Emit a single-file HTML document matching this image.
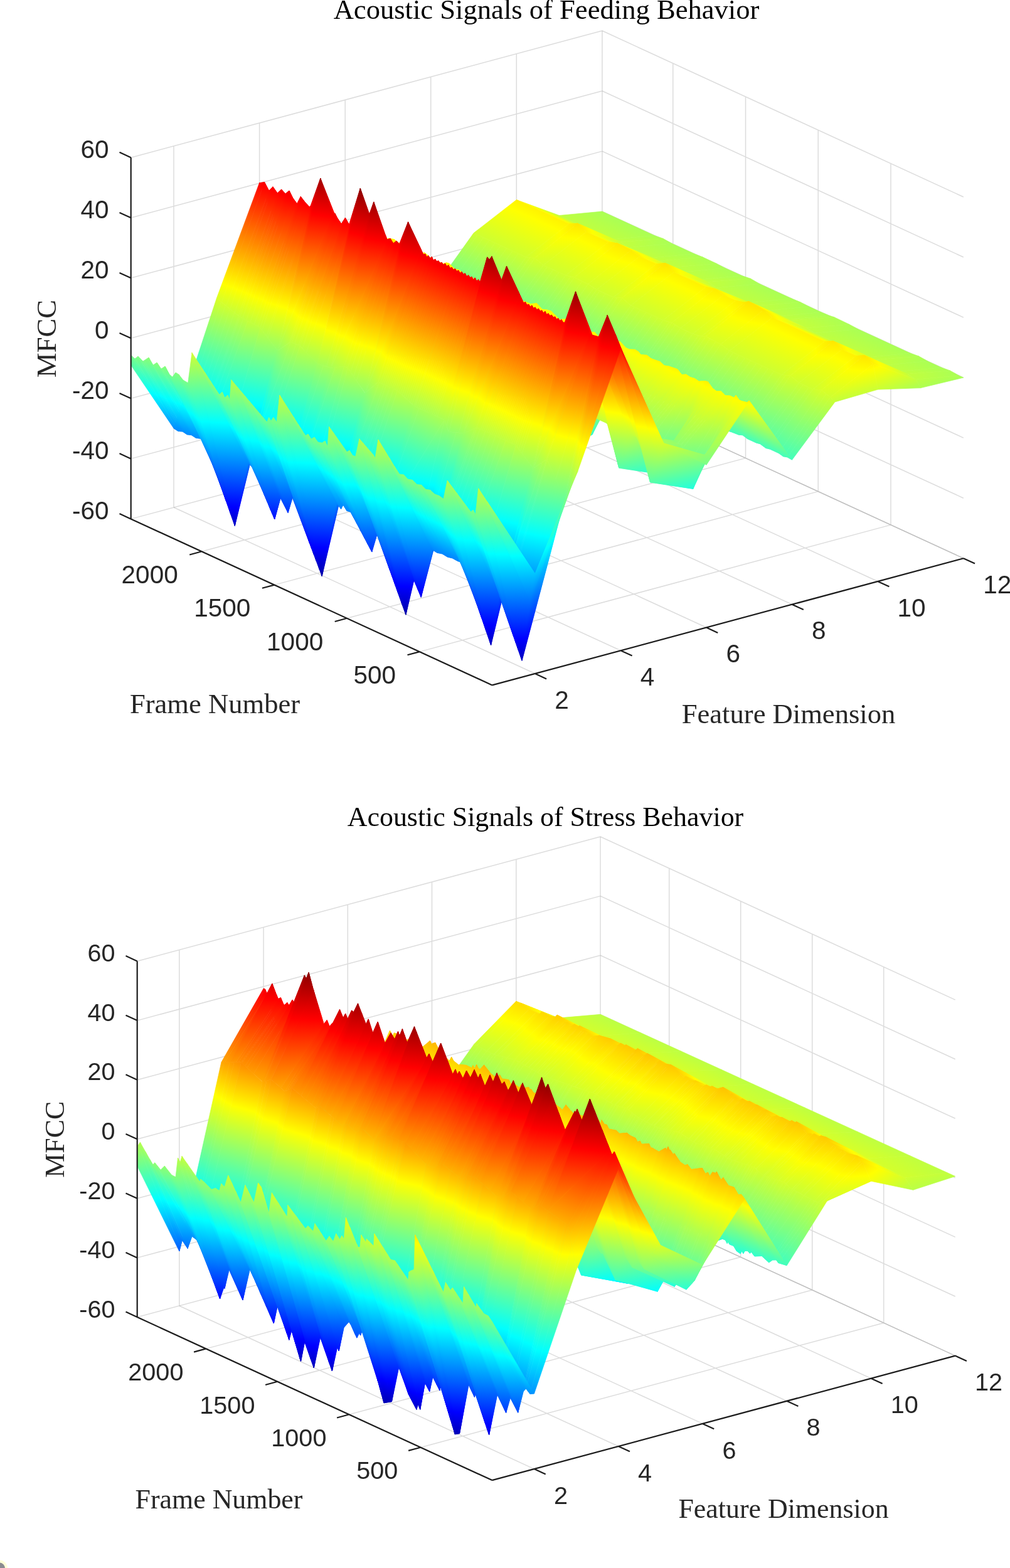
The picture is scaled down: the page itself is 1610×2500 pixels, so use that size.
<!DOCTYPE html>
<html lang="en"><head><meta charset="utf-8"><title>Acoustic Signals - MFCC surfaces</title>
<style>html,body{margin:0;padding:0;background:#fff}body{width:1610px;height:2500px;overflow:hidden}svg{display:block}</style></head><body>
<svg width="1610" height="2500" viewBox="0 0 1610 2500">
<rect width="1610" height="2500" fill="#fff"/>
<path d="M852.9,1074L277,809M989.5,1037.3L413.6,772.3M1126.1,1000.5L550.2,735.5M1262.6,963.7L686.7,698.7M1399.2,927L823.3,662M1535.8,890.2L959.9,625.2M668.8,1039.1L1420,836.9M553,985.8L1304.2,783.6M437.3,932.6L1188.5,730.4M321.5,879.3L1072.7,677.1" stroke="#262626" stroke-opacity="0.16" stroke-width="1.5" fill="none"/>
<path d="M277,809L277,232.8M413.6,772.3L413.6,196.1M550.2,735.5L550.2,159.3M686.7,698.7L686.7,122.5M823.3,662L823.3,85.8M959.9,625.2L959.9,49M208.7,827.4L959.9,625.2M208.7,731.4L959.9,529.2M208.7,635.3L959.9,433.1M208.7,539.3L959.9,337.1M208.7,443.3L959.9,241.1M208.7,347.2L959.9,145M208.7,251.2L959.9,49" stroke="#262626" stroke-opacity="0.16" stroke-width="1.5" fill="none"/>
<path d="M959.9,625.2L1535.8,890.2M959.9,529.2L1535.8,794.2M959.9,433.1L1535.8,698.1M959.9,337.1L1535.8,602.1M959.9,241.1L1535.8,506.1M959.9,145L1535.8,410M959.9,49L1535.8,314M1420,836.9L1420,260.7M1304.2,783.6L1304.2,207.4M1188.5,730.4L1188.5,154.2M1072.7,677.1L1072.7,100.9" stroke="#262626" stroke-opacity="0.16" stroke-width="1.5" fill="none"/>
<defs><linearGradient id="jet" gradientUnits="userSpaceOnUse"><stop offset="0%" stop-color="#000080"/><stop offset="12.5%" stop-color="#0000ff"/><stop offset="37.5%" stop-color="#00ffff"/><stop offset="62.5%" stop-color="#ffff00"/><stop offset="87.5%" stop-color="#ff0000"/><stop offset="100%" stop-color="#800000"/></linearGradient></defs><defs><linearGradient id="a0" href="#jet" x1="1347.8" y1="-467.2" x2="658.8" y2="1030.2"/><linearGradient id="a1" href="#jet" x1="1076.5" y1="-22.8" x2="967.3" y2="706.2"/><linearGradient id="a2" href="#jet" x1="2631.5" y1="-175.1" x2="-260.7" y2="840.5"/><linearGradient id="a3" href="#jet" x1="1435" y1="-427.1" x2="746" y2="1070.3"/><linearGradient id="a4" href="#jet" x1="1193.5" y1="-109.8" x2="987" y2="830.5"/><linearGradient id="a5" href="#jet" x1="1523.5" y1="-407" x2="753.9" y2="1082.2"/><linearGradient id="a6" href="#jet" x1="2012.1" y1="-545.1" x2="389.5" y2="1212.8"/><linearGradient id="a7" href="#jet" x1="1515.6" y1="-390" x2="826.6" y2="1107.4"/><linearGradient id="a8" href="#jet" x1="1201.3" y1="82.3" x2="1118.5" y2="736.8"/><linearGradient id="a9" href="#jet" x1="2879.4" y1="149.8" x2="-207.3" y2="694"/><linearGradient id="aa" href="#jet" x1="1582.4" y1="-359.3" x2="893.4" y2="1138.1"/><linearGradient id="ab" href="#jet" x1="1384.7" y1="-98.5" x2="1113.3" y2="951.3"/><linearGradient id="ac" href="#jet" x1="2145.7" y1="-483.6" x2="523.2" y2="1274.3"/><linearGradient id="ad" href="#jet" x1="1645.6" y1="-330.2" x2="956.6" y2="1167.2"/><linearGradient id="ae" href="#jet" x1="1431.9" y1="-76.7" x2="1160.6" y2="973"/><linearGradient id="af" href="#jet" x1="1327.3" y1="185.8" x2="1264.3" y2="765.4"/><linearGradient id="ag" href="#jet" x1="1800.4" y1="-323.7" x2="913.2" y2="1185.1"/><linearGradient id="ah" href="#jet" x1="2673.3" y1="-301.7" x2="239.8" y2="1190.3"/><linearGradient id="ai" href="#jet" x1="1755.5" y1="-279.6" x2="1066.5" y2="1217.8"/><linearGradient id="aj" href="#jet" x1="1484.1" y1="164.8" x2="1374.9" y2="893.7"/><linearGradient id="ak" href="#jet" x1="3039.1" y1="12.4" x2="146.9" y2="1028"/><linearGradient id="al" href="#jet" x1="1835.9" y1="-242.7" x2="1146.8" y2="1254.8"/><linearGradient id="am" href="#jet" x1="1533.9" y1="187.7" x2="1424.7" y2="916.6"/><linearGradient id="an" href="#jet" x1="3088.9" y1="35.4" x2="196.6" y2="1050.9"/><linearGradient id="ao" href="#jet" x1="1671.1" y1="1107.6" x2="1354.9" y2="191.9"/><linearGradient id="ap" href="#jet" x1="919.2" y1="306.7" x2="885.8" y2="379.2"/><linearGradient id="aq" href="#jet" x1="1585.4" y1="595.3" x2="518.1" y2="221"/><linearGradient id="ar" href="#jet" x1="917.6" y1="506.7" x2="951.8" y2="279.6"/><linearGradient id="as" href="#jet" x1="1260.4" y1="201.1" x2="765.9" y2="491.6"/><linearGradient id="at" href="#jet" x1="1006.4" y1="346.8" x2="973" y2="419.4"/><linearGradient id="au" href="#jet" x1="1639.8" y1="628" x2="586.5" y2="247.8"/><linearGradient id="av" href="#jet" x1="981.1" y1="492" x2="1014.9" y2="337.1"/><linearGradient id="aw" href="#jet" x1="1049.1" y1="366.7" x2="1015.6" y2="433.6"/><linearGradient id="ax" href="#jet" x1="1153.4" y1="281.9" x2="976.1" y2="506.2"/><linearGradient id="ay" href="#jet" x1="1086.9" y1="383.9" x2="1053.6" y2="456.4"/><linearGradient id="az" href="#jet" x1="1728.6" y1="657.9" x2="655.2" y2="286.2"/><linearGradient id="a10" href="#jet" x1="1058.2" y1="585.5" x2="1090.4" y2="334.3"/><linearGradient id="a11" href="#jet" x1="1468.1" y1="285.5" x2="861.2" y2="541.6"/><linearGradient id="a12" href="#jet" x1="1153.7" y1="414.7" x2="1120.4" y2="487.2"/><linearGradient id="a13" href="#jet" x1="1791.5" y1="700.9" x2="744.1" y2="318.3"/><linearGradient id="a14" href="#jet" x1="1139.1" y1="539.5" x2="1168.7" y2="424.1"/><linearGradient id="a15" href="#jet" x1="1287" y1="343.3" x2="1109.7" y2="567.7"/><linearGradient id="a16" href="#jet" x1="1217" y1="443.8" x2="1183.6" y2="516.3"/><linearGradient id="a17" href="#jet" x1="1838.7" y1="722.7" x2="791.4" y2="340"/><linearGradient id="a18" href="#jet" x1="1186.4" y1="561.3" x2="1215.9" y2="445.9"/><linearGradient id="a19" href="#jet" x1="1205.1" y1="641.3" x2="1236.3" y2="401.5"/><linearGradient id="a1a" href="#jet" x1="1270.6" y1="477.7" x2="1244" y2="531"/><linearGradient id="a1b" href="#jet" x1="1255.3" y1="442" x2="1205.1" y2="527.6"/><linearGradient id="a1c" href="#jet" x1="1468.9" y1="338.2" x2="1119.8" y2="628.9"/><linearGradient id="a1d" href="#jet" x1="1326.8" y1="494.3" x2="1293.5" y2="566.8"/><linearGradient id="a1e" href="#jet" x1="1992.9" y1="782.9" x2="925.6" y2="408.5"/><linearGradient id="a1f" href="#jet" x1="1325.1" y1="694.2" x2="1359.3" y2="467.2"/><linearGradient id="a1g" href="#jet" x1="1668" y1="388.7" x2="1173.5" y2="679.1"/><linearGradient id="a1h" href="#jet" x1="1407.2" y1="531.3" x2="1373.8" y2="603.8"/><linearGradient id="a1i" href="#jet" x1="2042.7" y1="805.8" x2="975.4" y2="431.4"/><linearGradient id="a1j" href="#jet" x1="1374.9" y1="717.1" x2="1409.1" y2="490.1"/><linearGradient id="a1k" href="#jet" x1="1717.8" y1="411.6" x2="1223.3" y2="702"/><linearGradient id="a1l" href="#jet" x1="1554.2" y1="961.2" x2="1339.3" y2="348.6"/><linearGradient id="a1m" href="#jet" x1="506.4" y1="1069.3" x2="1040.5" y2="-91.2"/><linearGradient id="a1n" href="#jet" x1="115.7" y1="601.6" x2="1362.3" y2="245.9"/><linearGradient id="a1o" href="#jet" x1="814.7" y1="1001.1" x2="943.1" y2="3.9"/><linearGradient id="a1p" href="#jet" x1="593.6" y1="1109.5" x2="1127.6" y2="-51.1"/><linearGradient id="a1q" href="#jet" x1="256.6" y1="940.5" x2="1379.7" y2="78.3"/><linearGradient id="a1r" href="#jet" x1="678.6" y1="1113.3" x2="1138.1" y2="-15.9"/><linearGradient id="a1s" href="#jet" x1="816.9" y1="1092.9" x2="1081.5" y2="7.4"/><linearGradient id="a1t" href="#jet" x1="674.2" y1="1146.5" x2="1208.2" y2="-14"/><linearGradient id="a1u" href="#jet" x1="295.9" y1="531.2" x2="1474.4" y2="394.6"/><linearGradient id="a1v" href="#jet" x1="970.6" y1="1051.3" x2="1072" y2="77.3"/><linearGradient id="a1w" href="#jet" x1="741" y1="1177.3" x2="1275" y2="16.7"/><linearGradient id="a1x" href="#jet" x1="496.4" y1="1100.2" x2="1482.6" y2="93.1"/><linearGradient id="a1y" href="#jet" x1="950.5" y1="1154.4" x2="1215.1" y2="68.9"/><linearGradient id="a1z" href="#jet" x1="804.2" y1="1206.4" x2="1338.3" y2="45.8"/><linearGradient id="a20" href="#jet" x1="543.7" y1="1121.9" x2="1529.8" y2="114.9"/><linearGradient id="a21" href="#jet" x1="504.2" y1="495.2" x2="1561.7" y2="517.3"/><linearGradient id="a22" href="#jet" x1="927.4" y1="1196.5" x2="1322" y2="93.2"/><linearGradient id="a23" href="#jet" x1="1084.3" y1="1157.7" x2="1257.1" y2="126.9"/><linearGradient id="a24" href="#jet" x1="914.1" y1="1256.9" x2="1448.1" y2="96.4"/><linearGradient id="a25" href="#jet" x1="523.3" y1="789.1" x2="1769.8" y2="433.5"/><linearGradient id="a26" href="#jet" x1="1222.3" y1="1188.6" x2="1350.7" y2="191.4"/><linearGradient id="a27" href="#jet" x1="994.5" y1="1293.9" x2="1528.5" y2="133.3"/><linearGradient id="a28" href="#jet" x1="573.1" y1="812" x2="1819.6" y2="456.4"/><linearGradient id="a29" href="#jet" x1="1272.1" y1="1211.5" x2="1400.4" y2="214.3"/><linearGradient id="a2a" href="#jet" x1="1445.4" y1="995.9" x2="1302.8" y2="356.2"/><linearGradient id="a2b" href="#jet" x1="536" y1="819.1" x2="904.2" y2="38.9"/><linearGradient id="a2c" href="#jet" x1="556" y1="825.1" x2="900.4" y2="40.1"/><linearGradient id="a2d" href="#jet" x1="569.1" y1="828.4" x2="906.4" y2="45.1"/><linearGradient id="a2e" href="#jet" x1="565.6" y1="828.9" x2="928.1" y2="52.8"/><linearGradient id="a2f" href="#jet" x1="537.9" y1="824.5" x2="971.8" y2="65.9"/><linearGradient id="a2g" href="#jet" x1="583.9" y1="845.3" x2="945" y2="54.9"/><linearGradient id="a2h" href="#jet" x1="637.6" y1="851.4" x2="912.7" y2="56.7"/><linearGradient id="a2i" href="#jet" x1="614.6" y1="846.8" x2="954.1" y2="68.7"/><linearGradient id="a2j" href="#jet" x1="594.6" y1="844.9" x2="994.1" y2="80.6"/><linearGradient id="a2k" href="#jet" x1="531.8" y1="812" x2="1069.7" y2="121.3"/><linearGradient id="a2l" href="#jet" x1="635.9" y1="858.6" x2="982.8" y2="84"/><linearGradient id="a2m" href="#jet" x1="680.5" y1="868.5" x2="962.6" y2="83.5"/><linearGradient id="a2n" href="#jet" x1="615.1" y1="861.5" x2="1045.6" y2="98.7"/><linearGradient id="a2o" href="#jet" x1="697.7" y1="881.4" x2="982" y2="86.5"/><linearGradient id="a2p" href="#jet" x1="655.6" y1="873.6" x2="1041.2" y2="102"/><linearGradient id="a2q" href="#jet" x1="677.5" y1="883.1" x2="1039.3" y2="102"/><linearGradient id="a2r" href="#jet" x1="641.5" y1="870.4" x2="1090.8" y2="123"/><linearGradient id="a2s" href="#jet" x1="696.8" y1="888.1" x2="1050.7" y2="112.9"/><linearGradient id="a2t" href="#jet" x1="684.9" y1="887" x2="1079.2" y2="122.7"/><linearGradient id="a2u" href="#jet" x1="749.9" y1="904.5" x2="1039.1" y2="115.7"/><linearGradient id="a2v" href="#jet" x1="724.8" y1="903.8" x2="1081.7" y2="124.2"/><linearGradient id="a2w" href="#jet" x1="789.3" y1="915.4" x2="1034.4" y2="118.9"/><linearGradient id="a2x" href="#jet" x1="772.7" y1="914.2" x2="1060.3" y2="123.5"/><linearGradient id="a2y" href="#jet" x1="747.1" y1="910.2" x2="1099.1" y2="133.3"/><linearGradient id="a2z" href="#jet" x1="739.7" y1="911.9" x2="1127.4" y2="141.9"/><linearGradient id="a30" href="#jet" x1="742.3" y1="912.6" x2="1141.9" y2="150"/><linearGradient id="a31" href="#jet" x1="718.1" y1="894.9" x2="1176.5" y2="173.9"/><linearGradient id="a32" href="#jet" x1="825.3" y1="932.4" x2="1096.7" y2="148"/><linearGradient id="a33" href="#jet" x1="736.7" y1="918.5" x2="1201.2" y2="169.7"/><linearGradient id="a34" href="#jet" x1="808.4" y1="946.3" x2="1147" y2="150.2"/><linearGradient id="a35" href="#jet" x1="798.9" y1="945.8" x2="1174.2" y2="158.9"/><linearGradient id="a36" href="#jet" x1="867.3" y1="953.8" x2="1128" y2="158.9"/><linearGradient id="a37" href="#jet" x1="776.9" y1="933.1" x2="1232.8" y2="187.1"/><linearGradient id="a38" href="#jet" x1="863.2" y1="963" x2="1167" y2="166.8"/><linearGradient id="a39" href="#jet" x1="831.9" y1="953.9" x2="1215.4" y2="183.7"/><linearGradient id="a3a" href="#jet" x1="818.4" y1="946.8" x2="1241" y2="197.1"/><linearGradient id="a3b" href="#jet" x1="895.1" y1="966.9" x2="1177.2" y2="182"/><linearGradient id="a3c" href="#jet" x1="871.7" y1="967.6" x2="1213.8" y2="187.1"/><linearGradient id="a3d" href="#jet" x1="896.7" y1="974.9" x2="1208.6" y2="188.1"/><linearGradient id="a3e" href="#jet" x1="858.7" y1="967.1" x2="1264.3" y2="204.4"/><linearGradient id="a3f" href="#jet" x1="851.2" y1="967.5" x2="1287.8" y2="213.1"/><linearGradient id="a3g" href="#jet" x1="914.2" y1="985.7" x2="1240.6" y2="202.3"/><linearGradient id="a3h" href="#jet" x1="860.6" y1="962.4" x2="1302.1" y2="230.2"/><linearGradient id="a3i" href="#jet" x1="933.2" y1="984.8" x2="1246.2" y2="215.4"/><linearGradient id="a3j" href="#jet" x1="906.3" y1="981.7" x2="1287" y2="225.5"/><linearGradient id="a3k" href="#jet" x1="953.3" y1="997.1" x2="1259.4" y2="218.6"/><linearGradient id="a3l" href="#jet" x1="969.8" y1="1005.1" x2="1266.5" y2="219.8"/><linearGradient id="a3m" href="#jet" x1="909.5" y1="997.1" x2="1344.1" y2="236"/><linearGradient id="a3n" href="#jet" x1="964.6" y1="1016.9" x2="1306" y2="224.2"/><linearGradient id="a3o" href="#jet" x1="1003.1" y1="1020.4" x2="1288.4" y2="228.4"/><linearGradient id="a3p" href="#jet" x1="934.6" y1="1004.8" x2="1372.2" y2="251.8"/><linearGradient id="a3q" href="#jet" x1="1015.4" y1="1029.5" x2="1312.6" y2="236.6"/><linearGradient id="a3r" href="#jet" x1="952.2" y1="1015.1" x2="1391.1" y2="258.9"/><linearGradient id="a3s" href="#jet" x1="1057.3" y1="1038.5" x2="1308.8" y2="244.6"/><linearGradient id="a3t" href="#jet" x1="994.4" y1="1027.2" x2="1388.3" y2="263.3"/><linearGradient id="a3u" href="#jet" x1="1014.1" y1="1038.3" x2="1389.7" y2="262.7"/><linearGradient id="a3v" href="#jet" x1="936.1" y1="997" x2="1480.3" y2="311.3"/><linearGradient id="a3w" href="#jet" x1="1045.9" y1="1046.8" x2="1388" y2="270.9"/><linearGradient id="a3x" href="#jet" x1="1088.1" y1="1056" x2="1370.2" y2="271.1"/><linearGradient id="a3y" href="#jet" x1="1037.9" y1="1053.8" x2="1438.8" y2="281.6"/><linearGradient id="a3z" href="#jet" x1="1097.6" y1="1067.3" x2="1397.2" y2="275.4"/><linearGradient id="a40" href="#jet" x1="1051.7" y1="1056.9" x2="1457" y2="292.3"/><linearGradient id="a41" href="#jet" x1="1049.5" y1="1053" x2="1476.8" y2="306.2"/><linearGradient id="a42" href="#jet" x1="1153.9" y1="1074.9" x2="1398.3" y2="295"/><linearGradient id="a43" href="#jet" x1="1121.2" y1="1078.2" x2="1444.2" y2="297.2"/><linearGradient id="a44" href="#jet" x1="1181.9" y1="1089.9" x2="1400.7" y2="291.2"/><linearGradient id="a45" href="#jet" x1="595.7" y1="581.3" x2="707.7" y2="288.8"/><linearGradient id="a46" href="#jet" x1="599.2" y1="580.9" x2="713.5" y2="292.7"/><linearGradient id="a47" href="#jet" x1="602.6" y1="541.4" x2="719.3" y2="331.2"/><linearGradient id="a48" href="#jet" x1="865.9" y1="686.4" x2="497.3" y2="209.1"/><linearGradient id="a49" href="#jet" x1="614.3" y1="602.1" x2="723.3" y2="285.3"/><linearGradient id="a4a" href="#jet" x1="868.6" y1="690.2" x2="511.4" y2="212.9"/><linearGradient id="a4b" href="#jet" x1="866.5" y1="690.7" x2="512.6" y2="211.8"/><linearGradient id="a4c" href="#jet" x1="636" y1="579.2" x2="749" y2="328"/><linearGradient id="a4d" href="#jet" x1="867.3" y1="688.5" x2="514" y2="216.5"/><linearGradient id="a4e" href="#jet" x1="624.8" y1="570.9" x2="738" y2="326"/><linearGradient id="a4f" href="#jet" x1="630.8" y1="594" x2="739.2" y2="308.4"/><linearGradient id="a4g" href="#jet" x1="636.2" y1="595.9" x2="742.8" y2="310"/><linearGradient id="a4h" href="#jet" x1="906.6" y1="695.6" x2="512.7" y2="225.3"/><linearGradient id="a4i" href="#jet" x1="644.7" y1="607.3" x2="749.1" y2="305.3"/><linearGradient id="a4j" href="#jet" x1="651.2" y1="623" x2="750.7" y2="294.4"/><linearGradient id="a4k" href="#jet" x1="652.8" y1="625.9" x2="755.6" y2="294.4"/><linearGradient id="a4l" href="#jet" x1="654" y1="535.6" x2="763.3" y2="376.5"/><linearGradient id="a4m" href="#jet" x1="652.7" y1="566.1" x2="771.2" y2="354.4"/><linearGradient id="a4n" href="#jet" x1="658.9" y1="564.7" x2="775" y2="361"/><linearGradient id="a4o" href="#jet" x1="920.7" y1="712.3" x2="551.2" y2="235"/><linearGradient id="a4p" href="#jet" x1="669.6" y1="619.1" x2="779.8" y2="320"/><linearGradient id="a4q" href="#jet" x1="673.1" y1="609.5" x2="786.8" y2="332.3"/><linearGradient id="a4r" href="#jet" x1="679.5" y1="620.3" x2="789.2" y2="326.1"/><linearGradient id="a4s" href="#jet" x1="692.5" y1="653.9" x2="783.5" y2="299"/><linearGradient id="a4t" href="#jet" x1="691.5" y1="649.6" x2="788.9" y2="304.2"/><linearGradient id="a4u" href="#jet" x1="683.8" y1="608.6" x2="802.4" y2="342.3"/><linearGradient id="a4v" href="#jet" x1="691.1" y1="588" x2="809.1" y2="367.1"/><linearGradient id="a4w" href="#jet" x1="701" y1="626.5" x2="813.8" y2="340.7"/><linearGradient id="a4x" href="#jet" x1="707.1" y1="641.9" x2="815.2" y2="329.9"/><linearGradient id="a4y" href="#jet" x1="708.8" y1="631.8" x2="819.6" y2="341.2"/><linearGradient id="a4z" href="#jet" x1="975.7" y1="732.6" x2="594.4" y2="257.6"/><linearGradient id="a50" href="#jet" x1="719.8" y1="574.7" x2="826.1" y2="401"/><linearGradient id="a51" href="#jet" x1="982.3" y1="736.2" x2="600.8" y2="262.3"/><linearGradient id="a52" href="#jet" x1="728.1" y1="651.8" x2="832.9" y2="339.6"/><linearGradient id="a53" href="#jet" x1="988" y1="740.6" x2="613.4" y2="264.8"/><linearGradient id="a54" href="#jet" x1="731.1" y1="604.6" x2="844.3" y2="387.1"/><linearGradient id="a55" href="#jet" x1="738.6" y1="645.1" x2="847.7" y2="356.3"/><linearGradient id="a56" href="#jet" x1="743.6" y1="652.9" x2="851.8" y2="352.6"/><linearGradient id="a57" href="#jet" x1="751.3" y1="671.5" x2="852.2" y2="338.9"/><linearGradient id="a58" href="#jet" x1="1004.9" y1="750.5" x2="638.1" y2="272.4"/><linearGradient id="a59" href="#jet" x1="747" y1="629.3" x2="865.3" y2="379.1"/><linearGradient id="a5a" href="#jet" x1="755.5" y1="638.8" x2="871.3" y2="377.3"/><linearGradient id="a5b" href="#jet" x1="764.2" y1="648.3" x2="875.4" y2="374.7"/><linearGradient id="a5c" href="#jet" x1="787.7" y1="713.3" x2="861.2" y2="320.9"/><linearGradient id="a5d" href="#jet" x1="771.7" y1="598.8" x2="883.5" y2="423"/><linearGradient id="a5e" href="#jet" x1="777.5" y1="648.8" x2="892.9" y2="387.6"/><linearGradient id="a5f" href="#jet" x1="801.7" y1="569.7" x2="885.4" y2="463.9"/><linearGradient id="a5g" href="#jet" x1="1053.3" y1="767.7" x2="669.8" y2="294.4"/><linearGradient id="a5h" href="#jet" x1="791.5" y1="645.1" x2="904.7" y2="404.7"/><linearGradient id="a5i" href="#jet" x1="794.9" y1="658.3" x2="908.3" y2="396.2"/><linearGradient id="a5j" href="#jet" x1="798.9" y1="655.5" x2="913.4" y2="402.6"/><linearGradient id="a5k" href="#jet" x1="1062.7" y1="775.2" x2="687.3" y2="299.9"/><linearGradient id="a5l" href="#jet" x1="808.8" y1="682.1" x2="918.5" y2="384.8"/><linearGradient id="a5m" href="#jet" x1="812.1" y1="670.6" x2="926.1" y2="399"/><linearGradient id="a5n" href="#jet" x1="815.6" y1="657.5" x2="931.7" y2="414.2"/><linearGradient id="a5o" href="#jet" x1="1077.3" y1="784.2" x2="709.4" y2="306.4"/><linearGradient id="a5p" href="#jet" x1="826.8" y1="705" x2="931.5" y2="376.8"/><linearGradient id="a5q" href="#jet" x1="830.7" y1="710.6" x2="935.1" y2="374.3"/><linearGradient id="a5r" href="#jet" x1="830.1" y1="653.5" x2="948.7" y2="429.8"/><linearGradient id="a5s" href="#jet" x1="841.4" y1="696.7" x2="952.4" y2="399.4"/><linearGradient id="a5t" href="#jet" x1="849.3" y1="717.1" x2="951.7" y2="384"/><linearGradient id="a5u" href="#jet" x1="850.3" y1="711.2" x2="955.8" y2="390.8"/><linearGradient id="a5v" href="#jet" x1="848.2" y1="683.1" x2="963.8" y2="417.2"/><linearGradient id="a5w" href="#jet" x1="854.7" y1="645.8" x2="967.2" y2="454"/><linearGradient id="a5x" href="#jet" x1="1121.2" y1="800.2" x2="744.1" y2="325"/><linearGradient id="a5y" href="#jet" x1="863.1" y1="666.5" x2="974.7" y2="444.9"/><linearGradient id="a5z" href="#jet" x1="873.9" y1="719.5" x2="973.1" y2="402.9"/><linearGradient id="a60" href="#jet" x1="875.7" y1="722.8" x2="977.9" y2="402.7"/><linearGradient id="a61" href="#jet" x1="874.4" y1="710.7" x2="987.7" y2="417.2"/><linearGradient id="a62" href="#jet" x1="882.8" y1="734.6" x2="986.6" y2="398.9"/><linearGradient id="a63" href="#jet" x1="885" y1="727.1" x2="992.8" y2="407.9"/><linearGradient id="a64" href="#jet" x1="1143.8" y1="814.3" x2="778.7" y2="336"/><linearGradient id="a65" href="#jet" x1="889.2" y1="661.9" x2="1003.7" y2="470.5"/><linearGradient id="a66" href="#jet" x1="894.9" y1="674.8" x2="1010.6" y2="466.5"/><linearGradient id="a67" href="#jet" x1="900.9" y1="716.8" x2="1014.8" y2="434.7"/><linearGradient id="a68" href="#jet" x1="906" y1="726.1" x2="1018.7" y2="430"/><linearGradient id="a69" href="#jet" x1="909.2" y1="675.6" x2="1024.7" y2="477.9"/><linearGradient id="a6a" href="#jet" x1="913.1" y1="706" x2="1030.2" y2="456.3"/><linearGradient id="a6b" href="#jet" x1="921.3" y1="737.6" x2="1030.9" y2="432.2"/><linearGradient id="a6c" href="#jet" x1="927.6" y1="668.7" x2="1036.2" y2="497.9"/><linearGradient id="a6d" href="#jet" x1="929.6" y1="702.6" x2="1044.4" y2="474.4"/><linearGradient id="a6e" href="#jet" x1="934.3" y1="730.2" x2="1046.7" y2="453"/><linearGradient id="a6f" href="#jet" x1="943.2" y1="753.8" x2="1047.4" y2="435.3"/><linearGradient id="a6g" href="#jet" x1="1201.1" y1="839.4" x2="829.6" y2="363"/><linearGradient id="a6h" href="#jet" x1="942.9" y1="723.7" x2="1058" y2="465.3"/><linearGradient id="a6i" href="#jet" x1="946.9" y1="725.4" x2="1061" y2="466.8"/><linearGradient id="a6j" href="#jet" x1="954.1" y1="755.8" x2="1058.9" y2="442.1"/><linearGradient id="a6k" href="#jet" x1="954.2" y1="750.3" x2="1064.2" y2="449.1"/><linearGradient id="a6l" href="#jet" x1="959.4" y1="758.8" x2="1070.4" y2="446"/><linearGradient id="a6m" href="#jet" x1="963.1" y1="699.8" x2="1080.1" y2="502.9"/><linearGradient id="a6n" href="#jet" x1="968.8" y1="742.7" x2="1084.3" y2="471.4"/><linearGradient id="a6o" href="#jet" x1="974.2" y1="748.6" x2="1086.9" y2="469.6"/><linearGradient id="a6p" href="#jet" x1="981.8" y1="769.7" x2="1086.5" y2="453.7"/><linearGradient id="a6q" href="#jet" x1="982.6" y1="762.2" x2="1094.2" y2="463.5"/><linearGradient id="a6r" href="#jet" x1="984.6" y1="733.4" x2="1104.1" y2="493.5"/><linearGradient id="a6s" href="#jet" x1="990.6" y1="729.7" x2="1108" y2="501.7"/><linearGradient id="a6t" href="#jet" x1="998.8" y1="770.4" x2="1109.4" y2="470.6"/><linearGradient id="a6u" href="#jet" x1="1005.9" y1="784.7" x2="1111.6" y2="461.2"/><linearGradient id="a6v" href="#jet" x1="1263.2" y1="869.2" x2="897.3" y2="391"/><linearGradient id="a6w" href="#jet" x1="1007.4" y1="724.3" x2="1122.3" y2="518.3"/><linearGradient id="a6x" href="#jet" x1="1011.7" y1="753.8" x2="1127.4" y2="497.6"/><linearGradient id="a6y" href="#jet" x1="1014.4" y1="748.4" x2="1131.7" y2="505.5"/><linearGradient id="a6z" href="#jet" x1="1018" y1="754.4" x2="1137.4" y2="504.7"/><linearGradient id="a70" href="#jet" x1="1025.4" y1="789" x2="1137.6" y2="478"/><linearGradient id="a71" href="#jet" x1="1028.7" y1="779.5" x2="1142.2" y2="489.7"/><linearGradient id="a72" href="#jet" x1="1037.8" y1="795.7" x2="1141.9" y2="479.1"/><linearGradient id="a73" href="#jet" x1="1036" y1="776.5" x2="1149.9" y2="498.5"/><linearGradient id="a74" href="#jet" x1="1038.1" y1="765.9" x2="1156.7" y2="511.7"/><linearGradient id="a75" href="#jet" x1="1045.6" y1="797.2" x2="1156.6" y2="487.4"/><linearGradient id="a76" href="#jet" x1="1050.2" y1="796.8" x2="1160.8" y2="490.7"/><linearGradient id="a77" href="#jet" x1="1310.5" y1="891.1" x2="945.1" y2="412.7"/><linearGradient id="a78" href="#jet" x1="1313.1" y1="887.2" x2="948.9" y2="422.5"/><linearGradient id="a79" href="#jet" x1="1307.7" y1="887" x2="950.1" y2="418.8"/><linearGradient id="a7a" href="#jet" x1="1317.6" y1="895.3" x2="948.5" y2="417.6"/><linearGradient id="a7b" href="#jet" x1="1069.3" y1="818" x2="1173.4" y2="487.8"/><linearGradient id="a7c" href="#jet" x1="1066.5" y1="783.5" x2="1184.2" y2="521"/><linearGradient id="a7d" href="#jet" x1="1070.1" y1="775.8" x2="1187.6" y2="530.8"/><linearGradient id="a7e" href="#jet" x1="1077" y1="797.8" x2="1191.2" y2="515.9"/><linearGradient id="a7f" href="#jet" x1="1079.6" y1="778.4" x2="1197" y2="536.1"/><linearGradient id="a7g" href="#jet" x1="1085.9" y1="803.8" x2="1197.6" y2="516.8"/><linearGradient id="a7h" href="#jet" x1="1096.1" y1="830.2" x2="1194.5" y2="496.3"/><linearGradient id="a7i" href="#jet" x1="1095" y1="820.3" x2="1203.8" y2="508.1"/><linearGradient id="a7j" href="#jet" x1="1096.7" y1="811.5" x2="1213.9" y2="520.4"/><linearGradient id="a7k" href="#jet" x1="1118.3" y1="800.9" x2="1234" y2="549.6"/><linearGradient id="a7l" href="#jet" x1="1350.9" y1="913.5" x2="1002.3" y2="437"/><linearGradient id="a7m" href="#jet" x1="1107.6" y1="780.5" x2="1222.5" y2="558"/><linearGradient id="a7n" href="#jet" x1="1113.5" y1="798.2" x2="1226.6" y2="547.3"/><linearGradient id="a7o" href="#jet" x1="1122.3" y1="832.8" x2="1224.7" y2="519.7"/><linearGradient id="a7p" href="#jet" x1="1122.5" y1="827" x2="1230.9" y2="527.3"/><linearGradient id="a7q" href="#jet" x1="1129.4" y1="751.4" x2="1233.7" y2="597.7"/><linearGradient id="a7r" href="#jet" x1="1128.1" y1="811.2" x2="1241.7" y2="549.5"/><linearGradient id="a7s" href="#jet" x1="1136.5" y1="840.1" x2="1240.3" y2="526.7"/><linearGradient id="a7t" href="#jet" x1="1138" y1="835.5" x2="1245.9" y2="533.1"/><linearGradient id="a7u" href="#jet" x1="1139.2" y1="808.3" x2="1254.9" y2="561.2"/><linearGradient id="a7v" href="#jet" x1="1174.4" y1="902.3" x2="1232.6" y2="482.8"/><linearGradient id="a7w" href="#jet" x1="1404.7" y1="931.5" x2="1040.4" y2="462"/><linearGradient id="a7x" href="#jet" x1="1397.5" y1="933.5" x2="1044.9" y2="458.2"/><linearGradient id="a7y" href="#jet" x1="1150.3" y1="808.4" x2="1267.6" y2="572"/><linearGradient id="a7z" href="#jet" x1="1155.5" y1="840.2" x2="1268" y2="546.6"/><linearGradient id="a80" href="#jet" x1="1160.2" y1="848" x2="1269.7" y2="541.9"/><linearGradient id="a81" href="#jet" x1="1160.9" y1="831.2" x2="1276.8" y2="559.5"/><linearGradient id="a82" href="#jet" x1="1184.6" y1="898.1" x2="1262.9" y2="504.1"/><linearGradient id="a83" href="#jet" x1="317.3" y1="890.1" x2="791.8" y2="73.8"/><linearGradient id="a84" href="#jet" x1="436.4" y1="911.4" x2="717.5" y2="64.7"/><linearGradient id="a85" href="#jet" x1="302.8" y1="880.6" x2="828.7" y2="93.4"/><linearGradient id="a86" href="#jet" x1="540.1" y1="900.9" x2="664.8" y2="83.1"/><linearGradient id="a87" href="#jet" x1="396.2" y1="935.2" x2="787" y2="61.3"/><linearGradient id="a88" href="#jet" x1="394" y1="937.3" x2="800.9" y2="65.3"/><linearGradient id="a89" href="#jet" x1="326.2" y1="910.2" x2="863.3" y2="92.1"/><linearGradient id="a8a" href="#jet" x1="321.8" y1="889.4" x2="875.6" y2="114.6"/><linearGradient id="a8b" href="#jet" x1="486.3" y1="931.1" x2="764.8" y2="89.5"/><linearGradient id="a8c" href="#jet" x1="507.6" y1="940.8" x2="762.2" y2="86.6"/><linearGradient id="a8d" href="#jet" x1="444" y1="942.7" x2="823" y2="90.1"/><linearGradient id="a8e" href="#jet" x1="681" y1="852.3" x2="657.5" y2="162.1"/><linearGradient id="a8f" href="#jet" x1="671.4" y1="847.9" x2="677.8" y2="167.9"/><linearGradient id="a8g" href="#jet" x1="662.7" y1="846.5" x2="694.5" y2="170.9"/><linearGradient id="a8h" href="#jet" x1="587" y1="892.4" x2="782.1" y2="146.5"/><linearGradient id="a8i" href="#jet" x1="744" y1="568" x2="603.1" y2="453.1"/><linearGradient id="a8j" href="#jet" x1="397.6" y1="894.9" x2="924.5" y2="154.7"/><linearGradient id="a8k" href="#jet" x1="775.8" y1="617.8" x2="599.2" y2="390.9"/><linearGradient id="a8l" href="#jet" x1="632.2" y1="944" x2="765.2" y2="124.8"/><linearGradient id="a8m" href="#jet" x1="783.4" y1="648.9" x2="609.3" y2="358"/><linearGradient id="a8n" href="#jet" x1="582.8" y1="960.6" x2="792.7" y2="111.4"/><linearGradient id="a8o" href="#jet" x1="518.6" y1="977.2" x2="852.7" y2="102.8"/><linearGradient id="a8p" href="#jet" x1="409" y1="949.1" x2="947.2" y2="130"/><linearGradient id="a8q" href="#jet" x1="553.2" y1="979.1" x2="850.5" y2="113.2"/><linearGradient id="a8r" href="#jet" x1="717.6" y1="908.8" x2="741.2" y2="170.5"/><linearGradient id="a8s" href="#jet" x1="708.2" y1="901.4" x2="761.8" y2="179.1"/><linearGradient id="a8t" href="#jet" x1="703.4" y1="896.9" x2="775" y2="184.8"/><linearGradient id="a8u" href="#jet" x1="577.7" y1="896.4" x2="895.9" y2="190.2"/><linearGradient id="a8v" href="#jet" x1="544.1" y1="888.3" x2="935.5" y2="202.6"/><linearGradient id="a8w" href="#jet" x1="453.3" y1="782.4" x2="1015.6" y2="295"/><linearGradient id="a8x" href="#jet" x1="586.7" y1="909.1" x2="910.6" y2="193.3"/><linearGradient id="a8y" href="#jet" x1="634" y1="957.8" x2="891.7" y2="168.9"/><linearGradient id="a8z" href="#jet" x1="637.5" y1="505.8" x2="866.4" y2="560.5"/><linearGradient id="a90" href="#jet" x1="682.5" y1="965.7" x2="854.1" y2="164.9"/><linearGradient id="a91" href="#jet" x1="505.3" y1="997" x2="1000.1" y2="151.4"/><linearGradient id="a92" href="#jet" x1="436.4" y1="940.7" x2="1047.8" y2="189.2"/><linearGradient id="a93" href="#jet" x1="535" y1="1004.7" x2="977.5" y2="145.2"/><linearGradient id="a94" href="#jet" x1="555.7" y1="1008.8" x2="970.7" y2="146.5"/><linearGradient id="a95" href="#jet" x1="520.7" y1="995.7" x2="1008.5" y2="162.5"/><linearGradient id="a96" href="#jet" x1="828" y1="908.3" x2="790.3" y2="232.3"/><linearGradient id="a97" href="#jet" x1="817" y1="905.8" x2="811.4" y2="236.3"/><linearGradient id="a98" href="#jet" x1="809.6" y1="904.2" x2="826.9" y2="239.5"/><linearGradient id="a99" href="#jet" x1="734" y1="950.4" x2="916.6" y2="214.5"/><linearGradient id="a9a" href="#jet" x1="897.5" y1="656.2" x2="725.9" y2="499.8"/><linearGradient id="a9b" href="#jet" x1="517.5" y1="928.8" x2="1078.3" y2="239.6"/><linearGradient id="a9c" href="#jet" x1="921.3" y1="705.3" x2="731.5" y2="436.8"/><linearGradient id="a9d" href="#jet" x1="556.8" y1="995.6" x2="1051.3" y2="198.1"/><linearGradient id="a9e" href="#jet" x1="925.8" y1="731.7" x2="745.2" y2="407.3"/><linearGradient id="a9f" href="#jet" x1="593.7" y1="1008" x2="1025.5" y2="189.5"/><linearGradient id="a9g" href="#jet" x1="712.1" y1="1023.7" x2="948.5" y2="182"/><linearGradient id="a9h" href="#jet" x1="713.8" y1="1036.8" x2="960.7" y2="176.2"/><linearGradient id="a9i" href="#jet" x1="542.2" y1="1006" x2="1102" y2="205.1"/><linearGradient id="a9j" href="#jet" x1="584.5" y1="1012.7" x2="1079.9" y2="206.8"/><linearGradient id="a9k" href="#jet" x1="631.6" y1="1023.9" x2="1055.8" y2="204.7"/><linearGradient id="a9l" href="#jet" x1="698.3" y1="1035.9" x2="1014.8" y2="199.8"/><linearGradient id="a9m" href="#jet" x1="851.5" y1="996" x2="907.9" y2="230.9"/><linearGradient id="a9n" href="#jet" x1="854.2" y1="989.4" x2="914.8" y2="237"/><linearGradient id="a9o" href="#jet" x1="841.4" y1="985" x2="939.4" y2="243.2"/><linearGradient id="a9p" href="#jet" x1="767.7" y1="1019.3" x2="1025.3" y2="230.4"/><linearGradient id="a9q" href="#jet" x1="771.1" y1="567.3" x2="1000" y2="621.9"/><linearGradient id="a9r" href="#jet" x1="536.6" y1="867.4" x2="1203.7" y2="350.7"/><linearGradient id="a9s" href="#jet" x1="854.4" y1="1047" x2="979.7" y2="222.3"/><linearGradient id="a9t" href="#jet" x1="605" y1="993" x2="1148.9" y2="257.9"/><linearGradient id="a9u" href="#jet" x1="802.8" y1="1062.7" x2="1007.8" y2="209.1"/><linearGradient id="a9v" href="#jet" x1="696.3" y1="1071.2" x2="1096.3" y2="206"/><linearGradient id="a9w" href="#jet" x1="623.1" y1="1047.8" x2="1158.6" y2="227.1"/><linearGradient id="a9x" href="#jet" x1="898.8" y1="1021.4" x2="956.8" y2="248.9"/><linearGradient id="a9y" href="#jet" x1="896.5" y1="1013.8" x2="967.4" y2="256.7"/><linearGradient id="a9z" href="#jet" x1="894.7" y1="1010.1" x2="975.7" y2="260.7"/><linearGradient id="aa0" href="#jet" x1="887.7" y1="1005.5" x2="990.8" y2="266.6"/><linearGradient id="aa1" href="#jet" x1="973.8" y1="952.4" x2="930.6" y2="313.2"/><linearGradient id="aa2" href="#jet" x1="811" y1="964.9" x2="1098.1" y2="306.8"/><linearGradient id="aa3" href="#jet" x1="763" y1="945.4" x2="1154.7" y2="331.9"/><linearGradient id="aa4" href="#jet" x1="725.5" y1="910.9" x2="1196.8" y2="369.9"/><linearGradient id="aa5" href="#jet" x1="834.8" y1="1011.9" x2="1110.7" y2="292.6"/><linearGradient id="aa6" href="#jet" x1="796.1" y1="986.3" x2="1137.1" y2="309.4"/><linearGradient id="aa7" href="#jet" x1="905.9" y1="1036" x2="1064.3" y2="279.8"/><linearGradient id="aa8" href="#jet" x1="771.6" y1="997" x2="1159.7" y2="306.3"/><linearGradient id="aa9" href="#jet" x1="630" y1="1004.4" x2="1263.7" y2="312.1"/><linearGradient id="aaa" href="#jet" x1="1049.7" y1="702.1" x2="918.9" y2="568"/><linearGradient id="aab" href="#jet" x1="831.1" y1="1094.8" x2="1126.2" y2="252"/><linearGradient id="aac" href="#jet" x1="768.2" y1="1091.9" x2="1185.5" y2="259.4"/><linearGradient id="aad" href="#jet" x1="773.7" y1="1092.1" x2="1193" y2="265.1"/><linearGradient id="aae" href="#jet" x1="872.3" y1="1106.1" x2="1132.3" y2="259.8"/><linearGradient id="aaf" href="#jet" x1="754" y1="1093.5" x2="1233" y2="274.6"/><linearGradient id="aag" href="#jet" x1="791.2" y1="1101.1" x2="1216.4" y2="275.1"/><linearGradient id="aah" href="#jet" x1="804.7" y1="1103.2" x2="1217.9" y2="279.5"/><linearGradient id="aai" href="#jet" x1="949.4" y1="1110.9" x2="1123.5" y2="278.3"/><linearGradient id="aaj" href="#jet" x1="743.4" y1="1092.4" x2="1290.3" y2="297.4"/><linearGradient id="aak" href="#jet" x1="875.9" y1="1127.1" x2="1202.5" y2="277.5"/><linearGradient id="aal" href="#jet" x1="815.7" y1="1119.9" x2="1257.5" y2="287.2"/><linearGradient id="aam" href="#jet" x1="1095.7" y1="1040.5" x2="1054" y2="348.6"/><linearGradient id="aan" href="#jet" x1="1085.8" y1="1039.7" x2="1069.2" y2="350.2"/><linearGradient id="aao" href="#jet" x1="1074.2" y1="1035" x2="1093.5" y2="356.5"/><linearGradient id="aap" href="#jet" x1="887.4" y1="1021.5" x2="1267.1" y2="374.5"/><linearGradient id="aaq" href="#jet" x1="1149" y1="758.7" x2="1008.1" y2="643.7"/><linearGradient id="aar" href="#jet" x1="1072.6" y1="1065.2" x2="1134.7" y2="346.4"/><linearGradient id="aas" href="#jet" x1="1168.2" y1="777.7" x2="1004.4" y2="613"/><linearGradient id="aat" href="#jet" x1="970.3" y1="1157" x2="1218.3" y2="291.5"/><linearGradient id="aau" href="#jet" x1="1181.1" y1="793.3" x2="1011.4" y2="587.2"/><linearGradient id="aav" href="#jet" x1="808.8" y1="1127.7" x2="1339.3" y2="315.4"/><linearGradient id="aaw" href="#jet" x1="981.1" y1="1155" x2="1220.4" y2="299.8"/><linearGradient id="aax" href="#jet" x1="1149.6" y1="1064.6" x2="1099.4" y2="369.8"/><linearGradient id="aay" href="#jet" x1="1139.9" y1="1061.5" x2="1114.5" y2="373.4"/><linearGradient id="aaz" href="#jet" x1="1126.9" y1="1059.6" x2="1137.9" y2="377.1"/><linearGradient id="ab0" href="#jet" x1="1129.9" y1="1053.2" x2="1144.2" y2="384.6"/><linearGradient id="ab1" href="#jet" x1="1096.9" y1="1076.8" x2="1196.1" y2="371"/><linearGradient id="ab2" href="#jet" x1="978.8" y1="1053.2" x2="1284" y2="387.4"/><linearGradient id="ab3" href="#jet" x1="957.8" y1="1088.3" x2="1307.5" y2="368"/><linearGradient id="ab4" href="#jet" x1="1217.4" y1="806.6" x2="1051.2" y2="634.2"/><linearGradient id="ab5" href="#jet" x1="861.5" y1="1128.1" x2="1376.6" y2="350.5"/><linearGradient id="ab6" href="#jet" x1="1233.9" y1="827.7" x2="1057.3" y2="600.7"/><linearGradient id="ab7" href="#jet" x1="814.9" y1="1107" x2="1411.7" y2="368.6"/><linearGradient id="ab8" href="#jet" x1="820.9" y1="1106.8" x2="1408" y2="368"/><linearGradient id="ab9" href="#jet" x1="1206.2" y1="1049.7" x2="1122.9" y2="412"/><linearGradient id="aba" href="#jet" x1="641.7" y1="287" x2="482.3" y2="633.5"/><linearGradient id="abb" href="#jet" x1="718.9" y1="835.8" x2="483.3" y2="205"/><linearGradient id="abc" href="#jet" x1="663.7" y1="755.9" x2="579.2" y2="306.5"/><linearGradient id="abd" href="#jet" x1="731.2" y1="328.2" x2="571.8" y2="674.7"/><linearGradient id="abe" href="#jet" x1="819.9" y1="891" x2="518.4" y2="210.7"/><linearGradient id="abf" href="#jet" x1="683.7" y1="610.8" x2="691.3" y2="528.5"/><linearGradient id="abg" href="#jet" x1="731" y1="751.3" x2="685.3" y2="380.2"/><linearGradient id="abh" href="#jet" x1="811.8" y1="365.3" x2="652.4" y2="711.8"/><linearGradient id="abi" href="#jet" x1="849.6" y1="893.6" x2="628" y2="275.1"/><linearGradient id="abj" href="#jet" x1="805.5" y1="826.4" x2="714.6" y2="365.9"/><linearGradient id="abk" href="#jet" x1="878.6" y1="396" x2="719.2" y2="742.5"/><linearGradient id="abl" href="#jet" x1="1012.5" y1="983.6" x2="643.5" y2="263.9"/><linearGradient id="abm" href="#jet" x1="864.6" y1="812.7" x2="818.9" y2="441.7"/><linearGradient id="abn" href="#jet" x1="941.9" y1="425.1" x2="782.4" y2="771.6"/><linearGradient id="abo" href="#jet" x1="1059.8" y1="1005.3" x2="690.7" y2="285.6"/><linearGradient id="abp" href="#jet" x1="969.7" y1="944" x2="777.1" y2="353.1"/><linearGradient id="abq" href="#jet" x1="902.4" y1="807.3" x2="892.2" y2="545.6"/><linearGradient id="abr" href="#jet" x1="955.6" y1="880.8" x2="882.5" y2="451.9"/><linearGradient id="abs" href="#jet" x1="1051.7" y1="475.6" x2="892.3" y2="822.2"/><linearGradient id="abt" href="#jet" x1="1126.4" y1="1023.3" x2="890.8" y2="392.6"/><linearGradient id="abu" href="#jet" x1="1071.3" y1="943.5" x2="986.8" y2="494"/><linearGradient id="abv" href="#jet" x1="1132.1" y1="512.6" x2="972.6" y2="859.2"/><linearGradient id="abw" href="#jet" x1="1176.2" y1="1046.2" x2="940.6" y2="415.5"/><linearGradient id="abx" href="#jet" x1="1121.1" y1="966.4" x2="1036.6" y2="516.9"/><linearGradient id="aby" href="#jet" x1="1224.6" y1="1032.2" x2="994.2" y2="452.2"/><linearGradient id="abz" href="#jet" x1="1126.3" y1="966.7" x2="1040.6" y2="515.1"/><linearGradient id="ac0" href="#jet" x1="607.2" y1="744.4" x2="386.7" y2="227.6"/><linearGradient id="ac1" href="#jet" x1="348.3" y1="648.6" x2="491.8" y2="266.6"/><linearGradient id="ac2" href="#jet" x1="339.1" y1="596.6" x2="505.9" y2="292"/><linearGradient id="ac3" href="#jet" x1="383.9" y1="687.9" x2="497.9" y2="261.1"/><linearGradient id="ac4" href="#jet" x1="351.8" y1="599.1" x2="519.5" y2="299.4"/><linearGradient id="ac5" href="#jet" x1="395.3" y1="692.5" x2="512" y2="267.5"/><linearGradient id="ac6" href="#jet" x1="364.6" y1="613.1" x2="532.1" y2="301.3"/><linearGradient id="ac7" href="#jet" x1="403.1" y1="694.3" x2="525.7" y2="274"/><linearGradient id="ac8" href="#jet" x1="376" y1="618" x2="544.4" y2="306.8"/><linearGradient id="ac9" href="#jet" x1="384.9" y1="613.2" x2="551.1" y2="315.1"/><linearGradient id="aca" href="#jet" x1="451.6" y1="735.3" x2="533.2" y2="270.8"/><linearGradient id="acb" href="#jet" x1="393.7" y1="623.2" x2="563.2" y2="316.4"/><linearGradient id="acc" href="#jet" x1="403.1" y1="628.6" x2="569.6" y2="320"/><linearGradient id="acd" href="#jet" x1="684.5" y1="780.6" x2="465.5" y2="264.2"/><linearGradient id="ace" href="#jet" x1="686.5" y1="779.6" x2="464.6" y2="264.2"/><linearGradient id="acf" href="#jet" x1="677.3" y1="783" x2="470.3" y2="264.6"/><linearGradient id="acg" href="#jet" x1="445" y1="732.2" x2="538" y2="279.1"/><linearGradient id="ach" href="#jet" x1="638.5" y1="797.9" x2="505.7" y2="265"/><linearGradient id="aci" href="#jet" x1="496.8" y1="772.9" x2="529.9" y2="268.4"/><linearGradient id="acj" href="#jet" x1="514.7" y1="788.2" x2="586.9" y2="277.4"/><linearGradient id="ack" href="#jet" x1="701.6" y1="370" x2="508.4" y2="378.5"/><linearGradient id="acl" href="#jet" x1="465" y1="709" x2="603.9" y2="315.2"/><linearGradient id="acm" href="#jet" x1="447.9" y1="647.9" x2="616.5" y2="341.4"/><linearGradient id="acn" href="#jet" x1="455.3" y1="644.9" x2="622" y2="347.9"/><linearGradient id="aco" href="#jet" x1="513.2" y1="758.5" x2="607.7" y2="307.1"/><linearGradient id="acp" href="#jet" x1="464.3" y1="652.5" x2="633.7" y2="350.5"/><linearGradient id="acq" href="#jet" x1="747.6" y1="809.6" x2="529.3" y2="293.4"/><linearGradient id="acr" href="#jet" x1="748.2" y1="809" x2="528.8" y2="293.1"/><linearGradient id="acs" href="#jet" x1="752.3" y1="829.8" x2="528.5" y2="288.9"/><linearGradient id="act" href="#jet" x1="544.2" y1="814" x2="603.9" y2="298"/><linearGradient id="acu" href="#jet" x1="528.4" y1="756" x2="685.3" y2="344.9"/><linearGradient id="acv" href="#jet" x1="473.2" y1="492.4" x2="633.1" y2="380.7"/><linearGradient id="acw" href="#jet" x1="560.4" y1="805.6" x2="650.9" y2="316.7"/><linearGradient id="acx" href="#jet" x1="597.8" y1="801" x2="682.9" y2="335.2"/><linearGradient id="acy" href="#jet" x1="523.8" y1="482" x2="651.4" y2="404.9"/><linearGradient id="acz" href="#jet" x1="555" y1="721.8" x2="713.7" y2="376.9"/><linearGradient id="ad0" href="#jet" x1="800.9" y1="837" x2="592" y2="319.7"/><linearGradient id="ad1" href="#jet" x1="554.1" y1="751.8" x2="691.2" y2="354.7"/><linearGradient id="ad2" href="#jet" x1="535.4" y1="684.6" x2="705.3" y2="383.5"/><linearGradient id="ad3" href="#jet" x1="572.4" y1="770" x2="698.3" y2="354.4"/><linearGradient id="ad4" href="#jet" x1="908.1" y1="591.6" x2="563.9" y2="460.7"/><linearGradient id="ad5" href="#jet" x1="519.7" y1="638.3" x2="694.9" y2="386.6"/><linearGradient id="ad6" href="#jet" x1="776.2" y1="863.7" x2="644.7" y2="329.7"/><linearGradient id="ad7" href="#jet" x1="627.1" y1="835.6" x2="673.7" y2="334.3"/><linearGradient id="ad8" href="#jet" x1="662.8" y1="857.7" x2="722.7" y2="339.6"/><linearGradient id="ad9" href="#jet" x1="601.4" y1="495.4" x2="705.2" y2="425"/><linearGradient id="ada" href="#jet" x1="581.4" y1="716.9" x2="751.9" y2="399.3"/><linearGradient id="adb" href="#jet" x1="610.2" y1="778.1" x2="748" y2="380.4"/><linearGradient id="adc" href="#jet" x1="589.3" y1="711.4" x2="759.6" y2="407.3"/><linearGradient id="add" href="#jet" x1="622.6" y1="791.5" x2="750.8" y2="378.9"/><linearGradient id="ade" href="#jet" x1="594.5" y1="712.6" x2="765" y2="410.3"/><linearGradient id="adf" href="#jet" x1="633.9" y1="803" x2="753.8" y2="377.9"/><linearGradient id="adg" href="#jet" x1="601.4" y1="724.4" x2="769.7" y2="409.2"/><linearGradient id="adh" href="#jet" x1="633.2" y1="796.1" x2="761.5" y2="384"/><linearGradient id="adi" href="#jet" x1="605.6" y1="720.1" x2="775.5" y2="414.2"/><linearGradient id="adj" href="#jet" x1="630.2" y1="784.7" x2="769.9" y2="391.7"/><linearGradient id="adk" href="#jet" x1="610.9" y1="721.3" x2="780.9" y2="417.2"/><linearGradient id="adl" href="#jet" x1="637.7" y1="790.9" x2="774.4" y2="392.7"/><linearGradient id="adm" href="#jet" x1="616.3" y1="723.8" x2="786.2" y2="419.7"/><linearGradient id="adn" href="#jet" x1="651.4" y1="807" x2="776.5" y2="390"/><linearGradient id="ado" href="#jet" x1="898.4" y1="882.2" x2="686.5" y2="362.9"/><linearGradient id="adp" href="#jet" x1="900.1" y1="882.7" x2="687" y2="363.7"/><linearGradient id="adq" href="#jet" x1="660.2" y1="816.9" x2="781.2" y2="390.4"/><linearGradient id="adr" href="#jet" x1="896.7" y1="887" x2="692.9" y2="365.5"/><linearGradient id="ads" href="#jet" x1="654.7" y1="808" x2="792.2" y2="399.1"/><linearGradient id="adt" href="#jet" x1="635.9" y1="645.2" x2="804.4" y2="468.1"/><linearGradient id="adu" href="#jet" x1="660.6" y1="816" x2="798.8" y2="401.1"/><linearGradient id="adv" href="#jet" x1="639.6" y1="652.1" x2="812.2" y2="473"/><linearGradient id="adw" href="#jet" x1="661.8" y1="816.1" x2="806.4" y2="405.8"/><linearGradient id="adx" href="#jet" x1="688" y1="849.3" x2="796.8" y2="392.2"/><linearGradient id="ady" href="#jet" x1="680.9" y1="838.4" x2="802.3" y2="397.8"/><linearGradient id="adz" href="#jet" x1="696.9" y1="852.6" x2="798.7" y2="392.8"/><linearGradient id="ae0" href="#jet" x1="687.7" y1="838.9" x2="805.7" y2="399.5"/><linearGradient id="ae1" href="#jet" x1="701.6" y1="850.8" x2="803.2" y2="395.7"/><linearGradient id="ae2" href="#jet" x1="699.4" y1="844.5" x2="807.2" y2="399.3"/><linearGradient id="ae3" href="#jet" x1="711.1" y1="853.2" x2="805.9" y2="396.9"/><linearGradient id="ae4" href="#jet" x1="702.6" y1="841.4" x2="811.3" y2="402.1"/><linearGradient id="ae5" href="#jet" x1="938.7" y1="899.4" x2="723.6" y2="380.9"/><linearGradient id="ae6" href="#jet" x1="688.2" y1="816.9" x2="821.3" y2="413.4"/><linearGradient id="ae7" href="#jet" x1="664.7" y1="745.6" x2="834" y2="442.2"/><linearGradient id="ae8" href="#jet" x1="709.8" y1="842.5" x2="820.5" y2="407.1"/><linearGradient id="ae9" href="#jet" x1="946.4" y1="903.9" x2="733.7" y2="384.8"/><linearGradient id="aea" href="#jet" x1="948.1" y1="904.4" x2="734" y2="385.7"/><linearGradient id="aeb" href="#jet" x1="718.4" y1="851.7" x2="825.2" y2="407.8"/><linearGradient id="aec" href="#jet" x1="943.8" y1="909.2" x2="740.6" y2="387.4"/><linearGradient id="aed" href="#jet" x1="751.8" y1="615.9" x2="848.8" y2="552.4"/><linearGradient id="aee" href="#jet" x1="759.7" y1="909.5" x2="805.4" y2="391.8"/><linearGradient id="aef" href="#jet" x1="1040.3" y1="691.3" x2="707.6" y2="517.4"/><linearGradient id="aeg" href="#jet" x1="640.4" y1="746.4" x2="838.3" y2="431.2"/><linearGradient id="aeh" href="#jet" x1="909.6" y1="930.4" x2="780.2" y2="391.4"/><linearGradient id="aei" href="#jet" x1="715.9" y1="882.2" x2="826.2" y2="402.5"/><linearGradient id="aej" href="#jet" x1="754.4" y1="877.6" x2="894.9" y2="435.6"/><linearGradient id="aek" href="#jet" x1="654.5" y1="667.6" x2="857.5" y2="472.3"/><linearGradient id="ael" href="#jet" x1="772.7" y1="907" x2="864.7" y2="415.1"/><linearGradient id="aem" href="#jet" x1="802.8" y1="916.9" x2="887.1" y2="417.2"/><linearGradient id="aen" href="#jet" x1="760.7" y1="564.3" x2="861.7" y2="497.2"/><linearGradient id="aeo" href="#jet" x1="740.9" y1="791.7" x2="910.3" y2="472"/><linearGradient id="aep" href="#jet" x1="775.8" y1="858.8" x2="906.2" y2="452"/><linearGradient id="aeq" href="#jet" x1="750.6" y1="785.2" x2="919.4" y2="481.7"/><linearGradient id="aer" href="#jet" x1="778" y1="855.4" x2="912.7" y2="456.8"/><linearGradient id="aes" href="#jet" x1="755.9" y1="785.2" x2="924.8" y2="485.3"/><linearGradient id="aet" href="#jet" x1="792.7" y1="872.8" x2="914.3" y2="453.4"/><linearGradient id="aeu" href="#jet" x1="761" y1="787.7" x2="930" y2="487.6"/><linearGradient id="aev" href="#jet" x1="790.1" y1="863" x2="922.6" y2="460.6"/><linearGradient id="aew" href="#jet" x1="766.4" y1="790.3" x2="935.3" y2="490"/><linearGradient id="aex" href="#jet" x1="799.2" y1="871.6" x2="926.4" y2="460.6"/><linearGradient id="aey" href="#jet" x1="771.5" y1="792.4" x2="940.5" y2="492.5"/><linearGradient id="aez" href="#jet" x1="800.5" y1="867.6" x2="933.1" y2="465.5"/><linearGradient id="af0" href="#jet" x1="776.9" y1="794.8" x2="945.8" y2="495"/><linearGradient id="af1" href="#jet" x1="815.8" y1="885.4" x2="934.5" y2="462"/><linearGradient id="af2" href="#jet" x1="782.9" y1="802.4" x2="950.7" y2="495.4"/><linearGradient id="af3" href="#jet" x1="814.5" y1="877.9" x2="942.3" y2="468.3"/><linearGradient id="af4" href="#jet" x1="787.5" y1="800.1" x2="956.2" y2="499.7"/><linearGradient id="af5" href="#jet" x1="818.6" y1="878.7" x2="947.9" y2="471.3"/><linearGradient id="af6" href="#jet" x1="792.6" y1="802.1" x2="961.5" y2="502.2"/><linearGradient id="af7" href="#jet" x1="819.7" y1="874" x2="954.8" y2="476.5"/><linearGradient id="af8" href="#jet" x1="798.1" y1="804.4" x2="966.7" y2="504.8"/><linearGradient id="af9" href="#jet" x1="826.9" y1="879.4" x2="959.4" y2="477.8"/><linearGradient id="afa" href="#jet" x1="803.5" y1="807.4" x2="972" y2="507.1"/><linearGradient id="afb" href="#jet" x1="835.5" y1="887.5" x2="963.3" y2="478"/><linearGradient id="afc" href="#jet" x1="808.7" y1="809.6" x2="977.2" y2="509.6"/><linearGradient id="afd" href="#jet" x1="820.8" y1="848" x2="976.5" y2="497"/><linearGradient id="afe" href="#jet" x1="1044.9" y1="984.5" x2="913.8" y2="451.3"/><linearGradient id="aff" href="#jet" x1="906.7" y1="958.8" x2="934.1" y2="454.4"/><linearGradient id="afg" href="#jet" x1="1047.3" y1="993.5" x2="914.7" y2="453"/><linearGradient id="afh" href="#jet" x1="921.8" y1="976" x2="994.3" y2="464.5"/><linearGradient id="afi" href="#jet" x1="1097.4" y1="552.3" x2="919.7" y2="563.5"/><linearGradient id="afj" href="#jet" x1="878.5" y1="869.5" x2="1036.4" y2="526.3"/><linearGradient id="afk" href="#jet" x1="1124.2" y1="985.1" x2="913.9" y2="468.4"/><linearGradient id="afl" href="#jet" x1="867.2" y1="871.5" x2="1021.6" y2="516.6"/><linearGradient id="afm" href="#jet" x1="1195.8" y1="692.8" x2="897.7" y2="628.7"/><linearGradient id="afn" href="#jet" x1="856.7" y1="873.6" x2="1007.8" y2="508.6"/><linearGradient id="afo" href="#jet" x1="1097.9" y1="1008.5" x2="961.3" y2="476.3"/><linearGradient id="afp" href="#jet" x1="944.9" y1="980.5" x2="991.4" y2="480.9"/><linearGradient id="afq" href="#jet" x1="973.6" y1="999.1" x2="1042.1" y2="487.8"/><linearGradient id="afr" href="#jet" x1="910.3" y1="646.5" x2="1022" y2="574.6"/><linearGradient id="afs" href="#jet" x1="999.5" y1="1000.5" x2="1042.7" y2="492.2"/><linearGradient id="aft" href="#jet" x1="1175.9" y1="1013.3" x2="962.3" y2="487.5"/><linearGradient id="afu" href="#jet" x1="1015.5" y1="1001" x2="1041.5" y2="494.2"/><linearGradient id="afv" href="#jet" x1="1193.1" y1="1008.7" x2="960.8" y2="491.3"/><linearGradient id="afw" href="#jet" x1="190.1" y1="845.6" x2="449.2" y2="214.8"/><linearGradient id="afx" href="#jet" x1="169.6" y1="832" x2="461.8" y2="222.3"/><linearGradient id="afy" href="#jet" x1="267.7" y1="868.2" x2="437.1" y2="213.2"/><linearGradient id="afz" href="#jet" x1="165.1" y1="823" x2="485.6" y2="234.2"/><linearGradient id="ag0" href="#jet" x1="259.4" y1="866.8" x2="459.5" y2="221.9"/><linearGradient id="ag1" href="#jet" x1="182" y1="825.8" x2="498.8" y2="241.8"/><linearGradient id="ag2" href="#jet" x1="256" y1="863" x2="475.6" y2="230.4"/><linearGradient id="ag3" href="#jet" x1="250.3" y1="861.6" x2="482.9" y2="232.8"/><linearGradient id="ag4" href="#jet" x1="179.1" y1="813.3" x2="516.4" y2="254.5"/><linearGradient id="ag5" href="#jet" x1="302.7" y1="877.9" x2="478.2" y2="233.7"/><linearGradient id="ag6" href="#jet" x1="281.8" y1="876.3" x2="496.8" y2="237.7"/><linearGradient id="ag7" href="#jet" x1="195.1" y1="820.2" x2="538" y2="263.7"/><linearGradient id="ag8" href="#jet" x1="287" y1="874.9" x2="507.6" y2="245.8"/><linearGradient id="ag9" href="#jet" x1="317.3" y1="884.9" x2="501.7" y2="243.9"/><linearGradient id="aga" href="#jet" x1="317.9" y1="884.9" x2="510.4" y2="246.5"/><linearGradient id="agb" href="#jet" x1="274.7" y1="865.8" x2="535.6" y2="256.9"/><linearGradient id="agc" href="#jet" x1="277.9" y1="429" x2="537.9" y2="380.2"/><linearGradient id="agd" href="#jet" x1="335.7" y1="888" x2="519.8" y2="250.8"/><linearGradient id="age" href="#jet" x1="413.6" y1="889.2" x2="515.8" y2="263.4"/><linearGradient id="agf" href="#jet" x1="202.5" y1="759.8" x2="623.6" y2="335.4"/><linearGradient id="agg" href="#jet" x1="206.1" y1="782.4" x2="608.3" y2="312.8"/><linearGradient id="agh" href="#jet" x1="265.1" y1="855.7" x2="587.4" y2="285.8"/><linearGradient id="agi" href="#jet" x1="369.1" y1="909.4" x2="552.7" y2="267.3"/><linearGradient id="agj" href="#jet" x1="355.2" y1="908.9" x2="566.8" y2="270.3"/><linearGradient id="agk" href="#jet" x1="252.4" y1="842.5" x2="613.5" y2="299.2"/><linearGradient id="agl" href="#jet" x1="303.6" y1="880.6" x2="595.7" y2="286.2"/><linearGradient id="agm" href="#jet" x1="393.5" y1="917" x2="568.6" y2="275.2"/><linearGradient id="agn" href="#jet" x1="406.3" y1="418.2" x2="580.5" y2="411.4"/><linearGradient id="ago" href="#jet" x1="377.4" y1="914" x2="590.8" y2="281.3"/><linearGradient id="agp" href="#jet" x1="429.3" y1="915.9" x2="587.1" y2="295.4"/><linearGradient id="agq" href="#jet" x1="307.6" y1="837.6" x2="644" y2="328.7"/><linearGradient id="agr" href="#jet" x1="495.3" y1="931" x2="601.6" y2="302.7"/><linearGradient id="ags" href="#jet" x1="329.3" y1="875.8" x2="684.4" y2="334.4"/><linearGradient id="agt" href="#jet" x1="355.5" y1="899.2" x2="673.4" y2="324.5"/><linearGradient id="agu" href="#jet" x1="471.8" y1="951.8" x2="636.5" y2="307.4"/><linearGradient id="agv" href="#jet" x1="417.8" y1="931.7" x2="665.3" y2="318"/><linearGradient id="agw" href="#jet" x1="465.8" y1="947.2" x2="653.8" y2="314.8"/><linearGradient id="agx" href="#jet" x1="381.8" y1="526.2" x2="689" y2="437.6"/><linearGradient id="agy" href="#jet" x1="480.4" y1="950.9" x2="658.9" y2="316.4"/><linearGradient id="agz" href="#jet" x1="519.2" y1="949" x2="665.3" y2="329.2"/><linearGradient id="ah0" href="#jet" x1="338.3" y1="798.7" x2="764.1" y2="412.6"/><linearGradient id="ah1" href="#jet" x1="513.4" y1="972.2" x2="685.9" y2="330.9"/><linearGradient id="ah2" href="#jet" x1="406.9" y1="919.6" x2="731.2" y2="352.7"/><linearGradient id="ah3" href="#jet" x1="506.4" y1="972.8" x2="697.4" y2="334.2"/><linearGradient id="ah4" href="#jet" x1="403.1" y1="914.2" x2="740.3" y2="358.1"/><linearGradient id="ah5" href="#jet" x1="501" y1="972.2" x2="706.8" y2="337.8"/><linearGradient id="ah6" href="#jet" x1="402.4" y1="910.3" x2="747.8" y2="363"/><linearGradient id="ah7" href="#jet" x1="529.3" y1="980.7" x2="703.3" y2="338"/><linearGradient id="ah8" href="#jet" x1="413.9" y1="919.5" x2="751.1" y2="362.9"/><linearGradient id="ah9" href="#jet" x1="500.9" y1="973.5" x2="721.5" y2="344"/><linearGradient id="aha" href="#jet" x1="430.5" y1="932.1" x2="752" y2="361.4"/><linearGradient id="ahb" href="#jet" x1="506" y1="976" x2="727.1" y2="346.5"/><linearGradient id="ahc" href="#jet" x1="460.1" y1="952.4" x2="748.4" y2="357.1"/><linearGradient id="ahd" href="#jet" x1="527.5" y1="982.9" x2="726.6" y2="347"/><linearGradient id="ahe" href="#jet" x1="458.5" y1="948" x2="757" y2="362.1"/><linearGradient id="ahf" href="#jet" x1="543.2" y1="986.8" x2="728.3" y2="348.8"/><linearGradient id="ahg" href="#jet" x1="466.2" y1="950.2" x2="762.2" y2="364.6"/><linearGradient id="ahh" href="#jet" x1="554.5" y1="989.6" x2="731.8" y2="350.9"/><linearGradient id="ahi" href="#jet" x1="477.6" y1="955.4" x2="766.2" y2="365.9"/><linearGradient id="ahj" href="#jet" x1="545.5" y1="987.2" x2="743.4" y2="355"/><linearGradient id="ahk" href="#jet" x1="481.3" y1="954.9" x2="773" y2="369.5"/><linearGradient id="ahl" href="#jet" x1="553.4" y1="989.2" x2="748.2" y2="357.5"/><linearGradient id="ahm" href="#jet" x1="488.1" y1="957.2" x2="777.7" y2="371.6"/><linearGradient id="ahn" href="#jet" x1="464.3" y1="936.7" x2="788.7" y2="380.7"/><linearGradient id="aho" href="#jet" x1="553.3" y1="989.4" x2="756.1" y2="360.7"/><linearGradient id="ahp" href="#jet" x1="463.1" y1="933.5" x2="796.1" y2="384.9"/><linearGradient id="ahq" href="#jet" x1="551.9" y1="989.4" x2="764" y2="364.2"/><linearGradient id="ahr" href="#jet" x1="473.3" y1="940.6" x2="799.3" y2="385.5"/><linearGradient id="ahs" href="#jet" x1="571.8" y1="996.8" x2="763.6" y2="364.6"/><linearGradient id="aht" href="#jet" x1="474.5" y1="939.4" x2="806.5" y2="389.4"/><linearGradient id="ahu" href="#jet" x1="560.6" y1="993.8" x2="775.5" y2="369.3"/><linearGradient id="ahv" href="#jet" x1="485.6" y1="947.2" x2="809.4" y2="389.7"/><linearGradient id="ahw" href="#jet" x1="581.8" y1="1001.6" x2="774.5" y2="369.5"/><linearGradient id="ahx" href="#jet" x1="476.1" y1="934.7" x2="820.7" y2="398.2"/><linearGradient id="ahy" href="#jet" x1="595.7" y1="1006.3" x2="776.2" y2="371.1"/><linearGradient id="ahz" href="#jet" x1="484.1" y1="940.1" x2="825" y2="399.4"/><linearGradient id="ai0" href="#jet" x1="581.8" y1="1002.9" x2="789.2" y2="375.9"/><linearGradient id="ai1" href="#jet" x1="618.8" y1="1009.1" x2="784" y2="380.8"/><linearGradient id="ai2" href="#jet" x1="543.7" y1="985.2" x2="818.1" y2="389"/><linearGradient id="ai3" href="#jet" x1="634.2" y1="1008.2" x2="781.6" y2="385.3"/><linearGradient id="ai4" href="#jet" x1="606.5" y1="997.6" x2="797.1" y2="391"/><linearGradient id="ai5" href="#jet" x1="626.4" y1="1007.2" x2="805.9" y2="393"/><linearGradient id="ai6" href="#jet" x1="511.7" y1="918.9" x2="863.6" y2="432.8"/><linearGradient id="ai7" href="#jet" x1="678.1" y1="1023.7" x2="820.7" y2="401.2"/><linearGradient id="ai8" href="#jet" x1="517.7" y1="932.3" x2="906.7" y2="452.3"/><linearGradient id="ai9" href="#jet" x1="673.6" y1="1045.9" x2="844.1" y2="403.4"/><linearGradient id="aia" href="#jet" x1="559.9" y1="988.9" x2="895" y2="427.9"/><linearGradient id="aib" href="#jet" x1="668.3" y1="1048" x2="857" y2="406.8"/><linearGradient id="aic" href="#jet" x1="569.5" y1="995.9" x2="898.9" y2="428.6"/><linearGradient id="aid" href="#jet" x1="659.7" y1="1046.8" x2="867.8" y2="410.6"/><linearGradient id="aie" href="#jet" x1="563.4" y1="987.5" x2="908.5" y2="435.1"/><linearGradient id="aif" href="#jet" x1="671" y1="1050.9" x2="870.6" y2="412.4"/><linearGradient id="aig" href="#jet" x1="577.7" y1="998.7" x2="910.3" y2="434.2"/><linearGradient id="aih" href="#jet" x1="668.4" y1="1051" x2="879" y2="415.6"/><linearGradient id="aii" href="#jet" x1="578.1" y1="996.6" x2="917.4" y2="438.3"/><linearGradient id="aij" href="#jet" x1="677.2" y1="1054.5" x2="882.8" y2="417.6"/><linearGradient id="aik" href="#jet" x1="588.3" y1="1003.7" x2="920.8" y2="438.9"/><linearGradient id="ail" href="#jet" x1="681.8" y1="1056.9" x2="888.3" y2="420.1"/><linearGradient id="aim" href="#jet" x1="582.5" y1="995.2" x2="930.2" y2="445.5"/><linearGradient id="ain" href="#jet" x1="704.7" y1="1063.9" x2="886.7" y2="420.7"/><linearGradient id="aio" href="#jet" x1="594.4" y1="1004.7" x2="933.1" y2="445.2"/><linearGradient id="aip" href="#jet" x1="688.2" y1="1060.4" x2="900.4" y2="425.4"/><linearGradient id="aiq" href="#jet" x1="601" y1="1008.2" x2="937.7" y2="447.2"/><linearGradient id="air" href="#jet" x1="696.5" y1="1063.8" x2="904.5" y2="427.4"/><linearGradient id="ais" href="#jet" x1="611.9" y1="1015.9" x2="940.9" y2="447.6"/><linearGradient id="ait" href="#jet" x1="701.7" y1="1066.3" x2="909.8" y2="429.7"/><linearGradient id="aiu" href="#jet" x1="614.5" y1="1016.2" x2="947.2" y2="450.8"/><linearGradient id="aiv" href="#jet" x1="702" y1="1066.7" x2="915.5" y2="432.4"/><linearGradient id="aiw" href="#jet" x1="730.4" y1="1074.7" x2="906.8" y2="430"/><linearGradient id="aix" href="#jet" x1="675.5" y1="1054.3" x2="931.7" y2="439.3"/><linearGradient id="aiy" href="#jet" x1="743.5" y1="1076.3" x2="909.2" y2="432.2"/><linearGradient id="aiz" href="#jet" x1="695.5" y1="1061.1" x2="932.8" y2="439.7"/><linearGradient id="aj0" href="#jet" x1="683.2" y1="614.8" x2="942.8" y2="564.5"/><linearGradient id="aj1" href="#jet" x1="741.3" y1="1075.6" x2="924.9" y2="437.1"/><linearGradient id="aj2" href="#jet" x1="780.7" y1="1070" x2="918.4" y2="450.4"/><linearGradient id="aj3" href="#jet" x1="821.2" y1="1076.3" x2="924" y2="451.5"/><linearGradient id="aj4" href="#jet" x1="607.9" y1="945.6" x2="1034.1" y2="524.7"/><linearGradient id="aj5" href="#jet" x1="751.6" y1="1090.1" x2="965.4" y2="454.9"/><linearGradient id="aj6" href="#jet" x1="792.7" y1="1095.3" x2="962.4" y2="456.8"/><linearGradient id="aj7" href="#jet" x1="679.1" y1="720.9" x2="1019.1" y2="579.3"/><linearGradient id="aj8" href="#jet" x1="837.5" y1="1099" x2="958.9" y2="459.5"/><linearGradient id="aj9" href="#jet" x1="859" y1="1109.7" x2="978" y2="473.2"/><linearGradient id="aja" href="#jet" x1="684.3" y1="825.7" x2="1055.6" y2="616.8"/><linearGradient id="ajb" href="#jet" x1="854.3" y1="1116.7" x2="988.2" y2="473.8"/><linearGradient id="ajc" href="#jet" x1="210.5" y1="842.9" x2="456.9" y2="225.5"/><linearGradient id="ajd" href="#jet" x1="205.8" y1="840.8" x2="480.9" y2="235.9"/><linearGradient id="aje" href="#jet" x1="226.4" y1="851.8" x2="470.3" y2="228.4"/><linearGradient id="ajf" href="#jet" x1="220.9" y1="849.3" x2="496" y2="239.4"/><linearGradient id="ajg" href="#jet" x1="240.6" y1="859.7" x2="486.4" y2="232.5"/><linearGradient id="ajh" href="#jet" x1="232.9" y1="855.8" x2="508.8" y2="242.6"/><linearGradient id="aji" href="#jet" x1="227.1" y1="852.7" x2="525" y2="251"/><linearGradient id="ajj" href="#jet" x1="241.3" y1="861.1" x2="519.8" y2="246.2"/><linearGradient id="ajk" href="#jet" x1="317.4" y1="877.8" x2="452.3" y2="234.2"/><linearGradient id="ajl" href="#jet" x1="348.4" y1="878.8" x2="486.5" y2="252.9"/><linearGradient id="ajm" href="#jet" x1="238" y1="798.8" x2="675.1" y2="385.9"/><linearGradient id="ajn" href="#jet" x1="435.7" y1="726.6" x2="323.6" y2="674.4"/><linearGradient id="ajo" href="#jet" x1="334" y1="901.4" x2="576.9" y2="273.1"/><linearGradient id="ajp" href="#jet" x1="378.4" y1="912" x2="533.3" y2="264.8"/><linearGradient id="ajq" href="#jet" x1="402" y1="912.7" x2="554.4" y2="278.3"/><linearGradient id="ajr" href="#jet" x1="363.5" y1="901.3" x2="659.2" y2="316.4"/><linearGradient id="ajs" href="#jet" x1="412.9" y1="918" x2="586.4" y2="288"/><linearGradient id="ajt" href="#jet" x1="417.1" y1="924" x2="609.8" y2="295.2"/><linearGradient id="aju" href="#jet" x1="354.9" y1="890.5" x2="707.4" y2="351.2"/><linearGradient id="ajv" href="#jet" x1="425.7" y1="929.5" x2="612.9" y2="296.6"/><linearGradient id="ajw" href="#jet" x1="447.8" y1="935.8" x2="605.8" y2="301.4"/><linearGradient id="ajx" href="#jet" x1="460" y1="935.7" x2="619" y2="312"/><linearGradient id="ajy" href="#jet" x1="486.4" y1="939.6" x2="636.6" y2="321.4"/><linearGradient id="ajz" href="#jet" x1="379.8" y1="846.1" x2="818.1" y2="473.9"/><linearGradient id="ak0" href="#jet" x1="576.6" y1="800.6" x2="452.6" y2="740.6"/><linearGradient id="ak1" href="#jet" x1="450.9" y1="956.3" x2="732.6" y2="344.3"/><linearGradient id="ak2" href="#jet" x1="480.5" y1="967.4" x2="697.2" y2="330.1"/><linearGradient id="ak3" href="#jet" x1="483.4" y1="969.5" x2="704.8" y2="332.9"/><linearGradient id="ak4" href="#jet" x1="433.3" y1="936.6" x2="789.9" y2="386.4"/><linearGradient id="ak5" href="#jet" x1="501.2" y1="977.2" x2="703.3" y2="333.5"/><linearGradient id="ak6" href="#jet" x1="470.7" y1="962.2" x2="763.5" y2="361.5"/><linearGradient id="ak7" href="#jet" x1="521.9" y1="982.4" x2="705.4" y2="338.5"/><linearGradient id="ak8" href="#jet" x1="546.4" y1="984.9" x2="722.5" y2="350.3"/><linearGradient id="ak9" href="#jet" x1="520" y1="982.4" x2="800" y2="373.8"/><linearGradient id="aka" href="#jet" x1="676.9" y1="837.4" x2="489.4" y2="692.4"/><linearGradient id="akb" href="#jet" x1="535.7" y1="989.6" x2="815.7" y2="381"/><linearGradient id="akc" href="#jet" x1="616.2" y1="1000" x2="734.3" y2="380.1"/><linearGradient id="akd" href="#jet" x1="641.7" y1="1005" x2="765.2" y2="385.9"/><linearGradient id="ake" href="#jet" x1="578.6" y1="987.1" x2="886.4" y2="429.9"/><linearGradient id="akf" href="#jet" x1="697" y1="873.3" x2="597.9" y2="831.2"/><linearGradient id="akg" href="#jet" x1="641.3" y1="1017" x2="817.9" y2="396"/><linearGradient id="akh" href="#jet" x1="544.4" y1="961.9" x2="956.1" y2="487.9"/><linearGradient id="aki" href="#jet" x1="723.8" y1="849.8" x2="643" y2="816.3"/><linearGradient id="akj" href="#jet" x1="593.3" y1="1015.8" x2="915.6" y2="435.1"/><linearGradient id="akk" href="#jet" x1="618.2" y1="1030.9" x2="888.9" y2="417.8"/><linearGradient id="akl" href="#jet" x1="614.3" y1="1028" x2="910.6" y2="429.6"/><linearGradient id="akm" href="#jet" x1="633.2" y1="1038.4" x2="903" y2="423.8"/><linearGradient id="akn" href="#jet" x1="631.3" y1="1036.3" x2="925.5" y2="436"/><linearGradient id="ako" href="#jet" x1="647.9" y1="1045.4" x2="921.2" y2="432.1"/><linearGradient id="akp" href="#jet" x1="648.9" y1="1045" x2="939.5" y2="441.7"/><linearGradient id="akq" href="#jet" x1="728.1" y1="1066" x2="860.5" y2="422.4"/><linearGradient id="akr" href="#jet" x1="756.9" y1="1066.6" x2="891.9" y2="440"/><linearGradient id="aks" href="#jet" x1="766.5" y1="1066.6" x2="936.1" y2="455.5"/><linearGradient id="akt" href="#jet" x1="660.7" y1="995.2" x2="1072.8" y2="564.7"/><linearGradient id="aku" href="#jet" x1="860.8" y1="944.1" x2="669.6" y2="808.9"/><linearGradient id="akv" href="#jet" x1="777.6" y1="1087.3" x2="925.7" y2="449.9"/><linearGradient id="akw" href="#jet" x1="783.8" y1="1087" x2="927.7" y2="454.3"/><linearGradient id="akx" href="#jet" x1="815.7" y1="1090.8" x2="929.2" y2="458.2"/><linearGradient id="aky" href="#jet" x1="798.5" y1="838.9" x2="1009.8" y2="843.8"/><linearGradient id="akz" href="#jet" x1="919.6" y1="1004.2" x2="684.1" y2="739.5"/><linearGradient id="al0" href="#jet" x1="765.7" y1="1123.9" x2="1039.8" y2="464.8"/><linearGradient id="al1" href="#jet" x1="951.2" y1="984" x2="728" y2="699"/><linearGradient id="al2" href="#jet" x1="275.6" y1="825.2" x2="188.9" y2="295.8"/><linearGradient id="al3" href="#jet" x1="193.4" y1="719.1" x2="335.2" y2="475.3"/><linearGradient id="al4" href="#jet" x1="359.3" y1="815.9" x2="66.4" y2="318.2"/><linearGradient id="al5" href="#jet" x1="216.2" y1="783.5" x2="311.1" y2="373.9"/><linearGradient id="al6" href="#jet" x1="203.8" y1="749.4" x2="339.8" y2="432.4"/><linearGradient id="al7" href="#jet" x1="205.8" y1="718.8" x2="347.7" y2="488.7"/><linearGradient id="al8" href="#jet" x1="223.7" y1="782.2" x2="328" y2="389.4"/><linearGradient id="al9" href="#jet" x1="228.5" y1="787.2" x2="330.5" y2="384.3"/><linearGradient id="ala" href="#jet" x1="218.9" y1="734.9" x2="364.4" y2="476.9"/><linearGradient id="alb" href="#jet" x1="242.6" y1="793.1" x2="343.4" y2="391.4"/><linearGradient id="alc" href="#jet" x1="393.8" y1="832.3" x2="111.4" y2="331.7"/><linearGradient id="ald" href="#jet" x1="233.8" y1="746.4" x2="375.7" y2="474.5"/><linearGradient id="ale" href="#jet" x1="253" y1="795.1" x2="354.6" y2="401.3"/><linearGradient id="alf" href="#jet" x1="413.9" y1="679.4" x2="99.3" y2="644.1"/><linearGradient id="alg" href="#jet" x1="247.8" y1="804.3" x2="329.8" y2="380.3"/><linearGradient id="alh" href="#jet" x1="403.9" y1="687.7" x2="118.4" y2="668.8"/><linearGradient id="ali" href="#jet" x1="395.1" y1="839.3" x2="136.6" y2="340"/><linearGradient id="alj" href="#jet" x1="384.6" y1="692.4" x2="165.6" y2="699.5"/><linearGradient id="alk" href="#jet" x1="230.8" y1="745.4" x2="388" y2="490.4"/><linearGradient id="all" href="#jet" x1="384.2" y1="853.4" x2="177.6" y2="337.9"/><linearGradient id="alm" href="#jet" x1="271.5" y1="833.1" x2="341.6" y2="366.3"/><linearGradient id="aln" href="#jet" x1="383.1" y1="857.6" x2="187.9" y2="338.6"/><linearGradient id="alo" href="#jet" x1="238.9" y1="783" x2="405.1" y2="450"/><linearGradient id="alp" href="#jet" x1="382.8" y1="862" x2="198.2" y2="341.6"/><linearGradient id="alq" href="#jet" x1="240.9" y1="753.2" x2="421.3" y2="511.5"/><linearGradient id="alr" href="#jet" x1="383.1" y1="867.5" x2="212.7" y2="343.3"/><linearGradient id="als" href="#jet" x1="253.9" y1="801.7" x2="425.3" y2="450.2"/><linearGradient id="alt" href="#jet" x1="340.2" y1="874" x2="329.8" y2="335.2"/><linearGradient id="alu" href="#jet" x1="349.2" y1="873.4" x2="379.9" y2="342.7"/><linearGradient id="alv" href="#jet" x1="284.5" y1="686.5" x2="411" y2="566.9"/><linearGradient id="alw" href="#jet" x1="304.4" y1="748.8" x2="458.3" y2="552.2"/><linearGradient id="alx" href="#jet" x1="462.4" y1="878.7" x2="235.5" y2="375.1"/><linearGradient id="aly" href="#jet" x1="312.6" y1="706.8" x2="430.5" y2="598.4"/><linearGradient id="alz" href="#jet" x1="461.6" y1="886.8" x2="250.1" y2="372.2"/><linearGradient id="am0" href="#jet" x1="337.8" y1="859.9" x2="427.1" y2="409.8"/><linearGradient id="am1" href="#jet" x1="463" y1="890.6" x2="250.2" y2="371.1"/><linearGradient id="am2" href="#jet" x1="357" y1="866.8" x2="469.5" y2="425.9"/><linearGradient id="am3" href="#jet" x1="462.9" y1="896.2" x2="267" y2="375.7"/><linearGradient id="am4" href="#jet" x1="462.1" y1="895.3" x2="267.4" y2="374.5"/><linearGradient id="am5" href="#jet" x1="422.4" y1="903.6" x2="359.8" y2="362.1"/><linearGradient id="am6" href="#jet" x1="460" y1="900.7" x2="296" y2="368.7"/><linearGradient id="am7" href="#jet" x1="390" y1="892.7" x2="440.6" y2="387.9"/><linearGradient id="am8" href="#jet" x1="354.9" y1="793" x2="532.1" y2="577.5"/><linearGradient id="am9" href="#jet" x1="419" y1="903.1" x2="444.7" y2="394.9"/><linearGradient id="ama" href="#jet" x1="450.9" y1="781.8" x2="490.2" y2="764.6"/><linearGradient id="amb" href="#jet" x1="362.9" y1="789.5" x2="526.3" y2="573.4"/><linearGradient id="amc" href="#jet" x1="440.5" y1="918" x2="509.5" y2="424.3"/><linearGradient id="amd" href="#jet" x1="410.8" y1="829.2" x2="592.5" y2="642.5"/><linearGradient id="ame" href="#jet" x1="435.1" y1="913.3" x2="548.9" y2="449.4"/><linearGradient id="amf" href="#jet" x1="416.7" y1="851.6" x2="614.7" y2="616.9"/><linearGradient id="amg" href="#jet" x1="482" y1="940.2" x2="465" y2="398.2"/><linearGradient id="amh" href="#jet" x1="480.4" y1="940.6" x2="477.5" y2="398.9"/><linearGradient id="ami" href="#jet" x1="490.3" y1="938.8" x2="518.8" y2="406.1"/><linearGradient id="amj" href="#jet" x1="434.8" y1="740.7" x2="541.2" y2="648.7"/><linearGradient id="amk" href="#jet" x1="455.8" y1="789.2" x2="583.9" y2="659.3"/><linearGradient id="aml" href="#jet" x1="492.4" y1="925.5" x2="541.1" y2="453.6"/><linearGradient id="amm" href="#jet" x1="622" y1="939.8" x2="343.6" y2="437.1"/><linearGradient id="amn" href="#jet" x1="467.4" y1="870.7" x2="607.5" y2="558.7"/><linearGradient id="amo" href="#jet" x1="482.1" y1="902.5" x2="591.1" y2="508.9"/><linearGradient id="amp" href="#jet" x1="628.5" y1="944.6" x2="359.3" y2="447.4"/><linearGradient id="amq" href="#jet" x1="628.5" y1="942.6" x2="356.7" y2="446.5"/><linearGradient id="amr" href="#jet" x1="625.2" y1="949.3" x2="377.2" y2="446"/><linearGradient id="ams" href="#jet" x1="482.6" y1="915.6" x2="574.5" y2="491.6"/><linearGradient id="amt" href="#jet" x1="490.6" y1="819.3" x2="623" y2="685.2"/><linearGradient id="amu" href="#jet" x1="492.2" y1="900.6" x2="641.5" y2="554.1"/><linearGradient id="amv" href="#jet" x1="508.4" y1="929.1" x2="628.3" y2="510.1"/><linearGradient id="amw" href="#jet" x1="627.3" y1="966" x2="412.2" y2="447.1"/><linearGradient id="amx" href="#jet" x1="581.8" y1="974.3" x2="511.6" y2="434.5"/><linearGradient id="amy" href="#jet" x1="558.5" y1="967.8" x2="567.8" y2="448.6"/><linearGradient id="amz" href="#jet" x1="646.2" y1="976.7" x2="458.9" y2="460.6"/><linearGradient id="an0" href="#jet" x1="494.3" y1="828" x2="652.1" y2="650"/><linearGradient id="an1" href="#jet" x1="647.5" y1="985.5" x2="469.8" y2="460.6"/><linearGradient id="an2" href="#jet" x1="531.8" y1="953.1" x2="649.5" y2="510"/><linearGradient id="an3" href="#jet" x1="537.1" y1="885" x2="718.8" y2="690.1"/><linearGradient id="an4" href="#jet" x1="545.1" y1="940" x2="723.6" y2="584"/><linearGradient id="an5" href="#jet" x1="592.2" y1="991.9" x2="630.9" y2="470.2"/><linearGradient id="an6" href="#jet" x1="546.8" y1="923" x2="756.4" y2="639.5"/><linearGradient id="an7" href="#jet" x1="621.1" y1="1000.1" x2="649.6" y2="468.9"/><linearGradient id="an8" href="#jet" x1="531.8" y1="900.5" x2="720.5" y2="613.4"/><linearGradient id="an9" href="#jet" x1="562.7" y1="907" x2="752.6" y2="662.8"/><linearGradient id="ana" href="#jet" x1="571.7" y1="891.6" x2="751.3" y2="709.3"/><linearGradient id="anb" href="#jet" x1="631" y1="1007.3" x2="641.8" y2="476.8"/><linearGradient id="anc" href="#jet" x1="644.2" y1="1007.6" x2="676.4" y2="481.6"/><linearGradient id="and" href="#jet" x1="584.6" y1="814.5" x2="700.3" y2="715.1"/><linearGradient id="ane" href="#jet" x1="595.9" y1="912.9" x2="756.2" y2="644.6"/><linearGradient id="anf" href="#jet" x1="610.4" y1="938.2" x2="757.3" y2="619.9"/><linearGradient id="ang" href="#jet" x1="620.7" y1="947.5" x2="760.8" y2="615.4"/><linearGradient id="anh" href="#jet" x1="620.1" y1="921.6" x2="772.4" y2="662.2"/><linearGradient id="ani" href="#jet" x1="626.3" y1="940.7" x2="772.1" y2="636.5"/><linearGradient id="anj" href="#jet" x1="635.5" y1="959.1" x2="768" y2="611.7"/><linearGradient id="ank" href="#jet" x1="636.5" y1="953.9" x2="775.3" y2="623.8"/><linearGradient id="anl" href="#jet" x1="636.5" y1="930.6" x2="786.2" y2="667.2"/><linearGradient id="anm" href="#jet" x1="642" y1="944.6" x2="787.2" y2="649.8"/><linearGradient id="ann" href="#jet" x1="651" y1="965.6" x2="783" y2="619.9"/><linearGradient id="ano" href="#jet" x1="805.1" y1="1027.1" x2="541.5" y2="524.3"/><linearGradient id="anp" href="#jet" x1="638.9" y1="965.2" x2="766.8" y2="607.9"/><linearGradient id="anq" href="#jet" x1="807.9" y1="873.6" x2="539.9" y2="859.8"/><linearGradient id="anr" href="#jet" x1="633.8" y1="910" x2="784.4" y2="691.6"/><linearGradient id="ans" href="#jet" x1="793.5" y1="1038.2" x2="579.6" y2="526.1"/><linearGradient id="ant" href="#jet" x1="647.1" y1="976.9" x2="786.5" y2="611.6"/><linearGradient id="anu" href="#jet" x1="791.5" y1="1044.1" x2="593.1" y2="527.6"/><linearGradient id="anv" href="#jet" x1="643" y1="949.6" x2="814.5" y2="667.2"/><linearGradient id="anw" href="#jet" x1="790.3" y1="1049.8" x2="608.6" y2="528.5"/><linearGradient id="anx" href="#jet" x1="656.7" y1="988" x2="816.1" y2="623.1"/><linearGradient id="any" href="#jet" x1="790.6" y1="1055.1" x2="621.2" y2="530.1"/><linearGradient id="anz" href="#jet" x1="658.9" y1="983.6" x2="835.8" y2="645.2"/><linearGradient id="ao0" href="#jet" x1="735.5" y1="1057.3" x2="763.9" y2="532.5"/><linearGradient id="ao1" href="#jet" x1="791.3" y1="1062.9" x2="650.4" y2="524.6"/><linearGradient id="ao2" href="#jet" x1="761.8" y1="1062.7" x2="771" y2="527"/><linearGradient id="ao3" href="#jet" x1="674.2" y1="922.5" x2="841.4" y2="717.5"/><linearGradient id="ao4" href="#jet" x1="837.4" y1="1069.2" x2="659.2" y2="550.4"/><linearGradient id="ao5" href="#jet" x1="689.3" y1="934.8" x2="856.6" y2="729.9"/><linearGradient id="ao6" href="#jet" x1="750.6" y1="1054.7" x2="868.6" y2="602.3"/><linearGradient id="ao7" href="#jet" x1="736.9" y1="976.6" x2="917.1" y2="797.8"/><linearGradient id="ao8" href="#jet" x1="802.2" y1="1085.6" x2="776.7" y2="543.7"/><linearGradient id="ao9" href="#jet" x1="839.9" y1="1085.9" x2="704.8" y2="546"/><linearGradient id="aoa" href="#jet" x1="814.8" y1="1086.4" x2="810.6" y2="545.6"/><linearGradient id="aob" href="#jet" x1="726.7" y1="918.6" x2="879.7" y2="758.1"/><linearGradient id="aoc" href="#jet" x1="834.9" y1="1083.8" x2="807.4" y2="556.9"/><linearGradient id="aod" href="#jet" x1="958.7" y1="1074.7" x2="626" y2="572.7"/></defs>
<g stroke-width="0.7" stroke-linejoin="round"><path fill="url(#a0)" stroke="url(#a0)" d="M891.6,343.5L959.9,337.1L1043.3,375.5L975,381.8z"/><path fill="url(#a1)" stroke="url(#a1)" d="M975,381.8L1043.3,375.5L1057.2,380.4L988.9,385.8z"/><path fill="url(#a2)" stroke="url(#a2)" d="M988.9,385.8L1057.2,380.4L1071.1,388.2L1002.8,394.6z"/><path fill="url(#a3)" stroke="url(#a3)" d="M1002.8,394.6L1071.1,388.2L1106.5,404.5L1038.2,410.9z"/><path fill="url(#a4)" stroke="url(#a4)" d="M1038.2,410.9L1106.5,404.5L1120.4,410L1052.1,415.8z"/><path fill="url(#a5)" stroke="url(#a5)" d="M1052.1,415.8L1120.4,410L1142.1,420.2L1073.9,426.1z"/><path fill="url(#a6)" stroke="url(#a6)" d="M1073.9,426.1L1142.1,420.2L1156,427.4L1087.7,433.7z"/><path fill="url(#a7)" stroke="url(#a7)" d="M1087.7,433.7L1156,427.4L1182.7,439.6L1114.4,446z"/><path fill="url(#a8)" stroke="url(#a8)" d="M1114.4,446L1182.7,439.6L1196.6,444.3L1128.3,449.6z"/><path fill="url(#a9)" stroke="url(#a9)" d="M1128.3,449.6L1196.6,444.3L1210.5,452.4L1142.2,458.8z"/><path fill="url(#aa)" stroke="url(#aa)" d="M1142.2,458.8L1210.5,452.4L1261.9,476L1193.6,482.4z"/><path fill="url(#ab)" stroke="url(#ab)" d="M1193.6,482.4L1261.9,476L1275.8,481.7L1207.5,487.6z"/><path fill="url(#ac)" stroke="url(#ac)" d="M1207.5,487.6L1275.8,481.7L1289.6,488.8L1221.4,495.2z"/><path fill="url(#ad)" stroke="url(#ad)" d="M1221.4,495.2L1289.6,488.8L1309.1,497.8L1240.8,504.2z"/><path fill="url(#ae)" stroke="url(#ae)" d="M1240.8,504.2L1309.1,497.8L1323,503.5L1254.7,509.4z"/><path fill="url(#af)" stroke="url(#af)" d="M1254.7,509.4L1323,503.5L1329.9,505.7L1261.6,511z"/><path fill="url(#ag)" stroke="url(#ag)" d="M1261.6,511L1329.9,505.7L1353.8,517.2L1285.5,522.8z"/><path fill="url(#ah)" stroke="url(#ah)" d="M1285.5,522.8L1353.8,517.2L1367.7,524.7L1299.4,531.1z"/><path fill="url(#ai)" stroke="url(#ai)" d="M1299.4,531.1L1367.7,524.7L1450.8,563L1382.5,569.4z"/><path fill="url(#aj)" stroke="url(#aj)" d="M1382.5,569.4L1450.8,563L1464.7,567.9L1396.4,573.4z"/><path fill="url(#ak)" stroke="url(#ak)" d="M1396.4,573.4L1464.7,567.9L1478.6,575.8L1410.3,582.2z"/><path fill="url(#al)" stroke="url(#al)" d="M1410.3,582.2L1478.6,575.8L1500.6,585.9L1432.3,592.3z"/><path fill="url(#am)" stroke="url(#am)" d="M1432.3,592.3L1500.6,585.9L1514.5,590.9L1446.2,596.3z"/><path fill="url(#an)" stroke="url(#an)" d="M1446.2,596.3L1514.5,590.9L1528.4,598.7L1460.1,605.1z"/><path fill="url(#ao)" stroke="url(#ao)" d="M1460.1,605.1L1528.4,598.7L1535.8,602.1L1467.5,618.6z"/><path fill="url(#ap)" stroke="url(#ap)" d="M823.3,318.6L891.6,343.5L975,381.8L906.7,357z"/><path fill="url(#aq)" stroke="url(#aq)" d="M906.7,357L975,381.8L988.9,385.8z"/><path fill="url(#ar)" stroke="url(#ar)" d="M906.7,357L988.9,385.8L920.6,356.2z"/><path fill="url(#as)" stroke="url(#as)" d="M920.6,356.2L988.9,385.8L1002.8,394.6L934.5,369.8z"/><path fill="url(#at)" stroke="url(#at)" d="M934.5,369.8L1002.8,394.6L1038.2,410.9L969.9,386.1z"/><path fill="url(#au)" stroke="url(#au)" d="M969.9,386.1L1038.2,410.9L1052.1,415.8z"/><path fill="url(#av)" stroke="url(#av)" d="M969.9,386.1L1052.1,415.8L983.8,387.8z"/><path fill="url(#aw)" stroke="url(#aw)" d="M983.8,387.8L1052.1,415.8L1073.9,426.1L1005.6,398.9z"/><path fill="url(#ax)" stroke="url(#ax)" d="M1005.6,398.9L1073.9,426.1L1087.7,433.7L1019.5,408.9z"/><path fill="url(#ay)" stroke="url(#ay)" d="M1019.5,408.9L1087.7,433.7L1114.4,446L1046.1,421.1z"/><path fill="url(#az)" stroke="url(#az)" d="M1046.1,421.1L1114.4,446L1128.3,449.6z"/><path fill="url(#a10)" stroke="url(#a10)" d="M1046.1,421.1L1128.3,449.6L1060,419.3z"/><path fill="url(#a11)" stroke="url(#a11)" d="M1060,419.3L1128.3,449.6L1142.2,458.8L1073.9,433.9z"/><path fill="url(#a12)" stroke="url(#a12)" d="M1073.9,433.9L1142.2,458.8L1193.6,482.4L1125.3,457.6z"/><path fill="url(#a13)" stroke="url(#a13)" d="M1125.3,457.6L1193.6,482.4L1207.5,487.6z"/><path fill="url(#a14)" stroke="url(#a14)" d="M1125.3,457.6L1207.5,487.6L1139.2,460.4z"/><path fill="url(#a15)" stroke="url(#a15)" d="M1139.2,460.4L1207.5,487.6L1221.4,495.2L1153.1,470.4z"/><path fill="url(#a16)" stroke="url(#a16)" d="M1153.1,470.4L1221.4,495.2L1240.8,504.2L1172.5,479.3z"/><path fill="url(#a17)" stroke="url(#a17)" d="M1172.5,479.3L1240.8,504.2L1254.7,509.4z"/><path fill="url(#a18)" stroke="url(#a18)" d="M1172.5,479.3L1254.7,509.4L1186.4,482.1z"/><path fill="url(#a19)" stroke="url(#a19)" d="M1186.4,482.1L1254.7,509.4L1261.6,511L1193.4,480.6z"/><path fill="url(#a1a)" stroke="url(#a1a)" d="M1261.6,511L1285.5,522.8L1217.2,494.1z"/><path fill="url(#a1b)" stroke="url(#a1b)" d="M1261.6,511L1217.2,494.1L1193.4,480.6z"/><path fill="url(#a1c)" stroke="url(#a1c)" d="M1217.2,494.1L1285.5,522.8L1299.4,531.1L1231.1,506.3z"/><path fill="url(#a1d)" stroke="url(#a1d)" d="M1231.1,506.3L1299.4,531.1L1382.5,569.4L1314.2,544.5z"/><path fill="url(#a1e)" stroke="url(#a1e)" d="M1314.2,544.5L1382.5,569.4L1396.4,573.4z"/><path fill="url(#a1f)" stroke="url(#a1f)" d="M1314.2,544.5L1396.4,573.4L1328.1,543.7z"/><path fill="url(#a1g)" stroke="url(#a1g)" d="M1328.1,543.7L1396.4,573.4L1410.3,582.2L1342,557.3z"/><path fill="url(#a1h)" stroke="url(#a1h)" d="M1342,557.3L1410.3,582.2L1432.3,592.3L1364,567.4z"/><path fill="url(#a1i)" stroke="url(#a1i)" d="M1364,567.4L1432.3,592.3L1446.2,596.3z"/><path fill="url(#a1j)" stroke="url(#a1j)" d="M1364,567.4L1446.2,596.3L1377.9,566.6z"/><path fill="url(#a1k)" stroke="url(#a1k)" d="M1377.9,566.6L1446.2,596.3L1460.1,605.1L1391.8,580.2z"/><path fill="url(#a1l)" stroke="url(#a1l)" d="M1391.8,580.2L1460.1,605.1L1467.5,618.6L1399.2,621.1z"/><path fill="url(#a1m)" stroke="url(#a1m)" d="M755,371.6L823.3,318.6L906.7,357L838.4,410z"/><path fill="url(#a1n)" stroke="url(#a1n)" d="M838.4,410L906.7,357L920.6,356.2L852.3,411.5z"/><path fill="url(#a1o)" stroke="url(#a1o)" d="M852.3,411.5L920.6,356.2L934.5,369.8L866.2,422.7z"/><path fill="url(#a1p)" stroke="url(#a1p)" d="M866.2,422.7L934.5,369.8L969.9,386.1L901.6,439z"/><path fill="url(#a1q)" stroke="url(#a1q)" d="M901.6,439L969.9,386.1L983.8,387.8L915.5,442.3z"/><path fill="url(#a1r)" stroke="url(#a1r)" d="M915.5,442.3L983.8,387.8L1005.6,398.9L937.3,453.1z"/><path fill="url(#a1s)" stroke="url(#a1s)" d="M937.3,453.1L1005.6,398.9L1019.5,408.9L951.2,461.8z"/><path fill="url(#a1t)" stroke="url(#a1t)" d="M951.2,461.8L1019.5,408.9L1046.1,421.1L977.8,474.1z"/><path fill="url(#a1u)" stroke="url(#a1u)" d="M977.8,474.1L1046.1,421.1L1060,419.3L991.7,475z"/><path fill="url(#a1v)" stroke="url(#a1v)" d="M991.7,475L1060,419.3L1073.9,433.9L1005.6,486.9z"/><path fill="url(#a1w)" stroke="url(#a1w)" d="M1005.6,486.9L1073.9,433.9L1125.3,457.6L1057,510.5z"/><path fill="url(#a1x)" stroke="url(#a1x)" d="M1057,510.5L1125.3,457.6L1139.2,460.4L1070.9,514.5z"/><path fill="url(#a1y)" stroke="url(#a1y)" d="M1070.9,514.5L1139.2,460.4L1153.1,470.4L1084.8,523.3z"/><path fill="url(#a1z)" stroke="url(#a1z)" d="M1084.8,523.3L1153.1,470.4L1172.5,479.3L1104.2,532.3z"/><path fill="url(#a20)" stroke="url(#a20)" d="M1104.2,532.3L1172.5,479.3L1186.4,482.1L1118.1,536.3z"/><path fill="url(#a21)" stroke="url(#a21)" d="M1118.1,536.3L1186.4,482.1L1193.4,480.6L1125.1,536.3z"/><path fill="url(#a22)" stroke="url(#a22)" d="M1125.1,536.3L1193.4,480.6L1217.2,494.1L1148.9,549z"/><path fill="url(#a23)" stroke="url(#a23)" d="M1148.9,549L1217.2,494.1L1231.1,506.3L1162.8,559.2z"/><path fill="url(#a24)" stroke="url(#a24)" d="M1162.8,559.2L1231.1,506.3L1314.2,544.5L1245.9,597.5z"/><path fill="url(#a25)" stroke="url(#a25)" d="M1245.9,597.5L1314.2,544.5L1328.1,543.7L1259.8,599.1z"/><path fill="url(#a26)" stroke="url(#a26)" d="M1259.8,599.1L1328.1,543.7L1342,557.3L1273.7,610.3z"/><path fill="url(#a27)" stroke="url(#a27)" d="M1273.7,610.3L1342,557.3L1364,567.4L1295.7,620.4z"/><path fill="url(#a28)" stroke="url(#a28)" d="M1295.7,620.4L1364,567.4L1377.9,566.6L1309.6,622z"/><path fill="url(#a29)" stroke="url(#a29)" d="M1309.6,622L1377.9,566.6L1391.8,580.2L1323.5,633.2z"/><path fill="url(#a2a)" stroke="url(#a2a)" d="M1323.5,633.2L1391.8,580.2L1399.2,621.1L1330.9,640.9z"/><path fill="url(#a2b)" stroke="url(#a2b)" d="M686.7,467.3L755,371.6L761.3,374.5L693,469.9z"/><path fill="url(#a2c)" stroke="url(#a2c)" d="M693,469.9L761.3,374.5L770.5,378.7L702.3,474.8z"/><path fill="url(#a2d)" stroke="url(#a2d)" d="M702.3,474.8L770.5,378.7L779.8,383L711.5,480z"/><path fill="url(#a2e)" stroke="url(#a2e)" d="M711.5,480L779.8,383L789.1,387.3L720.8,484z"/><path fill="url(#a2f)" stroke="url(#a2f)" d="M720.8,484L789.1,387.3L798.3,391.5L730,485.2z"/><path fill="url(#a2g)" stroke="url(#a2g)" d="M730,485.2L798.3,391.5L807.6,395.8L739.3,489.6z"/><path fill="url(#a2h)" stroke="url(#a2h)" d="M739.3,489.6L807.6,395.8L816.9,400L748.6,497.4z"/><path fill="url(#a2i)" stroke="url(#a2i)" d="M748.6,497.4L816.9,400L826.1,404.3L757.8,502.3z"/><path fill="url(#a2j)" stroke="url(#a2j)" d="M757.8,502.3L826.1,404.3L838.4,410L770.1,505.6z"/><path fill="url(#a2k)" stroke="url(#a2k)" d="M770.1,505.6L838.4,410L844.6,410.7L776.4,506.4z"/><path fill="url(#a2l)" stroke="url(#a2l)" d="M776.4,506.4L844.6,410.7L852.3,411.5L784,512z"/><path fill="url(#a2m)" stroke="url(#a2m)" d="M784,512L852.3,411.5L866.2,422.7L797.9,518.4z"/><path fill="url(#a2n)" stroke="url(#a2n)" d="M797.9,518.4L866.2,422.7L872.4,425.6L804.1,519.4z"/><path fill="url(#a2o)" stroke="url(#a2o)" d="M804.1,519.4L872.4,425.6L881.7,429.9L813.4,526.8z"/><path fill="url(#a2p)" stroke="url(#a2p)" d="M813.4,526.8L881.7,429.9L891,434.1L822.7,529.9z"/><path fill="url(#a2q)" stroke="url(#a2q)" d="M822.7,529.9L891,434.1L901.6,439L833.3,534.7z"/><path fill="url(#a2r)" stroke="url(#a2r)" d="M833.3,534.7L901.6,439L909.5,440.9L841.2,537.2z"/><path fill="url(#a2s)" stroke="url(#a2s)" d="M841.2,537.2L909.5,440.9L915.5,442.3L847.2,541.1z"/><path fill="url(#a2t)" stroke="url(#a2t)" d="M847.2,541.1L915.5,442.3L928,448.5L859.7,544.2z"/><path fill="url(#a2u)" stroke="url(#a2u)" d="M859.7,544.2L928,448.5L937.3,453.1L869,551.1z"/><path fill="url(#a2v)" stroke="url(#a2v)" d="M869,551.1L937.3,453.1L946.5,458.9L878.2,553.5z"/><path fill="url(#a2w)" stroke="url(#a2w)" d="M878.2,553.5L946.5,458.9L951.2,461.8L882.9,557.5z"/><path fill="url(#a2x)" stroke="url(#a2x)" d="M882.9,557.5L951.2,461.8L955.8,464L887.5,561.2z"/><path fill="url(#a2y)" stroke="url(#a2y)" d="M887.5,561.2L955.8,464L965.1,468.2L896.8,565.6z"/><path fill="url(#a2z)" stroke="url(#a2z)" d="M896.8,565.6L965.1,468.2L977.8,474.1L909.5,569.8z"/><path fill="url(#a30)" stroke="url(#a30)" d="M909.5,569.8L977.8,474.1L983.6,474.5L915.3,573.2z"/><path fill="url(#a31)" stroke="url(#a31)" d="M915.3,573.2L983.6,474.5L991.7,475L923.4,576.2z"/><path fill="url(#a32)" stroke="url(#a32)" d="M923.4,576.2L991.7,475L1005.6,486.9L937.3,582.6z"/><path fill="url(#a33)" stroke="url(#a33)" d="M937.3,582.6L1005.6,486.9L1011.4,489.6L943.1,582.5z"/><path fill="url(#a34)" stroke="url(#a34)" d="M943.1,582.5L1011.4,489.6L1020.6,493.8L952.3,587.8z"/><path fill="url(#a35)" stroke="url(#a35)" d="M952.3,587.8L1020.6,493.8L1029.9,498.1L961.6,591.6z"/><path fill="url(#a36)" stroke="url(#a36)" d="M961.6,591.6L1029.9,498.1L1039.2,502.3L970.9,600z"/><path fill="url(#a37)" stroke="url(#a37)" d="M970.9,600L1039.2,502.3L1048.4,506.6L980.1,600.1z"/><path fill="url(#a38)" stroke="url(#a38)" d="M980.1,600.1L1048.4,506.6L1057,510.5L988.7,606.2z"/><path fill="url(#a39)" stroke="url(#a39)" d="M988.7,606.2L1057,510.5L1066.9,513.4L998.7,611.3z"/><path fill="url(#a3a)" stroke="url(#a3a)" d="M998.7,611.3L1066.9,513.4L1070.9,514.5L1002.6,612.6z"/><path fill="url(#a3b)" stroke="url(#a3b)" d="M1002.6,612.6L1070.9,514.5L1076.2,517.9L1007.9,616.2z"/><path fill="url(#a3c)" stroke="url(#a3c)" d="M1007.9,616.2L1076.2,517.9L1084.8,523.3L1016.5,619z"/><path fill="url(#a3d)" stroke="url(#a3d)" d="M1016.5,619L1084.8,523.3L1094.7,527.9L1026.4,625.7z"/><path fill="url(#a3e)" stroke="url(#a3e)" d="M1026.4,625.7L1094.7,527.9L1104.2,532.3L1035.9,628z"/><path fill="url(#a3f)" stroke="url(#a3f)" d="M1035.9,628L1104.2,532.3L1113.3,534.9L1045,630.8z"/><path fill="url(#a3g)" stroke="url(#a3g)" d="M1045,630.8L1113.3,534.9L1118.1,536.3L1049.8,634.4z"/><path fill="url(#a3h)" stroke="url(#a3h)" d="M1049.8,634.4L1118.1,536.3L1125.1,536.3L1056.8,637.6z"/><path fill="url(#a3i)" stroke="url(#a3i)" d="M1056.8,637.6L1125.1,536.3L1131.8,539.9L1063.5,641.5z"/><path fill="url(#a3j)" stroke="url(#a3j)" d="M1063.5,641.5L1131.8,539.9L1141,544.8L1072.8,643.6z"/><path fill="url(#a3k)" stroke="url(#a3k)" d="M1072.8,643.6L1141,544.8L1148.9,549L1080.6,648.5z"/><path fill="url(#a3l)" stroke="url(#a3l)" d="M1080.6,648.5L1148.9,549L1162.8,559.2L1094.5,654.9z"/><path fill="url(#a3m)" stroke="url(#a3m)" d="M1094.5,654.9L1162.8,559.2L1168.8,562L1100.5,655.7z"/><path fill="url(#a3n)" stroke="url(#a3n)" d="M1100.5,655.7L1168.8,562L1178.1,566.3L1109.8,660.8z"/><path fill="url(#a3o)" stroke="url(#a3o)" d="M1109.8,660.8L1178.1,566.3L1187.4,570.5L1119.1,668.2z"/><path fill="url(#a3p)" stroke="url(#a3p)" d="M1119.1,668.2L1187.4,570.5L1196.6,574.8L1128.3,669.1z"/><path fill="url(#a3q)" stroke="url(#a3q)" d="M1128.3,669.1L1196.6,574.8L1205.9,579.1L1137.6,676z"/><path fill="url(#a3r)" stroke="url(#a3r)" d="M1137.6,676L1205.9,579.1L1215.1,583.3L1146.9,676.9z"/><path fill="url(#a3s)" stroke="url(#a3s)" d="M1146.9,676.9L1215.1,583.3L1224.4,587.6L1156.1,685.8z"/><path fill="url(#a3t)" stroke="url(#a3t)" d="M1156.1,685.8L1224.4,587.6L1233.7,591.8L1165.4,688.5z"/><path fill="url(#a3u)" stroke="url(#a3u)" d="M1165.4,688.5L1233.7,591.8L1245.9,597.5L1177.7,693.2z"/><path fill="url(#a3v)" stroke="url(#a3v)" d="M1177.7,693.2L1245.9,597.5L1252.2,598.2L1183.9,693.8z"/><path fill="url(#a3w)" stroke="url(#a3w)" d="M1183.9,693.8L1252.2,598.2L1259.8,599.1L1191.5,699.6z"/><path fill="url(#a3x)" stroke="url(#a3x)" d="M1191.5,699.6L1259.8,599.1L1273.7,610.3L1205.4,706z"/><path fill="url(#a3y)" stroke="url(#a3y)" d="M1205.4,706L1273.7,610.3L1280,613.2L1211.7,707.7z"/><path fill="url(#a3z)" stroke="url(#a3z)" d="M1211.7,707.7L1280,613.2L1289.2,617.4L1221,714.5z"/><path fill="url(#a40)" stroke="url(#a40)" d="M1221,714.5L1289.2,617.4L1295.7,620.4L1227.4,716.1z"/><path fill="url(#a41)" stroke="url(#a41)" d="M1227.4,716.1L1295.7,620.4L1309.6,622L1241.3,722.5z"/><path fill="url(#a42)" stroke="url(#a42)" d="M1241.3,722.5L1309.6,622L1317,628L1248.7,727.8z"/><path fill="url(#a43)" stroke="url(#a43)" d="M1248.7,727.8L1317,628L1323.5,633.2L1255.2,728.9z"/><path fill="url(#a44)" stroke="url(#a44)" d="M1255.2,728.9L1323.5,633.2L1330.9,640.9L1262.6,733.2z"/><path fill="url(#a45)" stroke="url(#a45)" d="M618.4,380L686.7,467.3L693,469.9L624.7,381z"/><path fill="url(#a46)" stroke="url(#a46)" d="M624.7,381L693,469.9L696.5,471.8L628.2,381.6z"/><path fill="url(#a47)" stroke="url(#a47)" d="M628.2,381.6L696.5,471.8L702.3,474.8L634,386.4z"/><path fill="url(#a48)" stroke="url(#a48)" d="M634,386.4L702.3,474.8L703.4,475.5L635.1,387.4z"/><path fill="url(#a49)" stroke="url(#a49)" d="M635.1,387.4L703.4,475.5L710.4,479.3L642.1,386.9z"/><path fill="url(#a4a)" stroke="url(#a4a)" d="M710.4,479.3L711.5,480L643.2,388.7z"/><path fill="url(#a4b)" stroke="url(#a4b)" d="M710.4,479.3L643.2,388.7L642.1,386.9z"/><path fill="url(#a4c)" stroke="url(#a4c)" d="M711.5,480L717.3,482.5L649,397.7z"/><path fill="url(#a4d)" stroke="url(#a4d)" d="M711.5,480L649,397.7L643.2,388.7z"/><path fill="url(#a4e)" stroke="url(#a4e)" d="M649,397.7L717.3,482.5L720.8,484L652.5,399.4z"/><path fill="url(#a4f)" stroke="url(#a4f)" d="M652.5,399.4L720.8,484L724.2,484.5L656,401.1z"/><path fill="url(#a4g)" stroke="url(#a4g)" d="M656,401.1L724.2,484.5L730,485.2L661.7,403.7z"/><path fill="url(#a4h)" stroke="url(#a4h)" d="M661.7,403.7L730,485.2L731.2,485.8L662.9,404.2z"/><path fill="url(#a4i)" stroke="url(#a4i)" d="M662.9,404.2L731.2,485.8L738.1,489L669.9,404.2z"/><path fill="url(#a4j)" stroke="url(#a4j)" d="M669.9,404.2L738.1,489L739.3,489.6L671,404z"/><path fill="url(#a4k)" stroke="url(#a4k)" d="M671,404L739.3,489.6L745.1,494.4L676.8,402.9z"/><path fill="url(#a4l)" stroke="url(#a4l)" d="M676.8,402.9L745.1,494.4L748.6,497.4L680.3,405.9z"/><path fill="url(#a4m)" stroke="url(#a4m)" d="M680.3,405.9L748.6,497.4L752,499.2L683.7,408.8z"/><path fill="url(#a4n)" stroke="url(#a4n)" d="M683.7,408.8L752,499.2L757.8,502.3L689.5,414.1z"/><path fill="url(#a4o)" stroke="url(#a4o)" d="M689.5,414.1L757.8,502.3L759,502.7L690.7,415.2z"/><path fill="url(#a4p)" stroke="url(#a4p)" d="M690.7,415.2L759,502.7L765.9,504.5L697.6,416.7z"/><path fill="url(#a4q)" stroke="url(#a4q)" d="M697.6,416.7L765.9,504.5L770.1,505.6L701.8,418.5z"/><path fill="url(#a4r)" stroke="url(#a4r)" d="M701.8,418.5L770.1,505.6L774.7,506.2L706.4,420.5z"/><path fill="url(#a4s)" stroke="url(#a4s)" d="M706.4,420.5L774.7,506.2L776.4,506.4L708.1,420z"/><path fill="url(#a4t)" stroke="url(#a4t)" d="M708.1,420L776.4,506.4L779.8,509L711.5,418.9z"/><path fill="url(#a4u)" stroke="url(#a4u)" d="M711.5,418.9L779.8,509L784,512L715.7,420z"/><path fill="url(#a4v)" stroke="url(#a4v)" d="M715.7,420L784,512L793.3,516.3L725,429z"/><path fill="url(#a4w)" stroke="url(#a4w)" d="M725,429L793.3,516.3L797.9,518.4L729.6,429.9z"/><path fill="url(#a4x)" stroke="url(#a4x)" d="M729.6,429.9L797.9,518.4L800.7,518.9L732.4,430.5z"/><path fill="url(#a4y)" stroke="url(#a4y)" d="M732.4,430.5L800.7,518.9L804.1,519.4L735.8,434.3z"/><path fill="url(#a4z)" stroke="url(#a4z)" d="M735.8,434.3L804.1,519.4L807.6,522.2L739.3,438.2z"/><path fill="url(#a50)" stroke="url(#a50)" d="M739.3,438.2L807.6,522.2L813.4,526.8L745.1,442z"/><path fill="url(#a51)" stroke="url(#a51)" d="M745.1,442L813.4,526.8L814.6,527.2L746.3,442.7z"/><path fill="url(#a52)" stroke="url(#a52)" d="M746.3,442.7L814.6,527.2L821.5,529.5L753.2,442.8z"/><path fill="url(#a53)" stroke="url(#a53)" d="M753.2,442.8L821.5,529.5L822.7,529.9L754.4,443.7z"/><path fill="url(#a54)" stroke="url(#a54)" d="M754.4,443.7L822.7,529.9L828.5,532.5L760.2,448.3z"/><path fill="url(#a55)" stroke="url(#a55)" d="M760.2,448.3L828.5,532.5L833.3,534.7L765,449z"/><path fill="url(#a56)" stroke="url(#a56)" d="M765,449L833.3,534.7L837.9,536.2L769.7,449.6z"/><path fill="url(#a57)" stroke="url(#a57)" d="M769.7,449.6L837.9,536.2L841.2,537.2L772.9,449.1z"/><path fill="url(#a58)" stroke="url(#a58)" d="M772.9,449.1L841.2,537.2L842.3,538L774.1,448.9z"/><path fill="url(#a59)" stroke="url(#a59)" d="M774.1,448.9L842.3,538L847.2,541.1L778.9,450.8z"/><path fill="url(#a5a)" stroke="url(#a5a)" d="M778.9,450.8L847.2,541.1L856.5,543.4L788.2,458.1z"/><path fill="url(#a5b)" stroke="url(#a5b)" d="M788.2,458.1L856.5,543.4L859.7,544.2L791.4,459.6z"/><path fill="url(#a5c)" stroke="url(#a5c)" d="M791.4,459.6L859.7,544.2L863.2,546.8L794.9,456.9z"/><path fill="url(#a5d)" stroke="url(#a5d)" d="M794.9,456.9L863.2,546.8L869,551.1L800.7,461.5z"/><path fill="url(#a5e)" stroke="url(#a5e)" d="M800.7,461.5L869,551.1L878.2,553.5L809.9,468.2z"/><path fill="url(#a5f)" stroke="url(#a5f)" d="M809.9,468.2L878.2,553.5L882.9,557.5L814.6,473.2z"/><path fill="url(#a5g)" stroke="url(#a5g)" d="M814.6,473.2L882.9,557.5L884,558.4L815.7,474.5z"/><path fill="url(#a5h)" stroke="url(#a5h)" d="M815.7,474.5L884,558.4L887.5,561.2L819.2,475.7z"/><path fill="url(#a5i)" stroke="url(#a5i)" d="M819.2,475.7L887.5,561.2L891,562.8L822.7,476.8z"/><path fill="url(#a5j)" stroke="url(#a5j)" d="M822.7,476.8L891,562.8L896.8,565.6L828.5,479.2z"/><path fill="url(#a5k)" stroke="url(#a5k)" d="M828.5,479.2L896.8,565.6L897.9,566L829.6,479.6z"/><path fill="url(#a5l)" stroke="url(#a5l)" d="M829.6,479.6L897.9,566L904.9,568.3L836.6,480.8z"/><path fill="url(#a5m)" stroke="url(#a5m)" d="M836.6,480.8L904.9,568.3L909.5,569.8L841.2,482.7z"/><path fill="url(#a5n)" stroke="url(#a5n)" d="M841.2,482.7L909.5,569.8L914.1,572.5L845.8,484.7z"/><path fill="url(#a5o)" stroke="url(#a5o)" d="M845.8,484.7L914.1,572.5L915.3,573.2L847,484.5z"/><path fill="url(#a5p)" stroke="url(#a5p)" d="M847,484.5L915.3,573.2L918.8,574.5L850.5,484.2z"/><path fill="url(#a5q)" stroke="url(#a5q)" d="M850.5,484.2L918.8,574.5L923.4,576.2L855.1,483.4z"/><path fill="url(#a5r)" stroke="url(#a5r)" d="M855.1,483.4L923.4,576.2L932.7,580.4L864.4,493.2z"/><path fill="url(#a5s)" stroke="url(#a5s)" d="M864.4,493.2L932.7,580.4L937.3,582.6L869,493.7z"/><path fill="url(#a5t)" stroke="url(#a5t)" d="M869,493.7L937.3,582.6L939.6,582.6L871.3,493.9z"/><path fill="url(#a5u)" stroke="url(#a5u)" d="M871.3,493.9L939.6,582.6L943.1,582.5L874.8,494.9z"/><path fill="url(#a5v)" stroke="url(#a5v)" d="M874.8,494.9L943.1,582.5L946.6,584.5L878.3,495.9z"/><path fill="url(#a5w)" stroke="url(#a5w)" d="M878.3,495.9L946.6,584.5L952.3,587.8L884,501.7z"/><path fill="url(#a5x)" stroke="url(#a5x)" d="M884,501.7L952.3,587.8L953.5,588.3L885.2,502.9z"/><path fill="url(#a5y)" stroke="url(#a5y)" d="M885.2,502.9L953.5,588.3L960.4,591.1L892.2,509.5z"/><path fill="url(#a5z)" stroke="url(#a5z)" d="M892.2,509.5L960.4,591.1L961.6,591.6L893.3,509.4z"/><path fill="url(#a60)" stroke="url(#a60)" d="M893.3,509.4L961.6,591.6L967.4,596.9L899.1,508.8z"/><path fill="url(#a61)" stroke="url(#a61)" d="M899.1,508.8L967.4,596.9L970.9,600L902.6,509.1z"/><path fill="url(#a62)" stroke="url(#a62)" d="M902.6,509.1L970.9,600L974.3,600.1L906,509.3z"/><path fill="url(#a63)" stroke="url(#a63)" d="M906,509.3L974.3,600.1L980.1,600.1L911.8,511.1z"/><path fill="url(#a64)" stroke="url(#a64)" d="M911.8,511.1L980.1,600.1L981.3,600.9L913,511.5z"/><path fill="url(#a65)" stroke="url(#a65)" d="M913,511.5L981.3,600.9L988.7,606.2L920.4,516.7z"/><path fill="url(#a66)" stroke="url(#a66)" d="M920.4,516.7L988.7,606.2L993.3,608.6L925,521.1z"/><path fill="url(#a67)" stroke="url(#a67)" d="M925,521.1L993.3,608.6L998.7,611.3L930.4,522.2z"/><path fill="url(#a68)" stroke="url(#a68)" d="M930.4,522.2L998.7,611.3L1002.6,612.6L934.3,523z"/><path fill="url(#a69)" stroke="url(#a69)" d="M934.3,523L1002.6,612.6L1007.9,616.2L939.6,526.8z"/><path fill="url(#a6a)" stroke="url(#a6a)" d="M939.6,526.8L1007.9,616.2L1011.9,617.5L943.6,529.6z"/><path fill="url(#a6b)" stroke="url(#a6b)" d="M943.6,529.6L1011.9,617.5L1016.5,619L948.2,530.1z"/><path fill="url(#a6c)" stroke="url(#a6c)" d="M948.2,530.1L1016.5,619L1023,623.4L954.7,537.4z"/><path fill="url(#a6d)" stroke="url(#a6d)" d="M954.7,537.4L1023,623.4L1026.4,625.7L958.2,539z"/><path fill="url(#a6e)" stroke="url(#a6e)" d="M958.2,539L1026.4,625.7L1029.9,626.5L961.6,540.6z"/><path fill="url(#a6f)" stroke="url(#a6f)" d="M961.6,540.6L1029.9,626.5L1035.9,628L967.6,540.7z"/><path fill="url(#a6g)" stroke="url(#a6g)" d="M967.6,540.7L1035.9,628L1036.9,628.3L968.6,540.7z"/><path fill="url(#a6h)" stroke="url(#a6h)" d="M968.6,540.7L1036.9,628.3L1040.6,629.4L972.3,542.8z"/><path fill="url(#a6i)" stroke="url(#a6i)" d="M972.3,542.8L1040.6,629.4L1043.8,630.5L975.5,544.7z"/><path fill="url(#a6j)" stroke="url(#a6j)" d="M975.5,544.7L1043.8,630.5L1045,630.8L976.7,544.7z"/><path fill="url(#a6k)" stroke="url(#a6k)" d="M976.7,544.7L1045,630.8L1049.8,634.4L981.5,544.7z"/><path fill="url(#a6l)" stroke="url(#a6l)" d="M981.5,544.7L1049.8,634.4L1056.8,637.6L988.5,544.8z"/><path fill="url(#a6m)" stroke="url(#a6m)" d="M988.5,544.8L1056.8,637.6L1063.5,641.5L995.2,551.9z"/><path fill="url(#a6n)" stroke="url(#a6n)" d="M995.2,551.9L1063.5,641.5L1066,642.1L997.7,554.6z"/><path fill="url(#a6o)" stroke="url(#a6o)" d="M997.7,554.6L1066,642.1L1071.4,643.3L1003.1,557z"/><path fill="url(#a6p)" stroke="url(#a6p)" d="M1003.1,557L1071.4,643.3L1072.8,643.6L1004.5,557.1z"/><path fill="url(#a6q)" stroke="url(#a6q)" d="M1004.5,557.1L1072.8,643.6L1080.6,648.5L1012.3,557.4z"/><path fill="url(#a6r)" stroke="url(#a6r)" d="M1012.3,557.4L1080.6,648.5L1085.5,650.8L1017.2,560.5z"/><path fill="url(#a6s)" stroke="url(#a6s)" d="M1017.2,560.5L1085.5,650.8L1089.9,652.8L1021.6,565.5z"/><path fill="url(#a6t)" stroke="url(#a6t)" d="M1021.6,565.5L1089.9,652.8L1094.5,654.9L1026.2,565.9z"/><path fill="url(#a6u)" stroke="url(#a6u)" d="M1026.2,565.9L1094.5,654.9L1099.4,655.6L1031.1,566.3z"/><path fill="url(#a6v)" stroke="url(#a6v)" d="M1031.1,566.3L1099.4,655.6L1100.5,655.7L1032.3,567.2z"/><path fill="url(#a6w)" stroke="url(#a6w)" d="M1032.3,567.2L1100.5,655.7L1106.3,658.9L1038,571.7z"/><path fill="url(#a6x)" stroke="url(#a6x)" d="M1038,571.7L1106.3,658.9L1109.8,660.8L1041.5,573z"/><path fill="url(#a6y)" stroke="url(#a6y)" d="M1041.5,573L1109.8,660.8L1113.3,663.6L1045,574.2z"/><path fill="url(#a6z)" stroke="url(#a6z)" d="M1045,574.2L1113.3,663.6L1119.1,668.2L1050.8,576.2z"/><path fill="url(#a70)" stroke="url(#a70)" d="M1050.8,576.2L1119.1,668.2L1120.2,668.3L1051.9,576.5z"/><path fill="url(#a71)" stroke="url(#a71)" d="M1051.9,576.5L1120.2,668.3L1127.2,669L1058.9,582.9z"/><path fill="url(#a72)" stroke="url(#a72)" d="M1058.9,582.9L1127.2,669L1128.3,669.1L1060,583z"/><path fill="url(#a73)" stroke="url(#a73)" d="M1060,583L1128.3,669.1L1134.1,673.4L1065.8,583.9z"/><path fill="url(#a74)" stroke="url(#a74)" d="M1065.8,583.9L1134.1,673.4L1137.6,676L1069.3,585z"/><path fill="url(#a75)" stroke="url(#a75)" d="M1069.3,585L1137.6,676L1141.1,676.3L1072.8,586.2z"/><path fill="url(#a76)" stroke="url(#a76)" d="M1072.8,586.2L1141.1,676.3L1146.9,676.9L1078.6,588.2z"/><path fill="url(#a77)" stroke="url(#a77)" d="M1078.6,588.2L1146.9,676.9L1148,678L1079.7,588.6z"/><path fill="url(#a78)" stroke="url(#a78)" d="M1148,678L1155,684.7L1086.7,597.5z"/><path fill="url(#a79)" stroke="url(#a79)" d="M1148,678L1086.7,597.5L1079.7,588.6z"/><path fill="url(#a7a)" stroke="url(#a7a)" d="M1086.7,597.5L1155,684.7L1156.1,685.8L1087.8,597.4z"/><path fill="url(#a7b)" stroke="url(#a7b)" d="M1087.8,597.4L1156.1,685.8L1161.9,687.5L1093.6,596.9z"/><path fill="url(#a7c)" stroke="url(#a7c)" d="M1093.6,596.9L1161.9,687.5L1165.4,688.5L1097.1,599.2z"/><path fill="url(#a7d)" stroke="url(#a7d)" d="M1097.1,599.2L1165.4,688.5L1168.9,689.8L1100.6,601.5z"/><path fill="url(#a7e)" stroke="url(#a7e)" d="M1100.6,601.5L1168.9,689.8L1175.8,692.5L1107.5,603.5z"/><path fill="url(#a7f)" stroke="url(#a7f)" d="M1107.5,603.5L1175.8,692.5L1177.7,693.2L1109.4,604.8z"/><path fill="url(#a7g)" stroke="url(#a7g)" d="M1109.4,604.8L1177.7,693.2L1182.3,693.6L1114,608.1z"/><path fill="url(#a7h)" stroke="url(#a7h)" d="M1114,608.1L1182.3,693.6L1183.9,693.8L1115.6,608z"/><path fill="url(#a7i)" stroke="url(#a7i)" d="M1115.6,608L1183.9,693.8L1191.5,699.6L1123.3,607.5z"/><path fill="url(#a7j)" stroke="url(#a7j)" d="M1123.3,607.5L1191.5,699.6L1196.6,701.9L1128.3,608.6z"/><path fill="url(#a7k)" stroke="url(#a7k)" d="M1196.6,701.9L1200.8,703.8L1132.5,616.6z"/><path fill="url(#a7l)" stroke="url(#a7l)" d="M1196.6,701.9L1132.5,616.6L1128.3,608.6z"/><path fill="url(#a7m)" stroke="url(#a7m)" d="M1132.5,616.6L1200.8,703.8L1205.4,706L1137.1,620z"/><path fill="url(#a7n)" stroke="url(#a7n)" d="M1137.1,620L1205.4,706L1210.5,707.4L1142.2,623.8z"/><path fill="url(#a7o)" stroke="url(#a7o)" d="M1142.2,623.8L1210.5,707.4L1211.7,707.7L1143.4,623.8z"/><path fill="url(#a7p)" stroke="url(#a7p)" d="M1143.4,623.8L1211.7,707.7L1217.5,712L1149.2,623.8z"/><path fill="url(#a7q)" stroke="url(#a7q)" d="M1149.2,623.8L1217.5,712L1221,714.5L1152.7,627.2z"/><path fill="url(#a7r)" stroke="url(#a7r)" d="M1152.7,627.2L1221,714.5L1224.4,715.3L1156.1,630.7z"/><path fill="url(#a7s)" stroke="url(#a7s)" d="M1156.1,630.7L1224.4,715.3L1227.4,716.1L1159.1,630.8z"/><path fill="url(#a7t)" stroke="url(#a7t)" d="M1159.1,630.8L1227.4,716.1L1232.1,718.2L1163.8,631z"/><path fill="url(#a7u)" stroke="url(#a7u)" d="M1163.8,631L1232.1,718.2L1238.3,721.1L1170,634.1z"/><path fill="url(#a7v)" stroke="url(#a7v)" d="M1170,634.1L1238.3,721.1L1241.3,722.5L1173,630.4z"/><path fill="url(#a7w)" stroke="url(#a7w)" d="M1241.3,722.5L1245.3,725.3L1177,637.3z"/><path fill="url(#a7x)" stroke="url(#a7x)" d="M1241.3,722.5L1177,637.3L1173,630.4z"/><path fill="url(#a7y)" stroke="url(#a7y)" d="M1177,637.3L1245.3,725.3L1248.7,727.8L1180.5,638.7z"/><path fill="url(#a7z)" stroke="url(#a7z)" d="M1180.5,638.7L1248.7,727.8L1250.6,728.1L1182.3,639.5z"/><path fill="url(#a80)" stroke="url(#a80)" d="M1182.3,639.5L1250.6,728.1L1255.2,728.9L1186.9,640.6z"/><path fill="url(#a81)" stroke="url(#a81)" d="M1186.9,640.6L1255.2,728.9L1259.2,731.2L1190.9,641.6z"/><path fill="url(#a82)" stroke="url(#a82)" d="M1190.9,641.6L1259.2,731.2L1262.6,733.2L1194.3,638.8z"/><path fill="url(#a83)" stroke="url(#a83)" d="M550.2,461.8L618.4,380L628.2,381.6L559.9,466.3z"/><path fill="url(#a84)" stroke="url(#a84)" d="M559.9,466.3L628.2,381.6L635.1,387.4L566.8,469.5z"/><path fill="url(#a85)" stroke="url(#a85)" d="M566.8,469.5L635.1,387.4L642.1,386.9L573.8,472.7z"/><path fill="url(#a86)" stroke="url(#a86)" d="M573.8,472.7L642.1,386.9L649,397.7L580.7,475.9z"/><path fill="url(#a87)" stroke="url(#a87)" d="M580.7,475.9L649,397.7L656,401.1L587.7,479.1z"/><path fill="url(#a88)" stroke="url(#a88)" d="M587.7,479.1L656,401.1L662.9,404.2L594.6,482.3z"/><path fill="url(#a89)" stroke="url(#a89)" d="M594.6,482.3L662.9,404.2L669.9,404.2L601.6,485.5z"/><path fill="url(#a8a)" stroke="url(#a8a)" d="M601.6,485.5L669.9,404.2L676.8,402.9L608.5,488.6z"/><path fill="url(#a8b)" stroke="url(#a8b)" d="M608.5,488.6L676.8,402.9L683.7,408.8L615.5,491.8z"/><path fill="url(#a8c)" stroke="url(#a8c)" d="M615.5,491.8L683.7,408.8L690.7,415.2L622.4,495z"/><path fill="url(#a8d)" stroke="url(#a8d)" d="M622.4,495L690.7,415.2L697.6,416.7L629.3,499.8z"/><path fill="url(#a8e)" stroke="url(#a8e)" d="M629.3,499.8L697.6,416.7L706.4,420.5L638.1,533.5z"/><path fill="url(#a8f)" stroke="url(#a8f)" d="M638.1,533.5L706.4,420.5L711.5,418.9L643.2,553z"/><path fill="url(#a8g)" stroke="url(#a8g)" d="M643.2,553L711.5,418.9L715.7,420L647.4,569z"/><path fill="url(#a8h)" stroke="url(#a8h)" d="M715.7,420L725,429L656.7,542z"/><path fill="url(#a8i)" stroke="url(#a8i)" d="M715.7,420L656.7,542L647.4,569z"/><path fill="url(#a8j)" stroke="url(#a8j)" d="M725,429L732.4,430.5L664.1,520.5z"/><path fill="url(#a8k)" stroke="url(#a8k)" d="M725,429L664.1,520.5L656.7,542z"/><path fill="url(#a8l)" stroke="url(#a8l)" d="M732.4,430.5L734.2,432.5L665.9,515.1z"/><path fill="url(#a8m)" stroke="url(#a8m)" d="M732.4,430.5L665.9,515.1L664.1,520.5z"/><path fill="url(#a8n)" stroke="url(#a8n)" d="M665.9,515.1L734.2,432.5L739.3,438.2L671,517.4z"/><path fill="url(#a8o)" stroke="url(#a8o)" d="M671,517.4L739.3,438.2L746.3,442.7L678,520.6z"/><path fill="url(#a8p)" stroke="url(#a8p)" d="M678,520.6L746.3,442.7L753.2,442.8L684.9,523.8z"/><path fill="url(#a8q)" stroke="url(#a8q)" d="M684.9,523.8L753.2,442.8L760.4,448.4L692.1,527.1z"/><path fill="url(#a8r)" stroke="url(#a8r)" d="M692.1,527.1L760.4,448.4L769.7,449.6L701.4,551.7z"/><path fill="url(#a8s)" stroke="url(#a8s)" d="M701.4,551.7L769.7,449.6L774.1,448.9L705.8,563.3z"/><path fill="url(#a8t)" stroke="url(#a8t)" d="M705.8,563.3L774.1,448.9L778.9,450.8L710.6,576.2z"/><path fill="url(#a8u)" stroke="url(#a8u)" d="M710.6,576.2L778.9,450.8L788.2,458.1L719.9,576.5z"/><path fill="url(#a8v)" stroke="url(#a8v)" d="M719.9,576.5L788.2,458.1L791.4,459.6L723.1,576.6z"/><path fill="url(#a8w)" stroke="url(#a8w)" d="M723.1,576.6L791.4,459.6L794.9,456.9L726.6,576.7z"/><path fill="url(#a8x)" stroke="url(#a8x)" d="M726.6,576.7L794.9,456.9L800.7,461.5L732.4,576.9z"/><path fill="url(#a8y)" stroke="url(#a8y)" d="M800.7,461.5L809.9,468.2L741.7,565.5z"/><path fill="url(#a8z)" stroke="url(#a8z)" d="M800.7,461.5L741.7,565.5L732.4,576.9z"/><path fill="url(#a90)" stroke="url(#a90)" d="M741.7,565.5L809.9,468.2L815.7,474.5L747.4,558.4z"/><path fill="url(#a91)" stroke="url(#a91)" d="M815.7,474.5L819.2,475.7L750.9,554.2z"/><path fill="url(#a92)" stroke="url(#a92)" d="M815.7,474.5L750.9,554.2L747.4,558.4z"/><path fill="url(#a93)" stroke="url(#a93)" d="M750.9,554.2L819.2,475.7L822.7,476.8L754.4,555.8z"/><path fill="url(#a94)" stroke="url(#a94)" d="M754.4,555.8L822.7,476.8L829.6,479.6L761.3,559z"/><path fill="url(#a95)" stroke="url(#a95)" d="M761.3,559L829.6,479.6L836.6,480.8L768.3,562.2z"/><path fill="url(#a96)" stroke="url(#a96)" d="M768.3,562.2L836.6,480.8L845.8,484.7L777.6,602.3z"/><path fill="url(#a97)" stroke="url(#a97)" d="M777.6,602.3L845.8,484.7L850.5,484.2L782.2,622.4z"/><path fill="url(#a98)" stroke="url(#a98)" d="M782.2,622.4L850.5,484.2L855.1,483.4L786.8,642.5z"/><path fill="url(#a99)" stroke="url(#a99)" d="M855.1,483.4L864.4,493.2L796.1,610.8z"/><path fill="url(#a9a)" stroke="url(#a9a)" d="M855.1,483.4L796.1,610.8L786.8,642.5z"/><path fill="url(#a9b)" stroke="url(#a9b)" d="M864.4,493.2L871.3,493.9L803,587.1z"/><path fill="url(#a9c)" stroke="url(#a9c)" d="M864.4,493.2L803,587.1L796.1,610.8z"/><path fill="url(#a9d)" stroke="url(#a9d)" d="M871.3,493.9L873.6,494.6L805.3,579.2z"/><path fill="url(#a9e)" stroke="url(#a9e)" d="M871.3,493.9L805.3,579.2L803,587.1z"/><path fill="url(#a9f)" stroke="url(#a9f)" d="M805.3,579.2L873.6,494.6L878.3,495.9L810,581.3z"/><path fill="url(#a9g)" stroke="url(#a9g)" d="M810,581.3L878.3,495.9L885.2,502.9L816.9,584.5z"/><path fill="url(#a9h)" stroke="url(#a9h)" d="M816.9,584.5L885.2,502.9L892.2,509.5L823.9,587.7z"/><path fill="url(#a9i)" stroke="url(#a9i)" d="M823.9,587.7L892.2,509.5L899.1,508.8L830.8,590.9z"/><path fill="url(#a9j)" stroke="url(#a9j)" d="M830.8,590.9L899.1,508.8L906,509.3L837.8,594.1z"/><path fill="url(#a9k)" stroke="url(#a9k)" d="M837.8,594.1L906,509.3L913,511.5L844.7,597.3z"/><path fill="url(#a9l)" stroke="url(#a9l)" d="M844.7,597.3L913,511.5L915.8,513.4L847.5,598.6z"/><path fill="url(#a9m)" stroke="url(#a9m)" d="M847.5,598.6L915.8,513.4L919.9,516.3L851.7,607.6z"/><path fill="url(#a9n)" stroke="url(#a9n)" d="M851.7,607.6L919.9,516.3L925,521.1L856.7,618.5z"/><path fill="url(#a9o)" stroke="url(#a9o)" d="M856.7,618.5L925,521.1L934.3,523L866,638.3z"/><path fill="url(#a9p)" stroke="url(#a9p)" d="M934.3,523L943.6,529.6L875.3,627z"/><path fill="url(#a9q)" stroke="url(#a9q)" d="M934.3,523L875.3,627L866,638.3z"/><path fill="url(#a9r)" stroke="url(#a9r)" d="M875.3,627L943.6,529.6L947.7,529.6L879.4,621.9z"/><path fill="url(#a9s)" stroke="url(#a9s)" d="M947.7,529.6L952.8,535.3L884.5,615.7z"/><path fill="url(#a9t)" stroke="url(#a9t)" d="M947.7,529.6L884.5,615.7L879.4,621.9z"/><path fill="url(#a9u)" stroke="url(#a9u)" d="M884.5,615.7L952.8,535.3L954.7,537.4L886.4,616.5z"/><path fill="url(#a9v)" stroke="url(#a9v)" d="M886.4,616.5L954.7,537.4L961.6,540.6L893.3,619.7z"/><path fill="url(#a9w)" stroke="url(#a9w)" d="M893.3,619.7L961.6,540.6L963,540.6L894.7,620.3z"/><path fill="url(#a9x)" stroke="url(#a9x)" d="M894.7,620.3L963,540.6L968.6,540.7L900.3,632.3z"/><path fill="url(#a9y)" stroke="url(#a9y)" d="M900.3,632.3L968.6,540.7L972.3,542.8L904,640.2z"/><path fill="url(#a9z)" stroke="url(#a9z)" d="M904,640.2L972.3,542.8L975.5,544.7L907.2,647.2z"/><path fill="url(#aa0)" stroke="url(#aa0)" d="M907.2,647.2L975.5,544.7L981.5,544.7L913.2,660.1z"/><path fill="url(#aa1)" stroke="url(#aa1)" d="M913.2,660.1L981.5,544.7L988.5,544.8L920.2,703.9z"/><path fill="url(#aa2)" stroke="url(#aa2)" d="M920.2,703.9L988.5,544.8L997.7,554.6L929.5,699.6z"/><path fill="url(#aa3)" stroke="url(#aa3)" d="M929.5,699.6L997.7,554.6L1003.1,557L934.8,697.2z"/><path fill="url(#aa4)" stroke="url(#aa4)" d="M934.8,697.2L1003.1,557L1012.3,557.4L944,693z"/><path fill="url(#aa5)" stroke="url(#aa5)" d="M1012.3,557.4L1017.2,560.5L948.9,682.1z"/><path fill="url(#aa6)" stroke="url(#aa6)" d="M1012.3,557.4L948.9,682.1L944,693z"/><path fill="url(#aa7)" stroke="url(#aa7)" d="M1017.2,560.5L1021.6,565.5L953.3,672.3z"/><path fill="url(#aa8)" stroke="url(#aa8)" d="M1017.2,560.5L953.3,672.3L948.9,682.1z"/><path fill="url(#aa9)" stroke="url(#aa9)" d="M1021.6,565.5L1031.1,566.3L962.8,651.7z"/><path fill="url(#aaa)" stroke="url(#aaa)" d="M1021.6,565.5L962.8,651.7L953.3,672.3z"/><path fill="url(#aab)" stroke="url(#aab)" d="M962.8,651.7L1031.1,566.3L1038,571.7L969.7,654.9z"/><path fill="url(#aac)" stroke="url(#aac)" d="M969.7,654.9L1038,571.7L1045,574.2L976.7,658.1z"/><path fill="url(#aad)" stroke="url(#aad)" d="M976.7,658.1L1045,574.2L1051.9,576.5L983.6,661.3z"/><path fill="url(#aae)" stroke="url(#aae)" d="M983.6,661.3L1051.9,576.5L1058.9,582.9L990.6,664.5z"/><path fill="url(#aaf)" stroke="url(#aaf)" d="M990.6,664.5L1058.9,582.9L1065.8,583.9L997.5,667.7z"/><path fill="url(#aag)" stroke="url(#aag)" d="M997.5,667.7L1065.8,583.9L1072.8,586.2L1004.5,670.9z"/><path fill="url(#aah)" stroke="url(#aah)" d="M1004.5,670.9L1072.8,586.2L1079.7,588.6L1011.4,674.1z"/><path fill="url(#aai)" stroke="url(#aai)" d="M1011.4,674.1L1079.7,588.6L1086.7,597.5L1018.4,677.2z"/><path fill="url(#aaj)" stroke="url(#aaj)" d="M1018.4,677.2L1086.7,597.5L1093.6,596.9L1025.3,680.4z"/><path fill="url(#aak)" stroke="url(#aak)" d="M1025.3,680.4L1093.6,596.9L1100.6,601.5L1032.3,683.6z"/><path fill="url(#aal)" stroke="url(#aal)" d="M1032.3,683.6L1100.6,601.5L1104.7,602.7L1036.4,685.6z"/><path fill="url(#aam)" stroke="url(#aam)" d="M1036.4,685.6L1104.7,602.7L1107.5,603.5L1039.2,696.2z"/><path fill="url(#aan)" stroke="url(#aan)" d="M1039.2,696.2L1107.5,603.5L1114,608.1L1045.7,721z"/><path fill="url(#aao)" stroke="url(#aao)" d="M1045.7,721L1114,608.1L1123.3,607.5L1055,756.5z"/><path fill="url(#aap)" stroke="url(#aap)" d="M1123.3,607.5L1128.3,608.6L1060.1,741.7z"/><path fill="url(#aaq)" stroke="url(#aaq)" d="M1123.3,607.5L1060.1,741.7L1055,756.5z"/><path fill="url(#aar)" stroke="url(#aar)" d="M1128.3,608.6L1132.5,616.6L1064.2,729.6z"/><path fill="url(#aas)" stroke="url(#aas)" d="M1128.3,608.6L1064.2,729.6L1060.1,741.7z"/><path fill="url(#aat)" stroke="url(#aat)" d="M1132.5,616.6L1142.2,623.8L1074,702.8z"/><path fill="url(#aau)" stroke="url(#aau)" d="M1132.5,616.6L1074,702.8L1064.2,729.6z"/><path fill="url(#aav)" stroke="url(#aav)" d="M1074,702.8L1142.2,623.8L1149.2,623.8L1080.9,706z"/><path fill="url(#aaw)" stroke="url(#aaw)" d="M1080.9,706L1149.2,623.8L1154.5,629.1L1086.2,708.5z"/><path fill="url(#aax)" stroke="url(#aax)" d="M1086.2,708.5L1154.5,629.1L1156.1,630.7L1087.8,714.7z"/><path fill="url(#aay)" stroke="url(#aay)" d="M1087.8,714.7L1156.1,630.7L1163.8,631L1095.5,743.9z"/><path fill="url(#aaz)" stroke="url(#aaz)" d="M1095.5,743.9L1163.8,631L1170,634.1L1101.7,767.9z"/><path fill="url(#ab0)" stroke="url(#ab0)" d="M1101.7,767.9L1170,634.1L1173,630.4L1104.8,779.4z"/><path fill="url(#ab1)" stroke="url(#ab1)" d="M1173,630.4L1177,637.3L1108.7,768z"/><path fill="url(#ab2)" stroke="url(#ab2)" d="M1173,630.4L1108.7,768L1104.8,779.4z"/><path fill="url(#ab3)" stroke="url(#ab3)" d="M1177,637.3L1182.3,639.5L1114,752.5z"/><path fill="url(#ab4)" stroke="url(#ab4)" d="M1177,637.3L1114,752.5L1108.7,768z"/><path fill="url(#ab5)" stroke="url(#ab5)" d="M1182.3,639.5L1190.9,641.6L1122.6,727.5z"/><path fill="url(#ab6)" stroke="url(#ab6)" d="M1182.3,639.5L1122.6,727.5L1114,752.5z"/><path fill="url(#ab7)" stroke="url(#ab7)" d="M1190.9,641.6L1191.6,641L1123.3,725.5z"/><path fill="url(#ab8)" stroke="url(#ab8)" d="M1190.9,641.6L1123.3,725.5L1122.6,727.5z"/><path fill="url(#ab9)" stroke="url(#ab9)" d="M1123.3,725.5L1191.6,641L1194.3,638.8L1126.1,741.2z"/><path fill="url(#aba)" stroke="url(#aba)" d="M481.9,451.4L550.2,461.8L628.9,498L560.6,487.6z"/><path fill="url(#abb)" stroke="url(#abb)" d="M560.6,487.6L628.9,498L647.4,569L579.1,558.5z"/><path fill="url(#abc)" stroke="url(#abc)" d="M579.1,558.5L647.4,569L665.9,515.1L597.6,504.6z"/><path fill="url(#abd)" stroke="url(#abd)" d="M597.6,504.6L665.9,515.1L692.1,527.1L623.8,516.7z"/><path fill="url(#abe)" stroke="url(#abe)" d="M623.8,516.7L692.1,527.1L710.6,576.2L642.3,565.8z"/><path fill="url(#abf)" stroke="url(#abf)" d="M642.3,565.8L710.6,576.2L732.4,576.9L664.1,566.4z"/><path fill="url(#abg)" stroke="url(#abg)" d="M664.1,566.4L732.4,576.9L750.9,554.2L682.6,543.8z"/><path fill="url(#abh)" stroke="url(#abh)" d="M682.6,543.8L750.9,554.2L768.3,562.2L700,551.7z"/><path fill="url(#abi)" stroke="url(#abi)" d="M700,551.7L768.3,562.2L786.8,642.5L718.5,632.1z"/><path fill="url(#abj)" stroke="url(#abj)" d="M718.5,632.1L786.8,642.5L805.3,579.2L737,568.8z"/><path fill="url(#abk)" stroke="url(#abk)" d="M737,568.8L805.3,579.2L847.5,598.6L779.2,588.2z"/><path fill="url(#abl)" stroke="url(#abl)" d="M779.2,588.2L847.5,598.6L866,638.3L797.7,627.9z"/><path fill="url(#abm)" stroke="url(#abm)" d="M797.7,627.9L866,638.3L884.5,615.7L816.2,605.2z"/><path fill="url(#abn)" stroke="url(#abn)" d="M816.2,605.2L884.5,615.7L894.7,620.3L826.4,609.9z"/><path fill="url(#abo)" stroke="url(#abo)" d="M826.4,609.9L894.7,620.3L913.2,660.1L845,649.7z"/><path fill="url(#abp)" stroke="url(#abp)" d="M845,649.7L913.2,660.1L920.2,703.9L851.9,693.4z"/><path fill="url(#abq)" stroke="url(#abq)" d="M851.9,693.4L920.2,703.9L944,693L875.8,682.6z"/><path fill="url(#abr)" stroke="url(#abr)" d="M875.8,682.6L944,693L962.6,651.6L894.3,641.1z"/><path fill="url(#abs)" stroke="url(#abs)" d="M894.3,641.1L962.6,651.6L1036.4,685.6L968.1,675.1z"/><path fill="url(#abt)" stroke="url(#abt)" d="M968.1,675.1L1036.4,685.6L1055,756.5L986.7,746.1z"/><path fill="url(#abu)" stroke="url(#abu)" d="M986.7,746.1L1055,756.5L1073.5,702.6L1005.2,692.2z"/><path fill="url(#abv)" stroke="url(#abv)" d="M1005.2,692.2L1073.5,702.6L1086.2,708.5L1017.9,698z"/><path fill="url(#abw)" stroke="url(#abw)" d="M1017.9,698L1086.2,708.5L1104.8,779.4L1036.5,769z"/><path fill="url(#abx)" stroke="url(#abx)" d="M1036.5,769L1104.8,779.4L1123.3,725.5L1055,715.1z"/><path fill="url(#aby)" stroke="url(#aby)" d="M1123.3,725.5L1126.1,741.2L1057.8,706.8z"/><path fill="url(#abz)" stroke="url(#abz)" d="M1123.3,725.5L1057.8,706.8L1055,715.1z"/><path fill="url(#ac0)" stroke="url(#ac0)" d="M413.6,291.3L481.9,451.4L482.6,451.7L414.3,291.6z"/><path fill="url(#ac1)" stroke="url(#ac1)" d="M414.3,291.6L482.6,451.7L489.9,455.1L421.6,290.5z"/><path fill="url(#ac2)" stroke="url(#ac2)" d="M421.6,290.5L489.9,455.1L497.1,458.4L428.8,304z"/><path fill="url(#ac3)" stroke="url(#ac3)" d="M428.8,304L497.1,458.4L503.3,461.2L435,297.8z"/><path fill="url(#ac4)" stroke="url(#ac4)" d="M435,297.8L503.3,461.2L510.6,464.6L442.3,308z"/><path fill="url(#ac5)" stroke="url(#ac5)" d="M442.3,308L510.6,464.6L516.9,467.5L448.6,302z"/><path fill="url(#ac6)" stroke="url(#ac6)" d="M448.6,302L516.9,467.5L523.3,470.4L455,309z"/><path fill="url(#ac7)" stroke="url(#ac7)" d="M455,309L523.3,470.4L529.3,473.2L461,304z"/><path fill="url(#ac8)" stroke="url(#ac8)" d="M461,304L529.3,473.2L535.3,476L467,316z"/><path fill="url(#ac9)" stroke="url(#ac9)" d="M467,316L535.3,476L541.8,478.9L473.5,324.8z"/><path fill="url(#aca)" stroke="url(#aca)" d="M473.5,324.8L541.8,478.9L547.6,481.6L479.3,313.4z"/><path fill="url(#acb)" stroke="url(#acb)" d="M479.3,313.4L547.6,481.6L554.3,484.7L486,322z"/><path fill="url(#acc)" stroke="url(#acc)" d="M486,322L554.3,484.7L560.6,487.6L492.3,329z"/><path fill="url(#acd)" stroke="url(#acd)" d="M560.6,487.6L561.5,491L493.2,330z"/><path fill="url(#ace)" stroke="url(#ace)" d="M560.6,487.6L493.2,330L492.3,329z"/><path fill="url(#acf)" stroke="url(#acf)" d="M561.5,491L563.6,499.1L495.3,328z"/><path fill="url(#acg)" stroke="url(#acg)" d="M561.5,491L495.3,328L493.2,330z"/><path fill="url(#ach)" stroke="url(#ach)" d="M563.6,499.1L579.1,558.5L510.8,284.4z"/><path fill="url(#aci)" stroke="url(#aci)" d="M563.6,499.1L510.8,284.4L495.3,328z"/><path fill="url(#acj)" stroke="url(#acj)" d="M510.8,284.4L579.1,558.5L597.9,504.8z"/><path fill="url(#ack)" stroke="url(#ack)" d="M510.8,284.4L597.9,504.8L529.6,341.4z"/><path fill="url(#acl)" stroke="url(#acl)" d="M529.6,341.4L597.9,504.8L602.1,506.7L533.8,340z"/><path fill="url(#acm)" stroke="url(#acm)" d="M533.8,340L602.1,506.7L606.3,508.6L538,348z"/><path fill="url(#acn)" stroke="url(#acn)" d="M538,348L606.3,508.6L612.5,511.5L544.2,357z"/><path fill="url(#aco)" stroke="url(#aco)" d="M544.2,357L612.5,511.5L618.7,514.3L550.4,347.2z"/><path fill="url(#acp)" stroke="url(#acp)" d="M550.4,347.2L618.7,514.3L623.8,516.7L555.5,356.1z"/><path fill="url(#acq)" stroke="url(#acq)" d="M623.8,516.7L624.9,519.5L556.6,358z"/><path fill="url(#acr)" stroke="url(#acr)" d="M623.8,516.7L556.6,358L555.5,356.1z"/><path fill="url(#acs)" stroke="url(#acs)" d="M556.6,358L624.9,519.5L642.6,565.8z"/><path fill="url(#act)" stroke="url(#act)" d="M556.6,358L642.6,565.8L574.3,300.3z"/><path fill="url(#acu)" stroke="url(#acu)" d="M642.6,565.8L657.1,566.2L588.8,341.4z"/><path fill="url(#acv)" stroke="url(#acv)" d="M642.6,565.8L588.8,341.4L574.3,300.3z"/><path fill="url(#acw)" stroke="url(#acw)" d="M588.8,341.4L657.1,566.2L664.1,566.4L595.8,321.9z"/><path fill="url(#acx)" stroke="url(#acx)" d="M664.1,566.4L682.6,543.8L614.3,374.7z"/><path fill="url(#acy)" stroke="url(#acy)" d="M664.1,566.4L614.3,374.7L595.8,321.9z"/><path fill="url(#acz)" stroke="url(#acz)" d="M682.6,543.8L685.2,544.9L616.9,382z"/><path fill="url(#ad0)" stroke="url(#ad0)" d="M682.6,543.8L616.9,382L614.3,374.7z"/><path fill="url(#ad1)" stroke="url(#ad1)" d="M616.9,382L685.2,544.9L690.3,547.3L622,380z"/><path fill="url(#ad2)" stroke="url(#ad2)" d="M622,380L690.3,547.3L695.3,549.6L627,388z"/><path fill="url(#ad3)" stroke="url(#ad3)" d="M627,388L695.3,549.6L700.3,553L632,384z"/><path fill="url(#ad4)" stroke="url(#ad4)" d="M700.3,553L704.9,573L636.6,389.2z"/><path fill="url(#ad5)" stroke="url(#ad5)" d="M700.3,553L636.6,389.2L632,384z"/><path fill="url(#ad6)" stroke="url(#ad6)" d="M704.9,573L718.8,631.1L650.5,353.9z"/><path fill="url(#ad7)" stroke="url(#ad7)" d="M704.9,573L650.5,353.9L636.6,389.2z"/><path fill="url(#ad8)" stroke="url(#ad8)" d="M650.5,353.9L718.8,631.1L737,568.8z"/><path fill="url(#ad9)" stroke="url(#ad9)" d="M650.5,353.9L737,568.8L668.8,392.6z"/><path fill="url(#ada)" stroke="url(#ada)" d="M668.8,392.6L737,568.8L743.3,571.7L675,405.8z"/><path fill="url(#adb)" stroke="url(#adb)" d="M675,405.8L743.3,571.7L745.9,572.9L677.7,404.8z"/><path fill="url(#adc)" stroke="url(#adc)" d="M677.7,404.8L745.9,572.9L748.6,574.1L680.3,409.5z"/><path fill="url(#add)" stroke="url(#add)" d="M680.3,409.5L748.6,574.1L751.2,575.3L683,407.7z"/><path fill="url(#ade)" stroke="url(#ade)" d="M683,407.7L751.2,575.3L753.9,576.5L685.6,411.9z"/><path fill="url(#adf)" stroke="url(#adf)" d="M685.6,411.9L753.9,576.5L756.6,577.8L688.3,409.4z"/><path fill="url(#adg)" stroke="url(#adg)" d="M688.3,409.4L756.6,577.8L759.2,579L690.9,414.9z"/><path fill="url(#adh)" stroke="url(#adh)" d="M690.9,414.9L759.2,579L761.9,580.2L693.6,413.1z"/><path fill="url(#adi)" stroke="url(#adi)" d="M693.6,413.1L761.9,580.2L764.5,581.4L696.2,416.7z"/><path fill="url(#adj)" stroke="url(#adj)" d="M696.2,416.7L764.5,581.4L767.2,582.7L698.9,415.8z"/><path fill="url(#adk)" stroke="url(#adk)" d="M698.9,415.8L767.2,582.7L769.8,583.9L701.5,419.5z"/><path fill="url(#adl)" stroke="url(#adl)" d="M701.5,419.5L769.8,583.9L772.5,585.1L704.2,418.5z"/><path fill="url(#adm)" stroke="url(#adm)" d="M704.2,418.5L772.5,585.1L775.1,586.3L706.8,422.1z"/><path fill="url(#adn)" stroke="url(#adn)" d="M706.8,422.1L775.1,586.3L777.8,587.5L709.5,420.1z"/><path fill="url(#ado)" stroke="url(#ado)" d="M709.5,420.1L777.8,587.5L779.2,588.2L710.9,422.5z"/><path fill="url(#adp)" stroke="url(#adp)" d="M710.9,422.5L779.2,588.2L780.4,590.8L712.1,424.5z"/><path fill="url(#adq)" stroke="url(#adq)" d="M712.1,424.5L780.4,590.8L783.1,596.5L714.8,422.7z"/><path fill="url(#adr)" stroke="url(#adr)" d="M714.8,422.7L783.1,596.5L785.7,602.2L717.4,427.5z"/><path fill="url(#ads)" stroke="url(#ads)" d="M717.4,427.5L785.7,602.2L788.4,607.9L720.1,426.2z"/><path fill="url(#adt)" stroke="url(#adt)" d="M720.1,426.2L788.4,607.9L791,613.6L722.8,430z"/><path fill="url(#adu)" stroke="url(#adu)" d="M722.8,430L791,613.6L793.7,619.3L725.4,428.4z"/><path fill="url(#adv)" stroke="url(#adv)" d="M725.4,428.4L793.7,619.3L796.3,625L728.1,432.4z"/><path fill="url(#adw)" stroke="url(#adw)" d="M728.1,432.4L796.3,625L797.7,627.9L729.4,431.7z"/><path fill="url(#adx)" stroke="url(#adx)" d="M729.4,431.7L797.7,627.9L799,626.3L730.7,431z"/><path fill="url(#ady)" stroke="url(#ady)" d="M730.7,431L799,626.3L801.7,623.1L733.4,435.3z"/><path fill="url(#adz)" stroke="url(#adz)" d="M733.4,435.3L801.7,623.1L804.3,619.8L736,433.3z"/><path fill="url(#ae0)" stroke="url(#ae0)" d="M736,433.3L804.3,619.8L807,616.6L738.7,437.3z"/><path fill="url(#ae1)" stroke="url(#ae1)" d="M738.7,437.3L807,616.6L809.6,613.3L741.3,435.8z"/><path fill="url(#ae2)" stroke="url(#ae2)" d="M741.3,435.8L809.6,613.3L812.3,610.1L744,440.6z"/><path fill="url(#ae3)" stroke="url(#ae3)" d="M744,440.6L812.3,610.1L814.9,606.9L746.6,438.7z"/><path fill="url(#ae4)" stroke="url(#ae4)" d="M746.6,438.7L814.9,606.9L816.2,605.2L748,440.6z"/><path fill="url(#ae5)" stroke="url(#ae5)" d="M748,440.6L816.2,605.2L817.6,605.8L749.3,442.5z"/><path fill="url(#ae6)" stroke="url(#ae6)" d="M749.3,442.5L817.6,605.8L820.2,607.1L751.9,441.2z"/><path fill="url(#ae7)" stroke="url(#ae7)" d="M751.9,441.2L820.2,607.1L822.9,608.3L754.6,446z"/><path fill="url(#ae8)" stroke="url(#ae8)" d="M754.6,446L822.9,608.3L825.5,609.5L757.2,442.9z"/><path fill="url(#ae9)" stroke="url(#ae9)" d="M757.2,442.9L825.5,609.5L826.4,609.9L758.1,444.7z"/><path fill="url(#aea)" stroke="url(#aea)" d="M758.1,444.7L826.4,609.9L828.2,613.7L759.9,448.2z"/><path fill="url(#aeb)" stroke="url(#aeb)" d="M759.9,448.2L828.2,613.7L830.8,619.4L762.5,445.6z"/><path fill="url(#aec)" stroke="url(#aec)" d="M762.5,445.6L830.8,619.4L833.5,625.1L765.2,449.7z"/><path fill="url(#aed)" stroke="url(#aed)" d="M765.2,449.7L833.5,625.1L845,649.7z"/><path fill="url(#aee)" stroke="url(#aee)" d="M765.2,449.7L845,649.7L776.7,409.9z"/><path fill="url(#aef)" stroke="url(#aef)" d="M845,649.7L848.5,671.9L780.2,414z"/><path fill="url(#aeg)" stroke="url(#aeg)" d="M845,649.7L780.2,414L776.7,409.9z"/><path fill="url(#aeh)" stroke="url(#aeh)" d="M848.5,671.9L852.2,693.3L783.9,408.8z"/><path fill="url(#aei)" stroke="url(#aei)" d="M848.5,671.9L783.9,408.8L780.2,414z"/><path fill="url(#aej)" stroke="url(#aej)" d="M852.2,693.3L867.8,686.2L799.5,446.6z"/><path fill="url(#aek)" stroke="url(#aek)" d="M852.2,693.3L799.5,446.6L783.9,408.8z"/><path fill="url(#ael)" stroke="url(#ael)" d="M799.5,446.6L867.8,686.2L875.8,682.6L807.5,424.4z"/><path fill="url(#aem)" stroke="url(#aem)" d="M807.5,424.4L875.8,682.6L894.3,641.1z"/><path fill="url(#aen)" stroke="url(#aen)" d="M807.5,424.4L894.3,641.1L826,464.1z"/><path fill="url(#aeo)" stroke="url(#aeo)" d="M826,464.1L894.3,641.1L903.1,645.2L834.8,483z"/><path fill="url(#aep)" stroke="url(#aep)" d="M834.8,483L903.1,645.2L905.7,646.4L837.4,481.5z"/><path fill="url(#aeq)" stroke="url(#aeq)" d="M837.4,481.5L905.7,646.4L908.3,647.6L840,486.2z"/><path fill="url(#aer)" stroke="url(#aer)" d="M840,486.2L908.3,647.6L911,648.8L842.7,485.1z"/><path fill="url(#aes)" stroke="url(#aes)" d="M842.7,485.1L911,648.8L913.6,650L845.3,489.1z"/><path fill="url(#aet)" stroke="url(#aet)" d="M845.3,489.1L913.6,650L916.2,651.2L847.9,486.9z"/><path fill="url(#aeu)" stroke="url(#aeu)" d="M847.9,486.9L916.2,651.2L918.8,652.4L850.5,491.2z"/><path fill="url(#aev)" stroke="url(#aev)" d="M850.5,491.2L918.8,652.4L921.4,653.6L853.1,489.9z"/><path fill="url(#aew)" stroke="url(#aew)" d="M853.1,489.9L921.4,653.6L924.1,654.8L855.8,493.8z"/><path fill="url(#aex)" stroke="url(#aex)" d="M855.8,493.8L924.1,654.8L926.7,656L858.4,492z"/><path fill="url(#aey)" stroke="url(#aey)" d="M858.4,492L926.7,656L929.3,657.3L861,496.1z"/><path fill="url(#aez)" stroke="url(#aez)" d="M861,496.1L929.3,657.3L931.9,658.5L863.6,494.8z"/><path fill="url(#af0)" stroke="url(#af0)" d="M863.6,494.8L931.9,658.5L934.5,659.7L866.2,498.8z"/><path fill="url(#af1)" stroke="url(#af1)" d="M866.2,498.8L934.5,659.7L937.2,660.9L868.9,496.4z"/><path fill="url(#af2)" stroke="url(#af2)" d="M868.9,496.4L937.2,660.9L939.8,662.1L871.5,501.5z"/><path fill="url(#af3)" stroke="url(#af3)" d="M871.5,501.5L939.8,662.1L942.4,663.3L874.1,499.8z"/><path fill="url(#af4)" stroke="url(#af4)" d="M874.1,499.8L942.4,663.3L945,664.5L876.7,503.6z"/><path fill="url(#af5)" stroke="url(#af5)" d="M876.7,503.6L945,664.5L947.6,665.7L879.3,502z"/><path fill="url(#af6)" stroke="url(#af6)" d="M879.3,502L947.6,665.7L950.3,666.9L882,506z"/><path fill="url(#af7)" stroke="url(#af7)" d="M882,506L950.3,666.9L952.9,668.1L884.6,504.9z"/><path fill="url(#af8)" stroke="url(#af8)" d="M884.6,504.9L952.9,668.1L955.5,669.3L887.2,508.9z"/><path fill="url(#af9)" stroke="url(#af9)" d="M887.2,508.9L955.5,669.3L958.1,670.5L889.8,507.6z"/><path fill="url(#afa)" stroke="url(#afa)" d="M889.8,507.6L958.1,670.5L960.7,671.7L892.4,511.3z"/><path fill="url(#afb)" stroke="url(#afb)" d="M892.4,511.3L960.7,671.7L963.4,672.9L895.1,509.7z"/><path fill="url(#afc)" stroke="url(#afc)" d="M895.1,509.7L963.4,672.9L966,674.1L897.7,514.1z"/><path fill="url(#afd)" stroke="url(#afd)" d="M897.7,514.1L966,674.1L968.6,676.8L900.3,514.2z"/><path fill="url(#afe)" stroke="url(#afe)" d="M968.6,676.8L985.8,742.7L917.5,464.9z"/><path fill="url(#aff)" stroke="url(#aff)" d="M968.6,676.8L917.5,464.9L900.3,514.2z"/><path fill="url(#afg)" stroke="url(#afg)" d="M917.5,464.9L985.8,742.7L986.7,746.1L918.4,467.6z"/><path fill="url(#afh)" stroke="url(#afh)" d="M918.4,467.6L986.7,746.1L1005.2,692.2z"/><path fill="url(#afi)" stroke="url(#afi)" d="M918.4,467.6L1005.2,692.2L936.9,524.3z"/><path fill="url(#afj)" stroke="url(#afj)" d="M1005.2,692.2L1008,693.5L939.7,532.9z"/><path fill="url(#afk)" stroke="url(#afk)" d="M1005.2,692.2L939.7,532.9L936.9,524.3z"/><path fill="url(#afl)" stroke="url(#afl)" d="M939.7,532.9L1008,693.5L1017.9,698L949.6,535.7z"/><path fill="url(#afm)" stroke="url(#afm)" d="M1017.9,698L1022.6,715.9L954.3,537z"/><path fill="url(#afn)" stroke="url(#afn)" d="M1017.9,698L954.3,537L949.6,535.7z"/><path fill="url(#afo)" stroke="url(#afo)" d="M1022.6,715.9L1036.5,768.9L968.2,502.7z"/><path fill="url(#afp)" stroke="url(#afp)" d="M1022.6,715.9L968.2,502.7L954.3,537z"/><path fill="url(#afq)" stroke="url(#afq)" d="M968.2,502.7L1036.5,768.9L1049.3,731.7z"/><path fill="url(#afr)" stroke="url(#afr)" d="M968.2,502.7L1049.3,731.7L981,533z"/><path fill="url(#afs)" stroke="url(#afs)" d="M981,533L1049.3,731.7L1055,715.1z"/><path fill="url(#aft)" stroke="url(#aft)" d="M981,533L1055,715.1L986.7,548.4z"/><path fill="url(#afu)" stroke="url(#afu)" d="M986.7,548.4L1055,715.1L1057.8,706.8z"/><path fill="url(#afv)" stroke="url(#afv)" d="M986.7,548.4L1057.8,706.8L989.5,556z"/><path fill="url(#afw)" stroke="url(#afw)" d="M345.3,475.6L413.6,291.3L414.3,291.6L346,476.2z"/><path fill="url(#afx)" stroke="url(#afx)" d="M346,476.2L414.3,291.6L421.6,290.5L353.3,482z"/><path fill="url(#afy)" stroke="url(#afy)" d="M353.3,482L421.6,290.5L428.8,304L360.5,487.8z"/><path fill="url(#afz)" stroke="url(#afz)" d="M360.5,487.8L428.8,304L435,297.8L366.7,492.7z"/><path fill="url(#ag0)" stroke="url(#ag0)" d="M366.7,492.7L435,297.8L442.3,308L374,498.5z"/><path fill="url(#ag1)" stroke="url(#ag1)" d="M374,498.5L442.3,308L448.6,302L380.3,503.6z"/><path fill="url(#ag2)" stroke="url(#ag2)" d="M380.3,503.6L448.6,302L450.6,304.2L382.3,505.2z"/><path fill="url(#ag3)" stroke="url(#ag3)" d="M382.3,505.2L450.6,304.2L455,309L386.7,507.5z"/><path fill="url(#ag4)" stroke="url(#ag4)" d="M386.7,507.5L455,309L461,304L392.7,510.7z"/><path fill="url(#ag5)" stroke="url(#ag5)" d="M392.7,510.7L461,304L467,316L398.7,513.9z"/><path fill="url(#ag6)" stroke="url(#ag6)" d="M398.7,513.9L467,316L473.5,324.8L405.2,517.4z"/><path fill="url(#ag7)" stroke="url(#ag7)" d="M405.2,517.4L473.5,324.8L479.3,313.4L411,520.5z"/><path fill="url(#ag8)" stroke="url(#ag8)" d="M411,520.5L479.3,313.4L483,318.2L414.8,522.5z"/><path fill="url(#ag9)" stroke="url(#ag9)" d="M414.8,522.5L483,318.2L486,322L417.7,526.4z"/><path fill="url(#aga)" stroke="url(#aga)" d="M417.7,526.4L486,322L493.2,330L424.9,535.9z"/><path fill="url(#agb)" stroke="url(#agb)" d="M424.9,535.9L493.2,330L495.3,328L427,538.7z"/><path fill="url(#agc)" stroke="url(#agc)" d="M495.3,328L510.8,284.4L442.5,559.3z"/><path fill="url(#agd)" stroke="url(#agd)" d="M495.3,328L442.5,559.3L427,538.7z"/><path fill="url(#age)" stroke="url(#age)" d="M442.5,559.3L510.8,284.4L529.6,341.4z"/><path fill="url(#agf)" stroke="url(#agf)" d="M442.5,559.3L529.6,341.4L461.3,546.3z"/><path fill="url(#agg)" stroke="url(#agg)" d="M461.3,546.3L529.6,341.4L531.7,340.7L463.4,544.9z"/><path fill="url(#agh)" stroke="url(#agh)" d="M463.4,544.9L531.7,340.7L533.8,340L465.5,545.9z"/><path fill="url(#agi)" stroke="url(#agi)" d="M465.5,545.9L533.8,340L538,348L469.7,547.8z"/><path fill="url(#agj)" stroke="url(#agj)" d="M469.7,547.8L538,348L544.2,357L475.9,550.6z"/><path fill="url(#agk)" stroke="url(#agk)" d="M475.9,550.6L544.2,357L546.3,353.7L478,551.6z"/><path fill="url(#agl)" stroke="url(#agl)" d="M478,551.6L546.3,353.7L550.4,347.2L482.1,555.8z"/><path fill="url(#agm)" stroke="url(#agm)" d="M482.1,555.8L550.4,347.2L556.6,358L488.3,562.2z"/><path fill="url(#agn)" stroke="url(#agn)" d="M556.6,358L574.3,300.3L506,580.1z"/><path fill="url(#ago)" stroke="url(#ago)" d="M556.6,358L506,580.1L488.3,562.2z"/><path fill="url(#agp)" stroke="url(#agp)" d="M506,580.1L574.3,300.3L588.8,341.4L520.5,584.3z"/><path fill="url(#agq)" stroke="url(#agq)" d="M520.5,584.3L588.8,341.4L595.8,321.9L527.5,586.4z"/><path fill="url(#agr)" stroke="url(#agr)" d="M527.5,586.4L595.8,321.9L616.9,382z"/><path fill="url(#ags)" stroke="url(#ags)" d="M527.5,586.4L616.9,382L548.6,584.1z"/><path fill="url(#agt)" stroke="url(#agt)" d="M548.6,584.1L616.9,382L622.4,380.7L554.2,586.6z"/><path fill="url(#agu)" stroke="url(#agu)" d="M554.2,586.6L622.4,380.7L627,388L558.7,593.3z"/><path fill="url(#agv)" stroke="url(#agv)" d="M558.7,593.3L627,388L632,384L563.7,600.5z"/><path fill="url(#agw)" stroke="url(#agw)" d="M563.7,600.5L632,384L636.6,389.2L568.3,607.2z"/><path fill="url(#agx)" stroke="url(#agx)" d="M636.6,389.2L650.5,353.9L582.2,626.8z"/><path fill="url(#agy)" stroke="url(#agy)" d="M636.6,389.2L582.2,626.8L568.3,607.2z"/><path fill="url(#agz)" stroke="url(#agz)" d="M582.2,626.8L650.5,353.9L671.1,397.5z"/><path fill="url(#ah0)" stroke="url(#ah0)" d="M582.2,626.8L671.1,397.5L602.8,609z"/><path fill="url(#ah1)" stroke="url(#ah1)" d="M602.8,609L671.1,397.5L675,405.8L606.7,610.8z"/><path fill="url(#ah2)" stroke="url(#ah2)" d="M606.7,610.8L675,405.8L677.7,404.8L609.4,612z"/><path fill="url(#ah3)" stroke="url(#ah3)" d="M609.4,612L677.7,404.8L680.3,409.5L612,613.3z"/><path fill="url(#ah4)" stroke="url(#ah4)" d="M612,613.3L680.3,409.5L683,407.7L614.7,614.5z"/><path fill="url(#ah5)" stroke="url(#ah5)" d="M614.7,614.5L683,407.7L685.6,411.9L617.3,615.7z"/><path fill="url(#ah6)" stroke="url(#ah6)" d="M617.3,615.7L685.6,411.9L688.3,409.4L620,616.9z"/><path fill="url(#ah7)" stroke="url(#ah7)" d="M620,616.9L688.3,409.4L690.9,414.9L622.6,618.2z"/><path fill="url(#ah8)" stroke="url(#ah8)" d="M622.6,618.2L690.9,414.9L693.6,413.1L625.3,619.4z"/><path fill="url(#ah9)" stroke="url(#ah9)" d="M625.3,619.4L693.6,413.1L696.2,416.7L627.9,620.6z"/><path fill="url(#aha)" stroke="url(#aha)" d="M627.9,620.6L696.2,416.7L698.9,415.8L630.6,621.8z"/><path fill="url(#ahb)" stroke="url(#ahb)" d="M630.6,621.8L698.9,415.8L701.6,419.5L633.3,623.1z"/><path fill="url(#ahc)" stroke="url(#ahc)" d="M633.3,623.1L701.6,419.5L704.2,418.5L635.9,625.4z"/><path fill="url(#ahd)" stroke="url(#ahd)" d="M635.9,625.4L704.2,418.5L706.8,422.1L638.5,627.7z"/><path fill="url(#ahe)" stroke="url(#ahe)" d="M638.5,627.7L706.8,422.1L709.5,420.1L641.2,630.1z"/><path fill="url(#ahf)" stroke="url(#ahf)" d="M641.2,630.1L709.5,420.1L712.1,424.5L643.9,632.5z"/><path fill="url(#ahg)" stroke="url(#ahg)" d="M643.9,632.5L712.1,424.5L714.8,422.7L646.5,634.8z"/><path fill="url(#ahh)" stroke="url(#ahh)" d="M646.5,634.8L714.8,422.7L717.4,427.5L649.2,637.2z"/><path fill="url(#ahi)" stroke="url(#ahi)" d="M649.2,637.2L717.4,427.5L720.1,426.2L651.8,639.6z"/><path fill="url(#ahj)" stroke="url(#ahj)" d="M651.8,639.6L720.1,426.2L722.8,430L654.5,641.9z"/><path fill="url(#ahk)" stroke="url(#ahk)" d="M654.5,641.9L722.8,430L725.4,428.4L657.1,644.3z"/><path fill="url(#ahl)" stroke="url(#ahl)" d="M657.1,644.3L725.4,428.4L728.1,432.4L659.8,646.7z"/><path fill="url(#ahm)" stroke="url(#ahm)" d="M659.8,646.7L728.1,432.4L729.4,431.7L661.1,647.9z"/><path fill="url(#ahn)" stroke="url(#ahn)" d="M661.1,647.9L729.4,431.7L730.7,431L662.4,648.5z"/><path fill="url(#aho)" stroke="url(#aho)" d="M662.4,648.5L730.7,431L733.4,435.3L665.1,649.7z"/><path fill="url(#ahp)" stroke="url(#ahp)" d="M665.1,649.7L733.4,435.3L736,433.3L667.7,650.9z"/><path fill="url(#ahq)" stroke="url(#ahq)" d="M667.7,650.9L736,433.3L738.7,437.3L670.4,652.1z"/><path fill="url(#ahr)" stroke="url(#ahr)" d="M670.4,652.1L738.7,437.3L741.3,435.8L673,653.4z"/><path fill="url(#ahs)" stroke="url(#ahs)" d="M673,653.4L741.3,435.8L744,440.6L675.7,654.6z"/><path fill="url(#aht)" stroke="url(#aht)" d="M675.7,654.6L744,440.6L746.6,438.7L678.3,655.8z"/><path fill="url(#ahu)" stroke="url(#ahu)" d="M678.3,655.8L746.6,438.7L749.3,442.5L681,657z"/><path fill="url(#ahv)" stroke="url(#ahv)" d="M681,657L749.3,442.5L751.9,441.2L683.6,658.2z"/><path fill="url(#ahw)" stroke="url(#ahw)" d="M683.6,658.2L751.9,441.2L754.6,446L686.3,659.5z"/><path fill="url(#ahx)" stroke="url(#ahx)" d="M686.3,659.5L754.6,446L757.2,442.9L689,660.7z"/><path fill="url(#ahy)" stroke="url(#ahy)" d="M689,660.7L757.2,442.9L759.9,448.2L691.6,661.9z"/><path fill="url(#ahz)" stroke="url(#ahz)" d="M691.6,661.9L759.9,448.2L762.5,445.6L694.3,663.1z"/><path fill="url(#ai0)" stroke="url(#ai0)" d="M694.3,663.1L762.5,445.6L765.2,449.7L696.9,664.3z"/><path fill="url(#ai1)" stroke="url(#ai1)" d="M765.2,449.7L776.7,409.9L708.4,669.6z"/><path fill="url(#ai2)" stroke="url(#ai2)" d="M765.2,449.7L708.4,669.6L696.9,664.3z"/><path fill="url(#ai3)" stroke="url(#ai3)" d="M708.4,669.6L776.7,409.9L780.2,414L711.9,679.2z"/><path fill="url(#ai4)" stroke="url(#ai4)" d="M711.9,679.2L780.2,414L783.9,408.8L715.6,688.4z"/><path fill="url(#ai5)" stroke="url(#ai5)" d="M715.6,688.4L783.9,408.8L799.5,446.6L731.2,690.1z"/><path fill="url(#ai6)" stroke="url(#ai6)" d="M731.2,690.1L799.5,446.6L807.5,424.4L739.2,691z"/><path fill="url(#ai7)" stroke="url(#ai7)" d="M739.2,691L807.5,424.4L828.3,469.1z"/><path fill="url(#ai8)" stroke="url(#ai8)" d="M739.2,691L828.3,469.1L760,681.4z"/><path fill="url(#ai9)" stroke="url(#ai9)" d="M760,681.4L828.3,469.1L834.8,483L766.5,684.4z"/><path fill="url(#aia)" stroke="url(#aia)" d="M766.5,684.4L834.8,483L837.4,481.5L769.1,685.6z"/><path fill="url(#aib)" stroke="url(#aib)" d="M769.1,685.6L837.4,481.5L840,486.2L771.7,686.8z"/><path fill="url(#aic)" stroke="url(#aic)" d="M771.7,686.8L840,486.2L842.7,485.1L774.4,688z"/><path fill="url(#aid)" stroke="url(#aid)" d="M774.4,688L842.7,485.1L845.3,489.1L777,689.2z"/><path fill="url(#aie)" stroke="url(#aie)" d="M777,689.2L845.3,489.1L847.9,486.9L779.6,690.4z"/><path fill="url(#aif)" stroke="url(#aif)" d="M779.6,690.4L847.9,486.9L850.5,491.2L782.2,691.6z"/><path fill="url(#aig)" stroke="url(#aig)" d="M782.2,691.6L850.5,491.2L853.1,489.9L784.8,692.8z"/><path fill="url(#aih)" stroke="url(#aih)" d="M784.8,692.8L853.1,489.9L855.8,493.8L787.5,694z"/><path fill="url(#aii)" stroke="url(#aii)" d="M787.5,694L855.8,493.8L858.4,492L790.1,695.2z"/><path fill="url(#aij)" stroke="url(#aij)" d="M790.1,695.2L858.4,492L861,496.1L792.7,696.4z"/><path fill="url(#aik)" stroke="url(#aik)" d="M792.7,696.4L861,496.1L863.6,494.8L795.3,697.6z"/><path fill="url(#ail)" stroke="url(#ail)" d="M795.3,697.6L863.6,494.8L866.2,498.8L797.9,698.8z"/><path fill="url(#aim)" stroke="url(#aim)" d="M797.9,698.8L866.2,498.8L868.9,496.4L800.6,700z"/><path fill="url(#ain)" stroke="url(#ain)" d="M800.6,700L868.9,496.4L871.5,501.5L803.2,701.2z"/><path fill="url(#aio)" stroke="url(#aio)" d="M803.2,701.2L871.5,501.5L874.1,499.8L805.8,702.4z"/><path fill="url(#aip)" stroke="url(#aip)" d="M805.8,702.4L874.1,499.8L876.7,503.6L808.4,703.6z"/><path fill="url(#aiq)" stroke="url(#aiq)" d="M808.4,703.6L876.7,503.6L879.3,502L811,704.9z"/><path fill="url(#air)" stroke="url(#air)" d="M811,704.9L879.3,502L882,506L813.7,706.1z"/><path fill="url(#ais)" stroke="url(#ais)" d="M813.7,706.1L882,506L884.6,504.9L816.3,707.3z"/><path fill="url(#ait)" stroke="url(#ait)" d="M816.3,707.3L884.6,504.9L887.2,508.9L818.9,708.5z"/><path fill="url(#aiu)" stroke="url(#aiu)" d="M818.9,708.5L887.2,508.9L889.8,507.6L821.5,709.7z"/><path fill="url(#aiv)" stroke="url(#aiv)" d="M821.5,709.7L889.8,507.6L890.6,508.7L822.3,710z"/><path fill="url(#aiw)" stroke="url(#aiw)" d="M822.3,710L890.6,508.7L892.4,511.3L824.1,712.5z"/><path fill="url(#aix)" stroke="url(#aix)" d="M824.1,712.5L892.4,511.3L895.1,509.7L826.8,715.9z"/><path fill="url(#aiy)" stroke="url(#aiy)" d="M826.8,715.9L895.1,509.7L897.7,514.1L829.4,719.4z"/><path fill="url(#aiz)" stroke="url(#aiz)" d="M829.4,719.4L897.7,514.1L900.3,514.2L832,722.9z"/><path fill="url(#aj0)" stroke="url(#aj0)" d="M900.3,514.2L917.5,464.9L849.2,745.7z"/><path fill="url(#aj1)" stroke="url(#aj1)" d="M900.3,514.2L849.2,745.7L832,722.9z"/><path fill="url(#aj2)" stroke="url(#aj2)" d="M849.2,745.7L917.5,464.9L918.4,467.6L850.1,746.8z"/><path fill="url(#aj3)" stroke="url(#aj3)" d="M850.1,746.8L918.4,467.6L939.2,531.4z"/><path fill="url(#aj4)" stroke="url(#aj4)" d="M850.1,746.8L939.2,531.4L870.9,732.4z"/><path fill="url(#aj5)" stroke="url(#aj5)" d="M870.9,732.4L939.2,531.4L940.4,533.1L872.1,732.9z"/><path fill="url(#aj6)" stroke="url(#aj6)" d="M872.1,732.9L940.4,533.1L954.3,537L886,764.6z"/><path fill="url(#aj7)" stroke="url(#aj7)" d="M954.3,537L968.2,502.7L899.9,796.1z"/><path fill="url(#aj8)" stroke="url(#aj8)" d="M954.3,537L899.9,796.1L886,764.6z"/><path fill="url(#aj9)" stroke="url(#aj9)" d="M968.2,502.7L981,533L912.7,768.8z"/><path fill="url(#aja)" stroke="url(#aja)" d="M968.2,502.7L912.7,768.8L899.9,796.1z"/><path fill="url(#ajb)" stroke="url(#ajb)" d="M912.7,768.8L981,533L989.5,556L921.2,750.7z"/><path fill="url(#ajc)" stroke="url(#ajc)" d="M277,683L345.3,475.6L352.4,481.3L284.1,687.4z"/><path fill="url(#ajd)" stroke="url(#ajd)" d="M284.1,687.4L352.4,481.3L359.4,486.9L291.1,688z"/><path fill="url(#aje)" stroke="url(#aje)" d="M291.1,688L359.4,486.9L366.5,492.6L298.2,692.8z"/><path fill="url(#ajf)" stroke="url(#ajf)" d="M298.2,692.8L366.5,492.6L373.6,498.2L305.3,693.7z"/><path fill="url(#ajg)" stroke="url(#ajg)" d="M305.3,693.7L373.6,498.2L380.6,503.8L312.4,698.3z"/><path fill="url(#ajh)" stroke="url(#ajh)" d="M312.4,698.3L380.6,503.8L382.3,505.2L314,698.5z"/><path fill="url(#aji)" stroke="url(#aji)" d="M314,698.5L382.3,505.2L387.7,508.1L319.4,699.2z"/><path fill="url(#ajj)" stroke="url(#ajj)" d="M319.4,699.2L387.7,508.1L394.8,511.8L326.5,702.3z"/><path fill="url(#ajk)" stroke="url(#ajk)" d="M326.5,702.3L394.8,511.8L414.8,522.5L346.5,759.1z"/><path fill="url(#ajl)" stroke="url(#ajl)" d="M346.5,759.1L414.8,522.5L442.6,559.3L374.3,838.4z"/><path fill="url(#ajm)" stroke="url(#ajm)" d="M442.6,559.3L463.4,544.9L395.1,737.7z"/><path fill="url(#ajn)" stroke="url(#ajn)" d="M442.6,559.3L395.1,737.7L374.3,838.4z"/><path fill="url(#ajo)" stroke="url(#ajo)" d="M395.1,737.7L463.4,544.9L471.7,548.7L403.4,746z"/><path fill="url(#ajp)" stroke="url(#ajp)" d="M403.4,746L471.7,548.7L478,551.6L409.7,761z"/><path fill="url(#ajq)" stroke="url(#ajq)" d="M409.7,761L478,551.6L506,580L437.7,828z"/><path fill="url(#ajr)" stroke="url(#ajr)" d="M506,580L515.3,582.8L447,793.8z"/><path fill="url(#ajs)" stroke="url(#ajs)" d="M506,580L447,793.8L437.7,828z"/><path fill="url(#ajt)" stroke="url(#ajt)" d="M447,793.8L515.3,582.8L527.5,586.4L459.2,817.2z"/><path fill="url(#aju)" stroke="url(#aju)" d="M527.5,586.4L534,585.6L465.7,791.7z"/><path fill="url(#ajv)" stroke="url(#ajv)" d="M527.5,586.4L465.7,791.7L459.2,817.2z"/><path fill="url(#ajw)" stroke="url(#ajw)" d="M465.7,791.7L534,585.6L548.4,584L480.1,830.2z"/><path fill="url(#ajx)" stroke="url(#ajx)" d="M480.1,830.2L548.4,584L554.2,586.6L485.9,845.7z"/><path fill="url(#ajy)" stroke="url(#ajy)" d="M485.9,845.7L554.2,586.6L581.9,627L513.6,916.7z"/><path fill="url(#ajz)" stroke="url(#ajz)" d="M581.9,627L602.8,609L534.5,809.9z"/><path fill="url(#ak0)" stroke="url(#ak0)" d="M581.9,627L534.5,809.9L513.6,916.7z"/><path fill="url(#ak1)" stroke="url(#ak1)" d="M602.8,609L604.4,609.8L536.1,801.6z"/><path fill="url(#ak2)" stroke="url(#ak2)" d="M602.8,609L536.1,801.6L534.5,809.9z"/><path fill="url(#ak3)" stroke="url(#ak3)" d="M536.1,801.6L604.4,609.8L611.9,613.2L543.6,811.4z"/><path fill="url(#ak4)" stroke="url(#ak4)" d="M543.6,811.4L611.9,613.2L615.3,614.8L547,805z"/><path fill="url(#ak5)" stroke="url(#ak5)" d="M547,805L615.3,614.8L621.3,617.5L553,814.5z"/><path fill="url(#ak6)" stroke="url(#ak6)" d="M553,814.5L621.3,617.5L627.3,620.3L559,816.1z"/><path fill="url(#ak7)" stroke="url(#ak7)" d="M559,816.1L627.3,620.3L633.3,623.1L565.1,827.6z"/><path fill="url(#ak8)" stroke="url(#ak8)" d="M565.1,827.6L633.3,623.1L661.1,647.9L592.8,879.9z"/><path fill="url(#ak9)" stroke="url(#ak9)" d="M661.1,647.9L667.8,650.9L599.5,847.3z"/><path fill="url(#aka)" stroke="url(#aka)" d="M661.1,647.9L599.5,847.3L592.8,879.9z"/><path fill="url(#akb)" stroke="url(#akb)" d="M599.5,847.3L667.8,650.9L708.4,669.6z"/><path fill="url(#akc)" stroke="url(#akc)" d="M599.5,847.3L708.4,669.6L640.1,961.2z"/><path fill="url(#akd)" stroke="url(#akd)" d="M640.1,961.2L708.4,669.6L715.3,688.4L647,979.7z"/><path fill="url(#ake)" stroke="url(#ake)" d="M715.3,688.4L727,689.7L658.7,922.1z"/><path fill="url(#akf)" stroke="url(#akf)" d="M715.3,688.4L658.7,922.1L647,979.7z"/><path fill="url(#akg)" stroke="url(#akg)" d="M658.7,922.1L727,689.7L739.5,690.8L671.2,952.2z"/><path fill="url(#akh)" stroke="url(#akh)" d="M739.5,690.8L757.1,682.7L688.8,876.4z"/><path fill="url(#aki)" stroke="url(#aki)" d="M739.5,690.8L688.8,876.4L671.2,952.2z"/><path fill="url(#akj)" stroke="url(#akj)" d="M688.8,876.4L757.1,682.7L760,681.4L691.7,878.1z"/><path fill="url(#akk)" stroke="url(#akk)" d="M691.7,878.1L760,681.4L765.2,683.8L696.9,881.3z"/><path fill="url(#akl)" stroke="url(#akl)" d="M696.9,881.3L765.2,683.8L773.4,687.5L705.1,883z"/><path fill="url(#akm)" stroke="url(#akm)" d="M705.1,883L773.4,687.5L781.5,691.3L713.2,888z"/><path fill="url(#akn)" stroke="url(#akn)" d="M713.2,888L781.5,691.3L789.7,695L721.4,890z"/><path fill="url(#ako)" stroke="url(#ako)" d="M721.4,890L789.7,695L797.8,698.8L729.6,894.6z"/><path fill="url(#akp)" stroke="url(#akp)" d="M729.6,894.6L797.8,698.8L806,702.5L737.7,897.1z"/><path fill="url(#akq)" stroke="url(#akq)" d="M737.7,897.1L806,702.5L822.3,710L754,944.9z"/><path fill="url(#akr)" stroke="url(#akr)" d="M754,944.9L822.3,710L850.1,746.8L781.8,1026.3z"/><path fill="url(#aks)" stroke="url(#aks)" d="M781.8,1026.3L850.1,746.8L850.9,746.3L782.6,1028.6z"/><path fill="url(#akt)" stroke="url(#akt)" d="M850.9,746.3L864.4,736.9L796.1,949.4z"/><path fill="url(#aku)" stroke="url(#aku)" d="M850.9,746.3L796.1,949.4L782.6,1028.6z"/><path fill="url(#akv)" stroke="url(#akv)" d="M796.1,949.4L864.4,736.9L870.9,732.4L802.6,968.3z"/><path fill="url(#akw)" stroke="url(#akw)" d="M802.6,968.3L870.9,732.4L872.1,732.9L803.8,971.7z"/><path fill="url(#akx)" stroke="url(#akx)" d="M803.8,971.7L872.1,732.9L900.3,795.3L832,1053.2z"/><path fill="url(#aky)" stroke="url(#aky)" d="M900.3,795.3L913.3,767.6L845,960z"/><path fill="url(#akz)" stroke="url(#akz)" d="M900.3,795.3L845,960L832,1053.2z"/><path fill="url(#al0)" stroke="url(#al0)" d="M913.3,767.6L921.2,750.7L852.9,915z"/><path fill="url(#al1)" stroke="url(#al1)" d="M913.3,767.6L852.9,915L845,960z"/><path fill="url(#al2)" stroke="url(#al2)" d="M208.7,582.3L277,683L278.3,683.8L210,567.5z"/><path fill="url(#al3)" stroke="url(#al3)" d="M210,567.5L278.3,683.8L283.3,686.9L215,572z"/><path fill="url(#al4)" stroke="url(#al4)" d="M215,572L283.3,686.9L284.1,687.4L215.8,571.4z"/><path fill="url(#al5)" stroke="url(#al5)" d="M215.8,571.4L284.1,687.4L288.3,687.8L220,568z"/><path fill="url(#al6)" stroke="url(#al6)" d="M220,568L288.3,687.8L291.1,688L222.9,570.9z"/><path fill="url(#al7)" stroke="url(#al7)" d="M222.9,570.9L291.1,688L296.3,691.5L228,576z"/><path fill="url(#al8)" stroke="url(#al8)" d="M228,576L296.3,691.5L298.2,692.8L229.9,574.7z"/><path fill="url(#al9)" stroke="url(#al9)" d="M229.9,574.7L298.2,692.8L305.3,693.7L237,570z"/><path fill="url(#ala)" stroke="url(#ala)" d="M237,570L305.3,693.7L312.4,698.3L244.1,582z"/><path fill="url(#alb)" stroke="url(#alb)" d="M244.1,582L312.4,698.3L318.3,699.1L250,578z"/><path fill="url(#alc)" stroke="url(#alc)" d="M250,578L318.3,699.1L319.4,699.2L251.1,579.6z"/><path fill="url(#ald)" stroke="url(#ald)" d="M251.1,579.6L319.4,699.2L325.3,701.8L257,588z"/><path fill="url(#ale)" stroke="url(#ale)" d="M257,588L325.3,701.8L326.5,702.3L258.2,587.2z"/><path fill="url(#alf)" stroke="url(#alf)" d="M326.5,702.3L331.3,715.9L263,584z"/><path fill="url(#alg)" stroke="url(#alg)" d="M326.5,702.3L263,584L258.2,587.2z"/><path fill="url(#alh)" stroke="url(#alh)" d="M331.3,715.9L337.3,733L269,596z"/><path fill="url(#ali)" stroke="url(#ali)" d="M331.3,715.9L269,596L263,584z"/><path fill="url(#alj)" stroke="url(#alj)" d="M337.3,733L343.1,749.5L274.8,601z"/><path fill="url(#alk)" stroke="url(#alk)" d="M337.3,733L274.8,601L269,596z"/><path fill="url(#all)" stroke="url(#all)" d="M343.1,749.5L348.3,764.3L280,594z"/><path fill="url(#alm)" stroke="url(#alm)" d="M343.1,749.5L280,594L274.8,601z"/><path fill="url(#aln)" stroke="url(#aln)" d="M348.3,764.3L353.3,778.6L285,597z"/><path fill="url(#alo)" stroke="url(#alo)" d="M348.3,764.3L285,597L280,594z"/><path fill="url(#alp)" stroke="url(#alp)" d="M353.3,778.6L360.3,798.5L292,606z"/><path fill="url(#alq)" stroke="url(#alq)" d="M353.3,778.6L292,606L285,597z"/><path fill="url(#alr)" stroke="url(#alr)" d="M360.3,798.5L368,820.4L299.7,610.4z"/><path fill="url(#als)" stroke="url(#als)" d="M360.3,798.5L299.7,610.4L292,606z"/><path fill="url(#alt)" stroke="url(#alt)" d="M299.7,610.4L368,820.4L374.3,838.4L306,562.5z"/><path fill="url(#alu)" stroke="url(#alu)" d="M306,562.5L374.3,838.4L395.1,737.7z"/><path fill="url(#alv)" stroke="url(#alv)" d="M306,562.5L395.1,737.7L326.8,594.3z"/><path fill="url(#alw)" stroke="url(#alw)" d="M326.8,594.3L395.1,737.7L403.4,746L335.1,607z"/><path fill="url(#alx)" stroke="url(#alx)" d="M403.4,746L417.9,780.6L349.6,629.1z"/><path fill="url(#aly)" stroke="url(#aly)" d="M403.4,746L349.6,629.1L335.1,607z"/><path fill="url(#alz)" stroke="url(#alz)" d="M417.9,780.6L422.3,791.2L354,625z"/><path fill="url(#am0)" stroke="url(#am0)" d="M417.9,780.6L354,625L349.6,629.1z"/><path fill="url(#am1)" stroke="url(#am1)" d="M354,625L422.3,791.2L426.3,800.7L358,634z"/><path fill="url(#am2)" stroke="url(#am2)" d="M358,634L426.3,800.7L431.3,812.7L363,630z"/><path fill="url(#am3)" stroke="url(#am3)" d="M431.3,812.7L434.3,819.8L366,638.4z"/><path fill="url(#am4)" stroke="url(#am4)" d="M431.3,812.7L366,638.4L363,630z"/><path fill="url(#am5)" stroke="url(#am5)" d="M366,638.4L434.3,819.8L437,826.3L368.7,605.6z"/><path fill="url(#am6)" stroke="url(#am6)" d="M368.7,605.6L437,826.3L437.7,828L369.4,606.4z"/><path fill="url(#am7)" stroke="url(#am7)" d="M369.4,606.4L437.7,828L447,793.8L378.7,617.4z"/><path fill="url(#am8)" stroke="url(#am8)" d="M378.7,617.4L447,793.8L459.1,817.7L390.8,631.7z"/><path fill="url(#am9)" stroke="url(#am9)" d="M390.8,631.7L459.1,817.7L465.7,791.7L397.4,639.5z"/><path fill="url(#ama)" stroke="url(#ama)" d="M465.7,791.7L493.8,867L425.5,672.7z"/><path fill="url(#amb)" stroke="url(#amb)" d="M465.7,791.7L425.5,672.7L397.4,639.5z"/><path fill="url(#amc)" stroke="url(#amc)" d="M425.5,672.7L493.8,867L496.9,875.3L428.6,665.5z"/><path fill="url(#amd)" stroke="url(#amd)" d="M428.6,665.5L496.9,875.3L500.3,884.4L432,671z"/><path fill="url(#ame)" stroke="url(#ame)" d="M432,671L500.3,884.4L504.1,894.6L435.8,665.5z"/><path fill="url(#amf)" stroke="url(#amf)" d="M435.8,665.5L504.1,894.6L509.3,908.5L441,672.7z"/><path fill="url(#amg)" stroke="url(#amg)" d="M441,672.7L509.3,908.5L513.2,919L444.9,638z"/><path fill="url(#amh)" stroke="url(#amh)" d="M444.9,638L513.2,919L514.1,914.4L445.8,630.1z"/><path fill="url(#ami)" stroke="url(#ami)" d="M445.8,630.1L514.1,914.4L536.1,801.6z"/><path fill="url(#amj)" stroke="url(#amj)" d="M445.8,630.1L536.1,801.6L467.8,664.7z"/><path fill="url(#amk)" stroke="url(#amk)" d="M467.8,664.7L536.1,801.6L543.6,811.4L475.3,676.5z"/><path fill="url(#aml)" stroke="url(#aml)" d="M475.3,676.5L543.6,811.4L547,805L478.7,681.8z"/><path fill="url(#amm)" stroke="url(#amm)" d="M478.7,681.8L547,805L553,814.5L484.7,691.2z"/><path fill="url(#amn)" stroke="url(#amn)" d="M484.7,691.2L553,814.5L555.1,815.1L486.8,694.5z"/><path fill="url(#amo)" stroke="url(#amo)" d="M486.8,694.5L555.1,815.1L559.3,816.7L491,692z"/><path fill="url(#amp)" stroke="url(#amp)" d="M559.3,816.7L564.3,826.1L496,700z"/><path fill="url(#amq)" stroke="url(#amq)" d="M559.3,816.7L496,700L491,692z"/><path fill="url(#amr)" stroke="url(#amr)" d="M564.3,826.1L569.3,835.6L501,697z"/><path fill="url(#ams)" stroke="url(#ams)" d="M564.3,826.1L501,697L496,700z"/><path fill="url(#amt)" stroke="url(#amt)" d="M501,697L569.3,835.6L575.3,846.9L507,705z"/><path fill="url(#amu)" stroke="url(#amu)" d="M507,705L575.3,846.9L581.9,859.4L513.6,706z"/><path fill="url(#amv)" stroke="url(#amv)" d="M513.6,706L581.9,859.4L586.3,867.8L518,703z"/><path fill="url(#amw)" stroke="url(#amw)" d="M518,703L586.3,867.8L590.3,875.3L522,712z"/><path fill="url(#amx)" stroke="url(#amx)" d="M522,712L590.3,875.3L592.8,880.1L524.5,680.2z"/><path fill="url(#amy)" stroke="url(#amy)" d="M524.5,680.2L592.8,880.1L599.5,847.3L531.2,689.6z"/><path fill="url(#amz)" stroke="url(#amz)" d="M599.5,847.3L621.4,908.7L553.1,720.5z"/><path fill="url(#an0)" stroke="url(#an0)" d="M599.5,847.3L553.1,720.5L531.2,689.6z"/><path fill="url(#an1)" stroke="url(#an1)" d="M621.4,908.7L625.3,919.7L557,718z"/><path fill="url(#an2)" stroke="url(#an2)" d="M621.4,908.7L557,718L553.1,720.5z"/><path fill="url(#an3)" stroke="url(#an3)" d="M557,718L625.3,919.7L630.3,933.7L562,726z"/><path fill="url(#an4)" stroke="url(#an4)" d="M562,726L630.3,933.7L634.9,946.6L566.6,727.8z"/><path fill="url(#an5)" stroke="url(#an5)" d="M566.6,727.8L634.9,946.6L641.2,964.3L572.9,699.7z"/><path fill="url(#an6)" stroke="url(#an6)" d="M572.9,699.7L641.2,964.3L646.9,980.3L578.6,706.2z"/><path fill="url(#an7)" stroke="url(#an7)" d="M578.6,706.2L646.9,980.3L658.7,922.1z"/><path fill="url(#an8)" stroke="url(#an8)" d="M578.6,706.2L658.7,922.1L590.4,719.8z"/><path fill="url(#an9)" stroke="url(#an9)" d="M590.4,719.8L658.7,922.1L663,932.4L594.7,724.7z"/><path fill="url(#ana)" stroke="url(#ana)" d="M594.7,724.7L663,932.4L666.3,940.4L598,730z"/><path fill="url(#anb)" stroke="url(#anb)" d="M598,730L666.3,940.4L671.2,952.2L602.9,701z"/><path fill="url(#anc)" stroke="url(#anc)" d="M602.9,701L671.2,952.2L688.8,876.4z"/><path fill="url(#and)" stroke="url(#and)" d="M602.9,701L688.8,876.4L620.5,730z"/><path fill="url(#ane)" stroke="url(#ane)" d="M620.5,730L688.8,876.4L696.9,881.3L628.7,743.4z"/><path fill="url(#anf)" stroke="url(#anf)" d="M628.7,743.4L696.9,881.3L705.1,883L636.8,755.9z"/><path fill="url(#ang)" stroke="url(#ang)" d="M636.8,755.9L705.1,883L711.6,886.9L643.3,756.8z"/><path fill="url(#anh)" stroke="url(#anh)" d="M643.3,756.8L711.6,886.9L713.2,888L645,758.6z"/><path fill="url(#ani)" stroke="url(#ani)" d="M645,758.6L713.2,888L718.6,889.3L650.3,764.1z"/><path fill="url(#anj)" stroke="url(#anj)" d="M650.3,764.1L718.6,889.3L721.4,890L653.1,764.6z"/><path fill="url(#ank)" stroke="url(#ank)" d="M653.1,764.6L721.4,890L725.7,892.4L657.4,765.3z"/><path fill="url(#anl)" stroke="url(#anl)" d="M657.4,765.3L725.7,892.4L729.6,894.6L661.3,769.1z"/><path fill="url(#anm)" stroke="url(#anm)" d="M661.3,769.1L729.6,894.6L732.8,895.6L664.5,772.3z"/><path fill="url(#ann)" stroke="url(#ann)" d="M664.5,772.3L732.8,895.6L737.7,897.1L669.4,772.9z"/><path fill="url(#ano)" stroke="url(#ano)" d="M737.7,897.1L739.8,903.4L671.5,773.1z"/><path fill="url(#anp)" stroke="url(#anp)" d="M737.7,897.1L671.5,773.1L669.4,772.9z"/><path fill="url(#anq)" stroke="url(#anq)" d="M739.8,903.4L746.9,924.1L678.6,780.1z"/><path fill="url(#anr)" stroke="url(#anr)" d="M739.8,903.4L678.6,780.1L671.5,773.1z"/><path fill="url(#ans)" stroke="url(#ans)" d="M746.9,924.1L754,944.8L685.7,781.3z"/><path fill="url(#ant)" stroke="url(#ant)" d="M746.9,924.1L685.7,781.3L678.6,780.1z"/><path fill="url(#anu)" stroke="url(#anu)" d="M754,944.8L761.1,965.5L692.8,787.7z"/><path fill="url(#anv)" stroke="url(#anv)" d="M754,944.8L692.8,787.7L685.7,781.3z"/><path fill="url(#anw)" stroke="url(#anw)" d="M761.1,965.5L768.1,986.2L699.8,790.3z"/><path fill="url(#anx)" stroke="url(#anx)" d="M761.1,965.5L699.8,790.3L692.8,787.7z"/><path fill="url(#any)" stroke="url(#any)" d="M768.1,986.2L775.2,1006.9L706.9,795.3z"/><path fill="url(#anz)" stroke="url(#anz)" d="M768.1,986.2L706.9,795.3L699.8,790.3z"/><path fill="url(#ao0)" stroke="url(#ao0)" d="M706.9,795.3L775.2,1006.9L781.4,1025.1L713.1,766.2z"/><path fill="url(#ao1)" stroke="url(#ao1)" d="M713.1,766.2L781.4,1025.1L782.6,1028.6L714.3,767.8z"/><path fill="url(#ao2)" stroke="url(#ao2)" d="M714.3,767.8L782.6,1028.6L796.1,949.4z"/><path fill="url(#ao3)" stroke="url(#ao3)" d="M714.3,767.8L796.1,949.4L727.8,785.8z"/><path fill="url(#ao4)" stroke="url(#ao4)" d="M796.1,949.4L818.8,1015L750.5,816.1z"/><path fill="url(#ao5)" stroke="url(#ao5)" d="M796.1,949.4L750.5,816.1L727.8,785.8z"/><path fill="url(#ao6)" stroke="url(#ao6)" d="M750.5,816.1L818.8,1015L822.3,1025.1L754,813z"/><path fill="url(#ao7)" stroke="url(#ao7)" d="M754,813L822.3,1025.1L826.3,1036.7L758,820z"/><path fill="url(#ao8)" stroke="url(#ao8)" d="M758,820L826.3,1036.7L830.9,1050L762.6,778.7z"/><path fill="url(#ao9)" stroke="url(#ao9)" d="M762.6,778.7L830.9,1050L832,1053.2L763.7,780.4z"/><path fill="url(#aoa)" stroke="url(#aoa)" d="M763.7,780.4L832,1053.2L845,960z"/><path fill="url(#aob)" stroke="url(#aob)" d="M763.7,780.4L845,960L776.7,800.1z"/><path fill="url(#aoc)" stroke="url(#aoc)" d="M776.7,800.1L845,960L852.9,915z"/><path fill="url(#aod)" stroke="url(#aod)" d="M776.7,800.1L852.9,915L784.6,812z"/></g>
<path d="M208.7,827.4L208.7,251.2M784.6,1092.4L208.7,827.4M784.6,1092.4L1535.8,890.2M208.7,827.4L190.5,819M208.7,731.4L190.5,723M208.7,635.3L190.5,627M208.7,539.3L190.5,530.9M208.7,443.3L190.5,434.9M208.7,347.2L190.5,338.9M208.7,251.2L190.5,242.8M668.8,1039.1L649.5,1044.3M553,985.8L533.7,991M437.3,932.6L417.9,937.8M321.5,879.3L302.2,884.5M852.9,1074L871.1,1082.4M989.5,1037.3L1007.6,1045.6M1126.1,1000.5L1144.2,1008.9M1262.6,963.7L1280.8,972.1M1399.2,927L1417.4,935.3M1535.8,890.2L1554,898.6" stroke="#1c1c1c" stroke-width="2.2" fill="none" stroke-linecap="butt"/>
<g font-family="'Liberation Sans',Arial,sans-serif" font-size="40.5" fill="#262626">
<text x="173.5" y="828" text-anchor="end">-60</text>
<text x="173.5" y="732" text-anchor="end">-40</text>
<text x="173.5" y="636" text-anchor="end">-20</text>
<text x="173.5" y="539.9" text-anchor="end">0</text>
<text x="173.5" y="443.9" text-anchor="end">20</text>
<text x="173.5" y="347.9" text-anchor="end">40</text>
<text x="173.5" y="251.8" text-anchor="end">60</text>
<text x="631" y="1089.8" text-anchor="end">500</text>
<text x="515.2" y="1036.5" text-anchor="end">1000</text>
<text x="399.4" y="983.3" text-anchor="end">1500</text>
<text x="283.7" y="930" text-anchor="end">2000</text>
<text x="884.3" y="1129.7" text-anchor="start">2</text>
<text x="1020.8" y="1092.9" text-anchor="start">4</text>
<text x="1157.4" y="1056.2" text-anchor="start">6</text>
<text x="1294" y="1019.4" text-anchor="start">8</text>
<text x="1430.6" y="982.6" text-anchor="start">10</text>
<text x="1567.2" y="945.9" text-anchor="start">12</text>
</g>
<g font-family="'Liberation Serif','Times New Roman',serif" font-size="44.6" fill="#262626">
<text x="871" y="30.2" text-anchor="middle" fill="#000" font-size="44.6">Acoustic Signals of Feeding Behavior</text>
<text x="342.5" y="1137" text-anchor="middle">Frame Number</text>
<text x="1257" y="1153" text-anchor="middle">Feature Dimension</text>
<text transform="translate(89.4,540) rotate(-90)" text-anchor="middle">MFCC</text>
</g>
<path d="M851.5,2342.1L285.8,2082M985.8,2306L420.1,2045.9M1120,2269.9L554.3,2009.8M1254.2,2233.8L688.5,1973.7M1388.5,2197.7L822.8,1937.6M1522.7,2161.6L957,1901.5M670.4,2307.7L1408.7,2109.2M556.4,2255.3L1294.7,2056.8M442.4,2202.8L1180.7,2004.3M328.4,2150.4L1066.7,1951.9" stroke="#262626" stroke-opacity="0.16" stroke-width="1.5" fill="none"/>
<path d="M285.8,2082L285.8,1514.5M420.1,2045.9L420.1,1478.4M554.3,2009.8L554.3,1442.3M688.5,1973.7L688.5,1406.2M822.8,1937.6L822.8,1370.1M957,1901.5L957,1334M218.7,2100L957,1901.5M218.7,2005.4L957,1806.9M218.7,1910.8L957,1712.3M218.7,1816.2L957,1617.8M218.7,1721.7L957,1523.2M218.7,1627.1L957,1428.6M218.7,1532.5L957,1334" stroke="#262626" stroke-opacity="0.16" stroke-width="1.5" fill="none"/>
<path d="M957,1901.5L1522.7,2161.6M957,1806.9L1522.7,2067M957,1712.3L1522.7,1972.4M957,1617.8L1522.7,1877.8M957,1523.2L1522.7,1783.3M957,1428.6L1522.7,1688.7M957,1334L1522.7,1594.1M1408.7,2109.2L1408.7,1541.7M1294.7,2056.8L1294.7,1489.3M1180.7,2004.3L1180.7,1436.8M1066.7,1951.9L1066.7,1384.4" stroke="#262626" stroke-opacity="0.16" stroke-width="1.5" fill="none"/>
<defs><linearGradient id="b0" href="#jet" x1="1254.1" y1="919.4" x2="731.2" y2="2172.9"/><linearGradient id="b1" href="#jet" x1="1289.5" y1="1023.1" x2="818.8" y2="2142.9"/><linearGradient id="b2" href="#jet" x1="1328.7" y1="1116.1" x2="903.3" y2="2121.4"/><linearGradient id="b3" href="#jet" x1="1482.7" y1="1055.6" x2="888.6" y2="2212.1"/><linearGradient id="b4" href="#jet" x1="1606.1" y1="948.5" x2="882.1" y2="2336.1"/><linearGradient id="b5" href="#jet" x1="1417.3" y1="1191.2" x2="1096" y2="2185.5"/><linearGradient id="b6" href="#jet" x1="1580.6" y1="1163.9" x2="1077.3" y2="2248.6"/><linearGradient id="b7" href="#jet" x1="1687.2" y1="1153.6" x2="1144.1" y2="2323.8"/><linearGradient id="b8" href="#jet" x1="2090.8" y1="859.3" x2="965.4" y2="2606.3"/><linearGradient id="b9" href="#jet" x1="1667.8" y1="2486.9" x2="1339.9" y2="1412.8"/><linearGradient id="ba" href="#jet" x1="1423.9" y1="1762.9" x2="510" y2="1518.5"/><linearGradient id="bb" href="#jet" x1="1447.6" y1="1815.4" x2="497.6" y2="1488.8"/><linearGradient id="bc" href="#jet" x1="866.9" y1="1856.5" x2="842.3" y2="1464.8"/><linearGradient id="bd" href="#jet" x1="1414.8" y1="1799.4" x2="536.4" y2="1507.2"/><linearGradient id="be" href="#jet" x1="1064.8" y1="1437.5" x2="735" y2="1713.4"/><linearGradient id="bf" href="#jet" x1="903.4" y1="1581.8" x2="874.1" y2="1651"/><linearGradient id="bg" href="#jet" x1="1485.6" y1="1831.9" x2="529.9" y2="1503"/><linearGradient id="bh" href="#jet" x1="898.9" y1="1870.6" x2="876.9" y2="1480.6"/><linearGradient id="bi" href="#jet" x1="1406.5" y1="1826.8" x2="600.7" y2="1512.8"/><linearGradient id="bj" href="#jet" x1="939.4" y1="1545.5" x2="861.5" y2="1670.2"/><linearGradient id="bk" href="#jet" x1="1505.2" y1="1869.8" x2="550.4" y2="1490.9"/><linearGradient id="bl" href="#jet" x1="882.2" y1="1729.8" x2="918.7" y2="1574.6"/><linearGradient id="bm" href="#jet" x1="958.6" y1="1920.6" x2="898.7" y2="1466.1"/><linearGradient id="bn" href="#jet" x1="1389.6" y1="1854.1" x2="651" y2="1509.9"/><linearGradient id="bo" href="#jet" x1="1025.3" y1="1515.8" x2="850.1" y2="1695.3"/><linearGradient id="bp" href="#jet" x1="1454.1" y1="1847" x2="613.6" y2="1518.9"/><linearGradient id="bq" href="#jet" x1="1266.6" y1="2003.2" x2="721.1" y2="1428.2"/><linearGradient id="br" href="#jet" x1="1495.2" y1="1865.2" x2="592.3" y2="1509.4"/><linearGradient id="bs" href="#jet" x1="903.8" y1="1790" x2="936.2" y2="1553.7"/><linearGradient id="bt" href="#jet" x1="1488.6" y1="1725.2" x2="609.2" y2="1598.9"/><linearGradient id="bu" href="#jet" x1="1524.9" y1="1866.5" x2="591.4" y2="1517.3"/><linearGradient id="bv" href="#jet" x1="930.1" y1="1858.8" x2="939.1" y2="1522.7"/><linearGradient id="bw" href="#jet" x1="1446.1" y1="1860.1" x2="657.6" y2="1526.2"/><linearGradient id="bx" href="#jet" x1="1131.3" y1="1490.4" x2="831.8" y2="1731.7"/><linearGradient id="by" href="#jet" x1="1479.9" y1="1874.9" x2="640.9" y2="1519"/><linearGradient id="bz" href="#jet" x1="946.2" y1="1881.7" x2="944.9" y2="1515.5"/><linearGradient id="b10" href="#jet" x1="1474.6" y1="1861.2" x2="650.9" y2="1531.4"/><linearGradient id="b11" href="#jet" x1="1364" y1="1970.9" x2="713.8" y2="1467.3"/><linearGradient id="b12" href="#jet" x1="1511.5" y1="1877.4" x2="632.2" y2="1523.2"/><linearGradient id="b13" href="#jet" x1="1507.3" y1="1875.3" x2="639.5" y2="1525.7"/><linearGradient id="b14" href="#jet" x1="1194.9" y1="2051.6" x2="829.7" y2="1421.7"/><linearGradient id="b15" href="#jet" x1="1571.4" y1="1862.5" x2="601" y2="1538.8"/><linearGradient id="b16" href="#jet" x1="970.4" y1="1895" x2="953.3" y2="1520.2"/><linearGradient id="b17" href="#jet" x1="1294.8" y1="1473" x2="780.6" y2="1777.3"/><linearGradient id="b18" href="#jet" x1="1610.8" y1="1895" x2="596.5" y2="1526.1"/><linearGradient id="b19" href="#jet" x1="953.5" y1="1822.1" x2="985.3" y2="1570.7"/><linearGradient id="b1a" href="#jet" x1="1581.7" y1="1931.7" x2="644.2" y2="1511.8"/><linearGradient id="b1b" href="#jet" x1="965.3" y1="1741.8" x2="1003" y2="1623.3"/><linearGradient id="b1c" href="#jet" x1="1519.4" y1="1883.9" x2="706.6" y2="1553.7"/><linearGradient id="b1d" href="#jet" x1="1439.6" y1="1960.6" x2="751.5" y2="1508.2"/><linearGradient id="b1e" href="#jet" x1="1547.8" y1="1895.8" x2="695.9" y2="1549.7"/><linearGradient id="b1f" href="#jet" x1="1579.5" y1="1904.8" x2="683.5" y2="1547.4"/><linearGradient id="b1g" href="#jet" x1="1005.2" y1="1901.2" x2="1012.6" y2="1550.3"/><linearGradient id="b1h" href="#jet" x1="1506.4" y1="1895.4" x2="746.8" y2="1559.1"/><linearGradient id="b1i" href="#jet" x1="1204.7" y1="1531.3" x2="909.5" y2="1756.4"/><linearGradient id="b1j" href="#jet" x1="1089.6" y1="1992.8" x2="996.7" y2="1503.2"/><linearGradient id="b1k" href="#jet" x1="1538.9" y1="1899.4" x2="734.2" y2="1560.9"/><linearGradient id="b1l" href="#jet" x1="1311" y1="2057.4" x2="861.6" y2="1471.6"/><linearGradient id="b1m" href="#jet" x1="1555.5" y1="1906.6" x2="726.1" y2="1557.4"/><linearGradient id="b1n" href="#jet" x1="1075.5" y1="1989.4" x2="995.4" y2="1511.1"/><linearGradient id="b1o" href="#jet" x1="1501.3" y1="1903.1" x2="775" y2="1564.4"/><linearGradient id="b1p" href="#jet" x1="1486.5" y1="1907" x2="776.6" y2="1558.6"/><linearGradient id="b1q" href="#jet" x1="1043.5" y1="1916" x2="1050.5" y2="1559.7"/><linearGradient id="b1r" href="#jet" x1="1519.1" y1="1921.7" x2="779.4" y2="1559"/><linearGradient id="b1s" href="#jet" x1="1285.1" y1="2066.3" x2="906.8" y2="1479.8"/><linearGradient id="b1t" href="#jet" x1="1282.2" y1="1539.7" x2="922.7" y2="1786"/><linearGradient id="b1u" href="#jet" x1="1587.5" y1="1933.8" x2="750.4" y2="1559.9"/><linearGradient id="b1v" href="#jet" x1="1039.9" y1="1911.2" x2="1058.9" y2="1573.6"/><linearGradient id="b1w" href="#jet" x1="1523.3" y1="1943.8" x2="808.1" y2="1559.2"/><linearGradient id="b1x" href="#jet" x1="1571.4" y1="1917.8" x2="785.5" y2="1583"/><linearGradient id="b1y" href="#jet" x1="1507.1" y1="1966.6" x2="821.7" y2="1552.6"/><linearGradient id="b1z" href="#jet" x1="1614.8" y1="1939.1" x2="764" y2="1572.5"/><linearGradient id="b20" href="#jet" x1="1063.4" y1="1924" x2="1077.4" y2="1581.9"/><linearGradient id="b21" href="#jet" x1="1546.8" y1="1932.9" x2="821.5" y2="1581.5"/><linearGradient id="b22" href="#jet" x1="1202" y1="1584.4" x2="1007.3" y2="1769.8"/><linearGradient id="b23" href="#jet" x1="1615.8" y1="1966.9" x2="787.3" y2="1564.6"/><linearGradient id="b24" href="#jet" x1="1056.5" y1="1834.5" x2="1104.9" y2="1640.8"/><linearGradient id="b25" href="#jet" x1="1153.8" y1="1683.7" x2="1113.4" y2="1764.7"/><linearGradient id="b26" href="#jet" x1="1326.1" y1="1584.4" x2="972.7" y2="1791.1"/><linearGradient id="b27" href="#jet" x1="1671.4" y1="1941.8" x2="794.2" y2="1605.5"/><linearGradient id="b28" href="#jet" x1="1168" y1="2031.5" x2="1084.8" y2="1553.9"/><linearGradient id="b29" href="#jet" x1="1642.9" y1="1727.1" x2="819" y2="1736.5"/><linearGradient id="b2a" href="#jet" x1="1701.5" y1="1965" x2="788" y2="1596.7"/><linearGradient id="b2b" href="#jet" x1="1104.2" y1="1814.8" x2="1137.6" y2="1685.4"/><linearGradient id="b2c" href="#jet" x1="1661" y1="1962.7" x2="826.1" y2="1602.7"/><linearGradient id="b2d" href="#jet" x1="1108.8" y1="1890.4" x2="1142.6" y2="1644.6"/><linearGradient id="b2e" href="#jet" x1="1284.1" y1="2100.3" x2="1058.1" y2="1522"/><linearGradient id="b2f" href="#jet" x1="1675.4" y1="1957.4" x2="825.3" y2="1611.3"/><linearGradient id="b2g" href="#jet" x1="1695" y1="1963.9" x2="820.4" y2="1610.4"/><linearGradient id="b2h" href="#jet" x1="1698.8" y1="1965.4" x2="822.1" y2="1611.1"/><linearGradient id="b2i" href="#jet" x1="1142.1" y1="1920.4" x2="1165.9" y2="1640.2"/><linearGradient id="b2j" href="#jet" x1="1663.9" y1="1960.1" x2="860.4" y2="1619.7"/><linearGradient id="b2k" href="#jet" x1="1656.7" y1="1943.9" x2="864.3" y2="1627.4"/><linearGradient id="b2l" href="#jet" x1="1145.5" y1="1907.3" x2="1177.1" y2="1652.9"/><linearGradient id="b2m" href="#jet" x1="1690.5" y1="1990.4" x2="864.9" y2="1606.7"/><linearGradient id="b2n" href="#jet" x1="1699" y1="1994.1" x2="867.3" y2="1607.6"/><linearGradient id="b2o" href="#jet" x1="1158.4" y1="1920.9" x2="1192.1" y2="1653.1"/><linearGradient id="b2p" href="#jet" x1="1161.4" y1="1931.8" x2="1197.5" y2="1648.7"/><linearGradient id="b2q" href="#jet" x1="1663.2" y1="1968.7" x2="920.2" y2="1637.3"/><linearGradient id="b2r" href="#jet" x1="1467.2" y1="1627" x2="1022.9" y2="1817.1"/><linearGradient id="b2s" href="#jet" x1="1703.2" y1="1986.8" x2="902.6" y2="1629.4"/><linearGradient id="b2t" href="#jet" x1="1225.9" y1="2050.5" x2="1167.5" y2="1594.3"/><linearGradient id="b2u" href="#jet" x1="1707.8" y1="1978.8" x2="902.1" y2="1636.3"/><linearGradient id="b2v" href="#jet" x1="1419.3" y1="2141.8" x2="1062.8" y2="1545"/><linearGradient id="b2w" href="#jet" x1="1731.5" y1="1990.1" x2="890.3" y2="1630.7"/><linearGradient id="b2x" href="#jet" x1="1175.6" y1="1941.6" x2="1202.6" y2="1658.4"/><linearGradient id="b2y" href="#jet" x1="1711.2" y1="1753.4" x2="911.9" y2="1774.1"/><linearGradient id="b2z" href="#jet" x1="1765.6" y1="1995.9" x2="884" y2="1634.8"/><linearGradient id="b30" href="#jet" x1="1195.5" y1="1982.6" x2="1208.2" y2="1643.2"/><linearGradient id="b31" href="#jet" x1="1692.5" y1="1989.5" x2="945" y2="1643.7"/><linearGradient id="b32" href="#jet" x1="1374.1" y1="1625.6" x2="1116.4" y2="1840.4"/><linearGradient id="b33" href="#jet" x1="1736.3" y1="2009.9" x2="923.8" y2="1633.9"/><linearGradient id="b34" href="#jet" x1="1191.1" y1="1940.3" x2="1228.2" y2="1673.3"/><linearGradient id="b35" href="#jet" x1="1701" y1="1995.6" x2="958.3" y2="1648.5"/><linearGradient id="b36" href="#jet" x1="1533.5" y1="1639" x2="1047.5" y2="1840.2"/><linearGradient id="b37" href="#jet" x1="1210.9" y1="1913.8" x2="1252.3" y2="1698.9"/><linearGradient id="b38" href="#jet" x1="1724.4" y1="1995.3" x2="963.9" y2="1659"/><linearGradient id="b39" href="#jet" x1="1577.8" y1="1656.4" x2="1041.8" y2="1841.1"/><linearGradient id="b3a" href="#jet" x1="1782.8" y1="2022.5" x2="935.4" y2="1645.7"/><linearGradient id="b3b" href="#jet" x1="1214.8" y1="1917.1" x2="1256.3" y2="1705.9"/><linearGradient id="b3c" href="#jet" x1="1785.2" y1="1999.5" x2="940.9" y2="1665.2"/><linearGradient id="b3d" href="#jet" x1="1405.3" y1="2156.9" x2="1155.3" y2="1576.1"/><linearGradient id="b3e" href="#jet" x1="1311.3" y1="1706.9" x2="1229.2" y2="1842.9"/><linearGradient id="b3f" href="#jet" x1="1848.8" y1="2023.3" x2="915.6" y2="1657.7"/><linearGradient id="b3g" href="#jet" x1="1238.9" y1="1969.1" x2="1267.8" y2="1690.1"/><linearGradient id="b3h" href="#jet" x1="1778.8" y1="2013.2" x2="972.6" y2="1668.2"/><linearGradient id="b3i" href="#jet" x1="1520.9" y1="2179.2" x2="1116.6" y2="1575.2"/><linearGradient id="b3j" href="#jet" x1="1814.7" y1="2030.5" x2="954.5" y2="1659.4"/><linearGradient id="b3k" href="#jet" x1="1243.6" y1="1961.5" x2="1278.5" y2="1699.3"/><linearGradient id="b3l" href="#jet" x1="1745.5" y1="2015.2" x2="1019.1" y2="1677.6"/><linearGradient id="b3m" href="#jet" x1="1730.1" y1="2019.1" x2="1020.8" y2="1671.4"/><linearGradient id="b3n" href="#jet" x1="1798.4" y1="2039.9" x2="994.8" y2="1666.2"/><linearGradient id="b3o" href="#jet" x1="1265.1" y1="1998.5" x2="1292.7" y2="1689.9"/><linearGradient id="b3p" href="#jet" x1="1754.4" y1="2029.2" x2="1035.7" y2="1678.2"/><linearGradient id="b3q" href="#jet" x1="1416" y1="1680.7" x2="1216.4" y2="1865"/><linearGradient id="b3r" href="#jet" x1="1359.7" y1="2117.7" x2="1269.6" y2="1627.9"/><linearGradient id="b3s" href="#jet" x1="1789.8" y1="2031" x2="1019.5" y2="1681.1"/><linearGradient id="b3t" href="#jet" x1="1535" y1="2181.8" x2="1160.7" y2="1596.8"/><linearGradient id="b3u" href="#jet" x1="1809.2" y1="2040" x2="1010" y2="1676.7"/><linearGradient id="b3v" href="#jet" x1="1302" y1="2056.2" x2="1292.8" y2="1668"/><linearGradient id="b3w" href="#jet" x1="1829.4" y1="2013.3" x2="1008.2" y2="1701.6"/><linearGradient id="b3x" href="#jet" x1="1763.5" y1="1797.1" x2="1043.3" y2="1816.2"/><linearGradient id="b3y" href="#jet" x1="1893" y1="2041.6" x2="977.1" y2="1687.9"/><linearGradient id="b3z" href="#jet" x1="1290.4" y1="1945.1" x2="1324.2" y2="1744.2"/><linearGradient id="b40" href="#jet" x1="1792.8" y1="2136.2" x2="1047.6" y2="1635.3"/><linearGradient id="b41" href="#jet" x1="1893.3" y1="2037.1" x2="988.8" y2="1696.6"/><linearGradient id="b42" href="#jet" x1="1336.3" y1="2080.2" x2="1308.7" y2="1672.3"/><linearGradient id="b43" href="#jet" x1="1688.5" y1="1675" x2="1123.6" y2="1914.1"/><linearGradient id="b44" href="#jet" x1="1886.9" y1="2052.9" x2="1010.8" y2="1693.6"/><linearGradient id="b45" href="#jet" x1="1321.2" y1="2039" x2="1333.8" y2="1702.3"/><linearGradient id="b46" href="#jet" x1="1322.6" y1="1899.9" x2="1359.9" y2="1786.8"/><linearGradient id="b47" href="#jet" x1="1770.5" y1="2143.2" x2="1106" y2="1649.2"/><linearGradient id="b48" href="#jet" x1="1398.9" y1="1771.3" x2="1334.3" y2="1875.7"/><linearGradient id="b49" href="#jet" x1="1668.3" y1="2228.4" x2="1181.4" y2="1607.8"/><linearGradient id="b4a" href="#jet" x1="1963.3" y1="2080.7" x2="1006.5" y2="1699.9"/><linearGradient id="b4b" href="#jet" x1="1960.6" y1="2079.9" x2="1018.1" y2="1704.9"/><linearGradient id="b4c" href="#jet" x1="1621.2" y1="1667.8" x2="1232.1" y2="1959.9"/><linearGradient id="b4d" href="#jet" x1="1437.1" y1="1788.7" x2="1374.3" y2="1903.8"/><linearGradient id="b4e" href="#jet" x1="1359.8" y1="1931.9" x2="1395.3" y2="1805.1"/><linearGradient id="b4f" href="#jet" x1="1858.8" y1="2170.2" x2="1122" y2="1671.1"/><linearGradient id="b4g" href="#jet" x1="1962.4" y1="2068.3" x2="1061.6" y2="1738.4"/><linearGradient id="b4h" href="#jet" x1="1696.9" y1="2284.7" x2="1228.2" y2="1607.4"/><linearGradient id="b4i" href="#jet" x1="708" y1="2170.8" x2="844.1" y2="1293.5"/><linearGradient id="b4j" href="#jet" x1="331.9" y1="2114.4" x2="1088.2" y2="1332.1"/><linearGradient id="b4k" href="#jet" x1="552.3" y1="2217.7" x2="939" y2="1261.2"/><linearGradient id="b4l" href="#jet" x1="634" y1="2202.8" x2="909.5" y2="1281.5"/><linearGradient id="b4m" href="#jet" x1="554.4" y1="2220.9" x2="981.4" y2="1277.9"/><linearGradient id="b4n" href="#jet" x1="480.6" y1="2209.2" x2="1042.3" y2="1292.3"/><linearGradient id="b4o" href="#jet" x1="371.9" y1="2129.3" x2="1116" y2="1348.4"/><linearGradient id="b4p" href="#jet" x1="414.2" y1="2184.6" x2="1087.2" y2="1309.4"/><linearGradient id="b4q" href="#jet" x1="561.5" y1="2219.2" x2="1006" y2="1298.6"/><linearGradient id="b4r" href="#jet" x1="401.8" y1="2168.2" x2="1120.2" y2="1340.2"/><linearGradient id="b4s" href="#jet" x1="400.8" y1="2138.9" x2="1126.3" y2="1364.7"/><linearGradient id="b4t" href="#jet" x1="375.6" y1="2137.2" x2="1142.7" y2="1364.6"/><linearGradient id="b4u" href="#jet" x1="688.2" y1="2217.6" x2="959.5" y2="1320.4"/><linearGradient id="b4v" href="#jet" x1="845.3" y1="2157.9" x2="873.8" y2="1358.5"/><linearGradient id="b4w" href="#jet" x1="513.1" y1="2223.6" x2="1084" y2="1321.3"/><linearGradient id="b4x" href="#jet" x1="783.1" y1="2211.4" x2="928.5" y2="1332.4"/><linearGradient id="b4y" href="#jet" x1="532.2" y1="2220.1" x2="1091.5" y2="1331.4"/><linearGradient id="b4z" href="#jet" x1="726.5" y1="2225" x2="981.1" y2="1333.3"/><linearGradient id="b50" href="#jet" x1="598.1" y1="2218.7" x2="1066" y2="1340.5"/><linearGradient id="b51" href="#jet" x1="848.9" y1="2178.5" x2="919" y2="1367.2"/><linearGradient id="b52" href="#jet" x1="586.6" y1="2226.2" x2="1087.7" y2="1340.2"/><linearGradient id="b53" href="#jet" x1="913.4" y1="2141.3" x2="892.2" y2="1394.5"/><linearGradient id="b54" href="#jet" x1="441.9" y1="2163.3" x2="1192.4" y2="1383.2"/><linearGradient id="b55" href="#jet" x1="556.4" y1="2249" x2="1115.3" y2="1324.5"/><linearGradient id="b56" href="#jet" x1="740.6" y1="2249.2" x2="1011.2" y2="1332.8"/><linearGradient id="b57" href="#jet" x1="459.6" y1="2164.6" x2="1196.5" y2="1392.7"/><linearGradient id="b58" href="#jet" x1="596.1" y1="2225.6" x2="1131.1" y2="1369"/><linearGradient id="b59" href="#jet" x1="890.5" y1="2213.4" x2="973" y2="1384.7"/><linearGradient id="b5a" href="#jet" x1="679.2" y1="2287.1" x2="1109.4" y2="1343"/><linearGradient id="b5b" href="#jet" x1="477.3" y1="2177.3" x2="1236.7" y2="1414.6"/><linearGradient id="b5c" href="#jet" x1="778.8" y1="2273.1" x2="1066.5" y2="1363.6"/><linearGradient id="b5d" href="#jet" x1="1079.7" y1="1967.8" x2="917.5" y2="1538.7"/><linearGradient id="b5e" href="#jet" x1="480.4" y1="2189.6" x2="1250.3" y2="1415.6"/><linearGradient id="b5f" href="#jet" x1="968.2" y1="2185.3" x2="964.3" y2="1420.1"/><linearGradient id="b5g" href="#jet" x1="1084.1" y1="1947.7" x2="921" y2="1552.9"/><linearGradient id="b5h" href="#jet" x1="466.3" y1="2196.1" x2="1265.9" y2="1414.3"/><linearGradient id="b5i" href="#jet" x1="717.6" y1="2286.9" x2="1123.1" y2="1366.8"/><linearGradient id="b5j" href="#jet" x1="529.8" y1="2204.5" x2="1241.8" y2="1421.2"/><linearGradient id="b5k" href="#jet" x1="1002.4" y1="2173.3" x2="972.8" y2="1441.5"/><linearGradient id="b5l" href="#jet" x1="846.8" y1="2285.7" x2="1071.1" y2="1378.1"/><linearGradient id="b5m" href="#jet" x1="657.5" y1="2272.9" x2="1192.7" y2="1390.9"/><linearGradient id="b5n" href="#jet" x1="791" y1="2277.3" x2="1125.5" y2="1394.5"/><linearGradient id="b5o" href="#jet" x1="963.8" y1="2239.2" x2="1037.1" y2="1420.2"/><linearGradient id="b5p" href="#jet" x1="682.1" y1="2294.1" x2="1212.2" y2="1388.6"/><linearGradient id="b5q" href="#jet" x1="497.5" y1="2120.3" x2="1323.5" y2="1495"/><linearGradient id="b5r" href="#jet" x1="814.8" y1="2298.4" x2="1142.6" y2="1394.4"/><linearGradient id="b5s" href="#jet" x1="597.8" y1="2244.3" x2="1279.9" y2="1432.1"/><linearGradient id="b5t" href="#jet" x1="809.9" y1="2304.5" x2="1164" y2="1402.1"/><linearGradient id="b5u" href="#jet" x1="933.6" y1="2287.4" x2="1108.9" y2="1415.9"/><linearGradient id="b5v" href="#jet" x1="917.4" y1="2312" x2="1139.4" y2="1405.6"/><linearGradient id="b5w" href="#jet" x1="1173.7" y1="1992.6" x2="1010.7" y2="1595.6"/><linearGradient id="b5x" href="#jet" x1="570.1" y1="2234.3" x2="1360.7" y2="1455.4"/><linearGradient id="b5y" href="#jet" x1="961" y1="2298.3" x2="1123.5" y2="1419.1"/><linearGradient id="b5z" href="#jet" x1="749" y1="2320.4" x2="1264.6" y2="1409.8"/><linearGradient id="b60" href="#jet" x1="704.6" y1="2289.2" x2="1299.6" y2="1434"/><linearGradient id="b61" href="#jet" x1="1136" y1="2156.4" x2="1039.2" y2="1516.6"/><linearGradient id="b62" href="#jet" x1="817.4" y1="2336.8" x2="1241.5" y2="1407.5"/><linearGradient id="b63" href="#jet" x1="737.6" y1="2323.5" x2="1298.9" y2="1419.9"/><linearGradient id="b64" href="#jet" x1="544.5" y1="2125.7" x2="1421.6" y2="1545.7"/><linearGradient id="b65" href="#jet" x1="1013.8" y1="2303.5" x2="1142.3" y2="1441.5"/><linearGradient id="b66" href="#jet" x1="561.2" y1="2157.1" x2="1420" y2="1533.2"/><linearGradient id="b67" href="#jet" x1="784.1" y1="2337" x2="1295.4" y2="1432.6"/><linearGradient id="b68" href="#jet" x1="568.2" y1="2153.1" x2="1429.6" y2="1546.5"/><linearGradient id="b69" href="#jet" x1="817.9" y1="2330" x2="1289.1" y2="1448.5"/><linearGradient id="b6a" href="#jet" x1="1012.3" y1="2324.3" x2="1191.1" y2="1455.9"/><linearGradient id="b6b" href="#jet" x1="690.7" y1="2262.5" x2="1393.5" y2="1496.2"/><linearGradient id="b6c" href="#jet" x1="667.3" y1="2260.9" x2="1408.2" y2="1496.3"/><linearGradient id="b6d" href="#jet" x1="1154.8" y1="2237.7" x2="1121" y2="1511.5"/><linearGradient id="b6e" href="#jet" x1="837.2" y1="2345.5" x2="1315.3" y2="1448.7"/><linearGradient id="b6f" href="#jet" x1="1042.3" y1="2322.1" x2="1196.2" y2="1464.6"/><linearGradient id="b6g" href="#jet" x1="1024.4" y1="2338.9" x2="1212" y2="1455.9"/><linearGradient id="b6h" href="#jet" x1="666.3" y1="2241.2" x2="1433.3" y2="1518.8"/><linearGradient id="b6i" href="#jet" x1="965.5" y1="2354.1" x2="1263" y2="1456.9"/><linearGradient id="b6j" href="#jet" x1="707.9" y1="2269.7" x2="1422.7" y2="1511.2"/><linearGradient id="b6k" href="#jet" x1="1017.1" y1="2355" x2="1249.9" y2="1465.7"/><linearGradient id="b6l" href="#jet" x1="739.2" y1="2307.4" x2="1421.5" y2="1498.1"/><linearGradient id="b6m" href="#jet" x1="1070.6" y1="2352.3" x2="1239.4" y2="1476.4"/><linearGradient id="b6n" href="#jet" x1="922.5" y1="2371.4" x2="1339.9" y2="1469.4"/><linearGradient id="b6o" href="#jet" x1="1241.5" y1="2220.9" x2="1157.2" y2="1561.5"/><linearGradient id="b6p" href="#jet" x1="942.8" y1="2386.9" x2="1342.3" y2="1462.3"/><linearGradient id="b6q" href="#jet" x1="1089" y1="2363.1" x2="1258.9" y2="1478.7"/><linearGradient id="b6r" href="#jet" x1="718.3" y1="2271.6" x2="1490.5" y2="1539.1"/><linearGradient id="b6s" href="#jet" x1="1212.9" y1="2285.7" x2="1200.2" y2="1534.7"/><linearGradient id="b6t" href="#jet" x1="746.8" y1="2289.6" x2="1484.2" y2="1535.7"/><linearGradient id="b6u" href="#jet" x1="967.8" y1="2391.2" x2="1365.7" y2="1483"/><linearGradient id="b6v" href="#jet" x1="735.7" y1="2270.2" x2="1513.1" y2="1560.7"/><linearGradient id="b6w" href="#jet" x1="1037.4" y1="2397.5" x2="1345" y2="1491.2"/><linearGradient id="b6x" href="#jet" x1="1352.6" y1="2090.1" x2="1189.6" y2="1664.2"/><linearGradient id="b6y" href="#jet" x1="760.3" y1="2312.4" x2="1512.5" y2="1543.1"/><linearGradient id="b6z" href="#jet" x1="1258.9" y1="2287.1" x2="1224.6" y2="1559.2"/><linearGradient id="b70" href="#jet" x1="791.8" y1="2313.2" x2="1504.8" y2="1545.3"/><linearGradient id="b71" href="#jet" x1="1136.8" y1="2381" x2="1285.7" y2="1501.5"/><linearGradient id="b72" href="#jet" x1="1174.4" y1="2361.7" x2="1288.3" y2="1519"/><linearGradient id="b73" href="#jet" x1="1141.8" y1="2388.3" x2="1318.6" y2="1504.4"/><linearGradient id="b74" href="#jet" x1="803.8" y1="2332.8" x2="1530.9" y2="1541.6"/><linearGradient id="b75" href="#jet" x1="1202.5" y1="2368.9" x2="1294.1" y2="1522.9"/><linearGradient id="b76" href="#jet" x1="804.3" y1="2329.9" x2="1540.9" y2="1549.9"/><linearGradient id="b77" href="#jet" x1="880.2" y1="2404.3" x2="1491.2" y2="1499.8"/><linearGradient id="b78" href="#jet" x1="1111.7" y1="2410.6" x2="1360.2" y2="1504.6"/><linearGradient id="b79" href="#jet" x1="759.2" y1="2272.2" x2="1579.4" y2="1592.5"/><linearGradient id="b7a" href="#jet" x1="918.5" y1="2386" x2="1490.9" y2="1531"/><linearGradient id="b7b" href="#jet" x1="1255.1" y1="2356.7" x2="1302.3" y2="1551.8"/><linearGradient id="b7c" href="#jet" x1="1153.1" y1="2413" x2="1374.9" y2="1520.6"/><linearGradient id="b7d" href="#jet" x1="1289.1" y1="2344.2" x2="1302.2" y2="1565.1"/><linearGradient id="b7e" href="#jet" x1="1027.6" y1="2434.3" x2="1475.2" y2="1513.7"/><linearGradient id="b7f" href="#jet" x1="1161.7" y1="2430.9" x2="1405.9" y2="1521.6"/><linearGradient id="b7g" href="#jet" x1="1022.7" y1="2430.7" x2="1510.6" y2="1530.3"/><linearGradient id="b7h" href="#jet" x1="1286.9" y1="2392.9" x2="1365.1" y2="1561.5"/><linearGradient id="b7i" href="#jet" x1="1048.7" y1="2463.7" x2="1524.3" y2="1519"/><linearGradient id="b7j" href="#jet" x1="1385.4" y1="2331.7" x2="1339.6" y2="1602.6"/><linearGradient id="b7k" href="#jet" x1="1370" y1="1988.2" x2="1318.3" y2="1846.6"/><linearGradient id="b7l" href="#jet" x1="494.2" y1="2086.7" x2="952.4" y2="1346.3"/><linearGradient id="b7m" href="#jet" x1="649.1" y1="2108.9" x2="813.5" y2="1330"/><linearGradient id="b7n" href="#jet" x1="498.9" y1="2088" x2="974.6" y2="1356.4"/><linearGradient id="b7o" href="#jet" x1="631.1" y1="2122.3" x2="858.8" y2="1329.4"/><linearGradient id="b7p" href="#jet" x1="503.4" y1="2095.8" x2="995.5" y2="1360.7"/><linearGradient id="b7q" href="#jet" x1="709.6" y1="2110.7" x2="800.9" y2="1349.9"/><linearGradient id="b7r" href="#jet" x1="612.5" y1="2116.8" x2="913.4" y2="1349.7"/><linearGradient id="b7s" href="#jet" x1="513.9" y1="2065.8" x2="1027.4" y2="1408.5"/><linearGradient id="b7t" href="#jet" x1="658.5" y1="2117.6" x2="901.3" y2="1364.9"/><linearGradient id="b7u" href="#jet" x1="564.8" y1="2087.2" x2="1006" y2="1401.4"/><linearGradient id="b7v" href="#jet" x1="572.7" y1="2087.1" x2="998.5" y2="1400.6"/><linearGradient id="b7w" href="#jet" x1="662.8" y1="2119.5" x2="916.5" y2="1372.1"/><linearGradient id="b7x" href="#jet" x1="741.1" y1="2111.8" x2="846.3" y2="1382.2"/><linearGradient id="b7y" href="#jet" x1="645.2" y1="2130.3" x2="951.5" y2="1371.7"/><linearGradient id="b7z" href="#jet" x1="577.9" y1="2094" x2="1009.6" y2="1401.9"/><linearGradient id="b80" href="#jet" x1="592.6" y1="2116.8" x2="1000.9" y2="1384.7"/><linearGradient id="b81" href="#jet" x1="667" y1="2138" x2="946.1" y2="1371.2"/><linearGradient id="b82" href="#jet" x1="748.8" y1="2131.3" x2="886.2" y2="1384.5"/><linearGradient id="b83" href="#jet" x1="602.9" y1="2113.9" x2="1048.5" y2="1410"/><linearGradient id="b84" href="#jet" x1="621.1" y1="2141.6" x2="1041" y2="1390.5"/><linearGradient id="b85" href="#jet" x1="734.8" y1="2154.5" x2="942.1" y2="1382.3"/><linearGradient id="b86" href="#jet" x1="604.2" y1="2113.4" x2="1086.4" y2="1429.4"/><linearGradient id="b87" href="#jet" x1="805.4" y1="2141.3" x2="896.3" y2="1405.6"/><linearGradient id="b88" href="#jet" x1="656.9" y1="2142.7" x2="1051.6" y2="1409.7"/><linearGradient id="b89" href="#jet" x1="629.8" y1="2121.3" x2="1075.3" y2="1427.6"/><linearGradient id="b8a" href="#jet" x1="838.8" y1="2130.4" x2="872" y2="1420.8"/><linearGradient id="b8b" href="#jet" x1="668.5" y1="2137" x2="1053.1" y2="1419.2"/><linearGradient id="b8c" href="#jet" x1="775.5" y1="2152.8" x2="962.6" y2="1410.2"/><linearGradient id="b8d" href="#jet" x1="620.3" y1="2092.2" x2="1127.9" y2="1476.3"/><linearGradient id="b8e" href="#jet" x1="860.5" y1="2138.4" x2="895.4" y2="1433.9"/><linearGradient id="b8f" href="#jet" x1="716.5" y1="2149.3" x2="1057.1" y2="1431.6"/><linearGradient id="b8g" href="#jet" x1="929" y1="2108.3" x2="864.5" y2="1480.4"/><linearGradient id="b8h" href="#jet" x1="656.2" y1="2100.9" x2="1139.8" y2="1489.5"/><linearGradient id="b8i" href="#jet" x1="807.3" y1="2162.6" x2="996.4" y2="1431.7"/><linearGradient id="b8j" href="#jet" x1="721" y1="2148.3" x2="1089.1" y2="1450.3"/><linearGradient id="b8k" href="#jet" x1="705.9" y1="2136.9" x2="1101.8" y2="1459.5"/><linearGradient id="b8l" href="#jet" x1="803.9" y1="2162.6" x2="1017.4" y2="1439.2"/><linearGradient id="b8m" href="#jet" x1="752.2" y1="2149.2" x2="1081.4" y2="1457.4"/><linearGradient id="b8n" href="#jet" x1="766.7" y1="2157.5" x2="1072.4" y2="1452.1"/><linearGradient id="b8o" href="#jet" x1="721.2" y1="2146.7" x2="1121.3" y2="1466.8"/><linearGradient id="b8p" href="#jet" x1="726.5" y1="2144.6" x2="1116.2" y2="1467.8"/><linearGradient id="b8q" href="#jet" x1="832.8" y1="2171.1" x2="1025" y2="1446.6"/><linearGradient id="b8r" href="#jet" x1="744" y1="2149" x2="1136.3" y2="1477.7"/><linearGradient id="b8s" href="#jet" x1="802" y1="2179.2" x2="1088.9" y2="1453.7"/><linearGradient id="b8t" href="#jet" x1="695.7" y1="2120" x2="1201.8" y2="1516.9"/><linearGradient id="b8u" href="#jet" x1="813.8" y1="2184.8" x2="1099" y2="1459.9"/><linearGradient id="b8v" href="#jet" x1="906.8" y1="2181.7" x2="1021.6" y2="1468.6"/><linearGradient id="b8w" href="#jet" x1="804.3" y1="2176.3" x2="1136.8" y2="1479.2"/><linearGradient id="b8x" href="#jet" x1="808.4" y1="2188.4" x2="1142" y2="1472.6"/><linearGradient id="b8y" href="#jet" x1="886.2" y1="2201.3" x2="1070.3" y2="1462.2"/><linearGradient id="b8z" href="#jet" x1="828" y1="2203.1" x2="1135.8" y2="1464.4"/><linearGradient id="b90" href="#jet" x1="981.1" y1="2181.8" x2="989.3" y2="1488.5"/><linearGradient id="b91" href="#jet" x1="753.3" y1="2175.2" x2="1222.5" y2="1498.3"/><linearGradient id="b92" href="#jet" x1="905.4" y1="2217.3" x2="1080.9" y2="1461.2"/><linearGradient id="b93" href="#jet" x1="757.7" y1="2187.9" x2="1231.3" y2="1493.7"/><linearGradient id="b94" href="#jet" x1="768.8" y1="2187.8" x2="1221" y2="1492.7"/><linearGradient id="b95" href="#jet" x1="859.2" y1="2224.2" x2="1138.6" y2="1460.7"/><linearGradient id="b96" href="#jet" x1="881.5" y1="2225" x2="1125.2" y2="1463.1"/><linearGradient id="b97" href="#jet" x1="802.8" y1="2208.8" x2="1211" y2="1482.9"/><linearGradient id="b98" href="#jet" x1="910.5" y1="2229.4" x2="1115" y2="1467.1"/><linearGradient id="b99" href="#jet" x1="777.1" y1="2187.7" x2="1256.7" y2="1512.5"/><linearGradient id="b9a" href="#jet" x1="963.1" y1="2220.8" x2="1080.5" y2="1483.2"/><linearGradient id="b9b" href="#jet" x1="803.8" y1="2199.3" x2="1243.9" y2="1508.2"/><linearGradient id="b9c" href="#jet" x1="809.7" y1="2197" x2="1238.2" y2="1509"/><linearGradient id="b9d" href="#jet" x1="1008.7" y1="2205.8" x2="1044.9" y2="1502.7"/><linearGradient id="b9e" href="#jet" x1="885.1" y1="2217.7" x2="1175.3" y2="1492.6"/><linearGradient id="b9f" href="#jet" x1="794.4" y1="2169.2" x2="1273.8" y2="1545.8"/><linearGradient id="b9g" href="#jet" x1="973.6" y1="2221.6" x2="1103.7" y2="1497.7"/><linearGradient id="b9h" href="#jet" x1="780.5" y1="2137.2" x2="1302.4" y2="1584.6"/><linearGradient id="b9i" href="#jet" x1="941.8" y1="2224.1" x2="1149.1" y2="1501.4"/><linearGradient id="b9j" href="#jet" x1="936.8" y1="2221.4" x2="1164.6" y2="1507.6"/><linearGradient id="b9k" href="#jet" x1="884.1" y1="2210.3" x2="1223.3" y2="1521.6"/><linearGradient id="b9l" href="#jet" x1="945.4" y1="2227.8" x2="1170.6" y2="1507.7"/><linearGradient id="b9m" href="#jet" x1="889.9" y1="2218.5" x2="1236.8" y2="1521.9"/><linearGradient id="b9n" href="#jet" x1="900.3" y1="2232.7" x2="1235.8" y2="1513.7"/><linearGradient id="b9o" href="#jet" x1="864.8" y1="2222" x2="1282.8" y2="1530.4"/><linearGradient id="b9p" href="#jet" x1="934.6" y1="2246" x2="1229.6" y2="1514"/><linearGradient id="b9q" href="#jet" x1="925.3" y1="2240.3" x2="1256.4" y2="1527.3"/><linearGradient id="b9r" href="#jet" x1="1008.9" y1="2248.3" x2="1185.8" y2="1524"/><linearGradient id="b9s" href="#jet" x1="917.6" y1="2236.3" x2="1285.3" y2="1541.8"/><linearGradient id="b9t" href="#jet" x1="1180.9" y1="2051.9" x2="986.4" y2="1746"/><linearGradient id="b9u" href="#jet" x1="1136.7" y1="2199.4" x2="1067.6" y2="1578.1"/><linearGradient id="b9v" href="#jet" x1="868.7" y1="2192.5" x2="1340.6" y2="1587"/><linearGradient id="b9w" href="#jet" x1="974.1" y1="2253.6" x2="1243.6" y2="1530.5"/><linearGradient id="b9x" href="#jet" x1="990.3" y1="2264.5" x2="1243.4" y2="1527.2"/><linearGradient id="b9y" href="#jet" x1="910.1" y1="2233.6" x2="1313.7" y2="1553.8"/><linearGradient id="b9z" href="#jet" x1="1038.5" y1="2261.4" x2="1191.7" y2="1528.4"/><linearGradient id="ba0" href="#jet" x1="992.2" y1="2261.5" x2="1246.5" y2="1530.8"/><linearGradient id="ba1" href="#jet" x1="938.6" y1="2251.4" x2="1309.8" y2="1545.4"/><linearGradient id="ba2" href="#jet" x1="975.5" y1="2267.1" x2="1285" y2="1535.8"/><linearGradient id="ba3" href="#jet" x1="914.6" y1="2238.4" x2="1357.8" y2="1570.5"/><linearGradient id="ba4" href="#jet" x1="915.6" y1="2249.6" x2="1358.9" y2="1563.1"/><linearGradient id="ba5" href="#jet" x1="922.5" y1="2249.5" x2="1352.5" y2="1562.4"/><linearGradient id="ba6" href="#jet" x1="1076.8" y1="2273.9" x2="1207.7" y2="1541.1"/><linearGradient id="ba7" href="#jet" x1="916.1" y1="2229" x2="1379.8" y2="1590.8"/><linearGradient id="ba8" href="#jet" x1="1081.2" y1="2275.1" x2="1226.6" y2="1549.8"/><linearGradient id="ba9" href="#jet" x1="948.4" y1="2238.1" x2="1371.5" y2="1591.4"/><linearGradient id="baa" href="#jet" x1="1175.6" y1="2242.5" x2="1148.1" y2="1589.6"/><linearGradient id="bab" href="#jet" x1="928.2" y1="2216.4" x2="1401.3" y2="1617.8"/><linearGradient id="bac" href="#jet" x1="1098.4" y1="2277" x2="1236.2" y2="1560"/><linearGradient id="bad" href="#jet" x1="1039.2" y1="2280.8" x2="1303.4" y2="1560.3"/><linearGradient id="bae" href="#jet" x1="1142.7" y1="2277.3" x2="1206.5" y2="1567.2"/><linearGradient id="baf" href="#jet" x1="1022.8" y1="2290.8" x2="1335.9" y2="1557.8"/><linearGradient id="bag" href="#jet" x1="918.4" y1="2243.6" x2="1447.8" y2="1609.6"/><linearGradient id="bah" href="#jet" x1="989.4" y1="2293.3" x2="1383.9" y2="1564.3"/><linearGradient id="bai" href="#jet" x1="1170.9" y1="2286.4" x2="1212.4" y2="1574.2"/><linearGradient id="baj" href="#jet" x1="960.5" y1="2277" x2="1421.7" y2="1585.6"/><linearGradient id="bak" href="#jet" x1="970.2" y1="2276.8" x2="1413" y2="1584.7"/><linearGradient id="bal" href="#jet" x1="1137.8" y1="2301.8" x2="1251.7" y2="1562.3"/><linearGradient id="bam" href="#jet" x1="1008.4" y1="2290.5" x2="1389.3" y2="1577.4"/><linearGradient id="ban" href="#jet" x1="1126.1" y1="2303.9" x2="1284.5" y2="1568.7"/><linearGradient id="bao" href="#jet" x1="1057.5" y1="2294.8" x2="1365.4" y2="1582.1"/><linearGradient id="bap" href="#jet" x1="1021.7" y1="2287.8" x2="1408.1" y2="1595"/><linearGradient id="baq" href="#jet" x1="1016.4" y1="2279.7" x2="1412" y2="1601"/><linearGradient id="bar" href="#jet" x1="1142.5" y1="2307.1" x2="1291.5" y2="1576.5"/><linearGradient id="bas" href="#jet" x1="1122.6" y1="2317.8" x2="1326.8" y2="1572.1"/><linearGradient id="bat" href="#jet" x1="1013.4" y1="2283.9" x2="1423" y2="1601.3"/><linearGradient id="bau" href="#jet" x1="1068.8" y1="2316.2" x2="1374.5" y2="1573.1"/><linearGradient id="bav" href="#jet" x1="1131.7" y1="2324.6" x2="1321.8" y2="1568.3"/><linearGradient id="baw" href="#jet" x1="997.6" y1="2293" x2="1461.7" y2="1602.4"/><linearGradient id="bax" href="#jet" x1="1139.6" y1="2328.6" x2="1328.1" y2="1570.1"/><linearGradient id="bay" href="#jet" x1="1030.6" y1="2312.2" x2="1453.4" y2="1594.2"/><linearGradient id="baz" href="#jet" x1="1128.6" y1="2341.7" x2="1378.4" y2="1575.2"/><linearGradient id="bb0" href="#jet" x1="1022.4" y1="2309.7" x2="1501.5" y2="1615"/><linearGradient id="bb1" href="#jet" x1="1044.2" y1="2337.7" x2="1487.6" y2="1593.7"/><linearGradient id="bb2" href="#jet" x1="1172.3" y1="2359.7" x2="1371.4" y2="1576.4"/><linearGradient id="bb3" href="#jet" x1="1002.5" y1="2276.9" x2="1548.7" y2="1666.2"/><linearGradient id="bb4" href="#jet" x1="613.5" y1="1912.1" x2="719.5" y2="1542.8"/><linearGradient id="bb5" href="#jet" x1="891.5" y1="1792.5" x2="473" y2="1609.2"/><linearGradient id="bb6" href="#jet" x1="599.8" y1="1906.8" x2="707.1" y2="1540.4"/><linearGradient id="bb7" href="#jet" x1="643.6" y1="1961.7" x2="675.5" y2="1496.9"/><linearGradient id="bb8" href="#jet" x1="587.7" y1="1854.6" x2="727.1" y2="1585.7"/><linearGradient id="bb9" href="#jet" x1="610.5" y1="1912.2" x2="721.2" y2="1546.1"/><linearGradient id="bba" href="#jet" x1="612.4" y1="1900.9" x2="732.5" y2="1561.3"/><linearGradient id="bbb" href="#jet" x1="634.9" y1="1940.5" x2="722.7" y2="1532.5"/><linearGradient id="bbc" href="#jet" x1="662.8" y1="1951.6" x2="729.5" y2="1530.7"/><linearGradient id="bbd" href="#jet" x1="873.1" y1="1966.9" x2="536" y2="1511.1"/><linearGradient id="bbe" href="#jet" x1="862" y1="1984.4" x2="543.7" y2="1500.6"/><linearGradient id="bbf" href="#jet" x1="695.1" y1="1996" x2="662.7" y2="1492.5"/><linearGradient id="bbg" href="#jet" x1="850.4" y1="1986.3" x2="559.2" y2="1501.3"/><linearGradient id="bbh" href="#jet" x1="597.9" y1="1851.6" x2="732.4" y2="1593.4"/><linearGradient id="bbi" href="#jet" x1="665" y1="1970.6" x2="713.3" y2="1515.6"/><linearGradient id="bbj" href="#jet" x1="636.2" y1="1853.5" x2="773.8" y2="1635.3"/><linearGradient id="bbk" href="#jet" x1="846.7" y1="1990" x2="568.5" y2="1501.7"/><linearGradient id="bbl" href="#jet" x1="645.5" y1="1943.8" x2="743.1" y2="1544.5"/><linearGradient id="bbm" href="#jet" x1="633.9" y1="1912.3" x2="762.5" y2="1574.1"/><linearGradient id="bbn" href="#jet" x1="657.5" y1="1831.6" x2="785.7" y2="1671.9"/><linearGradient id="bbo" href="#jet" x1="652.6" y1="1968.6" x2="739" y2="1532"/><linearGradient id="bbp" href="#jet" x1="723.8" y1="2002.6" x2="738.1" y2="1513.5"/><linearGradient id="bbq" href="#jet" x1="918.1" y1="1955.4" x2="568.5" y2="1543"/><linearGradient id="bbr" href="#jet" x1="669.7" y1="1964.8" x2="763.1" y2="1543.9"/><linearGradient id="bbs" href="#jet" x1="638.8" y1="1869.3" x2="792.7" y2="1621.8"/><linearGradient id="bbt" href="#jet" x1="866.8" y1="2011.7" x2="614.2" y2="1510.6"/><linearGradient id="bbu" href="#jet" x1="712.4" y1="2010.9" x2="717.7" y2="1511.3"/><linearGradient id="bbv" href="#jet" x1="716.8" y1="1999.1" x2="760.6" y2="1523.2"/><linearGradient id="bbw" href="#jet" x1="879.5" y1="2012.7" x2="613.5" y2="1511.6"/><linearGradient id="bbx" href="#jet" x1="683.9" y1="1944.3" x2="800.7" y2="1578.9"/><linearGradient id="bby" href="#jet" x1="877.8" y1="2008.8" x2="615.8" y2="1516.8"/><linearGradient id="bbz" href="#jet" x1="662.6" y1="1868.4" x2="804.2" y2="1638.7"/><linearGradient id="bc0" href="#jet" x1="903.7" y1="2017.6" x2="620.6" y2="1525.5"/><linearGradient id="bc1" href="#jet" x1="725.6" y1="2002.6" x2="772.9" y2="1540.4"/><linearGradient id="bc2" href="#jet" x1="705.8" y1="1957.6" x2="825.9" y2="1591"/><linearGradient id="bc3" href="#jet" x1="895.4" y1="2021.2" x2="636.8" y2="1527.1"/><linearGradient id="bc4" href="#jet" x1="700.7" y1="1961.2" x2="809.5" y2="1581.6"/><linearGradient id="bc5" href="#jet" x1="706.6" y1="1958.8" x2="814.2" y2="1586.9"/><linearGradient id="bc6" href="#jet" x1="697.8" y1="1929.1" x2="832" y2="1615.9"/><linearGradient id="bc7" href="#jet" x1="709.6" y1="1951.4" x2="835.7" y2="1604"/><linearGradient id="bc8" href="#jet" x1="930.9" y1="2033.6" x2="665.5" y2="1542.1"/><linearGradient id="bc9" href="#jet" x1="689.7" y1="1917.5" x2="828.4" y2="1620.1"/><linearGradient id="bca" href="#jet" x1="773.9" y1="2028.8" x2="796.8" y2="1547.2"/><linearGradient id="bcb" href="#jet" x1="1013.6" y1="1860.9" x2="605.9" y2="1684.8"/><linearGradient id="bcc" href="#jet" x1="760" y1="2017.7" x2="816.5" y2="1560.2"/><linearGradient id="bcd" href="#jet" x1="735.8" y1="1954.7" x2="873.3" y2="1627.2"/><linearGradient id="bce" href="#jet" x1="934.2" y1="2040.3" x2="680.8" y2="1543.7"/><linearGradient id="bcf" href="#jet" x1="723.6" y1="1956.5" x2="856.7" y2="1614.5"/><linearGradient id="bcg" href="#jet" x1="750.4" y1="2004.8" x2="843.1" y2="1578.8"/><linearGradient id="bch" href="#jet" x1="750.1" y1="2000.3" x2="853.1" y2="1586.3"/><linearGradient id="bci" href="#jet" x1="952" y1="2048.9" x2="699.6" y2="1550.9"/><linearGradient id="bcj" href="#jet" x1="953.9" y1="2047.6" x2="697.7" y2="1551.1"/><linearGradient id="bck" href="#jet" x1="729.6" y1="1921.5" x2="881.5" y2="1655.9"/><linearGradient id="bcl" href="#jet" x1="737.1" y1="1934.5" x2="885.7" y2="1651.2"/><linearGradient id="bcm" href="#jet" x1="746.3" y1="1955" x2="888.7" y2="1639.7"/><linearGradient id="bcn" href="#jet" x1="790.5" y1="2030.1" x2="858.9" y2="1580.9"/><linearGradient id="bco" href="#jet" x1="964.2" y1="2059.7" x2="721.6" y2="1557.9"/><linearGradient id="bcp" href="#jet" x1="966.8" y1="2058.8" x2="719.1" y2="1558.4"/><linearGradient id="bcq" href="#jet" x1="782.2" y1="2021.2" x2="871.5" y2="1590.8"/><linearGradient id="bcr" href="#jet" x1="975" y1="2059.9" x2="718.9" y2="1561.2"/><linearGradient id="bcs" href="#jet" x1="755.9" y1="1962.2" x2="900.6" y2="1642.9"/><linearGradient id="bct" href="#jet" x1="797.9" y1="2033.4" x2="870.5" y2="1586.5"/><linearGradient id="bcu" href="#jet" x1="760.7" y1="1964.1" x2="907.3" y2="1645.8"/><linearGradient id="bcv" href="#jet" x1="981.6" y1="2065.1" x2="734.7" y2="1569.9"/><linearGradient id="bcw" href="#jet" x1="977.9" y1="2065" x2="736.1" y2="1567.7"/><linearGradient id="bcx" href="#jet" x1="806.9" y1="2036.6" x2="885.1" y2="1595.4"/><linearGradient id="bcy" href="#jet" x1="774.6" y1="1973.9" x2="917.5" y2="1650"/><linearGradient id="bcz" href="#jet" x1="857.6" y1="2071.4" x2="853.5" y2="1570.5"/><linearGradient id="bd0" href="#jet" x1="775.3" y1="1921.6" x2="927.2" y2="1696.2"/><linearGradient id="bd1" href="#jet" x1="830.8" y1="2054.3" x2="889.3" y2="1590.9"/><linearGradient id="bd2" href="#jet" x1="781.3" y1="1909.6" x2="935.3" y2="1712.8"/><linearGradient id="bd3" href="#jet" x1="795.6" y1="2005.6" x2="928.4" y2="1636.3"/><linearGradient id="bd4" href="#jet" x1="808.6" y1="2022.1" x2="925" y2="1625"/><linearGradient id="bd5" href="#jet" x1="1016" y1="2079.3" x2="764.8" y2="1583"/><linearGradient id="bd6" href="#jet" x1="1010.9" y1="2080.4" x2="768.2" y2="1580.8"/><linearGradient id="bd7" href="#jet" x1="875.9" y1="2080.3" x2="881.9" y2="1582.8"/><linearGradient id="bd8" href="#jet" x1="814" y1="2015.7" x2="936.9" y2="1637"/><linearGradient id="bd9" href="#jet" x1="806.9" y1="1982" x2="952.1" y2="1668.7"/><linearGradient id="bda" href="#jet" x1="840.8" y1="2048.2" x2="934.3" y2="1619.1"/><linearGradient id="bdb" href="#jet" x1="1027.3" y1="2090.5" x2="792" y2="1590.1"/><linearGradient id="bdc" href="#jet" x1="1025.6" y1="2090" x2="792.7" y2="1588.6"/><linearGradient id="bdd" href="#jet" x1="830.7" y1="2022.3" x2="961.6" y2="1649.9"/><linearGradient id="bde" href="#jet" x1="883.2" y1="2067.5" x2="955.3" y2="1622"/><linearGradient id="bdf" href="#jet" x1="1041.8" y1="2094.5" x2="798.8" y2="1595"/><linearGradient id="bdg" href="#jet" x1="1054.3" y1="2092.8" x2="793.7" y2="1600.7"/><linearGradient id="bdh" href="#jet" x1="1050.2" y1="2093.2" x2="795.8" y2="1598.4"/><linearGradient id="bdi" href="#jet" x1="886.2" y1="2077.5" x2="936.8" y2="1614.5"/><linearGradient id="bdj" href="#jet" x1="867.6" y1="2056.2" x2="955.3" y2="1632.4"/><linearGradient id="bdk" href="#jet" x1="1062.5" y1="2097.2" x2="802.2" y2="1601.5"/><linearGradient id="bdl" href="#jet" x1="1065.7" y1="2095.3" x2="799.4" y2="1602"/><linearGradient id="bdm" href="#jet" x1="866" y1="2046.6" x2="966.9" y2="1645.7"/><linearGradient id="bdn" href="#jet" x1="910.8" y1="2089.7" x2="936.3" y2="1613.2"/><linearGradient id="bdo" href="#jet" x1="850.1" y1="1930.8" x2="989.7" y2="1744.4"/><linearGradient id="bdp" href="#jet" x1="922.2" y1="2096.9" x2="935.1" y2="1611.1"/><linearGradient id="bdq" href="#jet" x1="888.7" y1="2067.9" x2="967.9" y2="1636.2"/><linearGradient id="bdr" href="#jet" x1="854.2" y1="1941.3" x2="1001.8" y2="1738.5"/><linearGradient id="bds" href="#jet" x1="861.5" y1="2010.2" x2="1001.5" y2="1687.3"/><linearGradient id="bdt" href="#jet" x1="1093.6" y1="2106.2" x2="819.6" y2="1613.8"/><linearGradient id="bdu" href="#jet" x1="1122.6" y1="2084.2" x2="800.7" y2="1627.9"/><linearGradient id="bdv" href="#jet" x1="902.4" y1="2075.5" x2="975.4" y2="1638.9"/><linearGradient id="bdw" href="#jet" x1="871.2" y1="1924.3" x2="1004.9" y2="1762.2"/><linearGradient id="bdx" href="#jet" x1="1098.9" y1="2108.8" x2="823.9" y2="1617.4"/><linearGradient id="bdy" href="#jet" x1="1095.5" y1="2109.7" x2="826.5" y2="1615.8"/><linearGradient id="bdz" href="#jet" x1="897.5" y1="2063.4" x2="993.7" y2="1656"/><linearGradient id="be0" href="#jet" x1="1097.2" y1="2113.2" x2="840.8" y2="1619.8"/><linearGradient id="be1" href="#jet" x1="856.3" y1="1986.5" x2="1001.6" y2="1703.9"/><linearGradient id="be2" href="#jet" x1="931.1" y1="2098.2" x2="979.2" y2="1633.7"/><linearGradient id="be3" href="#jet" x1="1101.4" y1="2116.7" x2="845.1" y2="1620.9"/><linearGradient id="be4" href="#jet" x1="1106.3" y1="2113.7" x2="840.3" y2="1621.9"/><linearGradient id="be5" href="#jet" x1="894.8" y1="2051.6" x2="1018.3" y2="1676.8"/><linearGradient id="be6" href="#jet" x1="894.5" y1="2040.9" x2="1026.8" y2="1689.3"/><linearGradient id="be7" href="#jet" x1="1107.8" y1="2122.9" x2="861.5" y2="1626.1"/><linearGradient id="be8" href="#jet" x1="914.7" y1="2086.5" x2="990.9" y2="1650"/><linearGradient id="be9" href="#jet" x1="927.1" y1="2088.1" x2="1013.6" y2="1656.8"/><linearGradient id="bea" href="#jet" x1="949.9" y1="2109.9" x2="999.3" y2="1640.8"/><linearGradient id="beb" href="#jet" x1="893.7" y1="1978.8" x2="1050.7" y2="1750.9"/><linearGradient id="bec" href="#jet" x1="898.1" y1="1977.1" x2="1053.8" y2="1757.1"/><linearGradient id="bed" href="#jet" x1="961.4" y1="2117.5" x2="1006.1" y2="1642.1"/><linearGradient id="bee" href="#jet" x1="904.7" y1="1970.1" x2="1058.2" y2="1765.7"/><linearGradient id="bef" href="#jet" x1="985.9" y1="2132.4" x2="996.7" y2="1634.7"/><linearGradient id="beg" href="#jet" x1="1121.8" y1="2136.7" x2="888" y2="1632"/><linearGradient id="beh" href="#jet" x1="948.5" y1="2101.6" x2="1033.6" y2="1662.5"/><linearGradient id="bei" href="#jet" x1="926.5" y1="2060.8" x2="1057.2" y2="1697.7"/><linearGradient id="bej" href="#jet" x1="928.5" y1="2056.1" x2="1062" y2="1704.8"/><linearGradient id="bek" href="#jet" x1="934.6" y1="2058" x2="1065.6" y2="1707.2"/><linearGradient id="bel" href="#jet" x1="932.6" y1="2038" x2="1077.8" y2="1728.1"/><linearGradient id="bem" href="#jet" x1="935.7" y1="2027.3" x2="1086.1" y2="1742.5"/><linearGradient id="ben" href="#jet" x1="950.6" y1="2067.3" x2="1083.9" y2="1714.4"/><linearGradient id="beo" href="#jet" x1="953.4" y1="2069.1" x2="1092.5" y2="1718.1"/><linearGradient id="bep" href="#jet" x1="1033.5" y1="2154" x2="1034.1" y2="1651.8"/><linearGradient id="beq" href="#jet" x1="1202.8" y1="2131.2" x2="893" y2="1675.5"/><linearGradient id="ber" href="#jet" x1="1172.1" y1="2152.8" x2="924.1" y2="1653.3"/><linearGradient id="bes" href="#jet" x1="984.5" y1="2113.3" x2="1080.3" y2="1688"/><linearGradient id="bet" href="#jet" x1="959.6" y1="2051.8" x2="1108.7" y2="1741.3"/><linearGradient id="beu" href="#jet" x1="1009.9" y1="2133.6" x2="1074.7" y2="1677.9"/><linearGradient id="bev" href="#jet" x1="1188.1" y1="2157.1" x2="934.7" y2="1662.1"/><linearGradient id="bew" href="#jet" x1="1186.3" y1="2156.6" x2="935.1" y2="1660.7"/><linearGradient id="bex" href="#jet" x1="982" y1="2089.6" x2="1109" y2="1719.9"/><linearGradient id="bey" href="#jet" x1="1011.7" y1="2112.2" x2="1119.7" y2="1712.5"/><linearGradient id="bez" href="#jet" x1="1189.8" y1="2162" x2="942.5" y2="1662.7"/><linearGradient id="bf0" href="#jet" x1="994.4" y1="2102.5" x2="1108.6" y2="1713.7"/><linearGradient id="bf1" href="#jet" x1="987.5" y1="2080.4" x2="1123.9" y2="1735.4"/><linearGradient id="bf2" href="#jet" x1="998.4" y1="2100.1" x2="1122.8" y2="1722.7"/><linearGradient id="bf3" href="#jet" x1="1020.5" y1="2104.3" x2="1140.9" y2="1733.3"/><linearGradient id="bf4" href="#jet" x1="1205.1" y1="2167.2" x2="957.7" y2="1670.3"/><linearGradient id="bf5" href="#jet" x1="1068.1" y1="2166" x2="1075.1" y2="1673.7"/><linearGradient id="bf6" href="#jet" x1="993.1" y1="2053.6" x2="1142.1" y2="1768"/><linearGradient id="bf7" href="#jet" x1="1010.9" y1="2099.9" x2="1138.5" y2="1735.9"/><linearGradient id="bf8" href="#jet" x1="1027.6" y1="2125.9" x2="1135.1" y2="1719.1"/><linearGradient id="bf9" href="#jet" x1="1029.7" y1="2128.1" x2="1142.4" y2="1721"/><linearGradient id="bfa" href="#jet" x1="1304.4" y1="2095.8" x2="924.9" y2="1749.6"/><linearGradient id="bfb" href="#jet" x1="1065.5" y1="2164.8" x2="1122" y2="1695"/><linearGradient id="bfc" href="#jet" x1="1229.1" y1="2184.2" x2="996.6" y2="1682.4"/><linearGradient id="bfd" href="#jet" x1="1227.4" y1="2183.9" x2="997.2" y2="1681.2"/><linearGradient id="bfe" href="#jet" x1="1086.5" y1="2178.8" x2="1113.3" y2="1687.7"/><linearGradient id="bff" href="#jet" x1="1056.8" y1="2151.9" x2="1142.1" y2="1711.3"/><linearGradient id="bfg" href="#jet" x1="1241.9" y1="2186.9" x2="1001.7" y2="1686.1"/><linearGradient id="bfh" href="#jet" x1="1047.2" y1="2149.2" x2="1128.2" y2="1710.3"/><linearGradient id="bfi" href="#jet" x1="1044.8" y1="2120" x2="1168" y2="1744.4"/><linearGradient id="bfj" href="#jet" x1="1042.4" y1="2079.7" x2="1184" y2="1783.5"/><linearGradient id="bfk" href="#jet" x1="1272" y1="2191.3" x2="1005.8" y2="1697.5"/><linearGradient id="bfl" href="#jet" x1="1275.3" y1="2189.2" x2="1002.5" y2="1698.1"/><linearGradient id="bfm" href="#jet" x1="1124.7" y1="2191.5" x2="1127.2" y2="1698.1"/><linearGradient id="bfn" href="#jet" x1="1273" y1="2192.7" x2="1012.9" y2="1699"/><linearGradient id="bfo" href="#jet" x1="1055" y1="2133.6" x2="1157.8" y2="1737.9"/><linearGradient id="bfp" href="#jet" x1="1052" y1="2076.6" x2="1198.4" y2="1797.4"/><linearGradient id="bfq" href="#jet" x1="1069.4" y1="2125.2" x2="1195.2" y2="1763.8"/><linearGradient id="bfr" href="#jet" x1="1070" y1="2122.8" x2="1204.8" y2="1770.6"/><linearGradient id="bfs" href="#jet" x1="1111" y1="2179.6" x2="1177.6" y2="1726.1"/><linearGradient id="bft" href="#jet" x1="1075.2" y1="2124" x2="1210.6" y2="1772.5"/><linearGradient id="bfu" href="#jet" x1="1126.1" y1="2190.6" x2="1173" y2="1720"/><linearGradient id="bfv" href="#jet" x1="1085.1" y1="2131.4" x2="1211.7" y2="1770"/><linearGradient id="bfw" href="#jet" x1="1097.3" y1="2147.6" x2="1210.1" y2="1761.1"/><linearGradient id="bfx" href="#jet" x1="1136.2" y1="2177.5" x2="1211.4" y2="1745.3"/><linearGradient id="bfy" href="#jet" x1="1304.7" y1="2209.6" x2="1047.2" y2="1713.7"/><linearGradient id="bfz" href="#jet" x1="1125.4" y1="2180.4" x2="1199.9" y2="1740.3"/><linearGradient id="bg0" href="#jet" x1="1099.2" y1="2138.5" x2="1229.8" y2="1776.9"/><linearGradient id="bg1" href="#jet" x1="1165.9" y1="2211.8" x2="1182.8" y2="1721.3"/><linearGradient id="bg2" href="#jet" x1="1128.9" y1="2153.4" x2="1247.8" y2="1780.4"/><linearGradient id="bg3" href="#jet" x1="1315.4" y1="2215.1" x2="1068.6" y2="1720.3"/><linearGradient id="bg4" href="#jet" x1="1331.6" y1="2216.3" x2="1063.2" y2="1724.1"/><linearGradient id="bg5" href="#jet" x1="1329.3" y1="2216.5" x2="1064.1" y2="1722.9"/><linearGradient id="bg6" href="#jet" x1="1128.6" y1="2169.8" x2="1228.9" y2="1762.7"/><linearGradient id="bg7" href="#jet" x1="1108.7" y1="2053.3" x2="1253.7" y2="1860.4"/><linearGradient id="bg8" href="#jet" x1="1138.8" y1="2174.1" x2="1237.8" y2="1768.4"/><linearGradient id="bg9" href="#jet" x1="1139.5" y1="2168.7" x2="1242.1" y2="1774.5"/><linearGradient id="bga" href="#jet" x1="1131.9" y1="2143.8" x2="1255.4" y2="1796.9"/><linearGradient id="bgb" href="#jet" x1="1364.5" y1="2223.4" x2="1078.7" y2="1739.1"/><linearGradient id="bgc" href="#jet" x1="1361.4" y1="2223.2" x2="1079.6" y2="1737.1"/><linearGradient id="bgd" href="#jet" x1="1155.6" y1="2138.6" x2="1283" y2="1823.9"/><linearGradient id="bge" href="#jet" x1="1366.1" y1="2225.4" x2="1079.2" y2="1739.4"/><linearGradient id="bgf" href="#jet" x1="1149.7" y1="2155.8" x2="1264.2" y2="1800"/><linearGradient id="bgg" href="#jet" x1="1144.1" y1="2115.6" x2="1278.1" y2="1837"/><linearGradient id="bgh" href="#jet" x1="559.4" y1="2089.9" x2="612.9" y2="1422.4"/><linearGradient id="bgi" href="#jet" x1="312.3" y1="1963.6" x2="814.5" y2="1525.4"/><linearGradient id="bgj" href="#jet" x1="438.5" y1="2093.1" x2="715.4" y2="1423.5"/><linearGradient id="bgk" href="#jet" x1="424.5" y1="2084.2" x2="728.8" y2="1432.1"/><linearGradient id="bgl" href="#jet" x1="478.7" y1="2101.7" x2="678" y2="1415.3"/><linearGradient id="bgm" href="#jet" x1="460" y1="2094.1" x2="706.6" y2="1427.3"/><linearGradient id="bgn" href="#jet" x1="476.3" y1="2103.6" x2="705.8" y2="1425.1"/><linearGradient id="bgo" href="#jet" x1="421.3" y1="2087.6" x2="762.5" y2="1444.9"/><linearGradient id="bgp" href="#jet" x1="630.4" y1="2090" x2="609.3" y2="1447.4"/><linearGradient id="bgq" href="#jet" x1="442.6" y1="2098.2" x2="761.6" y2="1441.9"/><linearGradient id="bgr" href="#jet" x1="543.4" y1="2117.7" x2="668.3" y2="1423.3"/><linearGradient id="bgs" href="#jet" x1="521.4" y1="2116" x2="701.8" y2="1429.2"/><linearGradient id="bgt" href="#jet" x1="537.8" y1="2114.1" x2="693.5" y2="1432.8"/><linearGradient id="bgu" href="#jet" x1="575.8" y1="2111.4" x2="668.9" y2="1436.6"/><linearGradient id="bgv" href="#jet" x1="509.9" y1="2107.3" x2="732" y2="1443.1"/><linearGradient id="bgw" href="#jet" x1="542.4" y1="2109.3" x2="716.8" y2="1445.6"/><linearGradient id="bgx" href="#jet" x1="520.2" y1="2097.4" x2="752" y2="1462.4"/><linearGradient id="bgy" href="#jet" x1="645.7" y1="2099" x2="658.4" y2="1466.2"/><linearGradient id="bgz" href="#jet" x1="410.8" y1="1908.7" x2="859.9" y2="1628.3"/><linearGradient id="bh0" href="#jet" x1="421.4" y1="1993.2" x2="851.3" y2="1558.2"/><linearGradient id="bh1" href="#jet" x1="565.3" y1="2116.8" x2="742.9" y2="1462.4"/><linearGradient id="bh2" href="#jet" x1="572.4" y1="2124.5" x2="760.8" y2="1464"/><linearGradient id="bh3" href="#jet" x1="557.1" y1="2117.1" x2="794.1" y2="1477.3"/><linearGradient id="bh4" href="#jet" x1="611.7" y1="2126.7" x2="753.2" y2="1471.5"/><linearGradient id="bh5" href="#jet" x1="522.6" y1="2104.4" x2="839.1" y2="1496"/><linearGradient id="bh6" href="#jet" x1="432.1" y1="1989.2" x2="918.8" y2="1596.3"/><linearGradient id="bh7" href="#jet" x1="574.9" y1="2136.7" x2="811.1" y2="1480"/><linearGradient id="bh8" href="#jet" x1="594.8" y1="2137.8" x2="813.3" y2="1485.9"/><linearGradient id="bh9" href="#jet" x1="601.4" y1="2136.7" x2="818.6" y2="1491.2"/><linearGradient id="bha" href="#jet" x1="685.9" y1="2141.2" x2="751.2" y2="1488.7"/><linearGradient id="bhb" href="#jet" x1="600.4" y1="2134.1" x2="829" y2="1497.2"/><linearGradient id="bhc" href="#jet" x1="669" y1="2143.4" x2="776.6" y2="1491.8"/><linearGradient id="bhd" href="#jet" x1="606.6" y1="2132.5" x2="842.2" y2="1505.4"/><linearGradient id="bhe" href="#jet" x1="623.2" y1="2135.1" x2="837.6" y2="1507.8"/><linearGradient id="bhf" href="#jet" x1="620.4" y1="2135.4" x2="839.8" y2="1506.6"/><linearGradient id="bhg" href="#jet" x1="600.8" y1="2129.3" x2="859.7" y2="1516.1"/><linearGradient id="bhh" href="#jet" x1="656.7" y1="2151.2" x2="822.3" y2="1502.1"/><linearGradient id="bhi" href="#jet" x1="652.1" y1="2149.8" x2="838.4" y2="1506.7"/><linearGradient id="bhj" href="#jet" x1="649.3" y1="2147.3" x2="853.7" y2="1513"/><linearGradient id="bhk" href="#jet" x1="643.2" y1="2142.6" x2="866.9" y2="1520.5"/><linearGradient id="bhl" href="#jet" x1="640.6" y1="2142.7" x2="874.5" y2="1523.5"/><linearGradient id="bhm" href="#jet" x1="665.7" y1="2151" x2="867.1" y2="1522.1"/><linearGradient id="bhn" href="#jet" x1="709.2" y1="2158.3" x2="844.5" y2="1520.7"/><linearGradient id="bho" href="#jet" x1="597" y1="2101.4" x2="957.8" y2="1578"/><linearGradient id="bhp" href="#jet" x1="673.4" y1="2157.5" x2="891.1" y2="1530.2"/><linearGradient id="bhq" href="#jet" x1="688.9" y1="2161" x2="884.5" y2="1529.7"/><linearGradient id="bhr" href="#jet" x1="675.1" y1="2154.1" x2="905.6" y2="1539.5"/><linearGradient id="bhs" href="#jet" x1="701.2" y1="2161.4" x2="890" y2="1536"/><linearGradient id="bht" href="#jet" x1="592.9" y1="2066.5" x2="997.7" y2="1627.4"/><linearGradient id="bhu" href="#jet" x1="752.1" y1="2177.3" x2="861.3" y2="1532.7"/><linearGradient id="bhv" href="#jet" x1="692.9" y1="2170.1" x2="915.3" y2="1541.1"/><linearGradient id="bhw" href="#jet" x1="691.4" y1="2169.7" x2="916.9" y2="1540.7"/><linearGradient id="bhx" href="#jet" x1="726.2" y1="2177.9" x2="891.9" y2="1536.4"/><linearGradient id="bhy" href="#jet" x1="706.4" y1="2171.8" x2="921.1" y2="1545.4"/><linearGradient id="bhz" href="#jet" x1="697.1" y1="2163.9" x2="939.9" y2="1557.3"/><linearGradient id="bi0" href="#jet" x1="766.3" y1="2180.9" x2="887.1" y2="1545.5"/><linearGradient id="bi1" href="#jet" x1="643.6" y1="2118.5" x2="1006.6" y2="1606.3"/><linearGradient id="bi2" href="#jet" x1="756.4" y1="2192.6" x2="917.7" y2="1547.5"/><linearGradient id="bi3" href="#jet" x1="641.1" y1="1900.7" x2="1022.8" y2="1801"/><linearGradient id="bi4" href="#jet" x1="665.7" y1="2160.6" x2="1002.4" y2="1580.9"/><linearGradient id="bi5" href="#jet" x1="713.8" y1="2191.1" x2="965" y2="1557.2"/><linearGradient id="bi6" href="#jet" x1="688.8" y1="2181.6" x2="992.8" y2="1568.6"/><linearGradient id="bi7" href="#jet" x1="748.7" y1="2207.2" x2="953.7" y2="1551.9"/><linearGradient id="bi8" href="#jet" x1="714.5" y1="2191.1" x2="991" y2="1569.7"/><linearGradient id="bi9" href="#jet" x1="764.4" y1="2205.9" x2="956.4" y2="1561"/><linearGradient id="bia" href="#jet" x1="728.6" y1="2195.3" x2="991.6" y2="1571.9"/><linearGradient id="bib" href="#jet" x1="882.1" y1="2199.3" x2="868.4" y2="1570.3"/><linearGradient id="bic" href="#jet" x1="620.6" y1="2046" x2="1088" y2="1698.8"/><linearGradient id="bid" href="#jet" x1="731.3" y1="2202.3" x2="999.3" y2="1571.1"/><linearGradient id="bie" href="#jet" x1="850" y1="2217.3" x2="905.9" y2="1560.6"/><linearGradient id="bif" href="#jet" x1="770.3" y1="2217" x2="977.5" y2="1562.9"/><linearGradient id="big" href="#jet" x1="787.4" y1="2215.3" x2="979.7" y2="1570.3"/><linearGradient id="bih" href="#jet" x1="816.8" y1="2218.3" x2="973.6" y2="1573.4"/><linearGradient id="bii" href="#jet" x1="789.4" y1="2210" x2="1008.7" y2="1584.2"/><linearGradient id="bij" href="#jet" x1="831.3" y1="2218.6" x2="976.9" y2="1578.6"/><linearGradient id="bik" href="#jet" x1="800.1" y1="2210.2" x2="1010.7" y2="1588.5"/><linearGradient id="bil" href="#jet" x1="824.6" y1="2215.6" x2="994" y2="1585.9"/><linearGradient id="bim" href="#jet" x1="796.4" y1="2206.8" x2="1027.6" y2="1596.5"/><linearGradient id="bin" href="#jet" x1="739.9" y1="2164.6" x2="1084.7" y2="1638.4"/><linearGradient id="bio" href="#jet" x1="822.2" y1="2216.6" x2="1014.1" y2="1592.9"/><linearGradient id="bip" href="#jet" x1="822.9" y1="2217.5" x2="1019.5" y2="1595.1"/><linearGradient id="biq" href="#jet" x1="781.8" y1="2198.5" x2="1066.3" y2="1616.1"/><linearGradient id="bir" href="#jet" x1="816.2" y1="2214.6" x2="1026.1" y2="1598.8"/><linearGradient id="bis" href="#jet" x1="806.4" y1="2213.2" x2="1038.7" y2="1602.2"/><linearGradient id="bit" href="#jet" x1="722.1" y1="2141.7" x2="1117.5" y2="1669"/><linearGradient id="biu" href="#jet" x1="837.1" y1="2232.4" x2="1020.3" y2="1592.2"/><linearGradient id="biv" href="#jet" x1="810.9" y1="2228.9" x2="1046.2" y2="1597.5"/><linearGradient id="biw" href="#jet" x1="825.6" y1="2231.5" x2="1045.6" y2="1600"/><linearGradient id="bix" href="#jet" x1="853.8" y1="2237.2" x2="1038" y2="1601"/><linearGradient id="biy" href="#jet" x1="812.2" y1="2217.4" x2="1092.3" y2="1626"/><linearGradient id="biz" href="#jet" x1="846.3" y1="2232.3" x2="1079.3" y2="1620.5"/><linearGradient id="bj0" href="#jet" x1="792.9" y1="2200.3" x2="1135.8" y2="1655"/><linearGradient id="bj1" href="#jet" x1="898.9" y1="2258" x2="1051.3" y2="1610"/><linearGradient id="bj2" href="#jet" x1="839.1" y1="2239" x2="1110.7" y2="1629.1"/><linearGradient id="bj3" href="#jet" x1="942.7" y1="2260.8" x2="1026.3" y2="1612.7"/><linearGradient id="bj4" href="#jet" x1="758.9" y1="2157" x2="1187.4" y2="1704"/><linearGradient id="bj5" href="#jet" x1="835.7" y1="2241.8" x2="1130.5" y2="1637.4"/><linearGradient id="bj6" href="#jet" x1="935.2" y1="2271.2" x2="1059.4" y2="1617.6"/><linearGradient id="bj7" href="#jet" x1="876.9" y1="2260.9" x2="1114.7" y2="1628.1"/><linearGradient id="bj8" href="#jet" x1="925.6" y1="2271.8" x2="1063.6" y2="1616.3"/><linearGradient id="bj9" href="#jet" x1="910.7" y1="2267.5" x2="1098.7" y2="1626.9"/><linearGradient id="bja" href="#jet" x1="905.2" y1="2259.4" x2="1127.1" y2="1642.6"/><linearGradient id="bjb" href="#jet" x1="1003.3" y1="2269.5" x2="1049.9" y2="1638.2"/><linearGradient id="bjc" href="#jet" x1="836.3" y1="2196.2" x2="1204.1" y2="1706.3"/><linearGradient id="bjd" href="#jet" x1="951.4" y1="2271.1" x2="1105.3" y2="1641.5"/><linearGradient id="bje" href="#jet" x1="931.3" y1="2267" x2="1126.6" y2="1646.5"/><linearGradient id="bjf" href="#jet" x1="914.6" y1="2264.1" x2="1145.2" y2="1651.9"/><linearGradient id="bjg" href="#jet" x1="809.7" y1="2064.6" x2="1239.3" y2="1827.4"/><linearGradient id="bjh" href="#jet" x1="927.1" y1="2281.2" x2="1143.7" y2="1645.7"/><linearGradient id="bji" href="#jet" x1="946.4" y1="2294.7" x2="1135.1" y2="1639.1"/><linearGradient id="bjj" href="#jet" x1="922.3" y1="2288.9" x2="1164.8" y2="1647.4"/><linearGradient id="bjk" href="#jet" x1="893.4" y1="2274.3" x2="1197.5" y2="1663"/><linearGradient id="bjl" href="#jet" x1="937.8" y1="2292.2" x2="1164" y2="1649.6"/><linearGradient id="bjm" href="#jet" x1="979.3" y1="2299.9" x2="1138.6" y2="1646"/><linearGradient id="bjn" href="#jet" x1="956.2" y1="2290.9" x2="1179.5" y2="1661"/><linearGradient id="bjo" href="#jet" x1="861.7" y1="2192.4" x2="1277.8" y2="1755"/><linearGradient id="bjp" href="#jet" x1="986.5" y1="2305.3" x2="1174.8" y2="1661.4"/><linearGradient id="bjq" href="#jet" x1="836.9" y1="2111.1" x2="1303.3" y2="1826"/><linearGradient id="bjr" href="#jet" x1="1053.7" y1="2317.8" x2="1130.2" y2="1658.9"/><linearGradient id="bjs" href="#jet" x1="949.2" y1="2301.5" x2="1222.6" y2="1675.2"/><linearGradient id="bjt" href="#jet" x1="973.5" y1="2307.2" x2="1212" y2="1675.3"/><linearGradient id="bju" href="#jet" x1="981.1" y1="2308.1" x2="1212.2" y2="1677.4"/><linearGradient id="bjv" href="#jet" x1="980.2" y1="2308.4" x2="1212.5" y2="1676.6"/><linearGradient id="bjw" href="#jet" x1="1007" y1="2320.4" x2="1196.9" y2="1670.6"/><linearGradient id="bjx" href="#jet" x1="959.2" y1="2308.9" x2="1244.2" y2="1684.6"/><linearGradient id="bjy" href="#jet" x1="1029.9" y1="2329.8" x2="1200" y2="1672.1"/><linearGradient id="bjz" href="#jet" x1="908.6" y1="2266.5" x2="1314.1" y2="1730.9"/><linearGradient id="bk0" href="#jet" x1="1034.6" y1="2347.3" x2="1220.6" y2="1671.7"/><linearGradient id="bk1" href="#jet" x1="1076.1" y1="2356.3" x2="1193.6" y2="1667.9"/><linearGradient id="bk2" href="#jet" x1="850" y1="2257.2" x2="1360.4" y2="1740.2"/><linearGradient id="bk3" href="#jet" x1="951.5" y1="2346" x2="1292.5" y2="1679.3"/><linearGradient id="bk4" href="#jet" x1="1079.6" y1="2395" x2="1216.1" y2="1655.3"/><linearGradient id="bk5" href="#jet" x1="936.3" y1="2355.4" x2="1303.9" y2="1678.5"/><linearGradient id="bk6" href="#jet" x1="536.2" y1="1988" x2="509.8" y2="1550.4"/><linearGradient id="bk7" href="#jet" x1="761.8" y1="1706.3" x2="300.8" y2="1833.2"/><linearGradient id="bk8" href="#jet" x1="536.7" y1="1977.1" x2="538.2" y2="1572.2"/><linearGradient id="bk9" href="#jet" x1="834.8" y1="1973.8" x2="278.2" y2="1584.1"/><linearGradient id="bka" href="#jet" x1="827" y1="1973.3" x2="277.7" y2="1579.2"/><linearGradient id="bkb" href="#jet" x1="910.7" y1="2051.7" x2="170.5" y2="1534.1"/><linearGradient id="bkc" href="#jet" x1="828.1" y1="2015.6" x2="274.2" y2="1566.4"/><linearGradient id="bkd" href="#jet" x1="605.1" y1="2014.3" x2="578.1" y2="1602.3"/><linearGradient id="bke" href="#jet" x1="934" y1="2037.5" x2="228" y2="1592.2"/><linearGradient id="bkf" href="#jet" x1="648.7" y1="2043" x2="603" y2="1601.3"/><linearGradient id="bkg" href="#jet" x1="1062.9" y1="2021.5" x2="135.5" y2="1668.2"/><linearGradient id="bkh" href="#jet" x1="954.3" y1="2012.1" x2="282.6" y2="1655.6"/><linearGradient id="bki" href="#jet" x1="699.7" y1="2068.5" x2="641.1" y2="1625.7"/><linearGradient id="bkj" href="#jet" x1="903.8" y1="2159.3" x2="392.8" y2="1518.6"/><linearGradient id="bkk" href="#jet" x1="720.1" y1="2073.5" x2="665.7" y2="1651.7"/><linearGradient id="bkl" href="#jet" x1="866.1" y1="2182.6" x2="466.5" y2="1501.9"/><linearGradient id="bkm" href="#jet" x1="746.4" y1="2092.5" x2="672.9" y2="1651.9"/><linearGradient id="bkn" href="#jet" x1="922.4" y1="2203.1" x2="426.7" y2="1493.1"/><linearGradient id="bko" href="#jet" x1="767.4" y1="2100.4" x2="699.9" y2="1664"/><linearGradient id="bkp" href="#jet" x1="956.5" y1="2207.6" x2="456.7" y2="1521"/><linearGradient id="bkq" href="#jet" x1="794.1" y1="2112.9" x2="730" y2="1677.7"/><linearGradient id="bkr" href="#jet" x1="795.3" y1="2093.3" x2="769.2" y2="1701.9"/><linearGradient id="bks" href="#jet" x1="981.3" y1="2222.1" x2="475.8" y2="1537.4"/><linearGradient id="bkt" href="#jet" x1="805" y1="2115.7" x2="745.6" y2="1674"/><linearGradient id="bku" href="#jet" x1="776.8" y1="2057.9" x2="799.3" y2="1743.3"/><linearGradient id="bkv" href="#jet" x1="1161" y1="2007.8" x2="366.7" y2="1814.8"/><linearGradient id="bkw" href="#jet" x1="806.7" y1="2087.9" x2="811.5" y2="1730.7"/><linearGradient id="bkx" href="#jet" x1="1041.8" y1="2265.2" x2="544.2" y2="1515.2"/><linearGradient id="bky" href="#jet" x1="1010.9" y1="2200.5" x2="569.8" y2="1620.3"/><linearGradient id="bkz" href="#jet" x1="868.8" y1="1937.2" x2="827.3" y2="2078.7"/><linearGradient id="bl0" href="#jet" x1="893" y1="2159.4" x2="824.4" y2="1716.4"/><linearGradient id="bl1" href="#jet" x1="1122.5" y1="2246.4" x2="541.7" y2="1607.6"/><linearGradient id="bl2" href="#jet" x1="1280.4" y1="2227.8" x2="301.4" y2="1647.9"/><linearGradient id="bl3" href="#jet" x1="1412.5" y1="2100.1" x2="93.3" y2="1856.1"/><linearGradient id="bl4" href="#jet" x1="913.5" y1="2172.5" x2="853.1" y2="1747.1"/><linearGradient id="bl5" href="#jet" x1="1159.2" y1="2277.5" x2="505.1" y2="1582.7"/><linearGradient id="bl6" href="#jet" x1="939.1" y1="2183" x2="864.6" y2="1730.1"/><linearGradient id="bl7" href="#jet" x1="1301.2" y1="2109.4" x2="403.1" y2="1831.5"/><linearGradient id="bl8" href="#jet" x1="947.5" y1="2182.4" x2="889.6" y2="1738.9"/><linearGradient id="bl9" href="#jet" x1="1323.2" y1="2103.8" x2="436.6" y2="1844.2"/><linearGradient id="bla" href="#jet" x1="1350.8" y1="2135.8" x2="402.2" y2="1813.2"/><linearGradient id="blb" href="#jet" x1="961.3" y1="2202.8" x2="882.4" y2="1731.2"/><linearGradient id="blc" href="#jet" x1="1126.6" y1="2290.2" x2="693.2" y2="1621.6"/><linearGradient id="bld" href="#jet" x1="1492" y1="2135.2" x2="95.8" y2="1882.4"/><linearGradient id="ble" href="#jet" x1="1490.6" y1="2134.6" x2="116.8" y2="1885.9"/><linearGradient id="blf" href="#jet" x1="1004.1" y1="2212.1" x2="934.7" y2="1759"/><linearGradient id="blg" href="#jet" x1="1360.5" y1="2113.3" x2="545.6" y2="1878.9"/><linearGradient id="blh" href="#jet" x1="1370.2" y1="2169.4" x2="534" y2="1820.4"/><linearGradient id="bli" href="#jet" x1="1017.3" y1="2228.4" x2="939.4" y2="1753"/><linearGradient id="blj" href="#jet" x1="1236.8" y1="2299.1" x2="694.2" y2="1672.9"/><linearGradient id="blk" href="#jet" x1="1048" y1="2230.3" x2="986.4" y2="1780.8"/><linearGradient id="bll" href="#jet" x1="1395.8" y1="2116.6" x2="611.6" y2="1921.5"/><linearGradient id="blm" href="#jet" x1="1061.2" y1="2228.5" x2="1026.1" y2="1800.1"/><linearGradient id="bln" href="#jet" x1="1402.3" y1="2064.4" x2="658.4" y2="1995"/><linearGradient id="blo" href="#jet" x1="1081.9" y1="2241.4" x2="1046.2" y2="1801.3"/><linearGradient id="blp" href="#jet" x1="1068.6" y1="2219.7" x2="1073.9" y2="1823.2"/><linearGradient id="blq" href="#jet" x1="1091.8" y1="2231.9" x2="1069.2" y2="1810.9"/><linearGradient id="blr" href="#jet" x1="397.7" y1="1997.9" x2="477.3" y2="1531.5"/><linearGradient id="bls" href="#jet" x1="420.1" y1="2011.3" x2="471.4" y2="1527.3"/><linearGradient id="blt" href="#jet" x1="613" y1="2030.9" x2="399" y2="1520.8"/><linearGradient id="blu" href="#jet" x1="399.1" y1="1995" x2="487.5" y2="1536.8"/><linearGradient id="blv" href="#jet" x1="433.8" y1="2005.9" x2="506.8" y2="1541.6"/><linearGradient id="blw" href="#jet" x1="604.4" y1="2036.5" x2="418.2" y2="1524.8"/><linearGradient id="blx" href="#jet" x1="377.2" y1="1894.6" x2="539.9" y2="1597.6"/><linearGradient id="bly" href="#jet" x1="630.3" y1="2035.4" x2="416.3" y2="1528.6"/><linearGradient id="blz" href="#jet" x1="382.4" y1="1951.4" x2="515.3" y2="1563.2"/><linearGradient id="bm0" href="#jet" x1="386.6" y1="1898.3" x2="548.4" y2="1603.3"/><linearGradient id="bm1" href="#jet" x1="636.9" y1="2038.1" x2="422.8" y2="1532.7"/><linearGradient id="bm2" href="#jet" x1="646.8" y1="2040.7" x2="422.3" y2="1534.7"/><linearGradient id="bm3" href="#jet" x1="646.5" y1="2040.5" x2="422.2" y2="1534.4"/><linearGradient id="bm4" href="#jet" x1="414.9" y1="1990.9" x2="518.2" y2="1556.6"/><linearGradient id="bm5" href="#jet" x1="384.3" y1="1792.3" x2="537.2" y2="1641.1"/><linearGradient id="bm6" href="#jet" x1="435.8" y1="2016.4" x2="522.4" y2="1552.8"/><linearGradient id="bm7" href="#jet" x1="389.4" y1="1799" x2="550.2" y2="1649.3"/><linearGradient id="bm8" href="#jet" x1="426.9" y1="1820.5" x2="578" y2="1691.3"/><linearGradient id="bm9" href="#jet" x1="458.4" y1="2056.4" x2="515.9" y2="1546.2"/><linearGradient id="bma" href="#jet" x1="425.9" y1="2018.9" x2="556.2" y2="1564.1"/><linearGradient id="bmb" href="#jet" x1="461.8" y1="2047.1" x2="546.1" y2="1554.5"/><linearGradient id="bmc" href="#jet" x1="486" y1="2045.7" x2="570.7" y2="1564.2"/><linearGradient id="bmd" href="#jet" x1="627.1" y1="2073.7" x2="491.4" y2="1547.4"/><linearGradient id="bme" href="#jet" x1="450.2" y1="1854.7" x2="616.6" y2="1691.7"/><linearGradient id="bmf" href="#jet" x1="595.7" y1="1660.6" x2="507.5" y2="1672.4"/><linearGradient id="bmg" href="#jet" x1="467.4" y1="2025.9" x2="591.9" y2="1590.1"/><linearGradient id="bmh" href="#jet" x1="512.2" y1="2063.8" x2="577.8" y2="1575.2"/><linearGradient id="bmi" href="#jet" x1="515.7" y1="2061.3" x2="581.3" y2="1577.8"/><linearGradient id="bmj" href="#jet" x1="514.6" y1="2056.7" x2="585.8" y2="1580.6"/><linearGradient id="bmk" href="#jet" x1="519.4" y1="2062.9" x2="591" y2="1580.5"/><linearGradient id="bml" href="#jet" x1="452.1" y1="1844.1" x2="628.2" y2="1672.8"/><linearGradient id="bmm" href="#jet" x1="505.9" y1="2053.1" x2="614" y2="1593"/><linearGradient id="bmn" href="#jet" x1="457.1" y1="1860.8" x2="640.2" y2="1676.6"/><linearGradient id="bmo" href="#jet" x1="516.9" y1="2063.7" x2="622.4" y2="1594.9"/><linearGradient id="bmp" href="#jet" x1="457.2" y1="1959.6" x2="653.7" y2="1641.3"/><linearGradient id="bmq" href="#jet" x1="513.4" y1="2062.3" x2="637" y2="1601.4"/><linearGradient id="bmr" href="#jet" x1="543.2" y1="2084.1" x2="632.9" y2="1595.7"/><linearGradient id="bms" href="#jet" x1="491.5" y1="1846.7" x2="664.7" y2="1700.1"/><linearGradient id="bmt" href="#jet" x1="544.3" y1="2078.9" x2="651.6" y2="1607.8"/><linearGradient id="bmu" href="#jet" x1="503.3" y1="1862.1" x2="680.4" y2="1713.6"/><linearGradient id="bmv" href="#jet" x1="723.5" y1="2124.6" x2="581.3" y2="1595.4"/><linearGradient id="bmw" href="#jet" x1="576.2" y1="2100.8" x2="656.2" y2="1607.6"/><linearGradient id="bmx" href="#jet" x1="558" y1="2087" x2="668.3" y2="1615"/><linearGradient id="bmy" href="#jet" x1="525.8" y1="1867.1" x2="698.7" y2="1731.8"/><linearGradient id="bmz" href="#jet" x1="600.9" y1="2114.1" x2="675.6" y2="1616.5"/><linearGradient id="bn0" href="#jet" x1="567.8" y1="2085.8" x2="696.2" y2="1631.3"/><linearGradient id="bn1" href="#jet" x1="521.3" y1="1952.5" x2="727.1" y2="1700.6"/><linearGradient id="bn2" href="#jet" x1="586.5" y1="2102.5" x2="704.7" y2="1632.1"/><linearGradient id="bn3" href="#jet" x1="606.1" y1="2117" x2="700.8" y2="1627.3"/><linearGradient id="bn4" href="#jet" x1="631.4" y1="2130.7" x2="692.3" y2="1621.9"/><linearGradient id="bn5" href="#jet" x1="614.8" y1="2118.6" x2="703.4" y2="1628.3"/><linearGradient id="bn6" href="#jet" x1="553.3" y1="1894.7" x2="737" y2="1730.8"/><linearGradient id="bn7" href="#jet" x1="604.8" y1="2109" x2="725.8" y2="1641.3"/><linearGradient id="bn8" href="#jet" x1="550.1" y1="1945.8" x2="760.8" y2="1719.2"/><linearGradient id="bn9" href="#jet" x1="632.7" y1="2127.4" x2="732.2" y2="1641.7"/><linearGradient id="bna" href="#jet" x1="571.8" y1="1932.8" x2="767.2" y2="1732.4"/><linearGradient id="bnb" href="#jet" x1="658.8" y1="2136.3" x2="734.3" y2="1644.1"/><linearGradient id="bnc" href="#jet" x1="671.6" y1="2139.9" x2="733.5" y2="1644.2"/><linearGradient id="bnd" href="#jet" x1="647.6" y1="2121.7" x2="745.4" y2="1652.1"/><linearGradient id="bne" href="#jet" x1="614.9" y1="2077.7" x2="764.8" y2="1673"/><linearGradient id="bnf" href="#jet" x1="622.1" y1="1978.9" x2="807.3" y2="1749.6"/><linearGradient id="bng" href="#jet" x1="662.7" y1="2145.4" x2="737.5" y2="1649.1"/><linearGradient id="bnh" href="#jet" x1="682.6" y1="2127.4" x2="794.8" y2="1673.2"/><linearGradient id="bni" href="#jet" x1="600.5" y1="1852" x2="762.8" y2="1730.4"/><linearGradient id="bnj" href="#jet" x1="668.8" y1="1859.6" x2="785.9" y2="1785.6"/><linearGradient id="bnk" href="#jet" x1="689.3" y1="2142.3" x2="788.2" y2="1672.5"/><linearGradient id="bnl" href="#jet" x1="866.8" y1="2183" x2="712.3" y2="1656.9"/><linearGradient id="bnm" href="#jet" x1="683.5" y1="2137.5" x2="802.4" y2="1680.9"/><linearGradient id="bnn" href="#jet" x1="643.7" y1="1954.8" x2="830.8" y2="1776.1"/><linearGradient id="bno" href="#jet" x1="708.5" y1="2160.1" x2="808.3" y2="1679.3"/><linearGradient id="bnp" href="#jet" x1="642.8" y1="1995.5" x2="848.3" y2="1766.9"/><linearGradient id="bnq" href="#jet" x1="656.3" y1="2084" x2="847.8" y2="1725.4"/><linearGradient id="bnr" href="#jet" x1="706.2" y1="2156.3" x2="827.9" y2="1689.9"/><linearGradient id="bns" href="#jet" x1="661.3" y1="2084" x2="856.1" y2="1728.4"/><linearGradient id="bnt" href="#jet" x1="732.9" y1="2174.2" x2="824.6" y2="1685.1"/><linearGradient id="bnu" href="#jet" x1="750" y1="2182.7" x2="819.9" y2="1682"/><linearGradient id="bnv" href="#jet" x1="750.2" y1="2179.6" x2="824.3" y2="1684.9"/><linearGradient id="bnw" href="#jet" x1="686.8" y1="1946.6" x2="859.6" y2="1794.2"/><linearGradient id="bnx" href="#jet" x1="748" y1="2176.3" x2="839.8" y2="1693.2"/><linearGradient id="bny" href="#jet" x1="680" y1="1996.1" x2="880.5" y2="1780.8"/><linearGradient id="bnz" href="#jet" x1="746.5" y1="2176.1" x2="858.2" y2="1701.8"/><linearGradient id="bo0" href="#jet" x1="686.2" y1="2042.3" x2="895.7" y2="1769.1"/><linearGradient id="bo1" href="#jet" x1="750.3" y1="2175.4" x2="872.5" y2="1710.1"/><linearGradient id="bo2" href="#jet" x1="762.1" y1="2184.5" x2="868.3" y2="1706.2"/><linearGradient id="bo3" href="#jet" x1="728.1" y1="2147.4" x2="887.3" y2="1725.2"/><linearGradient id="bo4" href="#jet" x1="789.5" y1="2200.8" x2="864.3" y2="1702.3"/><linearGradient id="bo5" href="#jet" x1="803" y1="2204.7" x2="862.8" y2="1702.1"/><linearGradient id="bo6" href="#jet" x1="757.4" y1="2169.1" x2="887.8" y2="1719.4"/><linearGradient id="bo7" href="#jet" x1="796.4" y1="2199.7" x2="879.4" y2="1709.7"/><linearGradient id="bo8" href="#jet" x1="721.8" y1="2013.9" x2="916" y2="1789.4"/><linearGradient id="bo9" href="#jet" x1="797.5" y1="2197.4" x2="890.5" y2="1715.8"/><linearGradient id="boa" href="#jet" x1="722.8" y1="2032.5" x2="925.9" y2="1784.5"/><linearGradient id="bob" href="#jet" x1="825.2" y1="2215.6" x2="887.3" y2="1712.1"/><linearGradient id="boc" href="#jet" x1="754.7" y1="1973.8" x2="930" y2="1825.6"/><linearGradient id="bod" href="#jet" x1="794.6" y1="2021.3" x2="970.1" y2="1872.7"/><linearGradient id="boe" href="#jet" x1="821.3" y1="2227.3" x2="896.2" y2="1720.4"/><linearGradient id="bof" href="#jet" x1="820.9" y1="2217.2" x2="927.6" y2="1729.9"/><linearGradient id="bog" href="#jet" x1="762.9" y1="2140.9" x2="957.1" y2="1764.6"/><linearGradient id="boh" href="#jet" x1="838.5" y1="2226.4" x2="929" y2="1729.9"/><linearGradient id="boi" href="#jet" x1="847.5" y1="2229.7" x2="928.4" y2="1729.5"/><linearGradient id="boj" href="#jet" x1="856.8" y1="2230.5" x2="931.2" y2="1731.4"/><linearGradient id="bok" href="#jet" x1="781.1" y1="2029.5" x2="973.5" y2="1816.1"/><linearGradient id="bol" href="#jet" x1="897.8" y1="2245.6" x2="935.9" y2="1736"/><linearGradient id="bom" href="#jet" x1="826" y1="1976.3" x2="976" y2="1860.6"/><linearGradient id="bon" href="#jet" x1="852.4" y1="2036.2" x2="1016" y2="1894.5"/><linearGradient id="boo" href="#jet" x1="860.6" y1="2237.1" x2="955.8" y2="1750.9"/><linearGradient id="bop" href="#jet" x1="896.3" y1="2250.1" x2="972.1" y2="1751.3"/><linearGradient id="boq" href="#jet" x1="886.6" y1="2242.2" x2="978.3" y2="1755.2"/><linearGradient id="bor" href="#jet" x1="907.7" y1="2254.5" x2="971.1" y2="1750.4"/><linearGradient id="bos" href="#jet" x1="905.1" y1="2248.9" x2="977.4" y2="1754.4"/><linearGradient id="bot" href="#jet" x1="828.4" y1="2038" x2="1013.2" y2="1838.8"/><linearGradient id="bou" href="#jet" x1="855" y1="2093.8" x2="1046" y2="1851.4"/><linearGradient id="bov" href="#jet" x1="909" y1="2262.3" x2="971.7" y2="1754.9"/><linearGradient id="bow" href="#jet" x1="896.5" y1="2239.6" x2="1005.5" y2="1767.8"/><linearGradient id="box" href="#jet" x1="845.4" y1="2063.6" x2="1039.4" y2="1840.2"/><linearGradient id="boy" href="#jet" x1="965" y1="2269.2" x2="1029.3" y2="1773.3"/><linearGradient id="boz" href="#jet" x1="1145.1" y1="2289.6" x2="946.3" y2="1765.4"/><linearGradient id="bp0" href="#jet" x1="958.4" y1="2239.9" x2="1048.5" y2="1795.4"/><linearGradient id="bp1" href="#jet" x1="1141.4" y1="2281.4" x2="949.3" y2="1772"/><linearGradient id="bp2" href="#jet" x1="953.3" y1="2245.1" x2="1033.1" y2="1789.8"/><linearGradient id="bp3" href="#jet" x1="979.2" y1="2238.4" x2="1052.7" y2="1802"/><linearGradient id="bp4" href="#jet" x1="1295.4" y1="2047.7" x2="914.4" y2="1850.5"/><linearGradient id="bp5" href="#jet" x1="80.1" y1="2171.4" x2="465" y2="1500.2"/><linearGradient id="bp6" href="#jet" x1="317" y1="2207.8" x2="409.1" y2="1492.4"/><linearGradient id="bp7" href="#jet" x1="104.1" y1="2183.8" x2="468.4" y2="1504.2"/><linearGradient id="bp8" href="#jet" x1="-2.9" y1="2128.6" x2="498.3" y2="1517.3"/><linearGradient id="bp9" href="#jet" x1="349.6" y1="2208.8" x2="418" y2="1502.6"/><linearGradient id="bpa" href="#jet" x1="-80.5" y1="2040.1" x2="530.9" y2="1546.5"/><linearGradient id="bpb" href="#jet" x1="366.3" y1="2232.5" x2="428" y2="1502.3"/><linearGradient id="bpc" href="#jet" x1="385.4" y1="2234.6" x2="426.8" y2="1502.5"/><linearGradient id="bpd" href="#jet" x1="180.6" y1="2266.7" x2="481.1" y2="1496.6"/><linearGradient id="bpe" href="#jet" x1="318.9" y1="2253.2" x2="452.2" y2="1502.3"/><linearGradient id="bpf" href="#jet" x1="103.1" y1="2205.3" x2="511.8" y2="1517.3"/><linearGradient id="bpg" href="#jet" x1="265.6" y1="2262.6" x2="462.1" y2="1498.9"/><linearGradient id="bph" href="#jet" x1="335.5" y1="2238.2" x2="459.5" y2="1511.7"/><linearGradient id="bpi" href="#jet" x1="588" y1="1728.5" x2="436.4" y2="1610.4"/><linearGradient id="bpj" href="#jet" x1="267.5" y1="2249.2" x2="480.2" y2="1509.6"/><linearGradient id="bpk" href="#jet" x1="299.9" y1="2194.3" x2="482.1" y2="1537"/><linearGradient id="bpl" href="#jet" x1="246.2" y1="2181.7" x2="495.3" y2="1542.3"/><linearGradient id="bpm" href="#jet" x1="111.1" y1="2078.6" x2="528.3" y2="1566.6"/><linearGradient id="bpn" href="#jet" x1="414.1" y1="2200.1" x2="471" y2="1541.2"/><linearGradient id="bpo" href="#jet" x1="458.7" y1="2214.5" x2="477.1" y2="1540.6"/><linearGradient id="bpp" href="#jet" x1="260.7" y1="2267.2" x2="543.5" y2="1530.2"/><linearGradient id="bpq" href="#jet" x1="436.4" y1="2252.4" x2="503.6" y2="1537.5"/><linearGradient id="bpr" href="#jet" x1="68.4" y1="1745.3" x2="602.8" y2="1670.3"/><linearGradient id="bps" href="#jet" x1="101.8" y1="2209.5" x2="595.1" y2="1554.1"/><linearGradient id="bpt" href="#jet" x1="632.1" y1="1763.2" x2="494.4" y2="1642.4"/><linearGradient id="bpu" href="#jet" x1="323.3" y1="2293" x2="538.9" y2="1533.9"/><linearGradient id="bpv" href="#jet" x1="435.7" y1="2248.6" x2="527.3" y2="1554.8"/><linearGradient id="bpw" href="#jet" x1="245.1" y1="2225.3" x2="577.4" y2="1562.6"/><linearGradient id="bpx" href="#jet" x1="329.9" y1="2259.4" x2="552.1" y2="1551.9"/><linearGradient id="bpy" href="#jet" x1="441.7" y1="2250" x2="536.5" y2="1558.6"/><linearGradient id="bpz" href="#jet" x1="280.9" y1="2225.1" x2="580.3" y2="1568"/><linearGradient id="bq0" href="#jet" x1="338.2" y1="2256.6" x2="561.2" y2="1556.9"/><linearGradient id="bq1" href="#jet" x1="338.4" y1="2236.6" x2="569.4" y2="1568"/><linearGradient id="bq2" href="#jet" x1="311.9" y1="2217.8" x2="579.4" y2="1575.3"/><linearGradient id="bq3" href="#jet" x1="438.8" y1="2242.6" x2="560.5" y2="1574.2"/><linearGradient id="bq4" href="#jet" x1="469" y1="2254" x2="563.4" y2="1574"/><linearGradient id="bq5" href="#jet" x1="309.8" y1="2234.4" x2="607.1" y2="1581.2"/><linearGradient id="bq6" href="#jet" x1="369.1" y1="2260.1" x2="588.6" y2="1572.6"/><linearGradient id="bq7" href="#jet" x1="505.2" y1="2253.9" x2="569.2" y2="1578.7"/><linearGradient id="bq8" href="#jet" x1="340.1" y1="2239.7" x2="620.2" y2="1586.9"/><linearGradient id="bq9" href="#jet" x1="384.3" y1="2269.5" x2="603.1" y2="1575.3"/><linearGradient id="bqa" href="#jet" x1="513.4" y1="2259.5" x2="589.3" y2="1586.1"/><linearGradient id="bqb" href="#jet" x1="182.8" y1="1882.8" x2="684.7" y2="1685.9"/><linearGradient id="bqc" href="#jet" x1="378.4" y1="2260.6" x2="637.2" y2="1594.3"/><linearGradient id="bqd" href="#jet" x1="467.1" y1="2274" x2="622.5" y2="1593.4"/><linearGradient id="bqe" href="#jet" x1="382" y1="2250.1" x2="651.8" y2="1603.1"/><linearGradient id="bqf" href="#jet" x1="427" y1="2272.9" x2="635.4" y2="1594.3"/><linearGradient id="bqg" href="#jet" x1="530.4" y1="2268.2" x2="619.3" y2="1601"/><linearGradient id="bqh" href="#jet" x1="771.7" y1="1844.9" x2="592.6" y2="1674.7"/><linearGradient id="bqi" href="#jet" x1="212.5" y1="2046.2" x2="706.3" y2="1666.9"/><linearGradient id="bqj" href="#jet" x1="527.1" y1="2274" x2="627.2" y2="1605.2"/><linearGradient id="bqk" href="#jet" x1="547.2" y1="2279.5" x2="628.3" y2="1605.3"/><linearGradient id="bql" href="#jet" x1="526.7" y1="1685.9" x2="651.6" y2="1707.6"/><linearGradient id="bqm" href="#jet" x1="449.9" y1="2286.4" x2="655" y2="1604.4"/><linearGradient id="bqn" href="#jet" x1="529.6" y1="2271.8" x2="648.8" y2="1616.9"/><linearGradient id="bqo" href="#jet" x1="583.8" y1="2272.4" x2="657.8" y2="1619.3"/><linearGradient id="bqp" href="#jet" x1="207.9" y1="2089.7" x2="757.2" y2="1676.3"/><linearGradient id="bqq" href="#jet" x1="362.5" y1="2288.3" x2="714.6" y2="1622.3"/><linearGradient id="bqr" href="#jet" x1="355.3" y1="2287.5" x2="716.5" y2="1621.6"/><linearGradient id="bqs" href="#jet" x1="373.1" y1="2286.1" x2="712.6" y2="1624.3"/><linearGradient id="bqt" href="#jet" x1="372.8" y1="2289.5" x2="712.2" y2="1622.7"/><linearGradient id="bqu" href="#jet" x1="581.5" y1="2316.8" x2="670.2" y2="1618.7"/><linearGradient id="bqv" href="#jet" x1="739.1" y1="1762.4" x2="665.8" y2="1719.3"/><linearGradient id="bqw" href="#jet" x1="375.1" y1="2309.5" x2="727.8" y2="1623.3"/><linearGradient id="bqx" href="#jet" x1="590.7" y1="2313.8" x2="691.4" y2="1634.1"/><linearGradient id="bqy" href="#jet" x1="629.1" y1="2326.6" x2="696.8" y2="1633.7"/><linearGradient id="bqz" href="#jet" x1="414.5" y1="2308.6" x2="759" y2="1641"/><linearGradient id="br0" href="#jet" x1="542.7" y1="2349.1" x2="718.8" y2="1627.6"/><linearGradient id="br1" href="#jet" x1="638.3" y1="2327.1" x2="707.5" y2="1638.1"/><linearGradient id="br2" href="#jet" x1="517.1" y1="2334.9" x2="741.4" y2="1637.7"/><linearGradient id="br3" href="#jet" x1="610.2" y1="2334.9" x2="724.8" y2="1639.7"/><linearGradient id="br4" href="#jet" x1="469.8" y1="2307.4" x2="769.7" y2="1650.5"/><linearGradient id="br5" href="#jet" x1="557.1" y1="2341.3" x2="739.4" y2="1637.9"/><linearGradient id="br6" href="#jet" x1="599.4" y1="2327.5" x2="739.1" y2="1647.6"/><linearGradient id="br7" href="#jet" x1="583.6" y1="2331.6" x2="747.8" y2="1647.7"/><linearGradient id="br8" href="#jet" x1="452.8" y1="2287.3" x2="785.2" y2="1662.2"/><linearGradient id="br9" href="#jet" x1="613.9" y1="2328.3" x2="750" y2="1655.3"/><linearGradient id="bra" href="#jet" x1="616.7" y1="2335.4" x2="753.7" y2="1654.9"/><linearGradient id="brb" href="#jet" x1="486.2" y1="2316.5" x2="788.5" y2="1662.5"/><linearGradient id="brc" href="#jet" x1="320.4" y1="2058.2" x2="837.8" y2="1738.4"/><linearGradient id="brd" href="#jet" x1="657.5" y1="2342.2" x2="752" y2="1658.5"/><linearGradient id="bre" href="#jet" x1="675.7" y1="2350.3" x2="753.4" y2="1658.1"/><linearGradient id="brf" href="#jet" x1="857" y1="1844.3" x2="737.8" y2="1756.7"/><linearGradient id="brg" href="#jet" x1="546.5" y1="2361.5" x2="786.9" y2="1655.3"/><linearGradient id="brh" href="#jet" x1="652.8" y1="2346.7" x2="772" y2="1666.9"/><linearGradient id="bri" href="#jet" x1="535.5" y1="2324.5" x2="806.7" y2="1676"/><linearGradient id="brj" href="#jet" x1="557.8" y1="2343.7" x2="797.7" y2="1668.3"/><linearGradient id="brk" href="#jet" x1="662.4" y1="2345.4" x2="784.6" y2="1674.3"/><linearGradient id="brl" href="#jet" x1="495.3" y1="2302.5" x2="831.5" y2="1687"/><linearGradient id="brm" href="#jet" x1="670.5" y1="2356.5" x2="797.3" y2="1677.5"/><linearGradient id="brn" href="#jet" x1="518.8" y1="2338.2" x2="836.7" y2="1684"/><linearGradient id="bro" href="#jet" x1="462.1" y1="2286.3" x2="849.8" y2="1698.5"/><linearGradient id="brp" href="#jet" x1="698.3" y1="2363.5" x2="806.4" y2="1685.9"/><linearGradient id="brq" href="#jet" x1="719.9" y1="2369.5" x2="807.8" y2="1685.9"/><linearGradient id="brr" href="#jet" x1="570" y1="2346.2" x2="847.1" y2="1694.7"/><linearGradient id="brs" href="#jet" x1="614.9" y1="2374.4" x2="831.7" y2="1684.6"/><linearGradient id="brt" href="#jet" x1="718.5" y1="2371" x2="827.3" y2="1693.7"/><linearGradient id="bru" href="#jet" x1="915.5" y1="1848.6" x2="819.4" y2="1792.8"/><linearGradient id="brv" href="#jet" x1="642.2" y1="2383.4" x2="858.9" y2="1693"/><linearGradient id="brw" href="#jet" x1="644" y1="2345.2" x2="865.2" y2="1713.4"/><linearGradient id="brx" href="#jet" x1="579.7" y1="2318.9" x2="881.6" y2="1719.1"/><linearGradient id="bry" href="#jet" x1="732.5" y1="2359.6" x2="850.5" y2="1712.3"/><linearGradient id="brz" href="#jet" x1="739.4" y1="2365.2" x2="853.4" y2="1712.4"/><linearGradient id="bs0" href="#jet" x1="457.6" y1="2028.8" x2="910.8" y2="1779.2"/><linearGradient id="bs1" href="#jet" x1="744.7" y1="2378.4" x2="862.5" y2="1715.7"/><linearGradient id="bs2" href="#jet" x1="792.6" y1="2400.3" x2="872.1" y2="1715.4"/><linearGradient id="bs3" href="#jet" x1="794.8" y1="1811.3" x2="905.2" y2="1840.1"/><linearGradient id="bs4" href="#jet" x1="695.2" y1="2434.9" x2="912.2" y2="1708.6"/><linearGradient id="bs5" href="#jet" x1="478.2" y1="2109.4" x2="970.5" y2="1793.6"/><linearGradient id="bs6" href="#jet" x1="692.1" y1="2393.1" x2="924.8" y2="1732.6"/><linearGradient id="bs7" href="#jet" x1="656.7" y1="2382.2" x2="933.7" y2="1736.7"/><linearGradient id="bs8" href="#jet" x1="649.7" y1="2381.5" x2="935.4" y2="1736"/><linearGradient id="bs9" href="#jet" x1="789" y1="2411.2" x2="911" y2="1732.9"/><linearGradient id="bsa" href="#jet" x1="813" y1="2421.1" x2="912.1" y2="1732.6"/><linearGradient id="bsb" href="#jet" x1="1037.1" y1="1911.4" x2="897.1" y2="1812.2"/><linearGradient id="bsc" href="#jet" x1="691.2" y1="2420.8" x2="942" y2="1733.6"/><linearGradient id="bsd" href="#jet" x1="860.3" y1="2400.9" x2="939.5" y2="1750.4"/><linearGradient id="bse" href="#jet" x1="724" y1="2450" x2="976.5" y2="1738.8"/><linearGradient id="bsf" href="#jet" x1="969.6" y1="2400" x2="932.4" y2="1759.1"/><linearGradient id="bsg" href="#jet" x1="969.9" y1="2393.6" x2="936" y2="1761.7"/><linearGradient id="bsh" href="#jet" x1="965.1" y1="2393" x2="943.2" y2="1762.5"/><linearGradient id="bsi" href="#jet" x1="172" y1="2069.5" x2="489.9" y2="1581.8"/><linearGradient id="bsj" href="#jet" x1="220.8" y1="2112.1" x2="445.6" y2="1540.5"/><linearGradient id="bsk" href="#jet" x1="168.9" y1="2057.5" x2="512.1" y2="1605.4"/><linearGradient id="bsl" href="#jet" x1="215.3" y1="2110.1" x2="475.5" y2="1558.3"/><linearGradient id="bsm" href="#jet" x1="292.4" y1="2139.3" x2="455.8" y2="1547.7"/><linearGradient id="bsn" href="#jet" x1="241" y1="2074.7" x2="580.4" y2="1652.3"/><linearGradient id="bso" href="#jet" x1="296.1" y1="2137.9" x2="510.8" y2="1572.8"/><linearGradient id="bsp" href="#jet" x1="245.6" y1="2091.8" x2="571.6" y2="1631.3"/><linearGradient id="bsq" href="#jet" x1="327.6" y1="2155.5" x2="508.1" y2="1570.5"/><linearGradient id="bsr" href="#jet" x1="254.1" y1="2101.5" x2="582.2" y2="1625.2"/><linearGradient id="bss" href="#jet" x1="367.5" y1="2171.7" x2="489.7" y2="1565.7"/><linearGradient id="bst" href="#jet" x1="369.5" y1="2174.8" x2="548.6" y2="1589"/><linearGradient id="bsu" href="#jet" x1="329.5" y1="2123.4" x2="660" y2="1678.5"/><linearGradient id="bsv" href="#jet" x1="416.7" y1="2191.1" x2="577.2" y2="1603"/><linearGradient id="bsw" href="#jet" x1="384.2" y1="2165.6" x2="658" y2="1651.4"/><linearGradient id="bsx" href="#jet" x1="445.3" y1="2199.5" x2="598.3" y2="1612.4"/><linearGradient id="bsy" href="#jet" x1="388.7" y1="2145.4" x2="714.3" y2="1708.4"/><linearGradient id="bsz" href="#jet" x1="460.8" y1="2206.4" x2="629" y2="1625.8"/><linearGradient id="bt0" href="#jet" x1="389.6" y1="2154.6" x2="704.6" y2="1684.6"/><linearGradient id="bt1" href="#jet" x1="488.3" y1="2040.8" x2="614.7" y2="2036.6"/><linearGradient id="bt2" href="#jet" x1="486.5" y1="2220.3" x2="652.1" y2="1636.6"/><linearGradient id="bt3" href="#jet" x1="436.7" y1="2170.8" x2="760.6" y2="1725.4"/><linearGradient id="bt4" href="#jet" x1="489.7" y1="2225" x2="685.5" y2="1651.4"/><linearGradient id="bt5" href="#jet" x1="420" y1="2178.8" x2="732.6" y2="1691.4"/><linearGradient id="bt6" href="#jet" x1="523.4" y1="2239.9" x2="642.4" y2="1636.2"/><linearGradient id="bt7" href="#jet" x1="442.8" y1="2197.3" x2="747.1" y2="1696.3"/><linearGradient id="bt8" href="#jet" x1="492" y1="2236.1" x2="701.6" y2="1658.1"/><linearGradient id="bt9" href="#jet" x1="509.3" y1="2241.8" x2="698.9" y2="1657.6"/><linearGradient id="bta" href="#jet" x1="458.4" y1="2197.5" x2="773.1" y2="1715.4"/><linearGradient id="btb" href="#jet" x1="525.5" y1="2248.9" x2="700.6" y2="1659"/><linearGradient id="btc" href="#jet" x1="459.6" y1="2198.7" x2="778.8" y2="1718.3"/><linearGradient id="btd" href="#jet" x1="569.8" y1="2259.7" x2="709.8" y2="1665.7"/><linearGradient id="bte" href="#jet" x1="554.1" y1="2240" x2="816.4" y2="1723.1"/><linearGradient id="btf" href="#jet" x1="508.4" y1="2207.8" x2="830.2" y2="1744.3"/><linearGradient id="btg" href="#jet" x1="617.3" y1="2276.9" x2="725.6" y2="1675.4"/><linearGradient id="bth" href="#jet" x1="605.8" y1="2277.6" x2="774.8" y2="1693.3"/><linearGradient id="bti" href="#jet" x1="613.3" y1="2276.6" x2="810.9" y2="1710.1"/><linearGradient id="btj" href="#jet" x1="587.4" y1="2251.9" x2="874.1" y2="1757.9"/><linearGradient id="btk" href="#jet" x1="631.4" y1="2284.7" x2="812" y2="1709.7"/><linearGradient id="btl" href="#jet" x1="548.6" y1="2220.5" x2="877" y2="1771"/><linearGradient id="btm" href="#jet" x1="660.6" y1="2297.1" x2="770.5" y2="1696.1"/><linearGradient id="btn" href="#jet" x1="625.8" y1="2288" x2="832" y2="1719.9"/><linearGradient id="bto" href="#jet" x1="594.5" y1="2263.3" x2="882.5" y2="1758.1"/><linearGradient id="btp" href="#jet" x1="645.5" y1="2299.7" x2="834.6" y2="1720"/><linearGradient id="btq" href="#jet" x1="628.8" y1="2291.8" x2="851.6" y2="1729"/><linearGradient id="btr" href="#jet" x1="681.6" y1="2311.8" x2="803.7" y2="1710.5"/><linearGradient id="bts" href="#jet" x1="685.8" y1="2311.3" x2="837.6" y2="1722.8"/><linearGradient id="btt" href="#jet" x1="663.8" y1="2290.1" x2="927.9" y2="1775.1"/><linearGradient id="btu" href="#jet" x1="605.2" y1="2249.2" x2="941.2" y2="1799.4"/><linearGradient id="btv" href="#jet" x1="725.2" y1="2327.8" x2="832.9" y2="1725.5"/><linearGradient id="btw" href="#jet" x1="700.8" y1="2328" x2="885.5" y2="1743.6"/><linearGradient id="btx" href="#jet" x1="733" y1="2338.9" x2="860.1" y2="1736"/><linearGradient id="bty" href="#jet" x1="733.1" y1="2338.2" x2="859.5" y2="1736"/><linearGradient id="btz" href="#jet" x1="733.6" y1="2336.8" x2="894.4" y2="1748.6"/><linearGradient id="bu0" href="#jet" x1="656.9" y1="2284" x2="979.4" y2="1808.2"/><linearGradient id="bu1" href="#jet" x1="768.3" y1="2350.2" x2="880.8" y2="1746.8"/><linearGradient id="bu2" href="#jet" x1="747.1" y1="2349.6" x2="934.9" y2="1766.1"/><linearGradient id="bu3" href="#jet" x1="713.2" y1="2324.7" x2="997.8" y2="1806"/><linearGradient id="bu4" href="#jet" x1="765.5" y1="2359.8" x2="956" y2="1774.1"/><linearGradient id="bu5" href="#jet" x1="744.2" y1="2357.4" x2="981.2" y2="1783.6"/><linearGradient id="bu6" href="#jet" x1="799.5" y1="2374.3" x2="932" y2="1766.2"/><linearGradient id="bu7" href="#jet" x1="727.4" y1="2342.1" x2="1021.5" y2="1809.9"/><linearGradient id="bu8" href="#jet" x1="848.7" y1="2387.2" x2="904.8" y2="1765.2"/><linearGradient id="bu9" href="#jet" x1="863.9" y1="2391.6" x2="904.2" y2="1762.8"/><linearGradient id="bua" href="#jet" x1="288.5" y1="2110.8" x2="191.3" y2="1580.6"/><linearGradient id="bub" href="#jet" x1="245.7" y1="2098.4" x2="270.2" y2="1600.2"/><linearGradient id="buc" href="#jet" x1="206.8" y1="1958.5" x2="346" y2="1825.2"/><linearGradient id="bud" href="#jet" x1="259.2" y1="2101.2" x2="284.5" y2="1612.5"/><linearGradient id="bue" href="#jet" x1="237" y1="2021.3" x2="379.9" y2="1771.1"/><linearGradient id="buf" href="#jet" x1="378.4" y1="2103.3" x2="110.6" y2="1614.2"/><linearGradient id="bug" href="#jet" x1="242.3" y1="2074.7" x2="336" y2="1665.6"/><linearGradient id="buh" href="#jet" x1="225.6" y1="2003.1" x2="370.8" y2="1781.9"/><linearGradient id="bui" href="#jet" x1="393.4" y1="1951.5" x2="112.1" y2="1937.3"/><linearGradient id="buj" href="#jet" x1="221.3" y1="1961.2" x2="346.5" y2="1819.7"/><linearGradient id="buk" href="#jet" x1="376.3" y1="2119" x2="156.8" y2="1616.7"/><linearGradient id="bul" href="#jet" x1="248.9" y1="2092.5" x2="324.1" y2="1650.4"/><linearGradient id="bum" href="#jet" x1="373.4" y1="2126.2" x2="174.9" y2="1621.1"/><linearGradient id="bun" href="#jet" x1="221.9" y1="1999.1" x2="383.5" y2="1795.1"/><linearGradient id="buo" href="#jet" x1="373.2" y1="2133.2" x2="187.2" y2="1621.3"/><linearGradient id="bup" href="#jet" x1="235.2" y1="2065.4" x2="396.4" y2="1722.8"/><linearGradient id="buq" href="#jet" x1="374.8" y1="2137.6" x2="185.7" y2="1617.2"/><linearGradient id="bur" href="#jet" x1="318.1" y1="2142.7" x2="284.3" y2="1609.6"/><linearGradient id="bus" href="#jet" x1="292.8" y1="2126.7" x2="368.1" y2="1639.8"/><linearGradient id="but" href="#jet" x1="306.2" y1="2133.2" x2="350.7" y2="1629.8"/><linearGradient id="buu" href="#jet" x1="385.4" y1="2140.6" x2="218.1" y2="1618"/><linearGradient id="buv" href="#jet" x1="315.9" y1="2135.2" x2="348" y2="1630.4"/><linearGradient id="buw" href="#jet" x1="323" y1="2015" x2="433.5" y2="1940.8"/><linearGradient id="bux" href="#jet" x1="254.5" y1="2007.1" x2="422.5" y2="1808.3"/><linearGradient id="buy" href="#jet" x1="331.8" y1="2142.9" x2="393.1" y2="1655.6"/><linearGradient id="buz" href="#jet" x1="346.4" y1="2149.6" x2="373.2" y2="1645.1"/><linearGradient id="bv0" href="#jet" x1="359" y1="2150.6" x2="365.8" y2="1646.6"/><linearGradient id="bv1" href="#jet" x1="459.4" y1="2151.1" x2="221.2" y2="1654.1"/><linearGradient id="bv2" href="#jet" x1="290.6" y1="2030.1" x2="442.3" y2="1812"/><linearGradient id="bv3" href="#jet" x1="455.8" y1="2156.6" x2="240.2" y2="1653.6"/><linearGradient id="bv4" href="#jet" x1="314.2" y1="2113.8" x2="426.2" y2="1708.6"/><linearGradient id="bv5" href="#jet" x1="319.7" y1="2086.5" x2="486.3" y2="1784.8"/><linearGradient id="bv6" href="#jet" x1="376.6" y1="2162.5" x2="399.1" y2="1657.4"/><linearGradient id="bv7" href="#jet" x1="323.5" y1="2073.7" x2="506.2" y2="1822.6"/><linearGradient id="bv8" href="#jet" x1="373.6" y1="2163.8" x2="431.8" y2="1668"/><linearGradient id="bv9" href="#jet" x1="339.8" y1="2044.2" x2="510.4" y2="1895.5"/><linearGradient id="bva" href="#jet" x1="397.6" y1="2175.3" x2="420.9" y2="1662.6"/><linearGradient id="bvb" href="#jet" x1="477" y1="2180" x2="296" y2="1668"/><linearGradient id="bvc" href="#jet" x1="351.4" y1="2001" x2="470.4" y2="1915.7"/><linearGradient id="bvd" href="#jet" x1="478.9" y1="2187.2" x2="294.3" y2="1661.7"/><linearGradient id="bve" href="#jet" x1="397" y1="2184.2" x2="431.7" y2="1669"/><linearGradient id="bvf" href="#jet" x1="364.3" y1="2068.2" x2="546.3" y2="1902.5"/><linearGradient id="bvg" href="#jet" x1="409.7" y1="2183.3" x2="467.7" y2="1681.6"/><linearGradient id="bvh" href="#jet" x1="486.4" y1="2193.7" x2="332.5" y2="1672.6"/><linearGradient id="bvi" href="#jet" x1="349.7" y1="2051.7" x2="529.1" y2="1875.9"/><linearGradient id="bvj" href="#jet" x1="488" y1="2199.3" x2="331.1" y2="1667.7"/><linearGradient id="bvk" href="#jet" x1="416.4" y1="2196.4" x2="454.8" y2="1675.2"/><linearGradient id="bvl" href="#jet" x1="486.7" y1="2201.9" x2="360.4" y2="1668.3"/><linearGradient id="bvm" href="#jet" x1="429.3" y1="2195.5" x2="485" y2="1683.7"/><linearGradient id="bvn" href="#jet" x1="441.9" y1="2199.4" x2="468.1" y2="1678.6"/><linearGradient id="bvo" href="#jet" x1="423.4" y1="2053.7" x2="528.2" y2="1997"/><linearGradient id="bvp" href="#jet" x1="462.8" y1="2209.7" x2="468" y2="1680.7"/><linearGradient id="bvq" href="#jet" x1="454.9" y1="2205.8" x2="505.1" y2="1695.4"/><linearGradient id="bvr" href="#jet" x1="469" y1="2097.9" x2="579.6" y2="2035.4"/><linearGradient id="bvs" href="#jet" x1="391" y1="2096.2" x2="582.4" y2="1856.8"/><linearGradient id="bvt" href="#jet" x1="516.2" y1="2224.8" x2="439.9" y2="1686.6"/><linearGradient id="bvu" href="#jet" x1="428" y1="2135" x2="632.8" y2="1878.3"/><linearGradient id="bvv" href="#jet" x1="483.9" y1="2218.4" x2="532.3" y2="1709.8"/><linearGradient id="bvw" href="#jet" x1="440.2" y1="2122.1" x2="629.2" y2="1898"/><linearGradient id="bvx" href="#jet" x1="502.9" y1="2222.4" x2="524.4" y2="1712.3"/><linearGradient id="bvy" href="#jet" x1="476.6" y1="2193.3" x2="585.9" y2="1766.9"/><linearGradient id="bvz" href="#jet" x1="490.2" y1="2203.5" x2="573.2" y2="1753.3"/><linearGradient id="bw0" href="#jet" x1="483.6" y1="2195.4" x2="588.4" y2="1767.8"/><linearGradient id="bw1" href="#jet" x1="608.4" y1="2227.3" x2="390.1" y2="1718.3"/><linearGradient id="bw2" href="#jet" x1="466.1" y1="2128.7" x2="635.6" y2="1890.2"/><linearGradient id="bw3" href="#jet" x1="530.5" y1="2232.4" x2="540.3" y2="1722.3"/><linearGradient id="bw4" href="#jet" x1="505.6" y1="2215.9" x2="590.1" y2="1752.7"/><linearGradient id="bw5" href="#jet" x1="616.7" y1="2235.6" x2="414.5" y2="1724.2"/><linearGradient id="bw6" href="#jet" x1="617.1" y1="2234.8" x2="413" y2="1724"/><linearGradient id="bw7" href="#jet" x1="524.8" y1="2226.1" x2="573.8" y2="1742.6"/><linearGradient id="bw8" href="#jet" x1="657.3" y1="2100.5" x2="354" y2="2034.7"/><linearGradient id="bw9" href="#jet" x1="477.6" y1="2079.1" x2="616.4" y2="1941.9"/><linearGradient id="bwa" href="#jet" x1="621" y1="2245.5" x2="441.7" y2="1730.6"/><linearGradient id="bwb" href="#jet" x1="512" y1="2223.9" x2="588.8" y2="1758.8"/><linearGradient id="bwc" href="#jet" x1="619.3" y1="2250.3" x2="451.9" y2="1732.7"/><linearGradient id="bwd" href="#jet" x1="474.4" y1="2140.1" x2="658.6" y2="1888.9"/><linearGradient id="bwe" href="#jet" x1="619.7" y1="2255.2" x2="451.3" y2="1728.5"/><linearGradient id="bwf" href="#jet" x1="532" y1="2245.9" x2="594.8" y2="1745.3"/><linearGradient id="bwg" href="#jet" x1="617.8" y1="2258.7" x2="476.1" y2="1733.4"/><linearGradient id="bwh" href="#jet" x1="481.1" y1="2152.1" x2="680.2" y2="1891.4"/><linearGradient id="bwi" href="#jet" x1="546" y1="2246.7" x2="648.1" y2="1767.4"/><linearGradient id="bwj" href="#jet" x1="526.8" y1="2221" x2="704.5" y2="1833"/><linearGradient id="bwk" href="#jet" x1="588.1" y1="2266.4" x2="573" y2="1730.3"/><linearGradient id="bwl" href="#jet" x1="527" y1="2218.3" x2="712.2" y2="1833.8"/><linearGradient id="bwm" href="#jet" x1="596.9" y1="2266.3" x2="629.7" y2="1743.4"/><linearGradient id="bwn" href="#jet" x1="544.5" y1="2065.5" x2="642.9" y2="2006.4"/><linearGradient id="bwo" href="#jet" x1="666.1" y1="2268.6" x2="488.5" y2="1748.7"/><linearGradient id="bwp" href="#jet" x1="551.6" y1="2224.4" x2="707.2" y2="1835.5"/><linearGradient id="bwq" href="#jet" x1="623.1" y1="2275.8" x2="581.4" y2="1742.3"/><linearGradient id="bwr" href="#jet" x1="545.3" y1="2166.6" x2="739.6" y2="1953.1"/><linearGradient id="bws" href="#jet" x1="602.3" y1="2273.2" x2="646.4" y2="1761"/><linearGradient id="bwt" href="#jet" x1="557" y1="2206.8" x2="758.5" y2="1906"/><linearGradient id="bwu" href="#jet" x1="649" y1="2288.6" x2="590.3" y2="1748.7"/><linearGradient id="bwv" href="#jet" x1="599.8" y1="2272.1" x2="693.5" y2="1782.5"/><linearGradient id="bww" href="#jet" x1="564.6" y1="2191.2" x2="771.7" y2="1945.7"/><linearGradient id="bwx" href="#jet" x1="628.6" y1="2284.9" x2="661.3" y2="1767.4"/><linearGradient id="bwy" href="#jet" x1="579.7" y1="2180.3" x2="769.3" y2="1964"/><linearGradient id="bwz" href="#jet" x1="642.7" y1="2287.7" x2="673.6" y2="1778.7"/><linearGradient id="bx0" href="#jet" x1="596.6" y1="2227.5" x2="770.2" y2="1891.2"/><linearGradient id="bx1" href="#jet" x1="600.9" y1="2185.4" x2="782.3" y2="1980.7"/><linearGradient id="bx2" href="#jet" x1="667.4" y1="2298.1" x2="669.2" y2="1779.1"/><linearGradient id="bx3" href="#jet" x1="730.9" y1="2304.2" x2="573.8" y2="1787.3"/><linearGradient id="bx4" href="#jet" x1="588.5" y1="2182" x2="770.2" y2="1954.7"/><linearGradient id="bx5" href="#jet" x1="732.5" y1="2310.1" x2="572.9" y2="1784.6"/><linearGradient id="bx6" href="#jet" x1="692.1" y1="2314.3" x2="643.5" y2="1777.8"/><linearGradient id="bx7" href="#jet" x1="643.8" y1="2283.8" x2="783.1" y2="1846.1"/><linearGradient id="bx8" href="#jet" x1="641.5" y1="2279" x2="801.5" y2="1864.3"/><linearGradient id="bx9" href="#jet" x1="647.9" y1="2286.2" x2="796.2" y2="1852.5"/><linearGradient id="bxa" href="#jet" x1="724.5" y1="2318.3" x2="632.7" y2="1778.6"/><linearGradient id="bxb" href="#jet" x1="630.8" y1="2266.1" x2="819.5" y2="1876.5"/><linearGradient id="bxc" href="#jet" x1="704.9" y1="2316.3" x2="738.1" y2="1789.5"/><linearGradient id="bxd" href="#jet" x1="619.4" y1="2132.4" x2="781.2" y2="1989"/><linearGradient id="bxe" href="#jet" x1="655.9" y1="2170.5" x2="815.2" y2="2032.3"/><linearGradient id="bxf" href="#jet" x1="725.6" y1="2323.4" x2="719.7" y2="1801.3"/><linearGradient id="bxg" href="#jet" x1="791.9" y1="2328" x2="628" y2="1814"/><linearGradient id="bxh" href="#jet" x1="652.7" y1="2158.5" x2="805.1" y2="2028.8"/><linearGradient id="bxi" href="#jet" x1="733.5" y1="2332.5" x2="759.9" y2="1816.6"/><linearGradient id="bxj" href="#jet" x1="793.2" y1="2337.7" x2="645.4" y2="1809.8"/><linearGradient id="bxk" href="#jet" x1="737.9" y1="2334.1" x2="770.8" y2="1821.5"/><linearGradient id="bxl" href="#jet" x1="744.2" y1="2334" x2="769.9" y2="1824.3"/><linearGradient id="bxm" href="#jet" x1="753.7" y1="2335.5" x2="762.5" y2="1823.6"/><linearGradient id="bxn" href="#jet" x1="710" y1="2206.3" x2="861.2" y2="2059"/><linearGradient id="bxo" href="#jet" x1="802.1" y1="2350.8" x2="719.6" y2="1817.4"/><linearGradient id="bxp" href="#jet" x1="760.3" y1="2338.3" x2="802.8" y2="1841.2"/><linearGradient id="bxq" href="#jet" x1="734" y1="2203.4" x2="873.1" y2="2079.5"/><linearGradient id="bxr" href="#jet" x1="797.4" y1="2354.3" x2="784.7" y2="1837"/><linearGradient id="bxs" href="#jet" x1="792.5" y1="2349.4" x2="804.2" y2="1847.9"/><linearGradient id="bxt" href="#jet" x1="768.7" y1="2320.6" x2="855.3" y2="1897"/><linearGradient id="bxu" href="#jet" x1="750.9" y1="2258.9" x2="897" y2="1999.5"/><linearGradient id="bxv" href="#jet" x1="765.3" y1="2296" x2="892.7" y2="1951.7"/></defs>
<g stroke-width="0.7" stroke-linejoin="round"><path fill="url(#b0)" stroke="url(#b0)" d="M889.9,1623.1L957,1617.3L1021.6,1646.8L954.4,1651.4z"/><path fill="url(#b1)" stroke="url(#b1)" d="M954.4,1651.4L1021.6,1646.8L1086.1,1676.2L1019,1679.8z"/><path fill="url(#b2)" stroke="url(#b2)" d="M1019,1679.8L1086.1,1676.2L1150.7,1705.7L1083.6,1708.1z"/><path fill="url(#b3)" stroke="url(#b3)" d="M1083.6,1708.1L1150.7,1705.7L1200.5,1728.5L1133.4,1732.7z"/><path fill="url(#b4)" stroke="url(#b4)" d="M1133.4,1732.7L1200.5,1728.5L1250.4,1751.2L1183.3,1757.2z"/><path fill="url(#b5)" stroke="url(#b5)" d="M1183.3,1757.2L1250.4,1751.2L1283.2,1766.2L1216.1,1769z"/><path fill="url(#b6)" stroke="url(#b6)" d="M1216.1,1769L1283.2,1766.2L1367,1804.4L1299.9,1808z"/><path fill="url(#b7)" stroke="url(#b7)" d="M1299.9,1808L1367,1804.4L1450.8,1842.7L1383.7,1847.1z"/><path fill="url(#b8)" stroke="url(#b8)" d="M1383.7,1847.1L1450.8,1842.7L1509.6,1869.5L1442.5,1878.1z"/><path fill="url(#b9)" stroke="url(#b9)" d="M1442.5,1878.1L1509.6,1869.5L1522.7,1875.5L1455.6,1897.3z"/><path fill="url(#ba)" stroke="url(#ba)" d="M822.8,1596.3L889.9,1623.1L894.5,1625.1L827.3,1602.3z"/><path fill="url(#bb)" stroke="url(#bb)" d="M827.3,1602.3L894.5,1625.1L897,1626.2z"/><path fill="url(#bc)" stroke="url(#bc)" d="M827.3,1602.3L897,1626.2L829.8,1599.2z"/><path fill="url(#bd)" stroke="url(#bd)" d="M897,1626.2L910.1,1631.9L842.9,1609.6z"/><path fill="url(#be)" stroke="url(#be)" d="M897,1626.2L842.9,1609.6L829.8,1599.2z"/><path fill="url(#bf)" stroke="url(#bf)" d="M842.9,1609.6L910.1,1631.9L927.6,1639.7L860.5,1616.9z"/><path fill="url(#bg)" stroke="url(#bg)" d="M860.5,1616.9L927.6,1639.7L930.7,1641z"/><path fill="url(#bh)" stroke="url(#bh)" d="M860.5,1616.9L930.7,1641L863.6,1613.1z"/><path fill="url(#bi)" stroke="url(#bi)" d="M930.7,1641L942.6,1646.2L875.4,1620.1z"/><path fill="url(#bj)" stroke="url(#bj)" d="M930.7,1641L875.4,1620.1L863.6,1613.1z"/><path fill="url(#bk)" stroke="url(#bk)" d="M875.4,1620.1L942.6,1646.2L954,1651.2z"/><path fill="url(#bl)" stroke="url(#bl)" d="M875.4,1620.1L954,1651.2L886.8,1621.7z"/><path fill="url(#bm)" stroke="url(#bm)" d="M886.8,1621.7L954,1651.2L955.2,1651.8L888.1,1618.2z"/><path fill="url(#bn)" stroke="url(#bn)" d="M955.2,1651.8L962.1,1654.8L894.9,1623.5z"/><path fill="url(#bo)" stroke="url(#bo)" d="M955.2,1651.8L894.9,1623.5L888.1,1618.2z"/><path fill="url(#bp)" stroke="url(#bp)" d="M962.1,1654.8L965.4,1656.2L898.2,1630z"/><path fill="url(#bq)" stroke="url(#bq)" d="M962.1,1654.8L898.2,1630L894.9,1623.5z"/><path fill="url(#br)" stroke="url(#br)" d="M898.2,1630L965.4,1656.2L971.1,1658.7z"/><path fill="url(#bs)" stroke="url(#bs)" d="M898.2,1630L971.1,1658.7L903.9,1629.5z"/><path fill="url(#bt)" stroke="url(#bt)" d="M903.9,1629.5L971.1,1658.7L976.8,1661.2L909.6,1636.5z"/><path fill="url(#bu)" stroke="url(#bu)" d="M909.6,1636.5L976.8,1661.2L982.5,1663.7z"/><path fill="url(#bv)" stroke="url(#bv)" d="M909.6,1636.5L982.5,1663.7L915.3,1633.1z"/><path fill="url(#bw)" stroke="url(#bw)" d="M982.5,1663.7L988.2,1666.2L921,1637.8z"/><path fill="url(#bx)" stroke="url(#bx)" d="M982.5,1663.7L921,1637.8L915.3,1633.1z"/><path fill="url(#by)" stroke="url(#by)" d="M921,1637.8L988.2,1666.2L991.1,1667.5z"/><path fill="url(#bz)" stroke="url(#bz)" d="M921,1637.8L991.1,1667.5L923.9,1635.4z"/><path fill="url(#b10)" stroke="url(#b10)" d="M991.1,1667.5L995.1,1669.3L928,1642.4z"/><path fill="url(#b11)" stroke="url(#b11)" d="M991.1,1667.5L928,1642.4L923.9,1635.4z"/><path fill="url(#b12)" stroke="url(#b12)" d="M928,1642.4L995.1,1669.3L999.6,1671.3z"/><path fill="url(#b13)" stroke="url(#b13)" d="M928,1642.4L999.6,1671.3L932.4,1642.8z"/><path fill="url(#b14)" stroke="url(#b14)" d="M932.4,1642.8L999.6,1671.3L1002.4,1672.5L935.3,1650.4z"/><path fill="url(#b15)" stroke="url(#b15)" d="M935.3,1650.4L1002.4,1672.5L1005.3,1673.8z"/><path fill="url(#b16)" stroke="url(#b16)" d="M935.3,1650.4L1005.3,1673.8L938.1,1647.5z"/><path fill="url(#b17)" stroke="url(#b17)" d="M938.1,1647.5L1005.3,1673.8L1011,1676.3L943.8,1652.7z"/><path fill="url(#b18)" stroke="url(#b18)" d="M943.8,1652.7L1011,1676.3L1022.4,1681.3z"/><path fill="url(#b19)" stroke="url(#b19)" d="M943.8,1652.7L1022.4,1681.3L955.2,1651z"/><path fill="url(#b1a)" stroke="url(#b1a)" d="M955.2,1651L1022.4,1681.3L1040.4,1689.2z"/><path fill="url(#b1b)" stroke="url(#b1b)" d="M955.2,1651L1040.4,1689.2L973.2,1656z"/><path fill="url(#b1c)" stroke="url(#b1c)" d="M1040.4,1689.2L1045.2,1691.3L978,1664z"/><path fill="url(#b1d)" stroke="url(#b1d)" d="M1040.4,1689.2L978,1664L973.2,1656z"/><path fill="url(#b1e)" stroke="url(#b1e)" d="M978,1664L1045.2,1691.3L1050.9,1693.8L983.7,1667.2z"/><path fill="url(#b1f)" stroke="url(#b1f)" d="M983.7,1667.2L1050.9,1693.8L1056.6,1696.3z"/><path fill="url(#b1g)" stroke="url(#b1g)" d="M983.7,1667.2L1056.6,1696.3L989.4,1663.3z"/><path fill="url(#b1h)" stroke="url(#b1h)" d="M1056.6,1696.3L1064.1,1699.6L997,1669.9z"/><path fill="url(#b1i)" stroke="url(#b1i)" d="M1056.6,1696.3L997,1669.9L989.4,1663.3z"/><path fill="url(#b1j)" stroke="url(#b1j)" d="M997,1669.9L1064.1,1699.6L1064.9,1699.9L997.7,1665.7z"/><path fill="url(#b1k)" stroke="url(#b1k)" d="M1064.9,1699.9L1068,1701.3L1000.8,1673.1z"/><path fill="url(#b1l)" stroke="url(#b1l)" d="M1064.9,1699.9L1000.8,1673.1L997.7,1665.7z"/><path fill="url(#b1m)" stroke="url(#b1m)" d="M1000.8,1673.1L1068,1701.3L1069,1701.7z"/><path fill="url(#b1n)" stroke="url(#b1n)" d="M1000.8,1673.1L1069,1701.7L1001.8,1668.8z"/><path fill="url(#b1o)" stroke="url(#b1o)" d="M1069,1701.7L1079.4,1706.3L1012.2,1675z"/><path fill="url(#b1p)" stroke="url(#b1p)" d="M1069,1701.7L1012.2,1675L1001.8,1668.8z"/><path fill="url(#b1q)" stroke="url(#b1q)" d="M1012.2,1675L1079.4,1706.3L1083.6,1708.1L1016.4,1671.7z"/><path fill="url(#b1r)" stroke="url(#b1r)" d="M1083.6,1708.1L1085.1,1708.9L1017.9,1676z"/><path fill="url(#b1s)" stroke="url(#b1s)" d="M1083.6,1708.1L1017.9,1676L1016.4,1671.7z"/><path fill="url(#b1t)" stroke="url(#b1t)" d="M1017.9,1676L1085.1,1708.9L1092.8,1712.7L1025.7,1683z"/><path fill="url(#b1u)" stroke="url(#b1u)" d="M1025.7,1683L1092.8,1712.7L1099,1715.8z"/><path fill="url(#b1v)" stroke="url(#b1v)" d="M1025.7,1683L1099,1715.8L1031.9,1679.7z"/><path fill="url(#b1w)" stroke="url(#b1w)" d="M1031.9,1679.7L1099,1715.8L1107.5,1719.9L1040.4,1684.2z"/><path fill="url(#b1x)" stroke="url(#b1x)" d="M1107.5,1719.9L1113.6,1722.9L1046.4,1694.3z"/><path fill="url(#b1y)" stroke="url(#b1y)" d="M1107.5,1719.9L1046.4,1694.3L1040.4,1684.2z"/><path fill="url(#b1z)" stroke="url(#b1z)" d="M1046.4,1694.3L1113.6,1722.9L1118.9,1725.5z"/><path fill="url(#b20)" stroke="url(#b20)" d="M1046.4,1694.3L1118.9,1725.5L1051.8,1691.1z"/><path fill="url(#b21)" stroke="url(#b21)" d="M1118.9,1725.5L1125,1728.5L1057.8,1696z"/><path fill="url(#b22)" stroke="url(#b22)" d="M1118.9,1725.5L1057.8,1696L1051.8,1691.1z"/><path fill="url(#b23)" stroke="url(#b23)" d="M1057.8,1696L1125,1728.5L1136.4,1734.1z"/><path fill="url(#b24)" stroke="url(#b24)" d="M1057.8,1696L1136.4,1734.1L1069.2,1697.5z"/><path fill="url(#b25)" stroke="url(#b25)" d="M1136.4,1734.1L1159.2,1745.3L1092,1719.7z"/><path fill="url(#b26)" stroke="url(#b26)" d="M1136.4,1734.1L1092,1719.7L1069.2,1697.5z"/><path fill="url(#b27)" stroke="url(#b27)" d="M1092,1719.7L1159.2,1745.3L1160,1745.8z"/><path fill="url(#b28)" stroke="url(#b28)" d="M1092,1719.7L1160,1745.8L1092.9,1716z"/><path fill="url(#b29)" stroke="url(#b29)" d="M1092.9,1716L1160,1745.8L1164.9,1748.2L1097.7,1721.8z"/><path fill="url(#b2a)" stroke="url(#b2a)" d="M1097.7,1721.8L1164.9,1748.2L1172.9,1752.1z"/><path fill="url(#b2b)" stroke="url(#b2b)" d="M1097.7,1721.8L1172.9,1752.1L1105.7,1723.4z"/><path fill="url(#b2c)" stroke="url(#b2c)" d="M1105.7,1723.4L1172.9,1752.1L1176.3,1753.8z"/><path fill="url(#b2d)" stroke="url(#b2d)" d="M1105.7,1723.4L1176.3,1753.8L1109.1,1723z"/><path fill="url(#b2e)" stroke="url(#b2e)" d="M1109.1,1723L1176.3,1753.8L1177.1,1754.2L1109.9,1727.3z"/><path fill="url(#b2f)" stroke="url(#b2f)" d="M1109.9,1727.3L1177.1,1754.2L1183.3,1757.2L1116.1,1729.9z"/><path fill="url(#b2g)" stroke="url(#b2g)" d="M1116.1,1729.9L1183.3,1757.2L1187.7,1758.8z"/><path fill="url(#b2h)" stroke="url(#b2h)" d="M1116.1,1729.9L1187.7,1758.8L1120.5,1731.8z"/><path fill="url(#b2i)" stroke="url(#b2i)" d="M1120.5,1731.8L1187.7,1758.8L1193.4,1760.8L1126.2,1729.8z"/><path fill="url(#b2j)" stroke="url(#b2j)" d="M1193.4,1760.8L1195.8,1761.7L1128.7,1733.3z"/><path fill="url(#b2k)" stroke="url(#b2k)" d="M1193.4,1760.8L1128.7,1733.3L1126.2,1729.8z"/><path fill="url(#b2l)" stroke="url(#b2l)" d="M1128.7,1733.3L1195.8,1761.7L1202,1764L1134.9,1731.9z"/><path fill="url(#b2m)" stroke="url(#b2m)" d="M1134.9,1731.9L1202,1764L1210.5,1767z"/><path fill="url(#b2n)" stroke="url(#b2n)" d="M1134.9,1731.9L1210.5,1767L1143.3,1736z"/><path fill="url(#b2o)" stroke="url(#b2o)" d="M1143.3,1736L1210.5,1767L1216.1,1769L1148.9,1734.5z"/><path fill="url(#b2p)" stroke="url(#b2p)" d="M1148.9,1734.5L1216.1,1769L1219.7,1770.7L1152.6,1733.5z"/><path fill="url(#b2q)" stroke="url(#b2q)" d="M1219.7,1770.7L1232.1,1776.5L1165,1746.6z"/><path fill="url(#b2r)" stroke="url(#b2r)" d="M1219.7,1770.7L1165,1746.6L1152.6,1733.5z"/><path fill="url(#b2s)" stroke="url(#b2s)" d="M1165,1746.6L1232.1,1776.5L1233.3,1777z"/><path fill="url(#b2t)" stroke="url(#b2t)" d="M1165,1746.6L1233.3,1777L1166.2,1743.4z"/><path fill="url(#b2u)" stroke="url(#b2u)" d="M1233.3,1777L1235.3,1778L1168.2,1749.5z"/><path fill="url(#b2v)" stroke="url(#b2v)" d="M1233.3,1777L1168.2,1749.5L1166.2,1743.4z"/><path fill="url(#b2w)" stroke="url(#b2w)" d="M1168.2,1749.5L1235.3,1778L1239,1779.7z"/><path fill="url(#b2x)" stroke="url(#b2x)" d="M1168.2,1749.5L1239,1779.7L1171.9,1748.5z"/><path fill="url(#b2y)" stroke="url(#b2y)" d="M1171.9,1748.5L1239,1779.7L1244.7,1782.3L1177.6,1755.2z"/><path fill="url(#b2z)" stroke="url(#b2z)" d="M1177.6,1755.2L1244.7,1782.3L1250.4,1785z"/><path fill="url(#b30)" stroke="url(#b30)" d="M1177.6,1755.2L1250.4,1785L1183.3,1751.8z"/><path fill="url(#b31)" stroke="url(#b31)" d="M1250.4,1785L1256.1,1787.7L1189,1756.6z"/><path fill="url(#b32)" stroke="url(#b32)" d="M1250.4,1785L1189,1756.6L1183.3,1751.8z"/><path fill="url(#b33)" stroke="url(#b33)" d="M1189,1756.6L1256.1,1787.7L1261.8,1790.3z"/><path fill="url(#b34)" stroke="url(#b34)" d="M1189,1756.6L1261.8,1790.3L1194.7,1755.7z"/><path fill="url(#b35)" stroke="url(#b35)" d="M1261.8,1790.3L1267.5,1793L1200.4,1761.6z"/><path fill="url(#b36)" stroke="url(#b36)" d="M1261.8,1790.3L1200.4,1761.6L1194.7,1755.7z"/><path fill="url(#b37)" stroke="url(#b37)" d="M1200.4,1761.6L1267.5,1793L1273.7,1795.9L1206.6,1761.6z"/><path fill="url(#b38)" stroke="url(#b38)" d="M1273.7,1795.9L1281.5,1799.5L1214.3,1769.8z"/><path fill="url(#b39)" stroke="url(#b39)" d="M1273.7,1795.9L1214.3,1769.8L1206.6,1761.6z"/><path fill="url(#b3a)" stroke="url(#b3a)" d="M1214.3,1769.8L1281.5,1799.5L1288.8,1802.9z"/><path fill="url(#b3b)" stroke="url(#b3b)" d="M1214.3,1769.8L1288.8,1802.9L1221.6,1770z"/><path fill="url(#b3c)" stroke="url(#b3c)" d="M1288.8,1802.9L1290.3,1803.6L1223.2,1777z"/><path fill="url(#b3d)" stroke="url(#b3d)" d="M1288.8,1802.9L1223.2,1777L1221.6,1770z"/><path fill="url(#b3e)" stroke="url(#b3e)" d="M1223.2,1777L1290.3,1803.6L1296.6,1806.5L1229.5,1780.9z"/><path fill="url(#b3f)" stroke="url(#b3f)" d="M1229.5,1780.9L1296.6,1806.5L1305,1810.4z"/><path fill="url(#b3g)" stroke="url(#b3g)" d="M1229.5,1780.9L1305,1810.4L1237.8,1778.8z"/><path fill="url(#b3h)" stroke="url(#b3h)" d="M1305,1810.4L1306.4,1811.1L1239.2,1782.3z"/><path fill="url(#b3i)" stroke="url(#b3i)" d="M1305,1810.4L1239.2,1782.3L1237.8,1778.8z"/><path fill="url(#b3j)" stroke="url(#b3j)" d="M1239.2,1782.3L1306.4,1811.1L1313.1,1814.2z"/><path fill="url(#b3k)" stroke="url(#b3k)" d="M1239.2,1782.3L1313.1,1814.2L1246,1781.3z"/><path fill="url(#b3l)" stroke="url(#b3l)" d="M1313.1,1814.2L1324.5,1819.5L1257.4,1788.3z"/><path fill="url(#b3m)" stroke="url(#b3m)" d="M1313.1,1814.2L1257.4,1788.3L1246,1781.3z"/><path fill="url(#b3n)" stroke="url(#b3n)" d="M1257.4,1788.3L1324.5,1819.5L1329.3,1821.7z"/><path fill="url(#b3o)" stroke="url(#b3o)" d="M1257.4,1788.3L1329.3,1821.7L1262.1,1786.6z"/><path fill="url(#b3p)" stroke="url(#b3p)" d="M1329.3,1821.7L1335.9,1824.8L1268.8,1792z"/><path fill="url(#b3q)" stroke="url(#b3q)" d="M1329.3,1821.7L1268.8,1792L1262.1,1786.6z"/><path fill="url(#b3r)" stroke="url(#b3r)" d="M1268.8,1792L1335.9,1824.8L1336.6,1825.1L1269.4,1788.2z"/><path fill="url(#b3s)" stroke="url(#b3s)" d="M1336.6,1825.1L1339.2,1826.4L1272.1,1795.9z"/><path fill="url(#b3t)" stroke="url(#b3t)" d="M1336.6,1825.1L1272.1,1795.9L1269.4,1788.2z"/><path fill="url(#b3u)" stroke="url(#b3u)" d="M1272.1,1795.9L1339.2,1826.4L1341.6,1827.5z"/><path fill="url(#b3v)" stroke="url(#b3v)" d="M1272.1,1795.9L1341.6,1827.5L1274.5,1793.4z"/><path fill="url(#b3w)" stroke="url(#b3w)" d="M1341.6,1827.5L1353,1832.8L1285.9,1807.3z"/><path fill="url(#b3x)" stroke="url(#b3x)" d="M1341.6,1827.5L1285.9,1807.3L1274.5,1793.4z"/><path fill="url(#b3y)" stroke="url(#b3y)" d="M1285.9,1807.3L1353,1832.8L1358.7,1835.4z"/><path fill="url(#b3z)" stroke="url(#b3z)" d="M1285.9,1807.3L1358.7,1835.4L1291.6,1807.3z"/><path fill="url(#b40)" stroke="url(#b40)" d="M1291.6,1807.3L1358.7,1835.4L1361.5,1836.7L1294.3,1811.7z"/><path fill="url(#b41)" stroke="url(#b41)" d="M1294.3,1811.7L1361.5,1836.7L1364.4,1838.1z"/><path fill="url(#b42)" stroke="url(#b42)" d="M1294.3,1811.7L1364.4,1838.1L1297.3,1807.5z"/><path fill="url(#b43)" stroke="url(#b43)" d="M1297.3,1807.5L1364.4,1838.1L1370.6,1841L1303.5,1813.7z"/><path fill="url(#b44)" stroke="url(#b44)" d="M1303.5,1813.7L1370.6,1841L1375.8,1843.4z"/><path fill="url(#b45)" stroke="url(#b45)" d="M1303.5,1813.7L1375.8,1843.4L1308.7,1810.8z"/><path fill="url(#b46)" stroke="url(#b46)" d="M1308.7,1810.8L1375.8,1843.4L1383.7,1847.1L1316.5,1812.9z"/><path fill="url(#b47)" stroke="url(#b47)" d="M1316.5,1812.9L1383.7,1847.1L1387.2,1848.9L1320.1,1819z"/><path fill="url(#b48)" stroke="url(#b48)" d="M1320.1,1819L1387.2,1848.9L1396.8,1854L1329.6,1824.9z"/><path fill="url(#b49)" stroke="url(#b49)" d="M1329.6,1824.9L1396.8,1854L1399,1855.2L1331.9,1829.9z"/><path fill="url(#b4a)" stroke="url(#b4a)" d="M1331.9,1829.9L1399,1855.2L1410.1,1861z"/><path fill="url(#b4b)" stroke="url(#b4b)" d="M1331.9,1829.9L1410.1,1861L1343,1833.7z"/><path fill="url(#b4c)" stroke="url(#b4c)" d="M1343,1833.7L1410.1,1861L1415.7,1864L1348.6,1838.7z"/><path fill="url(#b4d)" stroke="url(#b4d)" d="M1348.6,1838.7L1415.7,1864L1432.8,1873z"/><path fill="url(#b4e)" stroke="url(#b4e)" d="M1348.6,1838.7L1432.8,1873L1365.7,1842.5z"/><path fill="url(#b4f)" stroke="url(#b4f)" d="M1365.7,1842.5L1432.8,1873L1438.5,1876L1371.4,1851.9z"/><path fill="url(#b4g)" stroke="url(#b4g)" d="M1371.4,1851.9L1438.5,1876L1442.5,1878.1L1375.3,1853.5z"/><path fill="url(#b4h)" stroke="url(#b4h)" d="M1375.3,1853.5L1442.5,1878.1L1455.6,1897.3L1388.5,1883.2z"/><path fill="url(#b4i)" stroke="url(#b4i)" d="M755.6,1664.9L822.8,1596.3L827.3,1602.3L760.2,1667.3z"/><path fill="url(#b4j)" stroke="url(#b4j)" d="M827.3,1602.3L829.8,1599.2L762.7,1668.6z"/><path fill="url(#b4k)" stroke="url(#b4k)" d="M827.3,1602.3L762.7,1668.6L760.2,1667.3z"/><path fill="url(#b4l)" stroke="url(#b4l)" d="M762.7,1668.6L829.8,1599.2L842.9,1609.6L775.8,1675.4z"/><path fill="url(#b4m)" stroke="url(#b4m)" d="M775.8,1675.4L842.9,1609.6L854.3,1614.3L787.2,1681.3z"/><path fill="url(#b4n)" stroke="url(#b4n)" d="M787.2,1681.3L854.3,1614.3L860.5,1616.9L793.4,1682.8z"/><path fill="url(#b4o)" stroke="url(#b4o)" d="M860.5,1616.9L863.6,1613.1L796.5,1683.6z"/><path fill="url(#b4p)" stroke="url(#b4p)" d="M860.5,1616.9L796.5,1683.6L793.4,1682.8z"/><path fill="url(#b4q)" stroke="url(#b4q)" d="M796.5,1683.6L863.6,1613.1L875.4,1620.1L808.3,1686.5z"/><path fill="url(#b4r)" stroke="url(#b4r)" d="M808.3,1686.5L875.4,1620.1L886.8,1621.7L819.7,1689.3z"/><path fill="url(#b4s)" stroke="url(#b4s)" d="M886.8,1621.7L888.1,1618.2L821,1689.8z"/><path fill="url(#b4t)" stroke="url(#b4t)" d="M886.8,1621.7L821,1689.8L819.7,1689.3z"/><path fill="url(#b4u)" stroke="url(#b4u)" d="M821,1689.8L888.1,1618.2L894.9,1623.5L827.8,1693.6z"/><path fill="url(#b4v)" stroke="url(#b4v)" d="M827.8,1693.6L894.9,1623.5L898.2,1630L831.1,1695.5z"/><path fill="url(#b4w)" stroke="url(#b4w)" d="M831.1,1695.5L898.2,1630L903.9,1629.5L836.8,1698.7z"/><path fill="url(#b4x)" stroke="url(#b4x)" d="M836.8,1698.7L903.9,1629.5L909.6,1636.5L842.5,1701.9z"/><path fill="url(#b4y)" stroke="url(#b4y)" d="M842.5,1701.9L909.6,1636.5L915.3,1633.1L848.2,1705.1z"/><path fill="url(#b4z)" stroke="url(#b4z)" d="M848.2,1705.1L915.3,1633.1L921,1637.8L853.9,1708.3z"/><path fill="url(#b50)" stroke="url(#b50)" d="M853.9,1708.3L921,1637.8L923.9,1635.4L856.8,1709.9z"/><path fill="url(#b51)" stroke="url(#b51)" d="M856.8,1709.9L923.9,1635.4L928,1642.4L860.9,1712.2z"/><path fill="url(#b52)" stroke="url(#b52)" d="M860.9,1712.2L928,1642.4L932.4,1642.8L865.3,1714.7z"/><path fill="url(#b53)" stroke="url(#b53)" d="M865.3,1714.7L932.4,1642.8L935.3,1650.4L868.2,1716.3z"/><path fill="url(#b54)" stroke="url(#b54)" d="M935.3,1650.4L938.1,1647.5L871,1717.3z"/><path fill="url(#b55)" stroke="url(#b55)" d="M935.3,1650.4L871,1717.3L868.2,1716.3z"/><path fill="url(#b56)" stroke="url(#b56)" d="M871,1717.3L938.1,1647.5L943.8,1652.7L876.7,1719.2z"/><path fill="url(#b57)" stroke="url(#b57)" d="M876.7,1719.2L943.8,1652.7L955.2,1651L888.1,1723.1z"/><path fill="url(#b58)" stroke="url(#b58)" d="M888.1,1723.1L955.2,1651L973.2,1656L906.1,1729.2z"/><path fill="url(#b59)" stroke="url(#b59)" d="M906.1,1729.2L973.2,1656L978,1664L910.9,1730.9z"/><path fill="url(#b5a)" stroke="url(#b5a)" d="M910.9,1730.9L978,1664L983.7,1667.2L916.6,1732.8z"/><path fill="url(#b5b)" stroke="url(#b5b)" d="M916.6,1732.8L983.7,1667.2L989.4,1663.3L922.3,1734.8z"/><path fill="url(#b5c)" stroke="url(#b5c)" d="M922.3,1734.8L989.4,1663.3L997,1669.9L929.9,1737.4z"/><path fill="url(#b5d)" stroke="url(#b5d)" d="M997,1669.9L997.7,1665.7L930.6,1737.6z"/><path fill="url(#b5e)" stroke="url(#b5e)" d="M997,1669.9L930.6,1737.6L929.9,1737.4z"/><path fill="url(#b5f)" stroke="url(#b5f)" d="M930.6,1737.6L997.7,1665.7L1000.8,1673.1L933.7,1738.7z"/><path fill="url(#b5g)" stroke="url(#b5g)" d="M1000.8,1673.1L1001.8,1668.8L934.7,1739z"/><path fill="url(#b5h)" stroke="url(#b5h)" d="M1000.8,1673.1L934.7,1739L933.7,1738.7z"/><path fill="url(#b5i)" stroke="url(#b5i)" d="M934.7,1739L1001.8,1668.8L1012.2,1675L945.1,1742.6z"/><path fill="url(#b5j)" stroke="url(#b5j)" d="M945.1,1742.6L1012.2,1675L1016.4,1671.7L949.3,1744z"/><path fill="url(#b5k)" stroke="url(#b5k)" d="M949.3,1744L1016.4,1671.7L1017.9,1676L950.8,1744.9z"/><path fill="url(#b5l)" stroke="url(#b5l)" d="M950.8,1744.9L1017.9,1676L1025.7,1683L958.6,1749.5z"/><path fill="url(#b5m)" stroke="url(#b5m)" d="M958.6,1749.5L1025.7,1683L1031.9,1679.7L964.8,1753.2z"/><path fill="url(#b5n)" stroke="url(#b5n)" d="M964.8,1753.2L1031.9,1679.7L1040.4,1684.2L973.3,1758.3z"/><path fill="url(#b5o)" stroke="url(#b5o)" d="M973.3,1758.3L1040.4,1684.2L1046.4,1694.3L979.3,1761.9z"/><path fill="url(#b5p)" stroke="url(#b5p)" d="M979.3,1761.9L1046.4,1694.3L1047.5,1693.7L980.4,1762.5z"/><path fill="url(#b5q)" stroke="url(#b5q)" d="M980.4,1762.5L1047.5,1693.7L1051.8,1691.1L984.7,1763.6z"/><path fill="url(#b5r)" stroke="url(#b5r)" d="M984.7,1763.6L1051.8,1691.1L1057.8,1696L990.7,1765.2z"/><path fill="url(#b5s)" stroke="url(#b5s)" d="M990.7,1765.2L1057.8,1696L1066.3,1697.1L999.2,1767.3z"/><path fill="url(#b5t)" stroke="url(#b5t)" d="M999.2,1767.3L1066.3,1697.1L1069.2,1697.5L1002.1,1769.7z"/><path fill="url(#b5u)" stroke="url(#b5u)" d="M1002.1,1769.7L1069.2,1697.5L1085,1712.9L1017.9,1782.3z"/><path fill="url(#b5v)" stroke="url(#b5v)" d="M1017.9,1782.3L1085,1712.9L1092,1719.7L1024.9,1785.8z"/><path fill="url(#b5w)" stroke="url(#b5w)" d="M1092,1719.7L1092.9,1716L1025.8,1786.3z"/><path fill="url(#b5x)" stroke="url(#b5x)" d="M1092,1719.7L1025.8,1786.3L1024.9,1785.8z"/><path fill="url(#b5y)" stroke="url(#b5y)" d="M1025.8,1786.3L1092.9,1716L1097.7,1721.8L1030.6,1788.7z"/><path fill="url(#b5z)" stroke="url(#b5z)" d="M1030.6,1788.7L1097.7,1721.8L1105.7,1723.4L1038.6,1792.7z"/><path fill="url(#b60)" stroke="url(#b60)" d="M1038.6,1792.7L1105.7,1723.4L1109.1,1723L1042,1794.4z"/><path fill="url(#b61)" stroke="url(#b61)" d="M1042,1794.4L1109.1,1723L1109.9,1727.3L1042.8,1794.8z"/><path fill="url(#b62)" stroke="url(#b62)" d="M1042.8,1794.8L1109.9,1727.3L1116.1,1729.9L1049,1797.9z"/><path fill="url(#b63)" stroke="url(#b63)" d="M1049,1797.9L1116.1,1729.9L1120.5,1731.8L1053.4,1798.8z"/><path fill="url(#b64)" stroke="url(#b64)" d="M1053.4,1798.8L1120.5,1731.8L1126.2,1729.8L1059.1,1800z"/><path fill="url(#b65)" stroke="url(#b65)" d="M1059.1,1800L1126.2,1729.8L1128.7,1733.3L1061.6,1800.6z"/><path fill="url(#b66)" stroke="url(#b66)" d="M1061.6,1800.6L1128.7,1733.3L1134.9,1731.9L1067.8,1801.9z"/><path fill="url(#b67)" stroke="url(#b67)" d="M1067.8,1801.9L1134.9,1731.9L1143.3,1736L1076.2,1803.7z"/><path fill="url(#b68)" stroke="url(#b68)" d="M1076.2,1803.7L1143.3,1736L1148.9,1734.5L1081.8,1804.8z"/><path fill="url(#b69)" stroke="url(#b69)" d="M1081.8,1804.8L1148.9,1734.5L1152.6,1733.5L1085.5,1807.3z"/><path fill="url(#b6a)" stroke="url(#b6a)" d="M1085.5,1807.3L1152.6,1733.5L1165,1746.6L1097.9,1815.8z"/><path fill="url(#b6b)" stroke="url(#b6b)" d="M1165,1746.6L1166.2,1743.4L1099,1816.6z"/><path fill="url(#b6c)" stroke="url(#b6c)" d="M1165,1746.6L1099,1816.6L1097.9,1815.8z"/><path fill="url(#b6d)" stroke="url(#b6d)" d="M1099,1816.6L1166.2,1743.4L1168.2,1749.5L1101.1,1818z"/><path fill="url(#b6e)" stroke="url(#b6e)" d="M1101.1,1818L1168.2,1749.5L1171.9,1748.5L1104.7,1820.5z"/><path fill="url(#b6f)" stroke="url(#b6f)" d="M1104.7,1820.5L1171.9,1748.5L1172.7,1749.5L1105.6,1821.1z"/><path fill="url(#b6g)" stroke="url(#b6g)" d="M1105.6,1821.1L1172.7,1749.5L1177.6,1755.2L1110.4,1822.7z"/><path fill="url(#b6h)" stroke="url(#b6h)" d="M1110.4,1822.7L1177.6,1755.2L1183.3,1751.8L1116.1,1824.7z"/><path fill="url(#b6i)" stroke="url(#b6i)" d="M1116.1,1824.7L1183.3,1751.8L1189,1756.6L1121.8,1826.6z"/><path fill="url(#b6j)" stroke="url(#b6j)" d="M1121.8,1826.6L1189,1756.6L1194.7,1755.7L1127.5,1828.5z"/><path fill="url(#b6k)" stroke="url(#b6k)" d="M1127.5,1828.5L1194.7,1755.7L1200.4,1761.6L1133.2,1830.4z"/><path fill="url(#b6l)" stroke="url(#b6l)" d="M1133.2,1830.4L1200.4,1761.6L1206.6,1761.6L1139.5,1832.5z"/><path fill="url(#b6m)" stroke="url(#b6m)" d="M1139.5,1832.5L1206.6,1761.6L1214.3,1769.8L1147.2,1838.1z"/><path fill="url(#b6n)" stroke="url(#b6n)" d="M1147.2,1838.1L1214.3,1769.8L1221.6,1770L1154.5,1843.3z"/><path fill="url(#b6o)" stroke="url(#b6o)" d="M1154.5,1843.3L1221.6,1770L1223.2,1777L1156,1844.4z"/><path fill="url(#b6p)" stroke="url(#b6p)" d="M1156,1844.4L1223.2,1777L1226.8,1777.6L1159.7,1847z"/><path fill="url(#b6q)" stroke="url(#b6q)" d="M1159.7,1847L1226.8,1777.6L1229.5,1780.9L1162.4,1847.9z"/><path fill="url(#b6r)" stroke="url(#b6r)" d="M1162.4,1847.9L1229.5,1780.9L1237.8,1778.8L1170.7,1850.6z"/><path fill="url(#b6s)" stroke="url(#b6s)" d="M1170.7,1850.6L1237.8,1778.8L1239.2,1782.3L1172.1,1851.1z"/><path fill="url(#b6t)" stroke="url(#b6t)" d="M1172.1,1851.1L1239.2,1782.3L1246,1781.3L1178.8,1853.3z"/><path fill="url(#b6u)" stroke="url(#b6u)" d="M1178.8,1853.3L1246,1781.3L1257.4,1788.3L1190.2,1857z"/><path fill="url(#b6v)" stroke="url(#b6v)" d="M1190.2,1857L1257.4,1788.3L1262.1,1786.6L1195,1858.5z"/><path fill="url(#b6w)" stroke="url(#b6w)" d="M1195,1858.5L1262.1,1786.6L1268.8,1792L1201.6,1860.7z"/><path fill="url(#b6x)" stroke="url(#b6x)" d="M1268.8,1792L1269.4,1788.2L1202.3,1860.9z"/><path fill="url(#b6y)" stroke="url(#b6y)" d="M1268.8,1792L1202.3,1860.9L1201.6,1860.7z"/><path fill="url(#b6z)" stroke="url(#b6z)" d="M1202.3,1860.9L1269.4,1788.2L1272.1,1795.9L1205,1863.4z"/><path fill="url(#b70)" stroke="url(#b70)" d="M1272.1,1795.9L1274.5,1793.4L1207.3,1865.7z"/><path fill="url(#b71)" stroke="url(#b71)" d="M1272.1,1795.9L1207.3,1865.7L1205,1863.4z"/><path fill="url(#b72)" stroke="url(#b72)" d="M1207.3,1865.7L1274.5,1793.4L1283.9,1805L1216.8,1874.7z"/><path fill="url(#b73)" stroke="url(#b73)" d="M1216.8,1874.7L1283.9,1805L1285.9,1807.3L1218.7,1875.2z"/><path fill="url(#b74)" stroke="url(#b74)" d="M1218.7,1875.2L1285.9,1807.3L1291.6,1807.3L1224.4,1876.9z"/><path fill="url(#b75)" stroke="url(#b75)" d="M1224.4,1876.9L1291.6,1807.3L1294.3,1811.7L1227.2,1877.7z"/><path fill="url(#b76)" stroke="url(#b76)" d="M1294.3,1811.7L1297.3,1807.5L1230.1,1878.6z"/><path fill="url(#b77)" stroke="url(#b77)" d="M1294.3,1811.7L1230.1,1878.6L1227.2,1877.7z"/><path fill="url(#b78)" stroke="url(#b78)" d="M1230.1,1878.6L1297.3,1807.5L1303.5,1813.7L1236.4,1880.5z"/><path fill="url(#b79)" stroke="url(#b79)" d="M1236.4,1880.5L1303.5,1813.7L1308.7,1810.8L1241.5,1882z"/><path fill="url(#b7a)" stroke="url(#b7a)" d="M1241.5,1882L1308.7,1810.8L1316.5,1812.9L1249.4,1884.3z"/><path fill="url(#b7b)" stroke="url(#b7b)" d="M1249.4,1884.3L1316.5,1812.9L1320.1,1819L1252.9,1887.5z"/><path fill="url(#b7c)" stroke="url(#b7c)" d="M1252.9,1887.5L1320.1,1819L1329.6,1824.9L1262.5,1896.2z"/><path fill="url(#b7d)" stroke="url(#b7d)" d="M1262.5,1896.2L1329.6,1824.9L1331.9,1829.9L1264.8,1897.4z"/><path fill="url(#b7e)" stroke="url(#b7e)" d="M1264.8,1897.4L1331.9,1829.9L1343,1833.7L1275.9,1903.1z"/><path fill="url(#b7f)" stroke="url(#b7f)" d="M1275.9,1903.1L1343,1833.7L1348.6,1838.7L1281.4,1905.9z"/><path fill="url(#b7g)" stroke="url(#b7g)" d="M1281.4,1905.9L1348.6,1838.7L1365.7,1842.5L1298.5,1914.7z"/><path fill="url(#b7h)" stroke="url(#b7h)" d="M1298.5,1914.7L1365.7,1842.5L1371.4,1851.9L1304.2,1917.6z"/><path fill="url(#b7i)" stroke="url(#b7i)" d="M1304.2,1917.6L1371.4,1851.9L1375.3,1853.5L1308.2,1919.3z"/><path fill="url(#b7j)" stroke="url(#b7j)" d="M1308.2,1919.3L1375.3,1853.5L1388.5,1883.2z"/><path fill="url(#b7k)" stroke="url(#b7k)" d="M1308.2,1919.3L1388.5,1883.2L1321.3,1910.2z"/><path fill="url(#b7l)" stroke="url(#b7l)" d="M688.5,1759.3L755.6,1664.9L762.7,1668.6L695.6,1758.4z"/><path fill="url(#b7m)" stroke="url(#b7m)" d="M695.6,1758.4L762.7,1668.6L768.4,1671.6L701.3,1766.3z"/><path fill="url(#b7n)" stroke="url(#b7n)" d="M701.3,1766.3L768.4,1671.6L775.8,1675.4L708.7,1764.5z"/><path fill="url(#b7o)" stroke="url(#b7o)" d="M708.7,1764.5L775.8,1675.4L783,1679.1L715.9,1771.7z"/><path fill="url(#b7p)" stroke="url(#b7p)" d="M715.9,1771.7L783,1679.1L787.2,1681.3L720.1,1768.4z"/><path fill="url(#b7q)" stroke="url(#b7q)" d="M720.1,1768.4L787.2,1681.3L791.2,1682.3L724.1,1776.2z"/><path fill="url(#b7r)" stroke="url(#b7r)" d="M724.1,1776.2L791.2,1682.3L802.6,1685.1L735.5,1785.6z"/><path fill="url(#b7s)" stroke="url(#b7s)" d="M735.5,1785.6L802.6,1685.1L808.3,1686.5L741.2,1785z"/><path fill="url(#b7t)" stroke="url(#b7t)" d="M741.2,1785L808.3,1686.5L819.7,1689.3L752.6,1797.5z"/><path fill="url(#b7u)" stroke="url(#b7u)" d="M819.7,1689.3L821,1689.8L753.9,1794.1z"/><path fill="url(#b7v)" stroke="url(#b7v)" d="M819.7,1689.3L753.9,1794.1L752.6,1797.5z"/><path fill="url(#b7w)" stroke="url(#b7w)" d="M753.9,1794.1L821,1689.8L826.7,1693L759.6,1799z"/><path fill="url(#b7x)" stroke="url(#b7x)" d="M759.6,1799L826.7,1693L827.8,1693.6L760.7,1801.2z"/><path fill="url(#b7y)" stroke="url(#b7y)" d="M827.8,1693.6L831.1,1695.5L764,1794.9z"/><path fill="url(#b7z)" stroke="url(#b7z)" d="M827.8,1693.6L764,1794.9L760.7,1801.2z"/><path fill="url(#b80)" stroke="url(#b80)" d="M764,1794.9L831.1,1695.5L835,1697.7L767.9,1794.8z"/><path fill="url(#b81)" stroke="url(#b81)" d="M767.9,1794.8L835,1697.7L848.2,1705.1L781.1,1804.2z"/><path fill="url(#b82)" stroke="url(#b82)" d="M781.1,1804.2L848.2,1705.1L853.9,1708.3L786.8,1813.7z"/><path fill="url(#b83)" stroke="url(#b83)" d="M786.8,1813.7L853.9,1708.3L865.3,1714.7L798.2,1808.9z"/><path fill="url(#b84)" stroke="url(#b84)" d="M798.2,1808.9L865.3,1714.7L868.2,1716.3L801.1,1808.9z"/><path fill="url(#b85)" stroke="url(#b85)" d="M801.1,1808.9L868.2,1716.3L877.1,1719.3L810,1819.8z"/><path fill="url(#b86)" stroke="url(#b86)" d="M810,1819.8L877.1,1719.3L882.7,1721.2L815.6,1819.3z"/><path fill="url(#b87)" stroke="url(#b87)" d="M815.6,1819.3L882.7,1721.2L886.3,1722.5L819.2,1827z"/><path fill="url(#b88)" stroke="url(#b88)" d="M886.3,1722.5L888.1,1723.1L821,1822.5z"/><path fill="url(#b89)" stroke="url(#b89)" d="M886.3,1722.5L821,1822.5L819.2,1827z"/><path fill="url(#b8a)" stroke="url(#b8a)" d="M821,1822.5L888.1,1723.1L890,1723.7L822.9,1827.8z"/><path fill="url(#b8b)" stroke="url(#b8b)" d="M822.9,1827.8L890,1723.7L899.5,1727L832.4,1831z"/><path fill="url(#b8c)" stroke="url(#b8c)" d="M832.4,1831L899.5,1727L905.6,1729.1L838.5,1839.6z"/><path fill="url(#b8d)" stroke="url(#b8d)" d="M838.5,1839.6L905.6,1729.1L910.9,1730.9L843.8,1834.6z"/><path fill="url(#b8e)" stroke="url(#b8e)" d="M843.8,1834.6L910.9,1730.9L912.3,1731.4L845.2,1838.7z"/><path fill="url(#b8f)" stroke="url(#b8f)" d="M845.2,1838.7L912.3,1731.4L929.9,1737.4L862.8,1847.7z"/><path fill="url(#b8g)" stroke="url(#b8g)" d="M862.8,1847.7L929.9,1737.4L930.6,1737.6L863.5,1852.5z"/><path fill="url(#b8h)" stroke="url(#b8h)" d="M863.5,1852.5L930.6,1737.6L933.7,1738.7L866.6,1849.1z"/><path fill="url(#b8i)" stroke="url(#b8i)" d="M866.6,1849.1L933.7,1738.7L937.8,1740.1L870.7,1854.9z"/><path fill="url(#b8j)" stroke="url(#b8j)" d="M937.8,1740.1L939.4,1740.6L872.3,1852.1z"/><path fill="url(#b8k)" stroke="url(#b8k)" d="M937.8,1740.1L872.3,1852.1L870.7,1854.9z"/><path fill="url(#b8l)" stroke="url(#b8l)" d="M872.3,1852.1L939.4,1740.6L949.3,1744L882.2,1864.6z"/><path fill="url(#b8m)" stroke="url(#b8m)" d="M882.2,1864.6L949.3,1744L950.8,1744.9L883.7,1862.3z"/><path fill="url(#b8n)" stroke="url(#b8n)" d="M883.7,1862.3L950.8,1744.9L955.5,1747.7L888.4,1864.3z"/><path fill="url(#b8o)" stroke="url(#b8o)" d="M955.5,1747.7L956.5,1748.3L889.4,1860.1z"/><path fill="url(#b8p)" stroke="url(#b8p)" d="M955.5,1747.7L889.4,1860.1L888.4,1864.3z"/><path fill="url(#b8q)" stroke="url(#b8q)" d="M889.4,1860.1L956.5,1748.3L967.9,1755.1L900.8,1874.8z"/><path fill="url(#b8r)" stroke="url(#b8r)" d="M900.8,1874.8L967.9,1755.1L977,1760.5L909.9,1871.8z"/><path fill="url(#b8s)" stroke="url(#b8s)" d="M909.9,1871.8L977,1760.5L980.4,1762.5L913.3,1873.8z"/><path fill="url(#b8t)" stroke="url(#b8t)" d="M913.3,1873.8L980.4,1762.5L985,1763.7L917.9,1871.9z"/><path fill="url(#b8u)" stroke="url(#b8u)" d="M917.9,1871.9L985,1763.7L996.1,1766.5L929,1881.4z"/><path fill="url(#b8v)" stroke="url(#b8v)" d="M929,1881.4L996.1,1766.5L999.2,1767.3L932.1,1888.1z"/><path fill="url(#b8w)" stroke="url(#b8w)" d="M932.1,1888.1L999.2,1767.3L1007.8,1774.2L940.7,1886.4z"/><path fill="url(#b8x)" stroke="url(#b8x)" d="M940.7,1886.4L1007.8,1774.2L1010,1776L942.9,1884.1z"/><path fill="url(#b8y)" stroke="url(#b8y)" d="M942.9,1884.1L1010,1776L1013.5,1778.8L946.4,1888.2z"/><path fill="url(#b8z)" stroke="url(#b8z)" d="M946.4,1888.2L1013.5,1778.8L1017.9,1782.3L950.8,1882.9z"/><path fill="url(#b90)" stroke="url(#b90)" d="M950.8,1882.9L1017.9,1782.3L1019.6,1783.2L952.5,1888.4z"/><path fill="url(#b91)" stroke="url(#b91)" d="M952.5,1888.4L1019.6,1783.2L1024.9,1785.8L957.8,1885.1z"/><path fill="url(#b92)" stroke="url(#b92)" d="M957.8,1885.1L1024.9,1785.8L1029.3,1788L962.2,1891.2z"/><path fill="url(#b93)" stroke="url(#b93)" d="M1029.3,1788L1030.6,1788.7L963.5,1887.1z"/><path fill="url(#b94)" stroke="url(#b94)" d="M1029.3,1788L963.5,1887.1L962.2,1891.2z"/><path fill="url(#b95)" stroke="url(#b95)" d="M963.5,1887.1L1030.6,1788.7L1036.3,1791.6L969.2,1891.4z"/><path fill="url(#b96)" stroke="url(#b96)" d="M969.2,1891.4L1036.3,1791.6L1038.6,1792.7L971.5,1893.6z"/><path fill="url(#b97)" stroke="url(#b97)" d="M971.5,1893.6L1038.6,1792.7L1044.4,1795.6L977.3,1894z"/><path fill="url(#b98)" stroke="url(#b98)" d="M977.3,1894L1044.4,1795.6L1049,1797.9L981.9,1899.5z"/><path fill="url(#b99)" stroke="url(#b99)" d="M981.9,1899.5L1049,1797.9L1053.4,1798.8L986.3,1899.8z"/><path fill="url(#b9a)" stroke="url(#b9a)" d="M986.3,1899.8L1053.4,1798.8L1057.4,1799.7L990.3,1907.5z"/><path fill="url(#b9b)" stroke="url(#b9b)" d="M1057.4,1799.7L1059.1,1800L992,1903.5z"/><path fill="url(#b9c)" stroke="url(#b9c)" d="M1057.4,1799.7L992,1903.5L990.3,1907.5z"/><path fill="url(#b9d)" stroke="url(#b9d)" d="M992,1903.5L1059.1,1800L1061.6,1800.6L994.5,1910.7z"/><path fill="url(#b9e)" stroke="url(#b9e)" d="M994.5,1910.7L1061.6,1800.6L1064.8,1801.2L997.7,1913.5z"/><path fill="url(#b9f)" stroke="url(#b9f)" d="M997.7,1913.5L1064.8,1801.2L1070.5,1802.5L1003.4,1912.5z"/><path fill="url(#b9g)" stroke="url(#b9g)" d="M1003.4,1912.5L1070.5,1802.5L1074,1803.2L1006.9,1919.2z"/><path fill="url(#b9h)" stroke="url(#b9h)" d="M1006.9,1919.2L1074,1803.2L1076.2,1803.7L1009.1,1917z"/><path fill="url(#b9i)" stroke="url(#b9i)" d="M1009.1,1917L1076.2,1803.7L1081.9,1804.9L1014.8,1924.8z"/><path fill="url(#b9j)" stroke="url(#b9j)" d="M1014.8,1924.8L1081.9,1804.9L1085.5,1807.3L1018.4,1928.1z"/><path fill="url(#b9k)" stroke="url(#b9k)" d="M1018.4,1928.1L1085.5,1807.3L1087.6,1808.8L1020.5,1925.2z"/><path fill="url(#b9l)" stroke="url(#b9l)" d="M1020.5,1925.2L1087.6,1808.8L1094.2,1813.3L1027.1,1931.6z"/><path fill="url(#b9m)" stroke="url(#b9m)" d="M1027.1,1931.6L1094.2,1813.3L1097.9,1815.8L1030.8,1926.9z"/><path fill="url(#b9n)" stroke="url(#b9n)" d="M1030.8,1926.9L1097.9,1815.8L1105.6,1821.1L1038.5,1927.9z"/><path fill="url(#b9o)" stroke="url(#b9o)" d="M1038.5,1927.9L1105.6,1821.1L1110.4,1822.7L1043.3,1928.6z"/><path fill="url(#b9p)" stroke="url(#b9p)" d="M1043.3,1928.6L1110.4,1822.7L1121.8,1826.6L1054.7,1937.3z"/><path fill="url(#b9q)" stroke="url(#b9q)" d="M1054.7,1937.3L1121.8,1826.6L1127.5,1828.5L1060.4,1940.5z"/><path fill="url(#b9r)" stroke="url(#b9r)" d="M1060.4,1940.5L1127.5,1828.5L1133.7,1830.6L1066.6,1950z"/><path fill="url(#b9s)" stroke="url(#b9s)" d="M1133.7,1830.6L1135.3,1831.1L1068.2,1943.7z"/><path fill="url(#b9t)" stroke="url(#b9t)" d="M1133.7,1830.6L1068.2,1943.7L1066.6,1950z"/><path fill="url(#b9u)" stroke="url(#b9u)" d="M1068.2,1943.7L1135.3,1831.1L1136.2,1831.4L1069.1,1950.2z"/><path fill="url(#b9v)" stroke="url(#b9v)" d="M1069.1,1950.2L1136.2,1831.4L1139.5,1832.5L1072.4,1946.4z"/><path fill="url(#b9w)" stroke="url(#b9w)" d="M1072.4,1946.4L1139.5,1832.5L1145.7,1837L1078.6,1950z"/><path fill="url(#b9x)" stroke="url(#b9x)" d="M1145.7,1837L1147.2,1838.1L1080.1,1947z"/><path fill="url(#b9y)" stroke="url(#b9y)" d="M1145.7,1837L1080.1,1947L1078.6,1950z"/><path fill="url(#b9z)" stroke="url(#b9z)" d="M1080.1,1947L1147.2,1838.1L1150.3,1840.3L1083.2,1951.7z"/><path fill="url(#ba0)" stroke="url(#ba0)" d="M1083.2,1951.7L1150.3,1840.3L1154.5,1843.3L1087.4,1954.7z"/><path fill="url(#ba1)" stroke="url(#ba1)" d="M1087.4,1954.7L1154.5,1843.3L1159.7,1847L1092.6,1953z"/><path fill="url(#ba2)" stroke="url(#ba2)" d="M1092.6,1953L1159.7,1847L1167.4,1849.5L1100.3,1958.4z"/><path fill="url(#ba3)" stroke="url(#ba3)" d="M1100.3,1958.4L1167.4,1849.5L1172.1,1851.1L1105,1958.3z"/><path fill="url(#ba4)" stroke="url(#ba4)" d="M1172.1,1851.1L1173.1,1851.4L1106,1955.4z"/><path fill="url(#ba5)" stroke="url(#ba5)" d="M1172.1,1851.1L1106,1955.4L1105,1958.3z"/><path fill="url(#ba6)" stroke="url(#ba6)" d="M1106,1955.4L1173.1,1851.4L1178.8,1853.3L1111.7,1965.9z"/><path fill="url(#ba7)" stroke="url(#ba7)" d="M1111.7,1965.9L1178.8,1853.3L1184.5,1855.1L1117.4,1964.5z"/><path fill="url(#ba8)" stroke="url(#ba8)" d="M1117.4,1964.5L1184.5,1855.1L1190.2,1857L1123.1,1974.7z"/><path fill="url(#ba9)" stroke="url(#ba9)" d="M1123.1,1974.7L1190.2,1857L1195,1858.5L1127.9,1974.4z"/><path fill="url(#baa)" stroke="url(#baa)" d="M1127.9,1974.4L1195,1858.5L1195.9,1858.8L1128.8,1978.8z"/><path fill="url(#bab)" stroke="url(#bab)" d="M1128.8,1978.8L1195.9,1858.8L1199.1,1859.8L1132,1975.1z"/><path fill="url(#bac)" stroke="url(#bac)" d="M1132,1975.1L1199.1,1859.8L1202.3,1860.9L1135.2,1981.2z"/><path fill="url(#bad)" stroke="url(#bad)" d="M1135.2,1981.2L1202.3,1860.9L1207.3,1865.7L1140.2,1974.5z"/><path fill="url(#bae)" stroke="url(#bae)" d="M1140.2,1974.5L1207.3,1865.7L1209.1,1867.3L1142,1978.8z"/><path fill="url(#baf)" stroke="url(#baf)" d="M1142,1978.8L1209.1,1867.3L1216.8,1874.7L1149.7,1976z"/><path fill="url(#bag)" stroke="url(#bag)" d="M1149.7,1976L1216.8,1874.7L1218.7,1875.2L1151.6,1975.3z"/><path fill="url(#bah)" stroke="url(#bah)" d="M1151.6,1975.3L1218.7,1875.2L1224.4,1876.9L1157.3,1977.5z"/><path fill="url(#bai)" stroke="url(#bai)" d="M1157.3,1977.5L1224.4,1876.9L1226.2,1877.4L1159.1,1982.4z"/><path fill="url(#baj)" stroke="url(#baj)" d="M1226.2,1877.4L1227.2,1877.7L1160.1,1978.3z"/><path fill="url(#bak)" stroke="url(#bak)" d="M1226.2,1877.4L1160.1,1978.3L1159.1,1982.4z"/><path fill="url(#bal)" stroke="url(#bal)" d="M1160.1,1978.3L1227.2,1877.7L1230.1,1878.6L1163,1984z"/><path fill="url(#bam)" stroke="url(#bam)" d="M1163,1984L1230.1,1878.6L1236.4,1880.5L1169.3,1986.4z"/><path fill="url(#ban)" stroke="url(#ban)" d="M1169.3,1986.4L1236.4,1880.5L1241.5,1882L1174.4,1994.8z"/><path fill="url(#bao)" stroke="url(#bao)" d="M1174.4,1994.8L1241.5,1882L1247.2,1883.7L1180.1,1998.8z"/><path fill="url(#bap)" stroke="url(#bap)" d="M1247.2,1883.7L1249.4,1884.3L1182.3,1994.8z"/><path fill="url(#baq)" stroke="url(#baq)" d="M1247.2,1883.7L1182.3,1994.8L1180.1,1998.8z"/><path fill="url(#bar)" stroke="url(#bar)" d="M1182.3,1994.8L1249.4,1884.3L1252,1886.7L1184.9,1998.5z"/><path fill="url(#bas)" stroke="url(#bas)" d="M1252,1886.7L1253.6,1888.1L1186.5,1994.5z"/><path fill="url(#bat)" stroke="url(#bat)" d="M1252,1886.7L1186.5,1994.5L1184.9,1998.5z"/><path fill="url(#bau)" stroke="url(#bau)" d="M1186.5,1994.5L1253.6,1888.1L1258.6,1892.7L1191.5,1994.3z"/><path fill="url(#bav)" stroke="url(#bav)" d="M1191.5,1994.3L1258.6,1892.7L1262.5,1896.2L1195.4,1998.2z"/><path fill="url(#baw)" stroke="url(#baw)" d="M1195.4,1998.2L1262.5,1896.2L1264.8,1897.4L1197.7,1996.3z"/><path fill="url(#bax)" stroke="url(#bax)" d="M1197.7,1996.3L1264.8,1897.4L1270,1900.1L1202.9,2003z"/><path fill="url(#bay)" stroke="url(#bay)" d="M1202.9,2003L1270,1900.1L1281.4,1905.9L1214.3,2002.5z"/><path fill="url(#baz)" stroke="url(#baz)" d="M1214.3,2002.5L1281.4,1905.9L1292.8,1911.8L1225.7,2012.9z"/><path fill="url(#bb0)" stroke="url(#bb0)" d="M1225.7,2012.9L1292.8,1911.8L1298.5,1914.7L1231.4,2009z"/><path fill="url(#bb1)" stroke="url(#bb1)" d="M1231.4,2009L1298.5,1914.7L1304.2,1917.6L1237.1,2008.8z"/><path fill="url(#bb2)" stroke="url(#bb2)" d="M1237.1,2008.8L1304.2,1917.6L1308.2,1919.3L1241.1,2013.7z"/><path fill="url(#bb3)" stroke="url(#bb3)" d="M1241.1,2013.7L1308.2,1919.3L1321.3,1910.2L1254.2,2017.7z"/><path fill="url(#bb4)" stroke="url(#bb4)" d="M688.5,1759.3L691,1759L623.9,1650.8z"/><path fill="url(#bb5)" stroke="url(#bb5)" d="M688.5,1759.3L623.9,1650.8L621.4,1643z"/><path fill="url(#bb6)" stroke="url(#bb6)" d="M623.9,1650.8L691,1759L694.1,1758.6L627,1650.6z"/><path fill="url(#bb7)" stroke="url(#bb7)" d="M627,1650.6L694.1,1758.6L695.6,1758.4L628.5,1646.9z"/><path fill="url(#bb8)" stroke="url(#bb8)" d="M628.5,1646.9L695.6,1758.4L701.8,1766.2L634.7,1649.3z"/><path fill="url(#bb9)" stroke="url(#bb9)" d="M634.7,1649.3L701.8,1766.2L708.7,1764.5L641.6,1659.1z"/><path fill="url(#bba)" stroke="url(#bba)" d="M641.6,1659.1L708.7,1764.5L715.9,1771.7L648.8,1657.9z"/><path fill="url(#bbb)" stroke="url(#bbb)" d="M648.8,1657.9L715.9,1771.7L718.4,1769.7L651.3,1657.5z"/><path fill="url(#bbc)" stroke="url(#bbc)" d="M718.4,1769.7L720.1,1768.4L653,1666.8z"/><path fill="url(#bbd)" stroke="url(#bbd)" d="M718.4,1769.7L653,1666.8L651.3,1657.5z"/><path fill="url(#bbe)" stroke="url(#bbe)" d="M653,1666.8L720.1,1768.4L721.1,1770.3z"/><path fill="url(#bbf)" stroke="url(#bbf)" d="M653,1666.8L721.1,1770.3L654,1662.6z"/><path fill="url(#bbg)" stroke="url(#bbg)" d="M721.1,1770.3L724.1,1776.2L657,1664.4z"/><path fill="url(#bbh)" stroke="url(#bbh)" d="M721.1,1770.3L657,1664.4L654,1662.6z"/><path fill="url(#bbi)" stroke="url(#bbi)" d="M657,1664.4L724.1,1776.2L726.3,1778L659.2,1660.2z"/><path fill="url(#bbj)" stroke="url(#bbj)" d="M726.3,1778L729.8,1780.9L662.7,1668.5z"/><path fill="url(#bbk)" stroke="url(#bbk)" d="M726.3,1778L662.7,1668.5L659.2,1660.2z"/><path fill="url(#bbl)" stroke="url(#bbl)" d="M662.7,1668.5L729.8,1780.9L735.5,1785.6L668.4,1663.8z"/><path fill="url(#bbm)" stroke="url(#bbm)" d="M668.4,1663.8L735.5,1785.6L741.2,1785L674.1,1669z"/><path fill="url(#bbn)" stroke="url(#bbn)" d="M674.1,1669L741.2,1785L752.6,1797.5z"/><path fill="url(#bbo)" stroke="url(#bbo)" d="M674.1,1669L752.6,1797.5L685.5,1659.4z"/><path fill="url(#bbp)" stroke="url(#bbp)" d="M752.6,1797.5L753.9,1794.1L686.8,1666.7z"/><path fill="url(#bbq)" stroke="url(#bbq)" d="M752.6,1797.5L686.8,1666.7L685.5,1659.4z"/><path fill="url(#bbr)" stroke="url(#bbr)" d="M686.8,1666.7L753.9,1794.1L756.8,1796.6L689.7,1663.4z"/><path fill="url(#bbs)" stroke="url(#bbs)" d="M689.7,1663.4L756.8,1796.6L759.6,1799L692.5,1665.9z"/><path fill="url(#bbt)" stroke="url(#bbt)" d="M692.5,1665.9L759.6,1799L760.7,1801.2z"/><path fill="url(#bbu)" stroke="url(#bbu)" d="M692.5,1665.9L760.7,1801.2L693.6,1662.3z"/><path fill="url(#bbv)" stroke="url(#bbv)" d="M693.6,1662.3L760.7,1801.2L764,1794.9z"/><path fill="url(#bbw)" stroke="url(#bbw)" d="M693.6,1662.3L764,1794.9L696.9,1668.9z"/><path fill="url(#bbx)" stroke="url(#bbx)" d="M764,1794.9L767.9,1794.8L700.8,1676.8z"/><path fill="url(#bby)" stroke="url(#bby)" d="M764,1794.9L700.8,1676.8L696.9,1668.9z"/><path fill="url(#bbz)" stroke="url(#bbz)" d="M700.8,1676.8L767.9,1794.8L781.1,1804.2L714,1689.2z"/><path fill="url(#bc0)" stroke="url(#bc0)" d="M714,1689.2L781.1,1804.2L783.4,1808L716.3,1691.4z"/><path fill="url(#bc1)" stroke="url(#bc1)" d="M716.3,1691.4L783.4,1808L786.8,1813.7L719.7,1685.5z"/><path fill="url(#bc2)" stroke="url(#bc2)" d="M786.8,1813.7L789.7,1813.7L722.6,1691.1z"/><path fill="url(#bc3)" stroke="url(#bc3)" d="M786.8,1813.7L722.6,1691.1L719.7,1685.5z"/><path fill="url(#bc4)" stroke="url(#bc4)" d="M722.6,1691.1L789.7,1813.7L798.2,1808.9L731.1,1698z"/><path fill="url(#bc5)" stroke="url(#bc5)" d="M731.1,1698L798.2,1808.9L801.1,1808.9L734,1697.4z"/><path fill="url(#bc6)" stroke="url(#bc6)" d="M734,1697.4L801.1,1808.9L810,1819.8L742.9,1698.3z"/><path fill="url(#bc7)" stroke="url(#bc7)" d="M742.9,1698.3L810,1819.8L815.6,1819.3L748.5,1701z"/><path fill="url(#bc8)" stroke="url(#bc8)" d="M815.6,1819.3L819.2,1827L752.1,1702.7z"/><path fill="url(#bc9)" stroke="url(#bc9)" d="M815.6,1819.3L752.1,1702.7L748.5,1701z"/><path fill="url(#bca)" stroke="url(#bca)" d="M752.1,1702.7L819.2,1827L821,1822.5L753.9,1698.8z"/><path fill="url(#bcb)" stroke="url(#bcb)" d="M753.9,1698.8L821,1822.5L822.9,1827.8L755.8,1705.5z"/><path fill="url(#bcc)" stroke="url(#bcc)" d="M755.8,1705.5L822.9,1827.8L826.7,1829.1L759.6,1697.5z"/><path fill="url(#bcd)" stroke="url(#bcd)" d="M826.7,1829.1L829.1,1829.9L762,1704z"/><path fill="url(#bce)" stroke="url(#bce)" d="M826.7,1829.1L762,1704L759.6,1697.5z"/><path fill="url(#bcf)" stroke="url(#bcf)" d="M762,1704L829.1,1829.9L832.4,1831L765.3,1704.4z"/><path fill="url(#bcg)" stroke="url(#bcg)" d="M765.3,1704.4L832.4,1831L838.5,1839.6L771.4,1697.9z"/><path fill="url(#bch)" stroke="url(#bch)" d="M771.4,1697.9L838.5,1839.6L843.8,1834.6L776.7,1704.5z"/><path fill="url(#bci)" stroke="url(#bci)" d="M843.8,1834.6L845.2,1838.7L778.1,1706.2z"/><path fill="url(#bcj)" stroke="url(#bcj)" d="M843.8,1834.6L778.1,1706.2L776.7,1704.5z"/><path fill="url(#bck)" stroke="url(#bck)" d="M778.1,1706.2L845.2,1838.7L849.5,1840.9L782.4,1711.6z"/><path fill="url(#bcl)" stroke="url(#bcl)" d="M782.4,1711.6L849.5,1840.9L855.7,1844.1L788.6,1716.4z"/><path fill="url(#bcm)" stroke="url(#bcm)" d="M788.6,1716.4L855.7,1844.1L860.9,1846.8L793.8,1718.3z"/><path fill="url(#bcn)" stroke="url(#bcn)" d="M793.8,1718.3L860.9,1846.8L862.8,1847.7L795.7,1715z"/><path fill="url(#bco)" stroke="url(#bco)" d="M862.8,1847.7L863.5,1852.5L796.4,1713.6z"/><path fill="url(#bcp)" stroke="url(#bcp)" d="M862.8,1847.7L796.4,1713.6L795.7,1715z"/><path fill="url(#bcq)" stroke="url(#bcq)" d="M796.4,1713.6L863.5,1852.5L866.6,1849.1L799.5,1718.4z"/><path fill="url(#bcr)" stroke="url(#bcr)" d="M799.5,1718.4L866.6,1849.1L867.6,1850.5L800.5,1720z"/><path fill="url(#bcs)" stroke="url(#bcs)" d="M800.5,1720L867.6,1850.5L870.7,1854.9L803.6,1720.4z"/><path fill="url(#bct)" stroke="url(#bct)" d="M803.6,1720.4L870.7,1854.9L872.3,1852.1L805.2,1720.6z"/><path fill="url(#bcu)" stroke="url(#bcu)" d="M805.2,1720.6L872.3,1852.1L878,1859.5L810.9,1721.5z"/><path fill="url(#bcv)" stroke="url(#bcv)" d="M878,1859.5L882.2,1864.6L815.1,1730z"/><path fill="url(#bcw)" stroke="url(#bcw)" d="M878,1859.5L815.1,1730L810.9,1721.5z"/><path fill="url(#bcx)" stroke="url(#bcx)" d="M815.1,1730L882.2,1864.6L883.7,1862.3L816.6,1730.6z"/><path fill="url(#bcy)" stroke="url(#bcy)" d="M816.6,1730.6L883.7,1862.3L888.4,1864.3L821.3,1732.4z"/><path fill="url(#bcz)" stroke="url(#bcz)" d="M821.3,1732.4L888.4,1864.3L889.4,1860.1L822.3,1729.8z"/><path fill="url(#bd0)" stroke="url(#bd0)" d="M822.3,1729.8L889.4,1860.1L895.1,1867.4L828,1734.2z"/><path fill="url(#bd1)" stroke="url(#bd1)" d="M828,1734.2L895.1,1867.4L897.7,1870.8L830.6,1729.1z"/><path fill="url(#bd2)" stroke="url(#bd2)" d="M830.6,1729.1L897.7,1870.8L900.8,1874.8L833.7,1732.5z"/><path fill="url(#bd3)" stroke="url(#bd3)" d="M833.7,1732.5L900.8,1874.8L902.6,1874.2L835.5,1734.5z"/><path fill="url(#bd4)" stroke="url(#bd4)" d="M835.5,1734.5L902.6,1874.2L909.9,1871.8L842.8,1733.6z"/><path fill="url(#bd5)" stroke="url(#bd5)" d="M909.9,1871.8L912.2,1873.1L845.1,1740.6z"/><path fill="url(#bd6)" stroke="url(#bd6)" d="M909.9,1871.8L845.1,1740.6L842.8,1733.6z"/><path fill="url(#bd7)" stroke="url(#bd7)" d="M845.1,1740.6L912.2,1873.1L913.3,1873.8L846.2,1736.1z"/><path fill="url(#bd8)" stroke="url(#bd8)" d="M846.2,1736.1L913.3,1873.8L917.9,1871.9L850.8,1742.5z"/><path fill="url(#bd9)" stroke="url(#bd9)" d="M850.8,1742.5L917.9,1871.9L923.6,1876.8L856.5,1743.8z"/><path fill="url(#bda)" stroke="url(#bda)" d="M856.5,1743.8L923.6,1876.8L929,1881.4L861.9,1737z"/><path fill="url(#bdb)" stroke="url(#bdb)" d="M929,1881.4L932.1,1888.1L865,1745.3z"/><path fill="url(#bdc)" stroke="url(#bdc)" d="M929,1881.4L865,1745.3L861.9,1737z"/><path fill="url(#bdd)" stroke="url(#bdd)" d="M865,1745.3L932.1,1888.1L940.7,1886.4L873.6,1748.5z"/><path fill="url(#bde)" stroke="url(#bde)" d="M940.7,1886.4L942.9,1884.1L875.8,1753.5z"/><path fill="url(#bdf)" stroke="url(#bdf)" d="M940.7,1886.4L875.8,1753.5L873.6,1748.5z"/><path fill="url(#bdg)" stroke="url(#bdg)" d="M942.9,1884.1L946.4,1888.2L879.3,1761.5z"/><path fill="url(#bdh)" stroke="url(#bdh)" d="M942.9,1884.1L879.3,1761.5L875.8,1753.5z"/><path fill="url(#bdi)" stroke="url(#bdi)" d="M879.3,1761.5L946.4,1888.2L948.8,1885.4L881.7,1757.2z"/><path fill="url(#bdj)" stroke="url(#bdj)" d="M881.7,1757.2L948.8,1885.4L950.8,1882.9L883.7,1758.6z"/><path fill="url(#bdk)" stroke="url(#bdk)" d="M950.8,1882.9L952.5,1888.4L885.4,1760.6z"/><path fill="url(#bdl)" stroke="url(#bdl)" d="M950.8,1882.9L885.4,1760.6L883.7,1758.6z"/><path fill="url(#bdm)" stroke="url(#bdm)" d="M885.4,1760.6L952.5,1888.4L957.8,1885.1L890.7,1768.7z"/><path fill="url(#bdn)" stroke="url(#bdn)" d="M890.7,1768.7L957.8,1885.1L959.1,1886.9L892,1765.5z"/><path fill="url(#bdo)" stroke="url(#bdo)" d="M892,1765.5L959.1,1886.9L962.2,1891.2L895.1,1768.3z"/><path fill="url(#bdp)" stroke="url(#bdp)" d="M895.1,1768.3L962.2,1891.2L963.5,1887.1L896.4,1769.5z"/><path fill="url(#bdq)" stroke="url(#bdq)" d="M896.4,1769.5L963.5,1887.1L969.2,1891.4L902.1,1761.7z"/><path fill="url(#bdr)" stroke="url(#bdr)" d="M902.1,1761.7L969.2,1891.4L971.5,1893.6L904.4,1764.4z"/><path fill="url(#bds)" stroke="url(#bds)" d="M904.4,1764.4L971.5,1893.6L974.9,1893.8L907.8,1768.4z"/><path fill="url(#bdt)" stroke="url(#bdt)" d="M974.9,1893.8L975.7,1893.9L908.6,1773.3z"/><path fill="url(#bdu)" stroke="url(#bdu)" d="M974.9,1893.8L908.6,1773.3L907.8,1768.4z"/><path fill="url(#bdv)" stroke="url(#bdv)" d="M908.6,1773.3L975.7,1893.9L977.3,1894L910.2,1770.9z"/><path fill="url(#bdw)" stroke="url(#bdw)" d="M910.2,1770.9L977.3,1894L980.6,1897.9L913.5,1774.7z"/><path fill="url(#bdx)" stroke="url(#bdx)" d="M980.6,1897.9L981.9,1899.5L914.8,1779.5z"/><path fill="url(#bdy)" stroke="url(#bdy)" d="M980.6,1897.9L914.8,1779.5L913.5,1774.7z"/><path fill="url(#bdz)" stroke="url(#bdz)" d="M914.8,1779.5L981.9,1899.5L986.3,1899.8L919.2,1775.9z"/><path fill="url(#be0)" stroke="url(#be0)" d="M986.3,1899.8L990.3,1907.5L923.2,1778.3z"/><path fill="url(#be1)" stroke="url(#be1)" d="M986.3,1899.8L923.2,1778.3L919.2,1775.9z"/><path fill="url(#be2)" stroke="url(#be2)" d="M923.2,1778.3L990.3,1907.5L992,1903.5L924.9,1779.4z"/><path fill="url(#be3)" stroke="url(#be3)" d="M992,1903.5L994.5,1910.7L927.4,1780.9z"/><path fill="url(#be4)" stroke="url(#be4)" d="M992,1903.5L927.4,1780.9L924.9,1779.4z"/><path fill="url(#be5)" stroke="url(#be5)" d="M927.4,1780.9L994.5,1910.7L997.7,1913.5L930.6,1779.5z"/><path fill="url(#be6)" stroke="url(#be6)" d="M930.6,1779.5L997.7,1913.5L1003.4,1912.5L936.3,1787z"/><path fill="url(#be7)" stroke="url(#be7)" d="M1003.4,1912.5L1006.9,1919.2L939.8,1783.9z"/><path fill="url(#be8)" stroke="url(#be8)" d="M1003.4,1912.5L939.8,1783.9L936.3,1787z"/><path fill="url(#be9)" stroke="url(#be9)" d="M939.8,1783.9L1006.9,1919.2L1009.1,1917L942,1787.7z"/><path fill="url(#bea)" stroke="url(#bea)" d="M942,1787.7L1009.1,1917L1012.1,1922.4L945,1782.2z"/><path fill="url(#beb)" stroke="url(#beb)" d="M945,1782.2L1012.1,1922.4L1014.8,1924.8L947.7,1785.6z"/><path fill="url(#bec)" stroke="url(#bec)" d="M947.7,1785.6L1014.8,1924.8L1018.4,1928.1L951.3,1789.8z"/><path fill="url(#bed)" stroke="url(#bed)" d="M951.3,1789.8L1018.4,1928.1L1020.5,1925.2L953.4,1784.9z"/><path fill="url(#bee)" stroke="url(#bee)" d="M953.4,1784.9L1020.5,1925.2L1024.6,1929.1L957.5,1792.2z"/><path fill="url(#bef)" stroke="url(#bef)" d="M957.5,1792.2L1024.6,1929.1L1026.2,1930.7L959.1,1785.8z"/><path fill="url(#beg)" stroke="url(#beg)" d="M959.1,1785.8L1026.2,1930.7L1027.1,1931.6L960,1787.2z"/><path fill="url(#beh)" stroke="url(#beh)" d="M960,1787.2L1027.1,1931.6L1030.8,1926.9L963.7,1792.8z"/><path fill="url(#bei)" stroke="url(#bei)" d="M963.7,1792.8L1030.8,1926.9L1034,1927.3L966.9,1793z"/><path fill="url(#bej)" stroke="url(#bej)" d="M966.9,1793L1034,1927.3L1037.6,1927.8L970.5,1799.9z"/><path fill="url(#bek)" stroke="url(#bek)" d="M970.5,1799.9L1037.6,1927.8L1043.3,1928.6L976.2,1801.1z"/><path fill="url(#bel)" stroke="url(#bel)" d="M976.2,1801.1L1043.3,1928.6L1049.5,1935L982.4,1802.3z"/><path fill="url(#bem)" stroke="url(#bem)" d="M982.4,1802.3L1049.5,1935L1054.7,1937.3L987.6,1807.3z"/><path fill="url(#ben)" stroke="url(#ben)" d="M987.6,1807.3L1054.7,1937.3L1060.4,1940.5L993.3,1806.8z"/><path fill="url(#beo)" stroke="url(#beo)" d="M993.3,1806.8L1060.4,1940.5L1066.6,1950L999.5,1806.3z"/><path fill="url(#bep)" stroke="url(#bep)" d="M999.5,1806.3L1066.6,1950L1068.2,1943.7L1001.1,1808.5z"/><path fill="url(#beq)" stroke="url(#beq)" d="M1068.2,1943.7L1069.1,1950.2L1002,1809.9z"/><path fill="url(#ber)" stroke="url(#ber)" d="M1068.2,1943.7L1002,1809.9L1001.1,1808.5z"/><path fill="url(#bes)" stroke="url(#bes)" d="M1002,1809.9L1069.1,1950.2L1072.4,1946.4L1005.3,1810.9z"/><path fill="url(#bet)" stroke="url(#bet)" d="M1005.3,1810.9L1072.4,1946.4L1078.6,1950L1011.5,1813.8z"/><path fill="url(#beu)" stroke="url(#beu)" d="M1011.5,1813.8L1078.6,1950L1080.1,1947L1013,1814.5z"/><path fill="url(#bev)" stroke="url(#bev)" d="M1080.1,1947L1083.2,1951.7L1016.1,1820.6z"/><path fill="url(#bew)" stroke="url(#bew)" d="M1080.1,1947L1016.1,1820.6L1013,1814.5z"/><path fill="url(#bex)" stroke="url(#bex)" d="M1016.1,1820.6L1083.2,1951.7L1087.4,1954.7L1020.3,1819.2z"/><path fill="url(#bey)" stroke="url(#bey)" d="M1087.4,1954.7L1088.9,1954.2L1021.8,1824.1z"/><path fill="url(#bez)" stroke="url(#bez)" d="M1087.4,1954.7L1021.8,1824.1L1020.3,1819.2z"/><path fill="url(#bf0)" stroke="url(#bf0)" d="M1021.8,1824.1L1088.9,1954.2L1092.6,1953L1025.5,1824z"/><path fill="url(#bf1)" stroke="url(#bf1)" d="M1025.5,1824L1092.6,1953L1100.3,1958.4L1033.2,1823.6z"/><path fill="url(#bf2)" stroke="url(#bf2)" d="M1033.2,1823.6L1100.3,1958.4L1101.5,1958.4L1034.4,1823.6z"/><path fill="url(#bf3)" stroke="url(#bf3)" d="M1101.5,1958.4L1105,1958.3L1037.9,1832.7z"/><path fill="url(#bf4)" stroke="url(#bf4)" d="M1101.5,1958.4L1037.9,1832.7L1034.4,1823.6z"/><path fill="url(#bf5)" stroke="url(#bf5)" d="M1037.9,1832.7L1105,1958.3L1106,1955.4L1038.9,1829.8z"/><path fill="url(#bf6)" stroke="url(#bf6)" d="M1038.9,1829.8L1106,1955.4L1111.7,1965.9L1044.6,1833.1z"/><path fill="url(#bf7)" stroke="url(#bf7)" d="M1044.6,1833.1L1111.7,1965.9L1117.4,1964.5L1050.3,1836.3z"/><path fill="url(#bf8)" stroke="url(#bf8)" d="M1050.3,1836.3L1117.4,1964.5L1123.1,1974.7L1056,1833z"/><path fill="url(#bf9)" stroke="url(#bf9)" d="M1056,1833L1123.1,1974.7L1127.9,1974.4L1060.8,1830.3z"/><path fill="url(#bfa)" stroke="url(#bfa)" d="M1060.8,1830.3L1127.9,1974.4L1128.8,1978.8L1061.7,1835z"/><path fill="url(#bfb)" stroke="url(#bfb)" d="M1061.7,1835L1128.8,1978.8L1132,1975.1L1064.9,1828.5z"/><path fill="url(#bfc)" stroke="url(#bfc)" d="M1132,1975.1L1134.5,1979.9L1067.4,1835.1z"/><path fill="url(#bfd)" stroke="url(#bfd)" d="M1132,1975.1L1067.4,1835.1L1064.9,1828.5z"/><path fill="url(#bfe)" stroke="url(#bfe)" d="M1067.4,1835.1L1134.5,1979.9L1135.2,1981.2L1068.1,1833.1z"/><path fill="url(#bff)" stroke="url(#bff)" d="M1068.1,1833.1L1135.2,1981.2L1140.2,1974.5L1073.1,1840.5z"/><path fill="url(#bfg)" stroke="url(#bfg)" d="M1140.2,1974.5L1142,1978.8L1074.9,1838.9z"/><path fill="url(#bfh)" stroke="url(#bfh)" d="M1140.2,1974.5L1074.9,1838.9L1073.1,1840.5z"/><path fill="url(#bfi)" stroke="url(#bfi)" d="M1074.9,1838.9L1142,1978.8L1151.6,1975.3L1084.5,1852.8z"/><path fill="url(#bfj)" stroke="url(#bfj)" d="M1084.5,1852.8L1151.6,1975.3L1157.3,1977.5L1090.2,1856.7z"/><path fill="url(#bfk)" stroke="url(#bfk)" d="M1157.3,1977.5L1159.1,1982.4L1092,1857.9z"/><path fill="url(#bfl)" stroke="url(#bfl)" d="M1157.3,1977.5L1092,1857.9L1090.2,1856.7z"/><path fill="url(#bfm)" stroke="url(#bfm)" d="M1092,1857.9L1159.1,1982.4L1160.1,1978.3L1093,1857.6z"/><path fill="url(#bfn)" stroke="url(#bfn)" d="M1160.1,1978.3L1163,1984L1095.9,1856.6z"/><path fill="url(#bfo)" stroke="url(#bfo)" d="M1160.1,1978.3L1095.9,1856.6L1093,1857.6z"/><path fill="url(#bfp)" stroke="url(#bfp)" d="M1095.9,1856.6L1163,1984L1169.3,1986.4L1102.2,1864.4z"/><path fill="url(#bfq)" stroke="url(#bfq)" d="M1102.2,1864.4L1169.3,1986.4L1174.4,1994.8L1107.3,1863.8z"/><path fill="url(#bfr)" stroke="url(#bfr)" d="M1107.3,1863.8L1174.4,1994.8L1180.1,1998.8L1113,1863.1z"/><path fill="url(#bfs)" stroke="url(#bfs)" d="M1113,1863.1L1180.1,1998.8L1182.3,1994.8L1115.2,1862.8z"/><path fill="url(#bft)" stroke="url(#bft)" d="M1115.2,1862.8L1182.3,1994.8L1184.9,1998.5L1117.8,1862.5z"/><path fill="url(#bfu)" stroke="url(#bfu)" d="M1117.8,1862.5L1184.9,1998.5L1186.5,1994.5L1119.4,1862.4z"/><path fill="url(#bfv)" stroke="url(#bfv)" d="M1119.4,1862.4L1186.5,1994.5L1191.5,1994.3L1124.4,1871.3z"/><path fill="url(#bfw)" stroke="url(#bfw)" d="M1124.4,1871.3L1191.5,1994.3L1195.4,1998.2L1128.3,1869z"/><path fill="url(#bfx)" stroke="url(#bfx)" d="M1195.4,1998.2L1197.7,1996.3L1130.6,1876.3z"/><path fill="url(#bfy)" stroke="url(#bfy)" d="M1195.4,1998.2L1130.6,1876.3L1128.3,1869z"/><path fill="url(#bfz)" stroke="url(#bfz)" d="M1130.6,1876.3L1197.7,1996.3L1202.9,2003L1135.8,1868.9z"/><path fill="url(#bg0)" stroke="url(#bg0)" d="M1135.8,1868.9L1202.9,2003L1208.6,2002.7L1141.5,1870.6z"/><path fill="url(#bg1)" stroke="url(#bg1)" d="M1141.5,1870.6L1208.6,2002.7L1209.3,2002.7L1142.2,1868.1z"/><path fill="url(#bg2)" stroke="url(#bg2)" d="M1209.3,2002.7L1214.3,2002.5L1147.2,1877.5z"/><path fill="url(#bg3)" stroke="url(#bg3)" d="M1209.3,2002.7L1147.2,1877.5L1142.2,1868.1z"/><path fill="url(#bg4)" stroke="url(#bg4)" d="M1214.3,2002.5L1216.2,2004.2L1149.1,1881.1z"/><path fill="url(#bg5)" stroke="url(#bg5)" d="M1214.3,2002.5L1149.1,1881.1L1147.2,1877.5z"/><path fill="url(#bg6)" stroke="url(#bg6)" d="M1149.1,1881.1L1216.2,2004.2L1220,2007.7L1152.9,1877.6z"/><path fill="url(#bg7)" stroke="url(#bg7)" d="M1152.9,1877.6L1220,2007.7L1225.7,2012.9L1158.6,1886.3z"/><path fill="url(#bg8)" stroke="url(#bg8)" d="M1158.6,1886.3L1225.7,2012.9L1228.3,2011.1L1161.2,1890.2z"/><path fill="url(#bg9)" stroke="url(#bg9)" d="M1161.2,1890.2L1228.3,2011.1L1231.4,2009L1164.3,1891.2z"/><path fill="url(#bga)" stroke="url(#bga)" d="M1164.3,1891.2L1231.4,2009L1237.1,2008.8L1170,1893z"/><path fill="url(#bgb)" stroke="url(#bgb)" d="M1237.1,2008.8L1241.1,2013.7L1174,1899.9z"/><path fill="url(#bgc)" stroke="url(#bgc)" d="M1237.1,2008.8L1174,1899.9L1170,1893z"/><path fill="url(#bgd)" stroke="url(#bgd)" d="M1241.1,2013.7L1244.1,2014.6L1177,1905.1z"/><path fill="url(#bge)" stroke="url(#bge)" d="M1241.1,2013.7L1177,1905.1L1174,1899.9z"/><path fill="url(#bgf)" stroke="url(#bgf)" d="M1177,1905.1L1244.1,2014.6L1248.5,2015.9L1181.4,1904.2z"/><path fill="url(#bgg)" stroke="url(#bgg)" d="M1181.4,1904.2L1248.5,2015.9L1254.2,2017.7L1187.1,1911.3z"/><path fill="url(#bgh)" stroke="url(#bgh)" d="M554.3,1793.8L621.4,1643L623.9,1650.8L556.7,1790.8z"/><path fill="url(#bgi)" stroke="url(#bgi)" d="M556.7,1790.8L623.9,1650.8L626,1650.7L558.9,1788.2z"/><path fill="url(#bgj)" stroke="url(#bgj)" d="M558.9,1788.2L626,1650.7L627,1650.6L559.8,1789.2z"/><path fill="url(#bgk)" stroke="url(#bgk)" d="M627,1650.6L628.5,1646.9L561.4,1790.7z"/><path fill="url(#bgl)" stroke="url(#bgl)" d="M627,1650.6L561.4,1790.7L559.8,1789.2z"/><path fill="url(#bgm)" stroke="url(#bgm)" d="M561.4,1790.7L628.5,1646.9L634.7,1649.3L567.6,1797z"/><path fill="url(#bgn)" stroke="url(#bgn)" d="M567.6,1797L634.7,1649.3L641.6,1659.1L574.5,1792.1z"/><path fill="url(#bgo)" stroke="url(#bgo)" d="M574.5,1792.1L641.6,1659.1L651.3,1657.5L584.2,1798.2z"/><path fill="url(#bgp)" stroke="url(#bgp)" d="M584.2,1798.2L651.3,1657.5L653,1666.8L585.9,1799.3z"/><path fill="url(#bgq)" stroke="url(#bgq)" d="M653,1666.8L654,1662.6L586.8,1800.7z"/><path fill="url(#bgr)" stroke="url(#bgr)" d="M653,1666.8L586.8,1800.7L585.9,1799.3z"/><path fill="url(#bgs)" stroke="url(#bgs)" d="M586.8,1800.7L654,1662.6L657,1664.4L589.9,1805.3z"/><path fill="url(#bgt)" stroke="url(#bgt)" d="M589.9,1805.3L657,1664.4L659.2,1660.2L592,1808.6z"/><path fill="url(#bgu)" stroke="url(#bgu)" d="M592,1808.6L659.2,1660.2L662.7,1668.5L595.6,1814z"/><path fill="url(#bgv)" stroke="url(#bgv)" d="M595.6,1814L662.7,1668.5L668.4,1663.8L601.3,1822.7z"/><path fill="url(#bgw)" stroke="url(#bgw)" d="M601.3,1822.7L668.4,1663.8L674.1,1669L607,1831.4z"/><path fill="url(#bgx)" stroke="url(#bgx)" d="M607,1831.4L674.1,1669L685.5,1659.4L618.4,1848.7z"/><path fill="url(#bgy)" stroke="url(#bgy)" d="M618.4,1848.7L685.5,1659.4L686.8,1666.7L619.6,1849.3z"/><path fill="url(#bgz)" stroke="url(#bgz)" d="M619.6,1849.3L686.8,1666.7L689.7,1663.4L622.5,1846.5z"/><path fill="url(#bh0)" stroke="url(#bh0)" d="M622.5,1846.5L689.7,1663.4L693.6,1662.3L626.5,1842.7z"/><path fill="url(#bh1)" stroke="url(#bh1)" d="M626.5,1842.7L693.6,1662.3L700.8,1676.8L633.7,1835.8z"/><path fill="url(#bh2)" stroke="url(#bh2)" d="M633.7,1835.8L700.8,1676.8L716.3,1691.4L649.1,1856.1z"/><path fill="url(#bh3)" stroke="url(#bh3)" d="M649.1,1856.1L716.3,1691.4L719.7,1685.5L652.6,1860.6z"/><path fill="url(#bh4)" stroke="url(#bh4)" d="M652.6,1860.6L719.7,1685.5L722.6,1691.1L655.5,1864.4z"/><path fill="url(#bh5)" stroke="url(#bh5)" d="M655.5,1864.4L722.6,1691.1L731.1,1698L664,1851.9z"/><path fill="url(#bh6)" stroke="url(#bh6)" d="M664,1851.9L731.1,1698L734,1697.3L666.9,1847.6z"/><path fill="url(#bh7)" stroke="url(#bh7)" d="M666.9,1847.6L734,1697.3L742.9,1698.3L675.7,1858.7z"/><path fill="url(#bh8)" stroke="url(#bh8)" d="M675.7,1858.7L742.9,1698.3L752.1,1702.7L684.9,1870.2z"/><path fill="url(#bh9)" stroke="url(#bh9)" d="M684.9,1870.2L752.1,1702.7L753.9,1698.8L686.8,1872.5z"/><path fill="url(#bha)" stroke="url(#bha)" d="M686.8,1872.5L753.9,1698.8L755.8,1705.5L688.6,1874.8z"/><path fill="url(#bhb)" stroke="url(#bhb)" d="M688.6,1874.8L755.8,1705.5L759.6,1697.5L692.5,1879.6z"/><path fill="url(#bhc)" stroke="url(#bhc)" d="M692.5,1879.6L759.6,1697.5L762,1704L694.8,1882.5z"/><path fill="url(#bhd)" stroke="url(#bhd)" d="M694.8,1882.5L762,1704L771,1705.2L703.9,1893.8z"/><path fill="url(#bhe)" stroke="url(#bhe)" d="M771,1705.2L771.9,1698.6L704.8,1894.9z"/><path fill="url(#bhf)" stroke="url(#bhf)" d="M771,1705.2L704.8,1894.9L703.9,1893.8z"/><path fill="url(#bhg)" stroke="url(#bhg)" d="M704.8,1894.9L771.9,1698.6L778.1,1706.2L711,1884.8z"/><path fill="url(#bhh)" stroke="url(#bhh)" d="M711,1884.8L778.1,1706.2L782.4,1711.6L715.3,1891.4z"/><path fill="url(#bhi)" stroke="url(#bhi)" d="M715.3,1891.4L782.4,1711.6L788.6,1716.4L721.4,1901z"/><path fill="url(#bhj)" stroke="url(#bhj)" d="M721.4,1901L788.6,1716.4L793.8,1718.3L726.7,1909.1z"/><path fill="url(#bhk)" stroke="url(#bhk)" d="M726.7,1909.1L793.8,1718.3L796.4,1713.6L729.3,1913.1z"/><path fill="url(#bhl)" stroke="url(#bhl)" d="M729.3,1913.1L796.4,1713.6L800.5,1720L733.4,1907.8z"/><path fill="url(#bhm)" stroke="url(#bhm)" d="M733.4,1907.8L800.5,1720L810.9,1721.5L743.8,1925.6z"/><path fill="url(#bhn)" stroke="url(#bhn)" d="M743.8,1925.6L810.9,1721.5L815.1,1730L748,1932.8z"/><path fill="url(#bho)" stroke="url(#bho)" d="M748,1932.8L815.1,1730L821.3,1732.4L754.2,1921.7z"/><path fill="url(#bhp)" stroke="url(#bhp)" d="M754.2,1921.7L821.3,1732.4L822.3,1729.8L755.2,1923.1z"/><path fill="url(#bhq)" stroke="url(#bhq)" d="M755.2,1923.1L822.3,1729.8L828,1734.2L760.9,1931.4z"/><path fill="url(#bhr)" stroke="url(#bhr)" d="M760.9,1931.4L828,1734.2L830.6,1729.1L763.4,1935.1z"/><path fill="url(#bhs)" stroke="url(#bhs)" d="M763.4,1935.1L830.6,1729.1L835.9,1734.4L768.8,1942.9z"/><path fill="url(#bht)" stroke="url(#bht)" d="M768.8,1942.9L835.9,1734.4L842.8,1733.6L775.6,1931.6z"/><path fill="url(#bhu)" stroke="url(#bhu)" d="M775.6,1931.6L842.8,1733.6L845.1,1740.6L778,1927.8z"/><path fill="url(#bhv)" stroke="url(#bhv)" d="M845.1,1740.6L846.2,1736.1L779.1,1926z"/><path fill="url(#bhw)" stroke="url(#bhw)" d="M845.1,1740.6L779.1,1926L778,1927.8z"/><path fill="url(#bhx)" stroke="url(#bhx)" d="M779.1,1926L846.2,1736.1L850.8,1742.5L783.7,1932.8z"/><path fill="url(#bhy)" stroke="url(#bhy)" d="M783.7,1932.8L850.8,1742.5L856.5,1743.8L789.4,1941.3z"/><path fill="url(#bhz)" stroke="url(#bhz)" d="M789.4,1941.3L856.5,1743.8L861.9,1737L794.7,1949.2z"/><path fill="url(#bi0)" stroke="url(#bi0)" d="M794.7,1949.2L861.9,1737L865,1745.3L797.9,1953.9z"/><path fill="url(#bi1)" stroke="url(#bi1)" d="M797.9,1953.9L865,1745.3L873.3,1747.8L806.2,1943.5z"/><path fill="url(#bi2)" stroke="url(#bi2)" d="M806.2,1943.5L873.3,1747.8L879.3,1761.5L812.2,1936z"/><path fill="url(#bi3)" stroke="url(#bi3)" d="M812.2,1936L879.3,1761.5L881.7,1757.2L814.5,1933z"/><path fill="url(#bi4)" stroke="url(#bi4)" d="M814.5,1933L881.7,1757.2L883.7,1758.6L816.6,1930.4z"/><path fill="url(#bi5)" stroke="url(#bi5)" d="M816.6,1930.4L883.7,1758.6L885.4,1760.6L818.2,1930.1z"/><path fill="url(#bi6)" stroke="url(#bi6)" d="M818.2,1930.1L885.4,1760.6L892,1765.5L824.9,1928.9z"/><path fill="url(#bi7)" stroke="url(#bi7)" d="M824.9,1928.9L892,1765.5L896.4,1769.5L829.3,1933.8z"/><path fill="url(#bi8)" stroke="url(#bi8)" d="M829.3,1933.8L896.4,1769.5L902.1,1761.7L835,1940.2z"/><path fill="url(#bi9)" stroke="url(#bi9)" d="M835,1940.2L902.1,1761.7L904.4,1764.4L837.3,1942.7z"/><path fill="url(#bia)" stroke="url(#bia)" d="M837.3,1942.7L904.4,1764.4L907.8,1768.4L840.7,1941.3z"/><path fill="url(#bib)" stroke="url(#bib)" d="M840.7,1941.3L907.8,1768.4L908.6,1773.3L841.5,1941z"/><path fill="url(#bic)" stroke="url(#bic)" d="M841.5,1941L908.6,1773.3L910.2,1770.9L843.1,1940.3z"/><path fill="url(#bid)" stroke="url(#bid)" d="M843.1,1940.3L910.2,1770.9L913.5,1774.7L846.4,1938.9z"/><path fill="url(#bie)" stroke="url(#bie)" d="M846.4,1938.9L913.5,1774.7L914.8,1779.5L847.7,1938.4z"/><path fill="url(#bif)" stroke="url(#bif)" d="M847.7,1938.4L914.8,1779.5L919.2,1775.9L852.1,1945.9z"/><path fill="url(#big)" stroke="url(#big)" d="M852.1,1945.9L919.2,1775.9L930.6,1779.5L863.5,1965.3z"/><path fill="url(#bih)" stroke="url(#bih)" d="M863.5,1965.3L930.6,1779.5L936.3,1787L869.2,1975z"/><path fill="url(#bii)" stroke="url(#bii)" d="M869.2,1975L936.3,1787L939.8,1783.9L872.6,1980.9z"/><path fill="url(#bij)" stroke="url(#bij)" d="M872.6,1980.9L939.8,1783.9L942,1787.7L874.9,1984.7z"/><path fill="url(#bik)" stroke="url(#bik)" d="M874.9,1984.7L942,1787.7L945,1782.2L877.8,1989.7z"/><path fill="url(#bil)" stroke="url(#bil)" d="M877.8,1989.7L945,1782.2L947.7,1785.6L880.6,1994.3z"/><path fill="url(#bim)" stroke="url(#bim)" d="M880.6,1994.3L947.7,1785.6L951.3,1789.8L884.1,1995.5z"/><path fill="url(#bin)" stroke="url(#bin)" d="M884.1,1995.5L951.3,1789.8L953.4,1784.9L886.3,1996.3z"/><path fill="url(#bio)" stroke="url(#bio)" d="M886.3,1996.3L953.4,1784.9L957.5,1792.2L890.3,1997.7z"/><path fill="url(#bip)" stroke="url(#bip)" d="M957.5,1792.2L959.1,1785.8L892,1998.3z"/><path fill="url(#biq)" stroke="url(#biq)" d="M957.5,1792.2L892,1998.3L890.3,1997.7z"/><path fill="url(#bir)" stroke="url(#bir)" d="M892,1998.3L959.1,1785.8L960,1787.2L892.9,1998.6z"/><path fill="url(#bis)" stroke="url(#bis)" d="M892.9,1998.6L960,1787.2L963.7,1792.8L896.5,1992.1z"/><path fill="url(#bit)" stroke="url(#bit)" d="M896.5,1992.1L963.7,1792.8L966.9,1793L899.7,1986.5z"/><path fill="url(#biu)" stroke="url(#biu)" d="M899.7,1986.5L966.9,1793L970.5,1799.9L903.4,1980z"/><path fill="url(#biv)" stroke="url(#biv)" d="M903.4,1980L970.5,1799.9L971.4,1800.1L904.3,1978.4z"/><path fill="url(#biw)" stroke="url(#biw)" d="M904.3,1978.4L971.4,1800.1L982.4,1802.3L915.2,1993.9z"/><path fill="url(#bix)" stroke="url(#bix)" d="M915.2,1993.9L982.4,1802.3L987,1807.3L919.9,2000.4z"/><path fill="url(#biy)" stroke="url(#biy)" d="M919.9,2000.4L987,1807.3L999.5,1806.3L932.4,2010.3z"/><path fill="url(#biz)" stroke="url(#biz)" d="M932.4,2010.3L999.5,1806.3L1005.3,1810.9L938.2,2014.9z"/><path fill="url(#bj0)" stroke="url(#bj0)" d="M938.2,2014.9L1005.3,1810.9L1013,1814.5L945.9,1999z"/><path fill="url(#bj1)" stroke="url(#bj1)" d="M945.9,1999L1013,1814.5L1016.1,1820.6L949,2002.2z"/><path fill="url(#bj2)" stroke="url(#bj2)" d="M949,2002.2L1016.1,1820.6L1020.3,1819.2L953.2,2006.6z"/><path fill="url(#bj3)" stroke="url(#bj3)" d="M953.2,2006.6L1020.3,1819.2L1021.8,1824.1L954.7,2004.2z"/><path fill="url(#bj4)" stroke="url(#bj4)" d="M954.7,2004.2L1021.8,1824.1L1025.5,1824L958.4,1998.1z"/><path fill="url(#bj5)" stroke="url(#bj5)" d="M958.4,1998.1L1025.5,1824L1034.4,1823.6L967.2,2004.3z"/><path fill="url(#bj6)" stroke="url(#bj6)" d="M967.2,2004.3L1034.4,1823.6L1037.9,1832.7L970.8,2006.7z"/><path fill="url(#bj7)" stroke="url(#bj7)" d="M1037.9,1832.7L1038.9,1829.8L971.8,2008.4z"/><path fill="url(#bj8)" stroke="url(#bj8)" d="M1037.9,1832.7L971.8,2008.4L970.8,2006.7z"/><path fill="url(#bj9)" stroke="url(#bj9)" d="M971.8,2008.4L1038.9,1829.8L1050.3,1836.3L983.2,2027.4z"/><path fill="url(#bja)" stroke="url(#bja)" d="M983.2,2027.4L1050.3,1836.3L1060.8,1830.3L993.7,2044.9z"/><path fill="url(#bjb)" stroke="url(#bjb)" d="M993.7,2044.9L1060.8,1830.3L1061.7,1835L994.6,2045.1z"/><path fill="url(#bjc)" stroke="url(#bjc)" d="M994.6,2045.1L1061.7,1835L1064.9,1828.5L997.7,2045.7z"/><path fill="url(#bjd)" stroke="url(#bjd)" d="M997.7,2045.7L1064.9,1828.5L1067.4,1835.1L1000.3,2046.2z"/><path fill="url(#bje)" stroke="url(#bje)" d="M1000.3,2046.2L1067.4,1835.1L1068.1,1833.1L1001,2046.3z"/><path fill="url(#bjf)" stroke="url(#bjf)" d="M1001,2046.3L1068.1,1833.1L1073.1,1840.5L1006,2036.4z"/><path fill="url(#bjg)" stroke="url(#bjg)" d="M1006,2036.4L1073.1,1840.5L1074.9,1838.9L1007.7,2032.9z"/><path fill="url(#bjh)" stroke="url(#bjh)" d="M1007.7,2032.9L1074.9,1838.9L1082.6,1850L1015.5,2017.6z"/><path fill="url(#bji)" stroke="url(#bji)" d="M1015.5,2017.6L1082.6,1850L1084.5,1852.8L1017.4,2019.1z"/><path fill="url(#bjj)" stroke="url(#bjj)" d="M1017.4,2019.1L1084.5,1852.8L1092,1857.9L1024.9,2025z"/><path fill="url(#bjk)" stroke="url(#bjk)" d="M1024.9,2025L1092,1857.9L1093,1857.6L1025.9,2025.8z"/><path fill="url(#bjl)" stroke="url(#bjl)" d="M1025.9,2025.8L1093,1857.6L1095.9,1856.6L1028.8,2030.2z"/><path fill="url(#bjm)" stroke="url(#bjm)" d="M1028.8,2030.2L1095.9,1856.6L1101.6,1864.5L1034.5,2038.8z"/><path fill="url(#bjn)" stroke="url(#bjn)" d="M1034.5,2038.8L1101.6,1864.5L1115.2,1862.8L1048.1,2059.2z"/><path fill="url(#bjo)" stroke="url(#bjo)" d="M1048.1,2059.2L1115.2,1862.8L1119.4,1862.4L1052.2,2051.7z"/><path fill="url(#bjp)" stroke="url(#bjp)" d="M1052.2,2051.7L1119.4,1862.4L1124.4,1871.3L1057.3,2042.6z"/><path fill="url(#bjq)" stroke="url(#bjq)" d="M1057.3,2042.6L1124.4,1871.3L1128.3,1869L1061.2,2035.6z"/><path fill="url(#bjr)" stroke="url(#bjr)" d="M1061.2,2035.6L1128.3,1869L1130.6,1876.3L1063.4,2038.2z"/><path fill="url(#bjs)" stroke="url(#bjs)" d="M1063.4,2038.2L1130.6,1876.3L1135.8,1868.9L1068.7,2044.1z"/><path fill="url(#bjt)" stroke="url(#bjt)" d="M1068.7,2044.1L1135.8,1868.9L1141.5,1870.6L1074.4,2050.5z"/><path fill="url(#bju)" stroke="url(#bju)" d="M1141.5,1870.6L1142.2,1868.1L1075.1,2051.3z"/><path fill="url(#bjv)" stroke="url(#bjv)" d="M1141.5,1870.6L1075.1,2051.3L1074.4,2050.5z"/><path fill="url(#bjw)" stroke="url(#bjw)" d="M1075.1,2051.3L1142.2,1868.1L1149.1,1881.1L1082,2043.1z"/><path fill="url(#bjx)" stroke="url(#bjx)" d="M1082,2043.1L1149.1,1881.1L1152.9,1877.6L1085.8,2047.2z"/><path fill="url(#bjy)" stroke="url(#bjy)" d="M1085.8,2047.2L1152.9,1877.6L1161.2,1890.2L1094.1,2056.1z"/><path fill="url(#bjz)" stroke="url(#bjz)" d="M1094.1,2056.1L1161.2,1890.2L1169.9,1892.8L1102.8,2046.5z"/><path fill="url(#bk0)" stroke="url(#bk0)" d="M1102.8,2046.5L1169.9,1892.8L1174,1899.9L1106.9,2042z"/><path fill="url(#bk1)" stroke="url(#bk1)" d="M1106.9,2042L1174,1899.9L1177,1905.1L1109.8,2036.3z"/><path fill="url(#bk2)" stroke="url(#bk2)" d="M1177,1905.1L1181.4,1904.2L1114.3,2027.8z"/><path fill="url(#bk3)" stroke="url(#bk3)" d="M1177,1905.1L1114.3,2027.8L1109.8,2036.3z"/><path fill="url(#bk4)" stroke="url(#bk4)" d="M1181.4,1904.2L1187.1,1911.3L1120,2016.9z"/><path fill="url(#bk5)" stroke="url(#bk5)" d="M1181.4,1904.2L1120,2016.9L1114.3,2027.8z"/><path fill="url(#bk6)" stroke="url(#bk6)" d="M487.2,1752.3L554.3,1793.8L558.9,1788.2L491.8,1742.1z"/><path fill="url(#bk7)" stroke="url(#bk7)" d="M491.8,1742.1L558.9,1788.2L567.6,1797L500.5,1753.6z"/><path fill="url(#bk8)" stroke="url(#bk8)" d="M500.5,1753.6L567.6,1797L574.5,1792.1L507.4,1743.9z"/><path fill="url(#bk9)" stroke="url(#bk9)" d="M574.5,1792.1L585.9,1799.3L518.8,1752.3z"/><path fill="url(#bka)" stroke="url(#bka)" d="M574.5,1792.1L518.8,1752.3L507.4,1743.9z"/><path fill="url(#bkb)" stroke="url(#bkb)" d="M585.9,1799.3L619.1,1849.8L552,1824z"/><path fill="url(#bkc)" stroke="url(#bkc)" d="M585.9,1799.3L552,1824L518.8,1752.3z"/><path fill="url(#bkd)" stroke="url(#bkd)" d="M552,1824L619.1,1849.8L633.7,1835.8L566.6,1797.6z"/><path fill="url(#bke)" stroke="url(#bke)" d="M566.6,1797.6L633.7,1835.8L655.5,1864.4L588.4,1837.3z"/><path fill="url(#bkf)" stroke="url(#bkf)" d="M588.4,1837.3L655.5,1864.4L666.9,1847.6L599.8,1807.3z"/><path fill="url(#bkg)" stroke="url(#bkg)" d="M666.9,1847.6L704.8,1894.9L637.7,1872.6z"/><path fill="url(#bkh)" stroke="url(#bkh)" d="M666.9,1847.6L637.7,1872.6L599.8,1807.3z"/><path fill="url(#bki)" stroke="url(#bki)" d="M637.7,1872.6L704.8,1894.9L711,1884.8L643.9,1854.6z"/><path fill="url(#bkj)" stroke="url(#bkj)" d="M643.9,1854.6L711,1884.8L729.3,1913.1L662.2,1894.9z"/><path fill="url(#bkk)" stroke="url(#bkk)" d="M662.2,1894.9L729.3,1913.1L733.4,1907.8L666.3,1885.3z"/><path fill="url(#bkl)" stroke="url(#bkl)" d="M666.3,1885.3L733.4,1907.8L748,1932.8L680.9,1921.3z"/><path fill="url(#bkm)" stroke="url(#bkm)" d="M680.9,1921.3L748,1932.8L754.2,1921.7L687.1,1901.8z"/><path fill="url(#bkn)" stroke="url(#bkn)" d="M687.1,1901.8L754.2,1921.7L768.8,1942.9L701.7,1931.6z"/><path fill="url(#bko)" stroke="url(#bko)" d="M701.7,1931.6L768.8,1942.9L779.1,1926L712,1901.7z"/><path fill="url(#bkp)" stroke="url(#bkp)" d="M712,1901.7L779.1,1926L797.9,1953.9L730.8,1941.2z"/><path fill="url(#bkq)" stroke="url(#bkq)" d="M730.8,1941.2L797.9,1953.9L806.2,1943.5L739.1,1917.3z"/><path fill="url(#bkr)" stroke="url(#bkr)" d="M739.1,1917.3L806.2,1943.5L808.7,1940.3z"/><path fill="url(#bks)" stroke="url(#bks)" d="M739.1,1917.3L808.7,1940.3L741.6,1921.9z"/><path fill="url(#bkt)" stroke="url(#bkt)" d="M741.6,1921.9L808.7,1940.3L816.6,1930.4L749.5,1898.5z"/><path fill="url(#bku)" stroke="url(#bku)" d="M749.5,1898.5L816.6,1930.4L824.9,1928.9L757.8,1893.8z"/><path fill="url(#bkv)" stroke="url(#bkv)" d="M757.8,1893.8L824.9,1928.9L837.3,1942.7L770.2,1912.5z"/><path fill="url(#bkw)" stroke="url(#bkw)" d="M770.2,1912.5L837.3,1942.7L847.7,1938.4L780.6,1902.6z"/><path fill="url(#bkx)" stroke="url(#bkx)" d="M847.7,1938.4L880.5,1994.2L813.4,1982.9z"/><path fill="url(#bky)" stroke="url(#bky)" d="M847.7,1938.4L813.4,1982.9L780.6,1902.6z"/><path fill="url(#bkz)" stroke="url(#bkz)" d="M813.4,1982.9L880.5,1994.2L892.9,1998.6L825.8,1986.5z"/><path fill="url(#bl0)" stroke="url(#bl0)" d="M825.8,1986.5L892.9,1998.6L904.3,1978.4L837.2,1951.1z"/><path fill="url(#bl1)" stroke="url(#bl1)" d="M837.2,1951.1L904.3,1978.4L919.9,2000.4L852.8,1982z"/><path fill="url(#bl2)" stroke="url(#bl2)" d="M852.8,1982L919.9,2000.4L932.4,2010.3L865.3,1999.4z"/><path fill="url(#bl3)" stroke="url(#bl3)" d="M865.3,1999.4L932.4,2010.3L934.9,2012.3z"/><path fill="url(#bl4)" stroke="url(#bl4)" d="M865.3,1999.4L934.9,2012.3L867.8,1994.1z"/><path fill="url(#bl5)" stroke="url(#bl5)" d="M867.8,1994.1L934.9,2012.3L938.2,2014.9L871.1,2000z"/><path fill="url(#bl6)" stroke="url(#bl6)" d="M871.1,2000L938.2,2014.9L945.9,1999L878.8,1972.5z"/><path fill="url(#bl7)" stroke="url(#bl7)" d="M878.8,1972.5L945.9,1999L953.2,2006.6L886.1,1982.7z"/><path fill="url(#bl8)" stroke="url(#bl8)" d="M886.1,1982.7L953.2,2006.6L958.4,1998.1L891.3,1967.7z"/><path fill="url(#bl9)" stroke="url(#bl9)" d="M891.3,1967.7L958.4,1998.1L969.4,2005.8L902.3,1983.5z"/><path fill="url(#bla)" stroke="url(#bla)" d="M902.3,1983.5L969.4,2005.8L970.8,2006.7z"/><path fill="url(#blb)" stroke="url(#blb)" d="M902.3,1983.5L970.8,2006.7L903.7,1978.1z"/><path fill="url(#blc)" stroke="url(#blc)" d="M903.7,1978.1L970.8,2006.7L993.7,2044.9L926.6,2032.9z"/><path fill="url(#bld)" stroke="url(#bld)" d="M926.6,2032.9L993.7,2044.9L1001,2046.3z"/><path fill="url(#ble)" stroke="url(#ble)" d="M926.6,2032.9L1001,2046.3L933.9,2033.1z"/><path fill="url(#blf)" stroke="url(#blf)" d="M933.9,2033.1L1001,2046.3L1015.5,2017.6L948.4,1983z"/><path fill="url(#blg)" stroke="url(#blg)" d="M948.4,1983L1015.5,2017.6L1024.9,2025L957.8,1997.4z"/><path fill="url(#blh)" stroke="url(#blh)" d="M957.8,1997.4L1024.9,2025L1025.9,2025.8z"/><path fill="url(#bli)" stroke="url(#bli)" d="M957.8,1997.4L1025.9,2025.8L958.8,1993.4z"/><path fill="url(#blj)" stroke="url(#blj)" d="M958.8,1993.4L1025.9,2025.8L1048.1,2059.2L981,2040.6z"/><path fill="url(#blk)" stroke="url(#blk)" d="M981,2040.6L1048.1,2059.2L1061.2,2035.6L994.1,1999.4z"/><path fill="url(#bll)" stroke="url(#bll)" d="M994.1,1999.4L1061.2,2035.6L1075.1,2051.3L1008,2020.6z"/><path fill="url(#blm)" stroke="url(#blm)" d="M1008,2020.6L1075.1,2051.3L1082,2043.1L1014.9,2005.6z"/><path fill="url(#bln)" stroke="url(#bln)" d="M1014.9,2005.6L1082,2043.1L1094.1,2056.1L1027,2023.1z"/><path fill="url(#blo)" stroke="url(#blo)" d="M1027,2023.1L1094.1,2056.1L1102.8,2046.5L1035.7,2001.3z"/><path fill="url(#blp)" stroke="url(#blp)" d="M1035.7,2001.3L1102.8,2046.5L1106.9,2042L1039.8,1997.5z"/><path fill="url(#blq)" stroke="url(#blq)" d="M1039.8,1997.5L1106.9,2042L1120,2016.9L1052.9,1985.3z"/><path fill="url(#blr)" stroke="url(#blr)" d="M420.1,1576L487.2,1752.3L489.6,1746.9L422.5,1577.1z"/><path fill="url(#bls)" stroke="url(#bls)" d="M422.5,1577.1L489.6,1746.9L491.8,1742.1L424.6,1582.1z"/><path fill="url(#blt)" stroke="url(#blt)" d="M424.6,1582.1L491.8,1742.1L492.7,1743.3L425.6,1584.3z"/><path fill="url(#blu)" stroke="url(#blu)" d="M425.6,1584.3L492.7,1743.3L501,1752.8L433.9,1568.4z"/><path fill="url(#blv)" stroke="url(#blv)" d="M501,1752.8L507.4,1743.9L440.2,1585z"/><path fill="url(#blw)" stroke="url(#blw)" d="M501,1752.8L440.2,1585L433.9,1568.4z"/><path fill="url(#blx)" stroke="url(#blx)" d="M507.4,1743.9L510.3,1746.1L443.2,1592.7z"/><path fill="url(#bly)" stroke="url(#bly)" d="M507.4,1743.9L443.2,1592.7L440.2,1585z"/><path fill="url(#blz)" stroke="url(#blz)" d="M443.2,1592.7L510.3,1746.1L514.5,1749.1L447.4,1590.7z"/><path fill="url(#bm0)" stroke="url(#bm0)" d="M514.5,1749.1L518.8,1752.3L451.6,1600.8z"/><path fill="url(#bm1)" stroke="url(#bm1)" d="M514.5,1749.1L451.6,1600.8L447.4,1590.7z"/><path fill="url(#bm2)" stroke="url(#bm2)" d="M518.8,1752.3L519.7,1754.3L452.6,1603.1z"/><path fill="url(#bm3)" stroke="url(#bm3)" d="M518.8,1752.3L452.6,1603.1L451.6,1600.8z"/><path fill="url(#bm4)" stroke="url(#bm4)" d="M452.6,1603.1L519.7,1754.3L524.9,1765.6L457.8,1598.5z"/><path fill="url(#bm5)" stroke="url(#bm5)" d="M457.8,1598.5L524.9,1765.6L528,1772.3L460.9,1603.1z"/><path fill="url(#bm6)" stroke="url(#bm6)" d="M460.9,1603.1L528,1772.3L533.2,1783.5L466.1,1594.2z"/><path fill="url(#bm7)" stroke="url(#bm7)" d="M466.1,1594.2L533.2,1783.5L538.4,1794.8L471.3,1603.1z"/><path fill="url(#bm8)" stroke="url(#bm8)" d="M471.3,1603.1L538.4,1794.8L552.5,1823z"/><path fill="url(#bm9)" stroke="url(#bm9)" d="M471.3,1603.1L552.5,1823L485.4,1554.9z"/><path fill="url(#bma)" stroke="url(#bma)" d="M485.4,1554.9L552.5,1823L555.4,1817.8L488.3,1560.5z"/><path fill="url(#bmb)" stroke="url(#bmb)" d="M488.3,1560.5L555.4,1817.8L559.2,1810.9L492.1,1550.5z"/><path fill="url(#bmc)" stroke="url(#bmc)" d="M559.2,1810.9L566.6,1797.6L499.4,1577.5z"/><path fill="url(#bmd)" stroke="url(#bmd)" d="M559.2,1810.9L499.4,1577.5L492.1,1550.5z"/><path fill="url(#bme)" stroke="url(#bme)" d="M566.6,1797.6L582,1825.7L514.9,1634.3z"/><path fill="url(#bmf)" stroke="url(#bmf)" d="M566.6,1797.6L514.9,1634.3L499.4,1577.5z"/><path fill="url(#bmg)" stroke="url(#bmg)" d="M514.9,1634.3L582,1825.7L588.4,1837.3L521.2,1626.5z"/><path fill="url(#bmh)" stroke="url(#bmh)" d="M521.2,1626.5L588.4,1837.3L592.4,1826.6L525.3,1636.4z"/><path fill="url(#bmi)" stroke="url(#bmi)" d="M525.3,1636.4L592.4,1826.6L596.6,1815.6L529.5,1631.8z"/><path fill="url(#bmj)" stroke="url(#bmj)" d="M529.5,1631.8L596.6,1815.6L599.8,1807.3L532.6,1633.1z"/><path fill="url(#bmk)" stroke="url(#bmk)" d="M532.6,1633.1L599.8,1807.3L608.6,1822.6L541.5,1609.4z"/><path fill="url(#bml)" stroke="url(#bml)" d="M541.5,1609.4L608.6,1822.6L614.2,1832.2L547.1,1622.9z"/><path fill="url(#bmm)" stroke="url(#bmm)" d="M547.1,1622.9L614.2,1832.2L617.8,1838.4L550.7,1616z"/><path fill="url(#bmn)" stroke="url(#bmn)" d="M550.7,1616L617.8,1838.4L621.5,1844.8L554.4,1624.9z"/><path fill="url(#bmo)" stroke="url(#bmo)" d="M554.4,1624.9L621.5,1844.8L627.7,1855.5L560.6,1611z"/><path fill="url(#bmp)" stroke="url(#bmp)" d="M560.6,1611L627.7,1855.5L630.9,1861L563.8,1613.5z"/><path fill="url(#bmq)" stroke="url(#bmq)" d="M563.8,1613.5L630.9,1861L637.7,1872.6L570.5,1599.9z"/><path fill="url(#bmr)" stroke="url(#bmr)" d="M570.5,1599.9L637.7,1872.6L643.9,1854.6L576.7,1615.8z"/><path fill="url(#bms)" stroke="url(#bms)" d="M576.7,1615.8L643.9,1854.6L650.6,1869.5L583.5,1633.2z"/><path fill="url(#bmt)" stroke="url(#bmt)" d="M583.5,1633.2L650.6,1869.5L654.3,1877.6L587.2,1624.9z"/><path fill="url(#bmu)" stroke="url(#bmu)" d="M587.2,1624.9L654.3,1877.6L661.4,1893.3L594.3,1646.8z"/><path fill="url(#bmv)" stroke="url(#bmv)" d="M594.3,1646.8L661.4,1893.3L662.2,1894.9L595,1645.2z"/><path fill="url(#bmw)" stroke="url(#bmw)" d="M595,1645.2L662.2,1894.9L666.3,1885.3L599.1,1636z"/><path fill="url(#bmx)" stroke="url(#bmx)" d="M599.1,1636L666.3,1885.3L669.3,1892.8L602.2,1629.1z"/><path fill="url(#bmy)" stroke="url(#bmy)" d="M602.2,1629.1L669.3,1892.8L680.9,1921.3L613.7,1663.2z"/><path fill="url(#bmz)" stroke="url(#bmz)" d="M613.7,1663.2L680.9,1921.3L687.1,1901.8L619.9,1652.2z"/><path fill="url(#bn0)" stroke="url(#bn0)" d="M619.9,1652.2L687.1,1901.8L690.1,1908L623,1646.8z"/><path fill="url(#bn1)" stroke="url(#bn1)" d="M623,1646.8L690.1,1908L696.3,1920.7L629.2,1657.1z"/><path fill="url(#bn2)" stroke="url(#bn2)" d="M629.2,1657.1L696.3,1920.7L701.7,1931.6L634.5,1644.5z"/><path fill="url(#bn3)" stroke="url(#bn3)" d="M634.5,1644.5L701.7,1931.6L704.8,1922.4L637.7,1654z"/><path fill="url(#bn4)" stroke="url(#bn4)" d="M637.7,1654L704.8,1922.4L708.5,1911.7L641.4,1640.5z"/><path fill="url(#bn5)" stroke="url(#bn5)" d="M641.4,1640.5L708.5,1911.7L712,1901.7L644.8,1650.2z"/><path fill="url(#bn6)" stroke="url(#bn6)" d="M644.8,1650.2L712,1901.7L716.2,1910.6L649.1,1662.3z"/><path fill="url(#bn7)" stroke="url(#bn7)" d="M649.1,1662.3L716.2,1910.6L727.6,1934.6L660.5,1636.8z"/><path fill="url(#bn8)" stroke="url(#bn8)" d="M660.5,1636.8L727.6,1934.6L730.8,1941.2L663.6,1644.8z"/><path fill="url(#bn9)" stroke="url(#bn9)" d="M663.6,1644.8L730.8,1941.2L739.1,1917.3L671.9,1666z"/><path fill="url(#bna)" stroke="url(#bna)" d="M671.9,1666L739.1,1917.3L741.6,1921.9L674.4,1672.3z"/><path fill="url(#bnb)" stroke="url(#bnb)" d="M674.4,1672.3L741.6,1921.9L747.4,1904.6L680.3,1687.3z"/><path fill="url(#bnc)" stroke="url(#bnc)" d="M680.3,1687.3L747.4,1904.6L749.5,1898.5L682.3,1683.3z"/><path fill="url(#bnd)" stroke="url(#bnd)" d="M682.3,1683.3L749.5,1898.5L751.1,1897.6L684,1680z"/><path fill="url(#bne)" stroke="url(#bne)" d="M684,1680L751.1,1897.6L757.8,1893.8L690.6,1694.5z"/><path fill="url(#bnf)" stroke="url(#bnf)" d="M690.6,1694.5L757.8,1893.8L770.2,1912.5z"/><path fill="url(#bng)" stroke="url(#bng)" d="M690.6,1694.5L770.2,1912.5L703,1663.9z"/><path fill="url(#bnh)" stroke="url(#bnh)" d="M770.2,1912.5L780.6,1902.6L713.4,1691.2z"/><path fill="url(#bni)" stroke="url(#bni)" d="M770.2,1912.5L713.4,1691.2L703,1663.9z"/><path fill="url(#bnj)" stroke="url(#bnj)" d="M713.4,1691.2L780.6,1902.6L788.9,1923.1L721.8,1713.2z"/><path fill="url(#bnk)" stroke="url(#bnk)" d="M721.8,1713.2L788.9,1923.1L793.1,1933.4L726,1704.9z"/><path fill="url(#bnl)" stroke="url(#bnl)" d="M726,1704.9L793.1,1933.4L796.2,1941L729.1,1713.2z"/><path fill="url(#bnm)" stroke="url(#bnm)" d="M729.1,1713.2L796.2,1941L799.3,1948.6L732.2,1708.1z"/><path fill="url(#bnn)" stroke="url(#bnn)" d="M732.2,1708.1L799.3,1948.6L805.5,1963.8L738.4,1720.5z"/><path fill="url(#bno)" stroke="url(#bno)" d="M738.4,1720.5L805.5,1963.8L810.7,1976.5L743.6,1707z"/><path fill="url(#bnp)" stroke="url(#bnp)" d="M743.6,1707L810.7,1976.5L813.4,1982.9L746.2,1711.8z"/><path fill="url(#bnq)" stroke="url(#bnq)" d="M746.2,1711.8L813.4,1982.9L817,1984L749.9,1718.4z"/><path fill="url(#bnr)" stroke="url(#bnr)" d="M749.9,1718.4L817,1984L823.2,1985.8L756.1,1705.6z"/><path fill="url(#bns)" stroke="url(#bns)" d="M756.1,1705.6L823.2,1985.8L825.8,1986.5L758.6,1711.3z"/><path fill="url(#bnt)" stroke="url(#bnt)" d="M758.6,1711.3L825.8,1986.5L829.4,1975.2L762.3,1719.5z"/><path fill="url(#bnu)" stroke="url(#bnu)" d="M762.3,1719.5L829.4,1975.2L832.6,1965.2L765.5,1712.2z"/><path fill="url(#bnv)" stroke="url(#bnv)" d="M765.5,1712.2L832.6,1965.2L837.2,1951.1L770,1724.1z"/><path fill="url(#bnw)" stroke="url(#bnw)" d="M770,1724.1L837.2,1951.1L840.9,1958.6L773.8,1734z"/><path fill="url(#bnx)" stroke="url(#bnx)" d="M773.8,1734L840.9,1958.6L848.1,1972.8L781,1713.9z"/><path fill="url(#bny)" stroke="url(#bny)" d="M781,1713.9L848.1,1972.8L853.3,1982.8L786.2,1725.7z"/><path fill="url(#bnz)" stroke="url(#bnz)" d="M786.2,1725.7L853.3,1982.8L859.1,1990.9L792,1710.8z"/><path fill="url(#bo0)" stroke="url(#bo0)" d="M792,1710.8L859.1,1990.9L865.3,1999.4L798.1,1725.1z"/><path fill="url(#bo1)" stroke="url(#bo1)" d="M798.1,1725.1L865.3,1999.4L866.8,1996.1L799.7,1728.8z"/><path fill="url(#bo2)" stroke="url(#bo2)" d="M799.7,1728.8L866.8,1996.1L867.8,1994.1L800.6,1727.9z"/><path fill="url(#bo3)" stroke="url(#bo3)" d="M800.6,1727.9L867.8,1994.1L871.1,2000L803.9,1724.8z"/><path fill="url(#bo4)" stroke="url(#bo4)" d="M803.9,1724.8L871.1,2000L877.2,1978L810.1,1739.2z"/><path fill="url(#bo5)" stroke="url(#bo5)" d="M810.1,1739.2L877.2,1978L878.8,1972.5L811.6,1736.1z"/><path fill="url(#bo6)" stroke="url(#bo6)" d="M811.6,1736.1L878.8,1972.5L886.1,1982.7L818.9,1724z"/><path fill="url(#bo7)" stroke="url(#bo7)" d="M818.9,1724L886.1,1982.7L891.3,1967.7L824.1,1737.5z"/><path fill="url(#bo8)" stroke="url(#bo8)" d="M824.1,1737.5L891.3,1967.7L893.9,1971.5L826.8,1744.4z"/><path fill="url(#bo9)" stroke="url(#bo9)" d="M826.8,1744.4L893.9,1971.5L900.1,1980.4L833,1726.8z"/><path fill="url(#boa)" stroke="url(#boa)" d="M833,1726.8L900.1,1980.4L902.3,1983.5L835.1,1731.9z"/><path fill="url(#bob)" stroke="url(#bob)" d="M835.1,1731.9L902.3,1983.5L903.7,1978.1L836.5,1735.3z"/><path fill="url(#boc)" stroke="url(#boc)" d="M836.5,1735.3L903.7,1978.1L915.7,2006.9L848.6,1764.2z"/><path fill="url(#bod)" stroke="url(#bod)" d="M848.6,1764.2L915.7,2006.9L926.6,2032.9z"/><path fill="url(#boe)" stroke="url(#boe)" d="M848.6,1764.2L926.6,2032.9L859.4,1730.5z"/><path fill="url(#bof)" stroke="url(#bof)" d="M859.4,1730.5L926.6,2032.9L930.6,2033L863.5,1717.8z"/><path fill="url(#bog)" stroke="url(#bog)" d="M863.5,1717.8L930.6,2033L933.9,2033.1L866.7,1727.3z"/><path fill="url(#boh)" stroke="url(#boh)" d="M866.7,1727.3L933.9,2033.1L936.5,2023.9L869.4,1735.1z"/><path fill="url(#boi)" stroke="url(#boi)" d="M869.4,1735.1L936.5,2023.9L940.6,2009.7L873.5,1728.4z"/><path fill="url(#boj)" stroke="url(#boj)" d="M873.5,1728.4L940.6,2009.7L948.4,1983L881.2,1749.2z"/><path fill="url(#bok)" stroke="url(#bok)" d="M881.2,1749.2L948.4,1983L957.8,1997.4L890.6,1774.5z"/><path fill="url(#bol)" stroke="url(#bol)" d="M890.6,1774.5L957.8,1997.4L958.8,1993.4L891.6,1777.2z"/><path fill="url(#bom)" stroke="url(#bom)" d="M891.6,1777.2L958.8,1993.4L967.9,2012.9L900.8,1801.8z"/><path fill="url(#bon)" stroke="url(#bon)" d="M900.8,1801.8L967.9,2012.9L981,2040.6z"/><path fill="url(#boo)" stroke="url(#boo)" d="M900.8,1801.8L981,2040.6L913.8,1776.6z"/><path fill="url(#bop)" stroke="url(#bop)" d="M913.8,1776.6L981,2040.6L983.5,2032.5L916.4,1771.7z"/><path fill="url(#boq)" stroke="url(#boq)" d="M916.4,1771.7L983.5,2032.5L985.1,2027.5L918,1774z"/><path fill="url(#bor)" stroke="url(#bor)" d="M918,1774L985.1,2027.5L987.2,2020.9L920.1,1768.2z"/><path fill="url(#bos)" stroke="url(#bos)" d="M920.1,1768.2L987.2,2020.9L994.1,1999.4L926.9,1784.9z"/><path fill="url(#bot)" stroke="url(#bot)" d="M926.9,1784.9L994.1,1999.4L996.3,2002.8L929.2,1790.4z"/><path fill="url(#bou)" stroke="url(#bou)" d="M929.2,1790.4L996.3,2002.8L1008,2020.6z"/><path fill="url(#bov)" stroke="url(#bov)" d="M929.2,1790.4L1008,2020.6L940.8,1753.4z"/><path fill="url(#bow)" stroke="url(#bow)" d="M940.8,1753.4L1008,2020.6L1014.9,2005.6L947.7,1770.8z"/><path fill="url(#box)" stroke="url(#box)" d="M947.7,1770.8L1014.9,2005.6L1027,2023.1L959.8,1801.4z"/><path fill="url(#boy)" stroke="url(#boy)" d="M959.8,1801.4L1027,2023.1L1035.7,2001.3z"/><path fill="url(#boz)" stroke="url(#boz)" d="M959.8,1801.4L1035.7,2001.3L968.5,1823.4z"/><path fill="url(#bp0)" stroke="url(#bp0)" d="M1035.7,2001.3L1042.7,1994.7L975.6,1841.3z"/><path fill="url(#bp1)" stroke="url(#bp1)" d="M1035.7,2001.3L975.6,1841.3L968.5,1823.4z"/><path fill="url(#bp2)" stroke="url(#bp2)" d="M975.6,1841.3L1042.7,1994.7L1046.4,1991.3L979.3,1836.1z"/><path fill="url(#bp3)" stroke="url(#bp3)" d="M1046.4,1991.3L1052.9,1985.3L985.8,1863z"/><path fill="url(#bp4)" stroke="url(#bp4)" d="M1046.4,1991.3L985.8,1863L979.3,1836.1z"/><path fill="url(#bp5)" stroke="url(#bp5)" d="M352.9,1693.5L420.1,1576L422.5,1577.1L355.4,1693.5z"/><path fill="url(#bp6)" stroke="url(#bp6)" d="M355.4,1693.5L422.5,1577.1L425.6,1584.3L358.5,1693.5z"/><path fill="url(#bp7)" stroke="url(#bp7)" d="M425.6,1584.3L433.9,1568.4L366.8,1693.6z"/><path fill="url(#bp8)" stroke="url(#bp8)" d="M425.6,1584.3L366.8,1693.6L358.5,1693.5z"/><path fill="url(#bp9)" stroke="url(#bp9)" d="M366.8,1693.6L433.9,1568.4L443.2,1592.7L376.1,1693.7z"/><path fill="url(#bpa)" stroke="url(#bpa)" d="M376.1,1693.7L443.2,1592.7L447.4,1590.7L380.3,1693.8z"/><path fill="url(#bpb)" stroke="url(#bpb)" d="M380.3,1693.8L447.4,1590.7L451.6,1600.8L384.5,1693.8z"/><path fill="url(#bpc)" stroke="url(#bpc)" d="M384.5,1693.8L451.6,1600.8L452.6,1603.1L385.5,1694.7z"/><path fill="url(#bpd)" stroke="url(#bpd)" d="M385.5,1694.7L452.6,1603.1L457.8,1598.5L390.7,1699.5z"/><path fill="url(#bpe)" stroke="url(#bpe)" d="M390.7,1699.5L457.8,1598.5L460.9,1603.1L393.8,1702.4z"/><path fill="url(#bpf)" stroke="url(#bpf)" d="M460.9,1603.1L466.1,1594.2L399,1707.2z"/><path fill="url(#bpg)" stroke="url(#bpg)" d="M460.9,1603.1L399,1707.2L393.8,1702.4z"/><path fill="url(#bph)" stroke="url(#bph)" d="M399,1707.2L466.1,1594.2L471.3,1603.1L404.2,1712z"/><path fill="url(#bpi)" stroke="url(#bpi)" d="M471.3,1603.1L485.4,1554.9L418.3,1724.4z"/><path fill="url(#bpj)" stroke="url(#bpj)" d="M471.3,1603.1L418.3,1724.4L404.2,1712z"/><path fill="url(#bpk)" stroke="url(#bpk)" d="M418.3,1724.4L485.4,1554.9L488.3,1560.5L421.2,1723.7z"/><path fill="url(#bpl)" stroke="url(#bpl)" d="M488.3,1560.5L492.1,1550.5L425,1722.7z"/><path fill="url(#bpm)" stroke="url(#bpm)" d="M488.3,1560.5L425,1722.7L421.2,1723.7z"/><path fill="url(#bpn)" stroke="url(#bpn)" d="M425,1722.7L492.1,1550.5L499.4,1577.5L432.3,1720.9z"/><path fill="url(#bpo)" stroke="url(#bpo)" d="M432.3,1720.9L499.4,1577.5L514.9,1634.3L447.8,1734.6z"/><path fill="url(#bpp)" stroke="url(#bpp)" d="M447.8,1734.6L514.9,1634.3L521.2,1626.5L454.1,1740.2z"/><path fill="url(#bpq)" stroke="url(#bpq)" d="M454.1,1740.2L521.2,1626.5L525.3,1636.4L458.2,1738.1z"/><path fill="url(#bpr)" stroke="url(#bpr)" d="M458.2,1738.1L525.3,1636.4L529.5,1631.8L462.4,1736z"/><path fill="url(#bps)" stroke="url(#bps)" d="M462.4,1736L529.5,1631.8L532.6,1633.1L465.5,1734.4z"/><path fill="url(#bpt)" stroke="url(#bpt)" d="M532.6,1633.1L541.5,1609.4L474.4,1742z"/><path fill="url(#bpu)" stroke="url(#bpu)" d="M532.6,1633.1L474.4,1742L465.5,1734.4z"/><path fill="url(#bpv)" stroke="url(#bpv)" d="M474.4,1742L541.5,1609.4L547.1,1622.9L480,1746.8z"/><path fill="url(#bpw)" stroke="url(#bpw)" d="M547.1,1622.9L550.7,1616L483.6,1749.9z"/><path fill="url(#bpx)" stroke="url(#bpx)" d="M547.1,1622.9L483.6,1749.9L480,1746.8z"/><path fill="url(#bpy)" stroke="url(#bpy)" d="M483.6,1749.9L550.7,1616L554.4,1624.9L487.3,1753z"/><path fill="url(#bpz)" stroke="url(#bpz)" d="M554.4,1624.9L560.6,1611L493.5,1758.3z"/><path fill="url(#bq0)" stroke="url(#bq0)" d="M554.4,1624.9L493.5,1758.3L487.3,1753z"/><path fill="url(#bq1)" stroke="url(#bq1)" d="M493.5,1758.3L560.6,1611L563.8,1613.5L496.7,1761z"/><path fill="url(#bq2)" stroke="url(#bq2)" d="M496.7,1761L563.8,1613.5L570.5,1599.9L503.4,1766.8z"/><path fill="url(#bq3)" stroke="url(#bq3)" d="M503.4,1766.8L570.5,1599.9L576.7,1615.8L509.6,1763.2z"/><path fill="url(#bq4)" stroke="url(#bq4)" d="M509.6,1763.2L576.7,1615.8L583.5,1633.2L516.4,1769.1z"/><path fill="url(#bq5)" stroke="url(#bq5)" d="M583.5,1633.2L587.2,1624.9L520.1,1772.3z"/><path fill="url(#bq6)" stroke="url(#bq6)" d="M583.5,1633.2L520.1,1772.3L516.4,1769.1z"/><path fill="url(#bq7)" stroke="url(#bq7)" d="M520.1,1772.3L587.2,1624.9L594.3,1646.8L527.2,1778.6z"/><path fill="url(#bq8)" stroke="url(#bq8)" d="M594.3,1646.8L602.2,1629.1L535.1,1785.5z"/><path fill="url(#bq9)" stroke="url(#bq9)" d="M594.3,1646.8L535.1,1785.5L527.2,1778.6z"/><path fill="url(#bqa)" stroke="url(#bqa)" d="M535.1,1785.5L602.2,1629.1L613.7,1663.2L546.6,1795.7z"/><path fill="url(#bqb)" stroke="url(#bqb)" d="M546.6,1795.7L613.7,1663.2L619.9,1652.2L552.8,1791.5z"/><path fill="url(#bqc)" stroke="url(#bqc)" d="M552.8,1791.5L619.9,1652.2L623,1646.8L555.9,1794.5z"/><path fill="url(#bqd)" stroke="url(#bqd)" d="M555.9,1794.5L623,1646.8L629.2,1657.1L562.1,1800.4z"/><path fill="url(#bqe)" stroke="url(#bqe)" d="M629.2,1657.1L634.5,1644.5L567.4,1805.5z"/><path fill="url(#bqf)" stroke="url(#bqf)" d="M629.2,1657.1L567.4,1805.5L562.1,1800.4z"/><path fill="url(#bqg)" stroke="url(#bqg)" d="M567.4,1805.5L634.5,1644.5L637.7,1654L570.6,1803.6z"/><path fill="url(#bqh)" stroke="url(#bqh)" d="M637.7,1654L641.4,1640.5L574.3,1801.4z"/><path fill="url(#bqi)" stroke="url(#bqi)" d="M637.7,1654L574.3,1801.4L570.6,1803.6z"/><path fill="url(#bqj)" stroke="url(#bqj)" d="M574.3,1801.4L641.4,1640.5L644.8,1650.2L577.7,1799.4z"/><path fill="url(#bqk)" stroke="url(#bqk)" d="M577.7,1799.4L644.8,1650.2L649.1,1662.3L582,1803.5z"/><path fill="url(#bql)" stroke="url(#bql)" d="M649.1,1662.3L660.5,1636.8L593.4,1814.6z"/><path fill="url(#bqm)" stroke="url(#bqm)" d="M649.1,1662.3L593.4,1814.6L582,1803.5z"/><path fill="url(#bqn)" stroke="url(#bqn)" d="M593.4,1814.6L660.5,1636.8L663.6,1644.8L596.5,1817.7z"/><path fill="url(#bqo)" stroke="url(#bqo)" d="M596.5,1817.7L663.6,1644.8L680.3,1687.3z"/><path fill="url(#bqp)" stroke="url(#bqp)" d="M596.5,1817.7L680.3,1687.3L613.2,1811.1z"/><path fill="url(#bqq)" stroke="url(#bqq)" d="M680.3,1687.3L682.3,1683.3L615.2,1810.2z"/><path fill="url(#bqr)" stroke="url(#bqr)" d="M680.3,1687.3L615.2,1810.2L613.2,1811.1z"/><path fill="url(#bqs)" stroke="url(#bqs)" d="M682.3,1683.3L684,1680L616.9,1810.8z"/><path fill="url(#bqt)" stroke="url(#bqt)" d="M682.3,1683.3L616.9,1810.8L615.2,1810.2z"/><path fill="url(#bqu)" stroke="url(#bqu)" d="M616.9,1810.8L684,1680L690.2,1695.6L623.1,1813.1z"/><path fill="url(#bqv)" stroke="url(#bqv)" d="M690.2,1695.6L702.7,1663L635.6,1817.5z"/><path fill="url(#bqw)" stroke="url(#bqw)" d="M690.2,1695.6L635.6,1817.5L623.1,1813.1z"/><path fill="url(#bqx)" stroke="url(#bqx)" d="M635.6,1817.5L702.7,1663L713.4,1691.2L646.3,1821.4z"/><path fill="url(#bqy)" stroke="url(#bqy)" d="M646.3,1821.4L713.4,1691.2L721.8,1713.2L654.7,1830.4z"/><path fill="url(#bqz)" stroke="url(#bqz)" d="M721.8,1713.2L726,1704.9L658.9,1834.9z"/><path fill="url(#br0)" stroke="url(#br0)" d="M721.8,1713.2L658.9,1834.9L654.7,1830.4z"/><path fill="url(#br1)" stroke="url(#br1)" d="M658.9,1834.9L726,1704.9L729.1,1713.2L662,1838.3z"/><path fill="url(#br2)" stroke="url(#br2)" d="M662,1838.3L729.1,1713.2L732.2,1708.1L665.1,1841.6z"/><path fill="url(#br3)" stroke="url(#br3)" d="M665.1,1841.6L732.2,1708.1L738.4,1720.5L671.3,1848.4z"/><path fill="url(#br4)" stroke="url(#br4)" d="M738.4,1720.5L743.6,1707L676.5,1854z"/><path fill="url(#br5)" stroke="url(#br5)" d="M738.4,1720.5L676.5,1854L671.3,1848.4z"/><path fill="url(#br6)" stroke="url(#br6)" d="M676.5,1854L743.6,1707L746.2,1711.8L679.1,1856.8z"/><path fill="url(#br7)" stroke="url(#br7)" d="M679.1,1856.8L746.2,1711.8L749.9,1718.4L682.8,1858.3z"/><path fill="url(#br8)" stroke="url(#br8)" d="M682.8,1858.3L749.9,1718.4L756.1,1705.6L689,1860.8z"/><path fill="url(#br9)" stroke="url(#br9)" d="M689,1860.8L756.1,1705.6L758.6,1711.3L691.5,1861.9z"/><path fill="url(#bra)" stroke="url(#bra)" d="M691.5,1861.9L758.6,1711.3L762.3,1719.5L695.2,1859.5z"/><path fill="url(#brb)" stroke="url(#brb)" d="M762.3,1719.5L765.5,1712.2L698.4,1857.4z"/><path fill="url(#brc)" stroke="url(#brc)" d="M762.3,1719.5L698.4,1857.4L695.2,1859.5z"/><path fill="url(#brd)" stroke="url(#brd)" d="M698.4,1857.4L765.5,1712.2L770,1724.1L702.9,1854.4z"/><path fill="url(#bre)" stroke="url(#bre)" d="M702.9,1854.4L770,1724.1L773.8,1734L706.7,1857.3z"/><path fill="url(#brf)" stroke="url(#brf)" d="M773.8,1734L781,1713.9L713.9,1862.8z"/><path fill="url(#brg)" stroke="url(#brg)" d="M773.8,1734L713.9,1862.8L706.7,1857.3z"/><path fill="url(#brh)" stroke="url(#brh)" d="M713.9,1862.8L781,1713.9L786.2,1725.7L719.1,1866.8z"/><path fill="url(#bri)" stroke="url(#bri)" d="M786.2,1725.7L792,1710.8L724.9,1871.3z"/><path fill="url(#brj)" stroke="url(#brj)" d="M786.2,1725.7L724.9,1871.3L719.1,1866.8z"/><path fill="url(#brk)" stroke="url(#brk)" d="M724.9,1871.3L792,1710.8L799.7,1728.8L732.6,1877.2z"/><path fill="url(#brl)" stroke="url(#brl)" d="M732.6,1877.2L799.7,1728.8L803.9,1724.8L736.8,1880.4z"/><path fill="url(#brm)" stroke="url(#brm)" d="M736.8,1880.4L803.9,1724.8L810.1,1739.2L743,1875.5z"/><path fill="url(#brn)" stroke="url(#brn)" d="M743,1875.5L810.1,1739.2L811.6,1736.1L744.5,1874.2z"/><path fill="url(#bro)" stroke="url(#bro)" d="M744.5,1874.2L811.6,1736.1L818.4,1722.6L751.3,1875.6z"/><path fill="url(#brp)" stroke="url(#brp)" d="M751.3,1875.6L818.4,1722.6L824.1,1737.5L757,1876.7z"/><path fill="url(#brq)" stroke="url(#brq)" d="M757,1876.7L824.1,1737.5L826.8,1744.4L759.7,1879.1z"/><path fill="url(#brr)" stroke="url(#brr)" d="M826.8,1744.4L833,1726.8L765.9,1884.6z"/><path fill="url(#brs)" stroke="url(#brs)" d="M826.8,1744.4L765.9,1884.6L759.7,1879.1z"/><path fill="url(#brt)" stroke="url(#brt)" d="M765.9,1884.6L833,1726.8L848.6,1764.2L781.5,1898.5z"/><path fill="url(#bru)" stroke="url(#bru)" d="M848.6,1764.2L859.4,1730.5L792.3,1908.2z"/><path fill="url(#brv)" stroke="url(#brv)" d="M848.6,1764.2L792.3,1908.2L781.5,1898.5z"/><path fill="url(#brw)" stroke="url(#brw)" d="M859.4,1730.5L863.5,1717.8L796.4,1909.5z"/><path fill="url(#brx)" stroke="url(#brx)" d="M859.4,1730.5L796.4,1909.5L792.3,1908.2z"/><path fill="url(#bry)" stroke="url(#bry)" d="M796.4,1909.5L863.5,1717.8L866.7,1727.3L799.6,1910.6z"/><path fill="url(#brz)" stroke="url(#brz)" d="M799.6,1910.6L866.7,1727.3L869.4,1735.1L802.3,1908.6z"/><path fill="url(#bs0)" stroke="url(#bs0)" d="M802.3,1908.6L869.4,1735.1L873.5,1728.4L806.4,1905.4z"/><path fill="url(#bs1)" stroke="url(#bs1)" d="M806.4,1905.4L873.5,1728.4L881.2,1749.2L814.1,1899.5z"/><path fill="url(#bs2)" stroke="url(#bs2)" d="M814.1,1899.5L881.2,1749.2L900.8,1801.8L833.7,1916.5z"/><path fill="url(#bs3)" stroke="url(#bs3)" d="M900.8,1801.8L913.8,1776.6L846.7,1927.8z"/><path fill="url(#bs4)" stroke="url(#bs4)" d="M900.8,1801.8L846.7,1927.8L833.7,1916.5z"/><path fill="url(#bs5)" stroke="url(#bs5)" d="M846.7,1927.8L913.8,1776.6L916.4,1771.7L849.3,1926.5z"/><path fill="url(#bs6)" stroke="url(#bs6)" d="M849.3,1926.5L916.4,1771.7L918,1774L850.9,1925.7z"/><path fill="url(#bs7)" stroke="url(#bs7)" d="M918,1774L920.1,1768.2L853,1924.6z"/><path fill="url(#bs8)" stroke="url(#bs8)" d="M918,1774L853,1924.6L850.9,1925.7z"/><path fill="url(#bs9)" stroke="url(#bs9)" d="M853,1924.6L920.1,1768.2L926.9,1784.9L859.8,1921.1z"/><path fill="url(#bsa)" stroke="url(#bsa)" d="M859.8,1921.1L926.9,1784.9L929.2,1790.4L862.1,1922.7z"/><path fill="url(#bsb)" stroke="url(#bsb)" d="M929.2,1790.4L940.3,1752L873.2,1930.6z"/><path fill="url(#bsc)" stroke="url(#bsc)" d="M929.2,1790.4L873.2,1930.6L862.1,1922.7z"/><path fill="url(#bsd)" stroke="url(#bsd)" d="M873.2,1930.6L940.3,1752L972.6,1833.8z"/><path fill="url(#bse)" stroke="url(#bse)" d="M873.2,1930.6L972.6,1833.8L905.5,1953.7z"/><path fill="url(#bsf)" stroke="url(#bsf)" d="M905.5,1953.7L972.6,1833.8L975.6,1841.3L908.5,1969.9z"/><path fill="url(#bsg)" stroke="url(#bsg)" d="M908.5,1969.9L975.6,1841.3L979.3,1836.1L912.2,1990z"/><path fill="url(#bsh)" stroke="url(#bsh)" d="M912.2,1990L979.3,1836.1L985.8,1863L918.6,2025.1z"/><path fill="url(#bsi)" stroke="url(#bsi)" d="M285.8,1995L352.9,1693.5L357.5,1693.5L290.4,1977.4z"/><path fill="url(#bsj)" stroke="url(#bsj)" d="M290.4,1977.4L357.5,1693.5L366.2,1693.6L299.1,1990.5z"/><path fill="url(#bsk)" stroke="url(#bsk)" d="M299.1,1990.5L366.2,1693.6L373.1,1693.7L306,1971.2z"/><path fill="url(#bsl)" stroke="url(#bsl)" d="M306,1971.2L373.1,1693.7L384.5,1693.8L317.4,1979.5z"/><path fill="url(#bsm)" stroke="url(#bsm)" d="M317.4,1979.5L384.5,1693.8L417.7,1724.5L350.6,2070.9z"/><path fill="url(#bsn)" stroke="url(#bsn)" d="M350.6,2070.9L417.7,1724.5L424,1723L356.9,2052.2z"/><path fill="url(#bso)" stroke="url(#bso)" d="M356.9,2052.2L424,1723L425.1,1722.7L358,2054.3z"/><path fill="url(#bsp)" stroke="url(#bsp)" d="M358,2054.3L425.1,1722.7L432.3,1720.9L365.2,2024.2z"/><path fill="url(#bsq)" stroke="url(#bsq)" d="M365.2,2024.2L432.3,1720.9L454.1,1740.2L387,2073z"/><path fill="url(#bsr)" stroke="url(#bsr)" d="M454.1,1740.2L465.5,1734.4L398.4,2023.1z"/><path fill="url(#bss)" stroke="url(#bss)" d="M454.1,1740.2L398.4,2023.1L387,2073z"/><path fill="url(#bst)" stroke="url(#bst)" d="M398.4,2023.1L465.5,1734.4L503.4,1766.8L436.3,2110z"/><path fill="url(#bsu)" stroke="url(#bsu)" d="M436.3,2110L503.4,1766.8L509.6,1763.2L442.5,2081.3z"/><path fill="url(#bsv)" stroke="url(#bsv)" d="M442.5,2081.3L509.6,1763.2L527.9,1779.2L460.8,2136.4z"/><path fill="url(#bsw)" stroke="url(#bsw)" d="M460.8,2136.4L527.9,1779.2L532,1782.8L464.9,2120.8z"/><path fill="url(#bsx)" stroke="url(#bsx)" d="M464.9,2120.8L532,1782.8L546.6,1795.7L479.5,2170.6z"/><path fill="url(#bsy)" stroke="url(#bsy)" d="M479.5,2170.6L546.6,1795.7L552.8,1791.5L485.7,2139.5z"/><path fill="url(#bsz)" stroke="url(#bsz)" d="M485.7,2139.5L552.8,1791.5L567.4,1805.5L500.3,2181z"/><path fill="url(#bt0)" stroke="url(#bt0)" d="M567.4,1805.5L577.7,1799.4L510.6,2132.2z"/><path fill="url(#bt1)" stroke="url(#bt1)" d="M567.4,1805.5L510.6,2132.2L500.3,2181z"/><path fill="url(#bt2)" stroke="url(#bt2)" d="M510.6,2132.2L577.7,1799.4L596.5,1817.7L529.4,2186z"/><path fill="url(#bt3)" stroke="url(#bt3)" d="M529.4,2186L596.5,1817.7L604.8,1814.4L537.7,2147.8z"/><path fill="url(#bt4)" stroke="url(#bt4)" d="M537.7,2147.8L604.8,1814.4L607.3,1813.4L540.2,2154z"/><path fill="url(#bt5)" stroke="url(#bt5)" d="M607.3,1813.4L615.2,1810.2L548.1,2116.6z"/><path fill="url(#bt6)" stroke="url(#bt6)" d="M607.3,1813.4L548.1,2116.6L540.2,2154z"/><path fill="url(#bt7)" stroke="url(#bt7)" d="M548.1,2116.6L615.2,1810.2L623.5,1813.2L556.4,2107.3z"/><path fill="url(#bt8)" stroke="url(#bt8)" d="M556.4,2107.3L623.5,1813.2L626.6,1814.3L559.5,2112.5z"/><path fill="url(#bt9)" stroke="url(#bt9)" d="M559.5,2112.5L626.6,1814.3L635.9,1817.6L568.8,2133.2z"/><path fill="url(#bta)" stroke="url(#bta)" d="M568.8,2133.2L635.9,1817.6L640.1,1819.1L573,2124.9z"/><path fill="url(#btb)" stroke="url(#btb)" d="M573,2124.9L640.1,1819.1L641.7,1819.7L574.6,2129.1z"/><path fill="url(#btc)" stroke="url(#btc)" d="M574.6,2129.1L641.7,1819.7L646.3,1821.4L579.2,2116.6z"/><path fill="url(#btd)" stroke="url(#btd)" d="M579.2,2116.6L646.3,1821.4L679.1,1856.8L612,2236.9z"/><path fill="url(#bte)" stroke="url(#bte)" d="M612,2236.9L679.1,1856.8L691.5,1861.9L624.4,2234.8z"/><path fill="url(#btf)" stroke="url(#btf)" d="M691.5,1861.9L702.9,1854.4L635.8,2179.7z"/><path fill="url(#btg)" stroke="url(#btg)" d="M691.5,1861.9L635.8,2179.7L624.4,2234.8z"/><path fill="url(#bth)" stroke="url(#bth)" d="M635.8,2179.7L702.9,1854.4L718.5,1866.4L651.4,2223.4z"/><path fill="url(#bti)" stroke="url(#bti)" d="M651.4,2223.4L718.5,1866.4L731,1876L663.9,2247.3z"/><path fill="url(#btj)" stroke="url(#btj)" d="M663.9,2247.3L731,1876L733.5,1877.9L666.4,2239z"/><path fill="url(#btk)" stroke="url(#btk)" d="M666.4,2239L733.5,1877.9L736.8,1880.4L669.7,2247.3z"/><path fill="url(#btl)" stroke="url(#btl)" d="M736.8,1880.4L744.5,1874.2L677.4,2204.7z"/><path fill="url(#btm)" stroke="url(#btm)" d="M736.8,1880.4L677.4,2204.7L669.7,2247.3z"/><path fill="url(#btn)" stroke="url(#btn)" d="M677.4,2204.7L744.5,1874.2L751.8,1875.7L684.7,2218.8z"/><path fill="url(#bto)" stroke="url(#bto)" d="M684.7,2218.8L751.8,1875.7L757,1876.7L689.9,2195.3z"/><path fill="url(#btp)" stroke="url(#btp)" d="M689.9,2195.3L757,1876.7L768,1886.5L700.9,2217.1z"/><path fill="url(#btq)" stroke="url(#btq)" d="M768,1886.5L769.4,1887.8L702.3,2208.8z"/><path fill="url(#btr)" stroke="url(#btr)" d="M768,1886.5L702.3,2208.8L700.9,2217.1z"/><path fill="url(#bts)" stroke="url(#bts)" d="M702.3,2208.8L769.4,1887.8L792.3,1908.2L725.2,2286.8z"/><path fill="url(#btt)" stroke="url(#btt)" d="M725.2,2286.8L792.3,1908.2L799.6,1910.6L732.5,2285.7z"/><path fill="url(#btu)" stroke="url(#btu)" d="M799.6,1910.6L814.1,1899.5L747,2207.8z"/><path fill="url(#btv)" stroke="url(#btv)" d="M799.6,1910.6L747,2207.8L732.5,2285.7z"/><path fill="url(#btw)" stroke="url(#btw)" d="M747,2207.8L814.1,1899.5L823.5,1907.7L756.4,2227.5z"/><path fill="url(#btx)" stroke="url(#btx)" d="M823.5,1907.7L824.5,1908.6L757.4,2221.3z"/><path fill="url(#bty)" stroke="url(#bty)" d="M823.5,1907.7L757.4,2221.3L756.4,2227.5z"/><path fill="url(#btz)" stroke="url(#btz)" d="M757.4,2221.3L824.5,1908.6L846.7,1927.8L779.6,2287.8z"/><path fill="url(#bu0)" stroke="url(#bu0)" d="M846.7,1927.8L859.8,1921.1L792.7,2223.4z"/><path fill="url(#bu1)" stroke="url(#bu1)" d="M846.7,1927.8L792.7,2223.4L779.6,2287.8z"/><path fill="url(#bu2)" stroke="url(#bu2)" d="M792.7,2223.4L859.8,1921.1L873.7,1931L806.6,2252.5z"/><path fill="url(#bu3)" stroke="url(#bu3)" d="M806.6,2252.5L873.7,1931L880.6,1935.9L813.5,2228.6z"/><path fill="url(#bu4)" stroke="url(#bu4)" d="M813.5,2228.6L880.6,1935.9L892.7,1944.6L825.6,2252.5z"/><path fill="url(#bu5)" stroke="url(#bu5)" d="M892.7,1944.6L901.4,1950.8L834.3,2218.2z"/><path fill="url(#bu6)" stroke="url(#bu6)" d="M892.7,1944.6L834.3,2218.2L825.6,2252.5z"/><path fill="url(#bu7)" stroke="url(#bu7)" d="M834.3,2218.2L901.4,1950.8L905.5,1953.7L838.4,2214z"/><path fill="url(#bu8)" stroke="url(#bu8)" d="M838.4,2214L905.5,1953.7L911.8,1988L844.7,2222.3z"/><path fill="url(#bu9)" stroke="url(#bu9)" d="M844.7,2222.3L911.8,1988L918.6,2025.1L851.5,2222z"/><path fill="url(#bua)" stroke="url(#bua)" d="M218.7,1859L285.8,1995L287.3,1989.3L220.2,1826z"/><path fill="url(#bub)" stroke="url(#bub)" d="M220.2,1826L287.3,1989.3L290.4,1977.4L223.3,1821.2z"/><path fill="url(#buc)" stroke="url(#buc)" d="M223.3,1821.2L290.4,1977.4L299.1,1990.5L232,1836.5z"/><path fill="url(#bud)" stroke="url(#bud)" d="M232,1836.5L299.1,1990.5L306,1971.2L238.9,1848.6z"/><path fill="url(#bue)" stroke="url(#bue)" d="M306,1971.2L310.7,1974.6L243.6,1856.9z"/><path fill="url(#buf)" stroke="url(#buf)" d="M306,1971.2L243.6,1856.9L238.9,1848.6z"/><path fill="url(#bug)" stroke="url(#bug)" d="M243.6,1856.9L310.7,1974.6L313.9,1977L246.8,1853.8z"/><path fill="url(#buh)" stroke="url(#buh)" d="M246.8,1853.8L313.9,1977L317.4,1979.5L250.3,1858.1z"/><path fill="url(#bui)" stroke="url(#bui)" d="M317.4,1979.5L323.2,1995.5L256.1,1865.2z"/><path fill="url(#buj)" stroke="url(#buj)" d="M317.4,1979.5L256.1,1865.2L250.3,1858.1z"/><path fill="url(#buk)" stroke="url(#buk)" d="M323.2,1995.5L329.4,2012.6L262.3,1859z"/><path fill="url(#bul)" stroke="url(#bul)" d="M323.2,1995.5L262.3,1859L256.1,1865.2z"/><path fill="url(#bum)" stroke="url(#bum)" d="M329.4,2012.6L340.9,2044.2L273.8,1873.5z"/><path fill="url(#bun)" stroke="url(#bun)" d="M329.4,2012.6L273.8,1873.5L262.3,1859z"/><path fill="url(#buo)" stroke="url(#buo)" d="M340.9,2044.2L347.1,2061.3L280,1876.6z"/><path fill="url(#bup)" stroke="url(#bup)" d="M340.9,2044.2L280,1876.6L273.8,1873.5z"/><path fill="url(#buq)" stroke="url(#buq)" d="M280,1876.6L347.1,2061.3L350.6,2070.9z"/><path fill="url(#bur)" stroke="url(#bur)" d="M280,1876.6L350.6,2070.9L283.5,1846.2z"/><path fill="url(#bus)" stroke="url(#bus)" d="M283.5,1846.2L350.6,2070.9L354.4,2059.6L287.3,1852.7z"/><path fill="url(#but)" stroke="url(#but)" d="M287.3,1852.7L354.4,2059.6L357.1,2052.6L290,1843.4z"/><path fill="url(#buu)" stroke="url(#buu)" d="M290,1843.4L357.1,2052.6L358,2054.3L290.9,1844.7z"/><path fill="url(#buv)" stroke="url(#buv)" d="M290.9,1844.7L358,2054.3L365.2,2024.2L298.1,1854.9z"/><path fill="url(#buw)" stroke="url(#buw)" d="M365.2,2024.2L385.5,2069.7L318.4,1883.9z"/><path fill="url(#bux)" stroke="url(#bux)" d="M365.2,2024.2L318.4,1883.9L298.1,1854.9z"/><path fill="url(#buy)" stroke="url(#buy)" d="M318.4,1883.9L385.5,2069.7L387,2073L319.9,1880z"/><path fill="url(#buz)" stroke="url(#buz)" d="M319.9,1880L387,2073L391.8,2051.9L324.7,1883.9z"/><path fill="url(#bv0)" stroke="url(#bv0)" d="M324.7,1883.9L391.8,2051.9L398.4,2023.1L331.3,1890.5z"/><path fill="url(#bv1)" stroke="url(#bv1)" d="M398.4,2023.1L404.2,2036.4L337.1,1896.4z"/><path fill="url(#bv2)" stroke="url(#bv2)" d="M398.4,2023.1L337.1,1896.4L331.3,1890.5z"/><path fill="url(#bv3)" stroke="url(#bv3)" d="M404.2,2036.4L410.5,2050.9L343.4,1894.3z"/><path fill="url(#bv4)" stroke="url(#bv4)" d="M404.2,2036.4L343.4,1894.3L337.1,1896.4z"/><path fill="url(#bv5)" stroke="url(#bv5)" d="M343.4,1894.3L410.5,2050.9L416.7,2065.1L349.6,1898.4z"/><path fill="url(#bv6)" stroke="url(#bv6)" d="M349.6,1898.4L416.7,2065.1L419.8,2072.2L352.7,1887z"/><path fill="url(#bv7)" stroke="url(#bv7)" d="M352.7,1887L419.8,2072.2L425,2084.1L357.9,1892.2z"/><path fill="url(#bv8)" stroke="url(#bv8)" d="M357.9,1892.2L425,2084.1L430.8,2097.4L363.7,1873.9z"/><path fill="url(#bv9)" stroke="url(#bv9)" d="M363.7,1873.9L430.8,2097.4L436.3,2110L369.2,1885.6z"/><path fill="url(#bva)" stroke="url(#bva)" d="M369.2,1885.6L436.3,2110L442.5,2081.3L375.4,1898.9z"/><path fill="url(#bvb)" stroke="url(#bvb)" d="M442.5,2081.3L451,2106.9L383.9,1917.1z"/><path fill="url(#bvc)" stroke="url(#bvc)" d="M442.5,2081.3L383.9,1917.1L375.4,1898.9z"/><path fill="url(#bvd)" stroke="url(#bvd)" d="M383.9,1917.1L451,2106.9L457.9,2127.7z"/><path fill="url(#bve)" stroke="url(#bve)" d="M383.9,1917.1L457.9,2127.7L390.8,1889.5z"/><path fill="url(#bvf)" stroke="url(#bvf)" d="M390.8,1889.5L457.9,2127.7L460.8,2136.4L393.7,1895.2z"/><path fill="url(#bvg)" stroke="url(#bvg)" d="M393.7,1895.2L460.8,2136.4L464.9,2120.8L397.8,1903.4z"/><path fill="url(#bvh)" stroke="url(#bvh)" d="M464.9,2120.8L471.8,2144.4L404.7,1917.1z"/><path fill="url(#bvi)" stroke="url(#bvi)" d="M464.9,2120.8L404.7,1917.1L397.8,1903.4z"/><path fill="url(#bvj)" stroke="url(#bvj)" d="M404.7,1917.1L471.8,2144.4L478.6,2167.6z"/><path fill="url(#bvk)" stroke="url(#bvk)" d="M404.7,1917.1L478.6,2167.6L411.5,1886z"/><path fill="url(#bvl)" stroke="url(#bvl)" d="M411.5,1886L478.6,2167.6L479.5,2170.6L412.4,1887.2z"/><path fill="url(#bvm)" stroke="url(#bvm)" d="M412.4,1887.2L479.5,2170.6L483.2,2151.9L416.1,1892.2z"/><path fill="url(#bvn)" stroke="url(#bvn)" d="M416.1,1892.2L483.2,2151.9L485.7,2139.5L418.6,1900.5z"/><path fill="url(#bvo)" stroke="url(#bvo)" d="M418.6,1900.5L485.7,2139.5L495.7,2168L428.6,1933.8z"/><path fill="url(#bvp)" stroke="url(#bvp)" d="M428.6,1933.8L495.7,2168L500.3,2181L433.2,1901.7z"/><path fill="url(#bvq)" stroke="url(#bvq)" d="M433.2,1901.7L500.3,2181L510.6,2132.2L443.5,1917.8z"/><path fill="url(#bvr)" stroke="url(#bvr)" d="M510.6,2132.2L524.8,2172.9L457.7,1940z"/><path fill="url(#bvs)" stroke="url(#bvs)" d="M510.6,2132.2L457.7,1940L443.5,1917.8z"/><path fill="url(#bvt)" stroke="url(#bvt)" d="M457.7,1940L524.8,2172.9L525.8,2175.7L458.7,1921.3z"/><path fill="url(#bvu)" stroke="url(#bvu)" d="M458.7,1921.3L525.8,2175.7L529.4,2186L462.3,1926.1z"/><path fill="url(#bvv)" stroke="url(#bvv)" d="M462.3,1926.1L529.4,2186L537.7,2147.8L470.6,1937.1z"/><path fill="url(#bvw)" stroke="url(#bvw)" d="M470.6,1937.1L537.7,2147.8L540.2,2154L473.1,1940.4z"/><path fill="url(#bvx)" stroke="url(#bvx)" d="M473.1,1940.4L540.2,2154L548.1,2116.6L481,1951z"/><path fill="url(#bvy)" stroke="url(#bvy)" d="M481,1951L548.1,2116.6L553.9,2110.1L486.8,1958.7z"/><path fill="url(#bvz)" stroke="url(#bvz)" d="M486.8,1958.7L553.9,2110.1L556.4,2107.3L489.3,1956.2z"/><path fill="url(#bw0)" stroke="url(#bw0)" d="M489.3,1956.2L556.4,2107.3L558,2110L490.9,1954.5z"/><path fill="url(#bw1)" stroke="url(#bw1)" d="M490.9,1954.5L558,2110L559.5,2112.5L492.4,1956z"/><path fill="url(#bw2)" stroke="url(#bw2)" d="M492.4,1956L559.5,2112.5L566.3,2127.7L499.2,1962.9z"/><path fill="url(#bw3)" stroke="url(#bw3)" d="M499.2,1962.9L566.3,2127.7L569,2132.8L501.9,1950.8z"/><path fill="url(#bw4)" stroke="url(#bw4)" d="M501.9,1950.8L569,2132.8L573,2124.9L505.9,1956.9z"/><path fill="url(#bw5)" stroke="url(#bw5)" d="M573,2124.9L574.6,2129.1L507.5,1959.4z"/><path fill="url(#bw6)" stroke="url(#bw6)" d="M573,2124.9L507.5,1959.4L505.9,1956.9z"/><path fill="url(#bw7)" stroke="url(#bw7)" d="M507.5,1959.4L574.6,2129.1L579.2,2116.6L512.1,1966.5z"/><path fill="url(#bw8)" stroke="url(#bw8)" d="M579.2,2116.6L586.8,2144.5L519.7,1978.2z"/><path fill="url(#bw9)" stroke="url(#bw9)" d="M579.2,2116.6L519.7,1978.2L512.1,1966.5z"/><path fill="url(#bwa)" stroke="url(#bwa)" d="M586.8,2144.5L592,2163.6L524.9,1970.9z"/><path fill="url(#bwb)" stroke="url(#bwb)" d="M586.8,2144.5L524.9,1970.9L519.7,1978.2z"/><path fill="url(#bwc)" stroke="url(#bwc)" d="M592,2163.6L598.3,2186.7L531.2,1979.2z"/><path fill="url(#bwd)" stroke="url(#bwd)" d="M592,2163.6L531.2,1979.2L524.9,1970.9z"/><path fill="url(#bwe)" stroke="url(#bwe)" d="M531.2,1979.2L598.3,2186.7L602.8,2203.2z"/><path fill="url(#bwf)" stroke="url(#bwf)" d="M531.2,1979.2L602.8,2203.2L535.7,1966.8z"/><path fill="url(#bwg)" stroke="url(#bwg)" d="M602.8,2203.2L608.7,2224.9L541.6,1976.1z"/><path fill="url(#bwh)" stroke="url(#bwh)" d="M602.8,2203.2L541.6,1976.1L535.7,1966.8z"/><path fill="url(#bwi)" stroke="url(#bwi)" d="M541.6,1976.1L608.7,2224.9L612,2236.9L544.9,1970.2z"/><path fill="url(#bwj)" stroke="url(#bwj)" d="M544.9,1970.2L612,2236.9L615.3,2236.3L548.2,1975.1z"/><path fill="url(#bwk)" stroke="url(#bwk)" d="M548.2,1975.1L615.3,2236.3L618.4,2235.8L551.3,1941.4z"/><path fill="url(#bwl)" stroke="url(#bwl)" d="M551.3,1941.4L618.4,2235.8L624.4,2234.8L557.3,1956z"/><path fill="url(#bwm)" stroke="url(#bwm)" d="M557.3,1956L624.4,2234.8L635.8,2179.7z"/><path fill="url(#bwn)" stroke="url(#bwn)" d="M557.3,1956L635.8,2179.7L568.7,1983.9z"/><path fill="url(#bwo)" stroke="url(#bwo)" d="M568.7,1983.9L635.8,2179.7L637.7,2185.1L570.6,1988.6z"/><path fill="url(#bwp)" stroke="url(#bwp)" d="M570.6,1988.6L637.7,2185.1L640.9,2194L573.8,1988.6z"/><path fill="url(#bwq)" stroke="url(#bwq)" d="M573.8,1988.6L640.9,2194L642.9,2199.6L575.8,1968.8z"/><path fill="url(#bwr)" stroke="url(#bwr)" d="M575.8,1968.8L642.9,2199.6L650.2,2220.1L583.1,1980.3z"/><path fill="url(#bws)" stroke="url(#bws)" d="M583.1,1980.3L650.2,2220.1L651.4,2223.4L584.3,1975.2z"/><path fill="url(#bwt)" stroke="url(#bwt)" d="M584.3,1975.2L651.4,2223.4L662.7,2245L595.6,1986.5z"/><path fill="url(#bwu)" stroke="url(#bwu)" d="M595.6,1986.5L662.7,2245L663.9,2247.3L596.8,1967z"/><path fill="url(#bwv)" stroke="url(#bwv)" d="M596.8,1967L663.9,2247.3L666.4,2239L599.3,1971z"/><path fill="url(#bww)" stroke="url(#bww)" d="M599.3,1971L666.4,2239L669.7,2247.3L602.6,1976.2z"/><path fill="url(#bwx)" stroke="url(#bwx)" d="M602.6,1976.2L669.7,2247.3L677.4,2204.7L610.3,1988.4z"/><path fill="url(#bwy)" stroke="url(#bwy)" d="M610.3,1988.4L677.4,2204.7L684.7,2218.8L617.6,1999.9z"/><path fill="url(#bwz)" stroke="url(#bwz)" d="M617.6,1999.9L684.7,2218.8L689.9,2195.3L622.8,2008.2z"/><path fill="url(#bx0)" stroke="url(#bx0)" d="M622.8,2008.2L689.9,2195.3L696.5,2208.4L629.4,2009.8z"/><path fill="url(#bx1)" stroke="url(#bx1)" d="M629.4,2009.8L696.5,2208.4L700.9,2217.1L633.8,2016.1z"/><path fill="url(#bx2)" stroke="url(#bx2)" d="M633.8,2016.1L700.9,2217.1L702.3,2208.8L635.2,2018.2z"/><path fill="url(#bx3)" stroke="url(#bx3)" d="M702.3,2208.8L717.7,2261.3L650.6,2040.5z"/><path fill="url(#bx4)" stroke="url(#bx4)" d="M702.3,2208.8L650.6,2040.5L635.2,2018.2z"/><path fill="url(#bx5)" stroke="url(#bx5)" d="M650.6,2040.5L717.7,2261.3L718.8,2265.1z"/><path fill="url(#bx6)" stroke="url(#bx6)" d="M650.6,2040.5L718.8,2265.1L651.7,2028.1z"/><path fill="url(#bx7)" stroke="url(#bx7)" d="M651.7,2028.1L718.8,2265.1L721.9,2275.6L654.8,2026z"/><path fill="url(#bx8)" stroke="url(#bx8)" d="M654.8,2026L721.9,2275.6L725.2,2286.8L658.1,2024.9z"/><path fill="url(#bx9)" stroke="url(#bx9)" d="M658.1,2024.9L725.2,2286.8L727.1,2286.5L660,2023.9z"/><path fill="url(#bxa)" stroke="url(#bxa)" d="M660,2023.9L727.1,2286.5L728.8,2286.3L661.7,1968.8z"/><path fill="url(#bxb)" stroke="url(#bxb)" d="M661.7,1968.8L728.8,2286.3L732.5,2285.7L665.4,1976.3z"/><path fill="url(#bxc)" stroke="url(#bxc)" d="M665.4,1976.3L732.5,2285.7L747,2207.8z"/><path fill="url(#bxd)" stroke="url(#bxd)" d="M665.4,1976.3L747,2207.8L679.9,2005.7z"/><path fill="url(#bxe)" stroke="url(#bxe)" d="M679.9,2005.7L747,2207.8L756.4,2227.5L689.3,2024.8z"/><path fill="url(#bxf)" stroke="url(#bxf)" d="M689.3,2024.8L756.4,2227.5L757.4,2221.3L690.3,2026.8z"/><path fill="url(#bxg)" stroke="url(#bxg)" d="M757.4,2221.3L773.9,2270.8L706.8,2060.3z"/><path fill="url(#bxh)" stroke="url(#bxh)" d="M757.4,2221.3L706.8,2060.3L690.3,2026.8z"/><path fill="url(#bxi)" stroke="url(#bxi)" d="M706.8,2060.3L773.9,2270.8L777.4,2281.3L710.3,2044.7z"/><path fill="url(#bxj)" stroke="url(#bxj)" d="M710.3,2044.7L777.4,2281.3L779.6,2287.8L712.5,2048.1z"/><path fill="url(#bxk)" stroke="url(#bxk)" d="M712.5,2048.1L779.6,2287.8L785.3,2259.7L718.2,2057.1z"/><path fill="url(#bxl)" stroke="url(#bxl)" d="M718.2,2057.1L785.3,2259.7L788.4,2244.4L721.3,2053z"/><path fill="url(#bxm)" stroke="url(#bxm)" d="M721.3,2053L788.4,2244.4L792.7,2223.4L725.6,2059.4z"/><path fill="url(#bxn)" stroke="url(#bxn)" d="M725.6,2059.4L792.7,2223.4L805,2249.2L737.9,2077.9z"/><path fill="url(#bxo)" stroke="url(#bxo)" d="M737.9,2077.9L805,2249.2L806.6,2252.5L739.5,2051.7z"/><path fill="url(#bxp)" stroke="url(#bxp)" d="M739.5,2051.7L806.6,2252.5L813.5,2228.6L746.4,2063.4z"/><path fill="url(#bxq)" stroke="url(#bxq)" d="M746.4,2063.4L813.5,2228.6L825.8,2251.6L758.7,2084.2z"/><path fill="url(#bxr)" stroke="url(#bxr)" d="M758.7,2084.2L825.8,2251.6L826.8,2247.7L759.7,2078.3z"/><path fill="url(#bxs)" stroke="url(#bxs)" d="M759.7,2078.3L826.8,2247.7L834.3,2218.2L767.2,2088.7z"/><path fill="url(#bxt)" stroke="url(#bxt)" d="M767.2,2088.7L834.3,2218.2L838.4,2214L771.3,2094.4z"/><path fill="url(#bxu)" stroke="url(#bxu)" d="M771.3,2094.4L838.4,2214L845.1,2222.4L778,2097.7z"/><path fill="url(#bxv)" stroke="url(#bxv)" d="M778,2097.7L845.1,2222.4L851.5,2222L784.4,2107z"/></g>
<path d="M218.7,2100L218.7,1532.5M784.4,2360.1L218.7,2100M784.4,2360.1L1522.7,2161.6M218.7,2100L200.5,2091.6M218.7,2005.4L200.5,1997.1M218.7,1910.8L200.5,1902.5M218.7,1816.2L200.5,1807.9M218.7,1721.7L200.5,1713.3M218.7,1627.1L200.5,1618.7M218.7,1532.5L200.5,1524.1M670.4,2307.7L651.1,2312.9M556.4,2255.3L537.1,2260.5M442.4,2202.8L423.1,2208M328.4,2150.4L309.1,2155.6M851.5,2342.1L869.7,2350.4M985.8,2306L1003.9,2314.3M1120,2269.9L1138.2,2278.2M1254.2,2233.8L1272.4,2242.1M1388.5,2197.7L1406.6,2206M1522.7,2161.6L1540.9,2170" stroke="#1c1c1c" stroke-width="2.2" fill="none" stroke-linecap="butt"/>
<g font-family="'Liberation Sans',Arial,sans-serif" font-size="39.6" fill="#262626">
<text x="183.5" y="2100.6" text-anchor="end">-60</text>
<text x="183.5" y="2006.1" text-anchor="end">-40</text>
<text x="183.5" y="1911.5" text-anchor="end">-20</text>
<text x="183.5" y="1816.9" text-anchor="end">0</text>
<text x="183.5" y="1722.3" text-anchor="end">20</text>
<text x="183.5" y="1627.7" text-anchor="end">40</text>
<text x="183.5" y="1533.1" text-anchor="end">60</text>
<text x="634.4" y="2358.4" text-anchor="end">500</text>
<text x="520.4" y="2306" text-anchor="end">1000</text>
<text x="406.4" y="2253.5" text-anchor="end">1500</text>
<text x="292.4" y="2201.1" text-anchor="end">2000</text>
<text x="882.9" y="2397.7" text-anchor="start">2</text>
<text x="1017.1" y="2361.6" text-anchor="start">4</text>
<text x="1151.4" y="2325.5" text-anchor="start">6</text>
<text x="1285.6" y="2289.4" text-anchor="start">8</text>
<text x="1419.8" y="2253.3" text-anchor="start">10</text>
<text x="1554.1" y="2217.3" text-anchor="start">12</text>
</g>
<g font-family="'Liberation Serif','Times New Roman',serif" font-size="43.9" fill="#262626">
<text x="869.5" y="1317" text-anchor="middle" fill="#000" font-size="43.9">Acoustic Signals of Stress Behavior</text>
<text x="349" y="2405" text-anchor="middle">Frame Number</text>
<text x="1249" y="2420" text-anchor="middle">Feature Dimension</text>
<text transform="translate(101.5,1816.7) rotate(-90)" text-anchor="middle">MFCC</text>
</g>
<circle cx="-1" cy="2500.5" r="13" fill="#ffffd8"/><circle cx="-1" cy="2500.5" r="9" fill="#8b8b90"/>
</svg></body></html>
